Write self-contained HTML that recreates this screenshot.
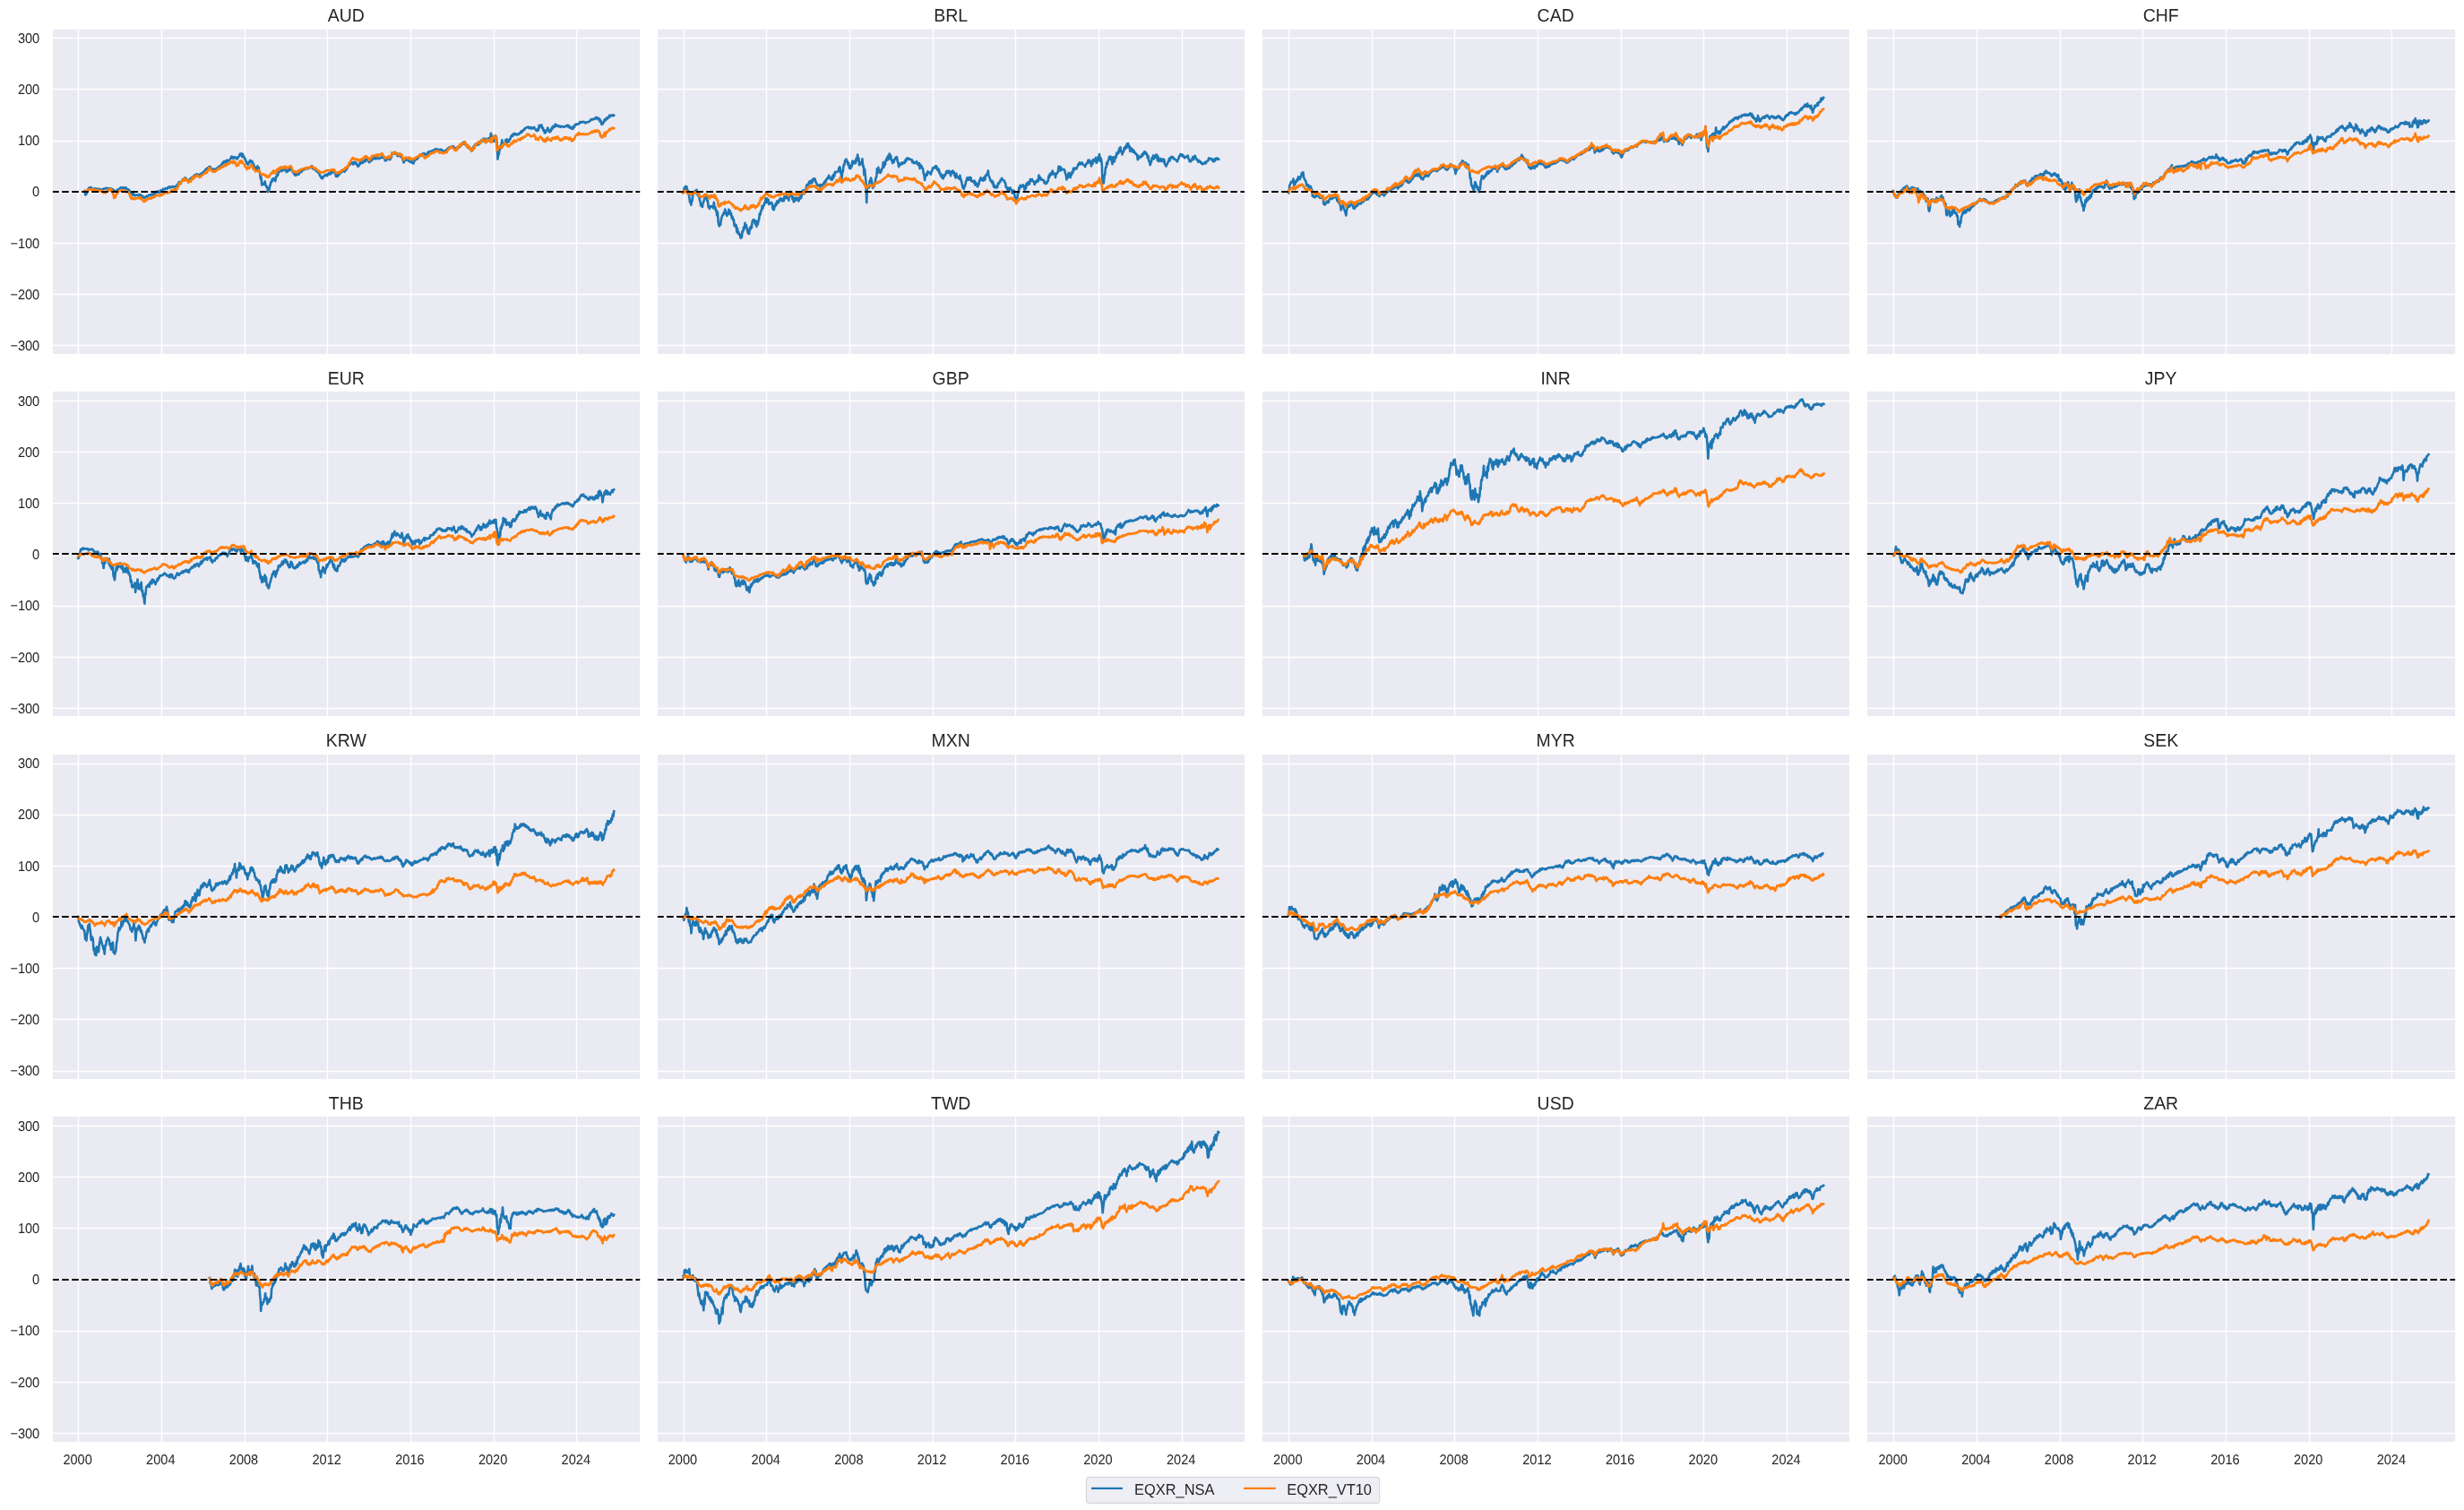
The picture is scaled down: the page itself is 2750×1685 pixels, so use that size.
<!DOCTYPE html><html><head><meta charset="utf-8"><title>chart</title><style>html,body{margin:0;padding:0;background:#fff}body{width:2750px;height:1685px;overflow:hidden}svg{display:block;will-change:transform}text{font-family:"Liberation Sans",sans-serif;fill:#262626;text-rendering:geometricPrecision}.g{stroke:#fff;stroke-width:1.39;fill:none}.z{stroke:#000;stroke-width:2.08;stroke-dasharray:7.71 3.33;stroke-dashoffset:0.9;fill:none}.b{stroke:#1f77b4;stroke-width:2.6;fill:none;stroke-linejoin:round;stroke-linecap:square}.o{stroke:#ff7f0e;stroke-width:2.6;fill:none;stroke-linejoin:round;stroke-linecap:square}.t{font-size:20.20px;text-anchor:middle}.x{font-size:15.60px;text-anchor:middle}.y{font-size:15.60px;text-anchor:end}.l{font-size:17.30px}</style></head><body>
<svg width="2750" height="1685" viewBox="0 0 2750 1685">
<rect width="2750" height="1685" fill="#fff"/>
<g>
<rect x="58.93" y="32.90" width="655.32" height="362.15" fill="#eaeaf2"/>
<path class="g" d="M87.50 32.90V395.05M180.50 32.90V395.05M273.50 32.90V395.05M365.50 32.90V395.05M458.50 32.90V395.05M551.50 32.90V395.05M643.50 32.90V395.05M58.93 42.50H714.25M58.93 99.50H714.25M58.93 157.50H714.25M58.93 214.50H714.25M58.93 271.50H714.25M58.93 328.50H714.25M58.93 385.50H714.25"/>
<clipPath id="c0"><rect x="58.93" y="32.90" width="655.32" height="362.15"/></clipPath>
<g clip-path="url(#c0)">
<path class="b" d="M94.6 213.1 l.7 4.4 .7-.6 .7-1 .8-2.8 .8-1 .7-2.3 .7 .7 .7-1.4 .7 1.4 .7-1.3 .7 1.4 .7-.1 .6 .2 .7 0 .7-.1 .7-.4 .7 .4 .7 0 .7 .3 .7-.2 .7 .5 .7-.5 .6 .4 .7 0 .7 .5 .7-.2 .7 0 .7 0 .7 0 .7-.8 .7 .1 .7-.4 .6 .2 .7-.7 .7 .5 .7-.3 .7 .4 .7-.3 .7 .4 .7-.2 .7 .6 .7-.7 .7 .6 .6 0 .7 1.2 .7-.2 .7 1.2 .7-.1 .7 .5 .7-.3 .7 0 .7-1.2 .6 .4 .7-1 .7-.2 .7-.8 .7-.4 .7-.8 .7 1.3 .7-.9 .7 .5 .7-.8 .6 1.1 .7-.6 .7 .2 .7-.7 .7 1.5 .7 .1 .7 .5 .7-.1 .7 1 .7 .6 .6 1.5 .7 .2 .7 1.4 .7-.5 .7 2.3 .7-2.2 .7 2.1 .7-.3 .7 1.2 .6-1 .7 .1 .7-.1 .7 .5 .7-.6 .7 1 .7-1.4 .7 1.5 .7-1.2 .6 1.3 .7-.2 .6 1.4 .6-.7 .7 1.4 .6 .1 .8 .1 .8-1.2 .7 0 .8-.8 .7 .8 .6-.7 .7-.4 .7-1.1 .7 .7 .7-.7 .7 .3 .7-1.1 .7 1.2 .7-1.2 .7 0 .6-.7 .7 1.4 .7-2.4 .7 .4 .7-1.4 .7 .3 .7-.7 .7 1.5 .7-.2 .7 .1 .7-2.4 .6 .7 .7-.8 .7 0 .7-1.5 .7 .6 .7-.4 .7 .1 .7-.9 .7 .3 .6-.3 .7 .4 .7-1.5 .7 .4 .7-1.2 .7 1.1 .7-1 .7 .8 .7-.7 .7 .2 .6-.7 .7 .6 .7 .2 .7 .7 .7-1.6 .7 .3 .7-.9 .7 0 .7-2 .6 .1 .7-2.2 .7 1.2 .7-.9 .7 1.5 .7-2.8 .7-.5 .7-1.7 .7 1.3 .7-2.1 .7 1.3 .6-2.2 .7 1 .7 0 .7 1.2 .7 .2 .7 1.2 .7-.4 .7 .1 .7-1.9 .7 .5 .7-2 .6 .9 .7-1.2 .7-.2 .7-1.5 .7 .4 .7-1.5 .7 1.5 .7-2.1 .7 .7 .6-.9 .7 1.5 .7-.4 .7 1.4 .7-2.3 .7 .3 .7-1.3 .7-.2 .7-.5 .6-.4 .7-.9 .7 .2 .8-1.8 .7-.6 .8-1 .7 1 .7-2 .8 .3 .7-1.6 .8 1 .7-1 .8 2.4 .8 .2 .7 .6 .7-.5 .7 1.6 .7-1.7 .7 1.7 .7-1.3 .6 0 .7-1.3 .7 0 .7-.9 .7 .1 .7-1.4 .7 1.4 .7-1.4 .7-1.2 .6-1.3 .7 .3 .7-2.1 .7 .7 .7-1.7 .7 .6 .7-.9 .7 1.4 .7-2.5 .7 1.4 .7-1.4 .6 1.2 .7-.7 .7-.5 .7-1.6 .7-.9 .7-1.8 .7 1.8 .7-.6 .7 .9 .6-1.5 .7 .9 .7-.6 .7 1.1 .7-.5 .7 1.6 .7-2 .7 .1 .7-1.5 .7-.8 .6-1.9 .7 1.4 .7-1.5 .7 3.5 .7-3.1 .7 2.4 .7 0 .7 2.9 .7 0 .7 2.7 .6 .6 .7 2.5 .7-1.1 .7 1.9 .7-2.9 .7 .5 .7-2.4 .7 2.3 .7-.9 .7-.6 .6 .9 .7 2.4 .7 .6 .7 4.6 .7-1.8 .7 1.7 .7-.3 .7 1.8 .7-4.2 .7 5 .7-3.3 .6 4.8 .7 .6 .7 6.9 .7-1.9 .7 8.9 .7-1.6 .7 1 .7 .2 .7-1.3 .7-2.3 .6 4.1 .7 .6 .7 2.1 .7-.4 .7 5.3 .7-1.9 .7-.3 .7-4.5 .6-1.3 .7-3.2 .7 0 .7-3.2 .7 1.7 .7-2.3 .7 1.2 .7 .3 .7 1.5 .7-5.1 .7 .1 .7-2.9 .6 1.3 .7-4.7 .7 1.2 .7-2.5 .7 0 .7 .4 .7 1.2 .7-.8 .7-.6 .6-.7 .7 1 .7-1.5 .7 .9 .7 .5 .7 2.2 .7-1.1 .7 .1 .7-2.4 .7 1.6 .6-3 .7 .1 .7-.9 .7 3.6 .7-.4 .7 2.2 .7 .4 .7 1.7 .7-1.4 .6 3.1 .7-1.4 .7 1.2 .7-.9 .7 0 .7-.5 .7 .4 .7-2.3 .7-.3 .7-.5 .7 .6 .6-2.4 .7 .5 .7-1.4 .7 .8 .7-1.5 .7 .8 .7-1.3 .7 .7 .7-.3 .7 .4 .6-.3 .7 0 .7-.8 .7-.2 .7-.3 .7-.1 .7-1.4 .7 3.1 .7-1.3 .7 1.6 .6-.7 .7 1.6 .7 0 .7 1.4 .7 0 .7 .9 .7-.2 .7 1.6 .7 .7 .6 2.3 .7 .2 .7 2.1 .7-1.3 .7 2.1 .7-1.5 .7-.3 .7-1.4 .7-.8 .7 .3 .7 .3 .6-1.5 .7 1.8 .7-2.2 .7 .2 .7-1.2 .7 1.6 .7-2.2 .7 1.4 .7-2.1 .7 .3 .6 .1 .7-.1 .7-.7 .7 1.8 .7 .7 .7 3.1 .7-2.4 .7 2.4 .7-.9 .7 0 .6-2 .7 .3 .7-1.5 .7-.1 .7-1.8 .7 .8 .7-1.1 .7 .2 .7-1.8 .6 2.8 .7-3.1 .7 1.3 .7-2 .7 .3 .7-3.2 .7 .1 .7-1.4 .7 .3 .7-1.3 .7-.1 .6-.8 .7 .1 .7-.6 .7 2.1 .7-2.5 .7 1.7 .6-1.8 .7 1.3 .7-.4 .6 2 .7 .8 .6 1.3 .7-1.6 .6 .3 .7-2.4 .7 .7 .7-2 .7-.2 .6-.5 .7 1.7 .7-1.9 .7 .4 .7-1.5 .8 1.2 .7-3.1 .8 .4 .7-.6 .6 2.5 .6 .1 .6 1.8 .7-1.4 .7 .5 .7-.9 .7-.3 .7-1.5 .7 .2 .7-1.3 .7-.2 .7-.6 .6 1.5 .7-1.1 .7 1 .7-2.1 .7 1.3 .7 .5 .7 .5 .7-.7 .7-.2 .6-.3 .7-.5 .7-.6 .7 .9 .7-.3 .7 .9 .7 .1 .7 2.7 .7-.7 .7 .4 .7-2.3 .6 .2 .7-.1 .7 .6 .7-1.2 .7 2 .7-2.1 .7-.5 .7-4.9 .7 1.3 .7-.8 .7-.5 .6-.9 .7 1.9 .7-.6 .7 .9 .7-.8 .7 3 .7-2 .7 1.4 .6-2 .7 2.8 .7-.2 .7 1.1 .7-1.5 .7 3.3 .7 2.1 .7 2.2 .7-3.8 .7 1.5 .6-1.1 .7 .8 .7-1.5 .7 1.2 .7-.2 .7 1.5 .7-.1 .6 .8 .7-.3 .6 .7 .7-1.2 .6 2 .7-.9 .7 1.7 .8-2.5 .7-.9 .8-1.1 .7 0 .7-.4 .7-.3 .7-1.5 .6-.3 .7-1 .7-.3 .7-1.2 .7 .8 .7-1.6 .7 .6 .7-1.4 .7 1.2 .6-1.6 .7 1.6 .7-.4 .7 .6 .7-1 .7 0 .7-1.7 .7 .7 .7-1.8 .7 .7 .7-.7 .6 .2 .7-.9 .7 .8 .7-1.2 .7 0 .7-.5 .7 0 .7-1 .7 .7 .6-.9 .7 .3 .7 .2 .7 .8 .7-.6 .7 .6 .7-.7 .7 .4 .7-.3 .7 .9 .7 .3 .6 .5 .7 .2 .7 .2 .7-.8 .7-.3 .7-.8 .7 .1 .7-1.4 .7 .2 .7-1.4 .6 .3 .7-.7 .7 .9 .7-1 .7-.1 .7-1 .7 1.2 .7-.4 .7 2.6 .6-1.2 .7 1.1 .7-.8 .7 .2 .7-1.2 .7 1 .7-1.9 .7 .4 .7-1.3 .7 .5 .7-2.3 .6 .1 .7-1.5 .7 1.1 .7-2.1 .7 2.5 .7-2 .7 2.4 .7-.4 .7 2.1 .6 .3 .7 1.6 .7-1.5 .7 1.9 .7 .2 .7 1.4 .7 .6 .7 1.1 .7-3.5 .7 .2 .7-1.9 .6 1.8 .7-3.6 .7 .7 .7-2.1 .7 1.6 .7-1.1 .7 .9 .7-1 .7 .1 .6-2 .7 .6 .7-2.6 .7 1 .7-2 .7 1.5 .7-2.8 .7 2.7 .7-1.4 .7 3.1 .6-4.1 .7 2.2 .7-.9 .7 .1 .7-1.8 .7 2.9 .7-3.6 .7 .8 .7-5.8 .7 2.5 .6 .9 .7 2.6 .7-2.3 .7 5.6 .7-6.3 .7-.4 .7 .4 .7 2.2 .7 8.9 .7 14.8 .7-5.6 .6 .4 .7-6.3 .7 .2 .7-3.7 .7-1.7 .7-4.7 .7 5.3 .7-1.1 .7 1.3 .6-2 .7 0 .7-3.7 .7 4.1 .7-4.5 .7 3.1 .7-1 .7 .4 .7-2.9 .7 .4 .7-2.4 .6-1.4 .7-1 .7 1.1 .7-2.3 .7 .3 .7-1 .7 1.6 .7-1.2 .6 .7 .7 .1 .7 .3 .7-1 .7 .4 .7-.8 .7-.3 .7-1.5 .7 .8 .7-2 .7 .9 .6-1.6 .7 .2 .7-1.6 .7 .2 .7-1.4 .7 0 .7-.7 .7 .2 .7-.5 .7 1.3 .6-1.2 .7 1.3 .7-.9 .7 1 .7-.9 .7 1.3 .7-.9 .7-.3 .7-.6 .6 1.8 .7 .6 .7 1.2 .7 .3 .7 .4 .7-2.6 .7 1.7 .7-5.3 .7 1.2 .7-1 .6 1.2 .7-1.9 .7 3.5 .7-.5 .7 3.2 .7-.4 .7 3.3 .7-2.7 .7 1.9 .7-1.8 .6-.6 .7-2.8 .7 2.6 .7 0 .7 2.3 .7-1.5 .7 .4 .7-3.2 .7 1 .7-3.2 .6 1.5 .7-.8 .7 .1 .7-2.9 .7 2 .7-1.6 .7 .8 .7 .5 .7 .7 .7-.7 .7 .8 .6-.4 .7 .9 .7-.7 .7 .1 .7-.3 .7 .6 .7-.3 .7 .6 .7-.6 .6-.2 .7-.8 .7 .5 .7-1 .7 1.7 .7-1.3 .7 2.3 .7-.7 .7 1.3 .7-1.1 .7 2 .6-.3 .7 .1 .7-3 .7 1.2 .7-2.5 .7-.1 .7-.9 .7 .8 .7-.4 .6-.2 .7-.5 .7-.1 .7-2 .7 .6 .7-.3 .7 .1 .7-.6 .7 .6 .7-.5 .6 .4 .7 0 .7 1.1 .7-.9 .7 .1 .7-.4 .7 .1 .7-.4 .7-.2 .7-.9 .6-.2 .7-1.4 .7 .5 .7-.7 .7 .4 .7-.6 .7-.4 .7-.1 .7 .5 .6-1.9 .7 .2 .7 .2 .7 1.3 .7-.8 .7 2.3 .7-1.2 .7 3.2 .7-1.2 .7 4 .7-.2 .6-.3 .7-2 .7-.4 .7-2.8 .7 1.4 .7-2.1 .7 .6 .7-2 .7 1.1 .7-.9 .6-.2 .7-2.5 .7 1.3 .7-1.1 .7 .3 .7-.5 .7 .5 .7-.9 .7 .5"/>
<path class="o" d="M94.6 213.3 l.7 .3 .8-1 .7 .4 .7-.5 .8-.3 .7-.6 .7-.1 .7-.4 .7 .3 .7-.4 .7 0 .7 .2 .6 .8 .7-.4 .7 .2 .7-.4 .7 .6 .7 0 .7 .6 .7-.4 .7 1.3 .7-.8 .6 .8 .7-1.1 .7 .9 .7-.6 .7 .9 .7-.8 .7 1.7 .7 .6 .7-.6 .7-.5 .6 1.4 .7-1.6 .7-.9 .7-.6 .7 .2 .7-1.2 .7 1.1 .7-.6 .7 1 .7-2.1 .7 2.4 .6-.4 .7 3.2 .7 1.1 .7 3.9 .7-3 .7 2.6 .7-3 .7-.7 .7-1.6 .6-.1 .7-.8 .7-1 .7-.7 .7 .2 .7-.1 .7 .7 .7-.5 .7 .4 .7-.7 .6 .9 .7-1.1 .7 1.5 .7-.3 .7 .7 .7-.3 .7 .3 .7-.1 .7 1.4 .7 1.1 .6 2.2 .7 1.5 .7 1.5 .7-1.4 .7 1.6 .7-.8 .7 .9 .7-.7 .7 .7 .6-.7 .7-.1 .7 0 .7-.8 .7 .2 .7 .5 .7-1.2 .7 1.3 .7-1.3 .6 2.3 .7-.4 .6 .7 .6 0 .7 2.2 .6 .2 .8-.3 .8-1.9 .7 .9 .8-1.5 .7 .2 .6-.8 .7 .3 .7-.9 .7 .7 .7-.6 .7 .4 .7-1.4 .7 .7 .7-.3 .7 0 .6-1.4 .7 .5 .7-1.4 .7 .3 .7-.7 .7 .1 .7-.2 .7 .6 .7 .1 .7 0 .7-1.2 .6 .8 .7-1.3 .7 .3 .7-.9 .7 .5 .7-1.4 .7 .1 .7-1.2 .7 .5 .6-.6 .7 1.6 .7-.7 .7 .1 .7-.4 .7 .2 .7-1.4 .7 .2 .7-1.6 .7 1.1 .6-1.2 .7 1.5 .7-1.6 .7 .4 .7-1.7 .7 1.8 .7-1.1 .7-.4 .7-2.3 .6-.1 .7-3.6 .7 .8 .7-2.2 .7 .8 .7-1.5 .7-1.1 .7-1.3 .7 1.1 .7-2.2 .7 2.2 .6-1.9 .7 .6 .7-.3 .7 1.6 .7-.2 .7 2.4 .7-.6 .7-.3 .7-1.5 .7 1.4 .7-1.8 .6-.8 .7-2.4 .7 2.3 .7-1.6 .7-.2 .7-1.9 .7 .9 .7-.9 .7 .1 .6-.7 .7 .7 .7 .3 .7 1.3 .7-1 .7 .7 .7-1.7 .7-.2 .7-.9 .6-.2 .7-.4 .7-.5 .8-1 .7 .6 .8-2.1 .7 1.3 .7-2.6 .8 .2 .7-3 .8 1 .7-.4 .8 2.5 .8-.2 .7 1.4 .7-.7 .7 .8 .7-.8 .7 1.2 .7-1.6 .6-.1 .7-.4 .7 .2 .7-1.7 .7 .3 .7-.8 .7 .6 .7-1.3 .7 0 .6-1.3 .7 .9 .7-1.2 .7 .4 .7-1.1 .7-.8 .7-.8 .7 1.8 .7-1.6 .7-.5 .7-.3 .6 .5 .7-1 .7-.1 .7-2.2 .7 1.2 .7-.3 .7 .8 .7-1.6 .7 2.2 .6-2.7 .7 2.8 .7-1.7 .7 1.4 .7 3.2 .7-.4 .7-.8 .7 .5 .7-3.3 .7 .7 .6-2.7 .7 2.3 .7-2.2 .7 2 .7-.6 .7 2 .7 .1 .7 .8 .7 2.5 .7 .8 .6 0 .7 2.1 .7-2.2 .7 .8 .7-.5 .7 .6 .7-1.8 .7-.1 .7-1.9 .7 1.7 .6-.6 .7 3.7 .7-1.1 .7 1.4 .7 1.3 .7 1.2 .7-.9 .7 0 .7 .3 .7 .1 .7-1.2 .6 1.4 .7 .6 .7 1.6 .7 .5 .7 1.4 .7-.4 .7-.1 .7-.6 .7 1.1 .6-.3 .7 1.5 .7-1 .7 2 .7-1.1 .7 1.3 .7 .1 .7-.6 .7-2.1 .6-.4 .7-1.3 .7 .1 .7-1.3 .7 .9 .7-2.8 .7 2 .7 .3 .7 .7 .7-2.8 .7 1.6 .7-3.3 .6 .6 .7-1.2 .7 1.5 .7-2.5 .7 .5 .7-1.4 .7 1.1 .7-.9 .7 .9 .6-.5 .7 .8 .7-2 .7 .5 .7-.3 .7 1.3 .7-.1 .7 .5 .7-1.2 .7-.2 .6-.2 .7-.5 .7-.4 .7 1.5 .7 1.9 .7 2 .7 .6 .7 1 .7-.8 .6 .2 .7 0 .7 .9 .7-.5 .7 0 .7-1.7 .7 1.2 .7-.9 .7-.6 .7-1.2 .7 .2 .6-.1 .7 0 .7-.2 .7-.2 .7-.4 .7 .3 .7-.7 .7 .2 .7-1 .7 1.1 .6-.6 .7-.1 .7-.8 .7 .2 .7-.5 .7 .8 .7-.9 .7 .5 .7-.2 .7 1 .6-.3 .7 .9 .7-.4 .7 1.8 .7-.1 .7 .6 .7 .2 .7 1.2 .7-.4 .6 1.1 .7-.1 .7 .9 .7-.5 .7 .3 .7-.1 .7-.2 .7-1 .7 .2 .7-.8 .7-.1 .6-.3 .7 0 .7-.2 .7 .4 .7-.1 .7 .2 .7-.9 .7 .4 .7-.8 .7 .8 .6-.7 .7 .9 .7-1 .7 1.9 .7 .8 .7 1.3 .7-.5 .7 .4 .7-1.1 .7 1.2 .6-1.3 .7 .5 .7-1.2 .7 .4 .7-1.4 .7 0 .7-1.1 .7 .4 .7-.8 .6 .4 .7-2.1 .7 .6 .7-.9 .7 0 .7-1.5 .7 .5 .7-3.8 .7 0 .7-1.6 .7-.4 .6-2 .7-.1 .7-1.8 .7 1.6 .7-.9 .7 .8 .6 .2 .7 .5 .7-1 .6 1.1 .7 .1 .6 .7 .7-1.1 .6 1.7 .7-1 .7 0 .7-1.1 .7 .5 .6-.8 .7 .6 .7-2 .7 .2 .7-1.5 .8 .6 .7-1.2 .8 1.7 .7-.4 .6 1.2 .6-.2 .6 2.5 .7-1.3 .7 .3 .7-2.1 .7 .2 .7-2.2 .7 .4 .7-.2 .7-.1 .7-.5 .6-.2 .7-.1 .7 1.1 .7-1.7 .7 .5 .7 .1 .7 .6 .7-1.4 .7 .8 .6-.3 .7-.1 .7-1.7 .7 2.1 .7 .7 .7 1.2 .7 .2 .7 1.3 .7-.5 .7 .4 .7-.7 .6 0 .7-1.3 .7 1.8 .7-.8 .7 .6 .7-2.4 .7 0 .7-3.3 .7 1.6 .7-1.1 .7 .3 .6-1.2 .7 .6 .7-.5 .7 1.8 .7-.2 .7 .8 .7 .1 .7 .5 .6-1.1 .7 1.3 .7-1.2 .7 1.2 .7-.4 .7 3.5 .7 .5 .7 1.8 .7-1.4 .7 0 .6-1.6 .7 .3 .7 .1 .7 .6 .7-.5 .7 .5 .7-1.2 .6 1.7 .7-.7 .6 1.7 .7-1.1 .6 .9 .7-.2 .7 .3 .8-1 .7 .2 .8-1.3 .7 0 .7-.7 .7 .1 .7-.8 .6 .1 .7-1.5 .7 1 .7-1.8 .7 .7 .7-.4 .7 .9 .7-.6 .7 2 .7-.1 .6 1.9 .7-1 .7 .5 .7-1.8 .7 .2 .7-.2 .7-.4 .7-1 .7-.3 .7-1.3 .6 .1 .7-.9 .7 .5 .7-.7 .7 .1 .7-.8 .7 .8 .7-1.4 .7-.4 .6-.1 .7 .2 .7-.1 .7 .8 .7-.2 .7 1.5 .7-.7 .7 .5 .7-.7 .7 .7 .7 .1 .6 .7 .7-.9 .7-.1 .7-.4 .7 .5 .7-.5 .7 .1 .7-2.8 .7 .2 .7-1.1 .6-.7 .7-.6 .7-.3 .7-1.4 .7 1.4 .7-.1 .7 .7 .7 .8 .7 1.4 .6-.6 .7 1.3 .7-1.4 .7 .7 .7-3.6 .7 1.4 .7-2.1 .7 .4 .7-2.5 .7 1.2 .7-1.9 .6 1.3 .7-.8 .7-.7 .7-.7 .7 .5 .7-2 .7 2.8 .7 .6 .7 2.2 .6-1.6 .7 2.3 .7-1.6 .7 3 .7-1.4 .7 2.8 .7-.9 .7 2.1 .7-.6 .7-.2 .7-3 .6 1.5 .7-3 .7-.8 .7-1 .7-.6 .7-.9 .7 .4 .7-1.9 .7 1.7 .6-.7 .7 .8 .7-2.2 .7-.3 .7-1.5 .7-.1 .7-.3 .7 .7 .7 1.4 .7 1.3 .6-1.3 .7 1.2 .7-3.1 .7 1.7 .7-1 .7 .2 .7-.3 .7 1.9 .7-4 .7 4.6 .6-4.6 .7 1.2 .7-3.1 .7 1.3 .7-1.9 .7 1.1 .7-.8 .7 8.5 .7 6.9 .7 0 .6-2 .7-.5 .7-1.8 .7 1.2 .7-.6 .7 1.6 .7-3.2 .7 1.8 .7-2.6 .6 .3 .7-2.2 .7 .2 .7 .6 .7 1 .7 0 .7 1.9 .7-1 .7 1.3 .7-1.2 .6-.1 .7-1.5 .7-.4 .7-1.3 .7 1.3 .7-2.6 .7 1 .7-2.1 .7 1.6 .7 0 .7-.4 .7-1.1 .6-.5 .7-.7 .7 .7 .7-.6 .7 1 .7-2.3 .7 .9 .7-1.1 .7 .4 .6-1.6 .7 .6 .7-1 .7 .3 .7-.8 .7-.5 .7-1.7 .7 .7 .7-.9 .7 .6 .6 .1 .7 .5 .7 1.2 .7 .5 .7-.8 .7 .1 .7-.3 .7 .2 .7-1.6 .6 2 .6-.1 .6 3.7 .7-.5 .7-.1 .7-.8 .8 2.1 .7-2.5 .7 0 .8-1.6 .6 1.2 .7 .2 .7 2.2 .7-.9 .7 2.4 .7-.9 .7 1.6 .7-2.6 .7 2.3 .7-3.5 .6 .7 .7-1.5 .7 2.6 .7-.4 .7 .2 .7 .1 .7 1.1 .7-2.5 .7 1 .7-1.7 .6 .9 .7-1.3 .7 .8 .7-1.2 .7 2 .7-1.8 .7 0 .7-1 .7 2 .7-.1 .6 2 .7 0 .7 .7 .7-1.6 .7 1.1 .7-1 .7 .1 .7-2 .7 1 .7-1.3 .6 1.5 .7-1.5 .7 1.3 .7-.8 .7 1 .7-.6 .7 1.9 .7-2.4 .7 1.8 .7-.4 .7 2.7 .6-.6 .7-.4 .7-1.6 .7 .3 .7-2.4 .7-1.5 .7-.9 .7 .1 .7-1.2 .6 .9 .7-2.4 .7 2.3 .7-1 .7 .2 .7-.3 .7 .9 .7-.5 .7 0 .7-.2 .6 .8 .7-.4 .7 .1 .7-.4 .7 .5 .7-.5 .7 .4 .7-.6 .7-.1 .7-.8 .6 .2 .7-1 .7-.6 .7-.6 .7 1.5 .7-.9 .7 .2 .7-1.7 .7 1.1 .6-.5 .7 .5 .7-1.3 .7 1.4 .7-.8 .7 .9 .7 .6 .7 4.5 .7-.8 .7 2.3 .7-.7 .6 .5 .7-2.4 .7-.4 .7-2.6 .7 4.3 .7-2.8 .7-.8 .7-1.9 .7 .1 .7-1 .6-.1 .7-1.8 .7 1.4 .7-1.5 .7-.1 .7-1 .7 .8 .7-.5 .7 .3"/>
</g>
<path class="z" d="M58.93 214.00H714.25"/>
<text class="t" transform="translate(386.29 24.00) scale(0.964 1)">AUD</text>
<text class="y" transform="translate(44.23 390.91) scale(0.935 1)">−300</text>
<text class="y" transform="translate(44.23 333.75) scale(0.935 1)">−200</text>
<text class="y" transform="translate(44.23 276.59) scale(0.935 1)">−100</text>
<text class="y" transform="translate(44.23 219.43) scale(0.935 1)">0</text>
<text class="y" transform="translate(44.23 162.27) scale(0.935 1)">100</text>
<text class="y" transform="translate(44.23 105.11) scale(0.935 1)">200</text>
<text class="y" transform="translate(44.23 47.95) scale(0.935 1)">300</text>
</g>
<g>
<rect x="733.95" y="32.90" width="655.05" height="362.15" fill="#eaeaf2"/>
<path class="g" d="M763.50 32.90V395.05M855.50 32.90V395.05M948.50 32.90V395.05M1041.50 32.90V395.05M1133.50 32.90V395.05M1226.50 32.90V395.05M1319.50 32.90V395.05M733.95 42.50H1389.00M733.95 99.50H1389.00M733.95 157.50H1389.00M733.95 214.50H1389.00M733.95 271.50H1389.00M733.95 328.50H1389.00M733.95 385.50H1389.00"/>
<clipPath id="c1"><rect x="733.95" y="32.90" width="655.05" height="362.15"/></clipPath>
<g clip-path="url(#c1)">
<path class="b" d="M762.3 214.9 l.7-1 .7-4.4 .7 1.7 .7-3.3 .6 .4 .7-.1 .7 7.2 .7-3 .7 3.3 .8 4.3 .8 5.9 .6-2.1 .6 5.1 .7-4 .6-.8 .7-7.9 .7 0 .7-2 .7 .8 .7-2.2 .7 .9 .7-1.9 .7 5.4 .6 .1 .7 1.6 .7-2.5 .7 6.9 .7 2 .7 4.3 .8 0 .9 1.3 .5-4.4 .6-.8 .6-2.3 .7-1.9 .7-4.5 .7 3.4 .7-2.2 .7 6 .7-.4 .7 7.4 .7-.3 .6 2.1 .7-3 .7 .3 .7 .3 .7-.4 .7-.2 .7 2.4 .7-6.6 .7 5.8 .7-.6 .7 4 .6-.6 .7 6 .7-3.8 .7 10.8 .7 3.8 .6 1.2 .6-3.5 .6 1.9 .8-6.3 .9-2.9 .6-1.6 .7-.3 .7-2.7 .7 1.1 .7-4.6 .7 2.6 .7 2.9 .7 1.9 .7-1.8 .6 .1 .7-5.5 .7 1.9 .7-.3 .7 4.3 .7-1.4 .7 5.3 .7-1.7 .7 4.1 .7-1.1 .7 7.1 .6-2 .7 3 .7-1.8 .7 7.7 .7-4.2 .7 6.1 .7-1.5 .7 2.7 .7-.3 .7 4 .6-.2 .7-.6 .7-6.8 .7 .8 .8-5.3 .7 1.8 .8-6.5 .7 3.2 .7-.8 .6 3.3 .6 2.6 .7 3.3 .6-2.2 .7 2.8 .7-6.6 .7 1.5 .7-3.3 .7 1.6 .7-6.9 .6-1.2 .7-1.1 .7 .2 .7 2.6 .7 2.2 .7-3.4 .7 6.3 .7-5.2 .7 2.6 .7-4.5 .6-.7 .7-6.7 .7 1.5 .7-4.5 .7-.4 .7-5.1 .7 2.7 .7-3.3 .7-.1 .7-3.4 .6-.3 .7-4.3 .7 5 .7-4.6 .7 3.7 .7-2.8 .7 5.5 .7-1.1 .7 .3 .7-1 .6-.3 .8 1.1 .8 6.2 .8 .8 .6 .1 .6-4.5 .7 .4 .6-2.9 .7 1.7 .7-4.3 .7 2.3 .6-2.6 .7 1.7 .7-3.7 .7 1 .7-1.8 .7 2.3 .7-1.8 .7 2.6 .7-2.6 .7 2.3 .6-5 .7 .3 .7-.3 .7 2 .7-2.7 .7 2.3 .7-.2 .7 3.2 .7-6.8 .6 1.7 .7-5 .7 4.3 .7-1.7 .7 6 .7-2 .7 5.1 .7-4.7 .7 3.6 .7-.9 .6-2.1 .7-.6 .7 2.2 .7-1.9 .7 3.4 .7-2.1 .7-.5 .7-3.2 .7 2.4 .7-4.1 .6 0 .7-4.5 .7 2.4 .7 1.6 .7-1.1 .7-4.2 .7 .6 .7-5.3 .7 .1 .7-1.1 .6 1.7 .7-4.2 .7 1.3 .7-2.3 .7 2.6 .7-2.8 .7 2 .7-3.9 .8 1.4 .7-2 .8 .5 .6 2 .7 2.5 .6 .3 .6 2 .7 .1 .7 .3 .7-.3 .7 1.7 .7-2.2 .6 1.4 .7-1 .7 .9 .7-1.6 .7-.1 .7-2 .7 1.2 .7-3 .7 .8 .6-2.6 .7-.1 .7-1.8 .7 .6 .7-3 .7 2.4 .7-.3 .7 2.2 .7-1.1 .7 1.9 .6-4.5 .7 2.3 .7-4.3 .7 2 .7-4.6 .7 .3 .7 .1 .7-.3 .7-.3 .7-.3 .7-3.3 .7-1.7 .6 .3 .6 6.3 .6-2.5 .6 10.4 .8-8.2 .7-1.4 .8-7.1 .8 0 .7-5 .6 1.7 .7-3.3 .7 2.2 .7 .6 .7 3.7 .7-2.2 .7 5.8 .7-2.3 .7 2.9 .7-3.4 .6 1.1 .7-6 .7 3.2 .7-3.3 .7 2.2 .7-1.4 .7 1.6 .8-5.5 .8 2.3 .7-6.5 .7 4.9 .6-.9 .6 7.8 .7-3 .6 2 .7-1.8 .7 1.1 .7-5.2 .7 8.3 .7-.5 .6 10.1 .7-6.5 .7 7.7 .7 6.8 .7 22.6 .7-18.5 .7 1.2 .7-1.5 .6 2.4 .7-7.6 .7 1.3 .7-4.7 .7 2.6 .7 3.7 .7 4.9 .7-2 .7 .3 .7-2.7 .6-2.1 .7-5.1 .7-.4 .7-9.5 .7 4.7 .7-6.1 .7 4.9 .7-1.7 .7 3 .7-.8 .7-2.4 .7-2 .6-.1 .7-6.7 .7 5.5 .7-4.9 .7 2.2 .7-5 .7-.2 .7-2.7 .6 2.7 .7-4.8 .7 3.6 .7-5.9 .7 5.7 .7-3.7 .7 4.7 .7 1.1 .7 2.8 .7-3.4 .7 2.2 .6-3 .7-.4 .7-1.8 .7 1.7 .7-2.2 .7 4.9 .7 1.5 .7 4.5 .7-3.5 .7 1.5 .6-.8 .7 .1 .7-2 .7 1.4 .7-1 .7 .4 .7-1.7 .7 1.1 .7-3.3 .7 1.2 .6-2.9 .7 .5 .7-.6 .7 1.5 .7-.9 .7 .5 .7 .3 .7 .4 .7-.3 .7 3.1 .7-1.3 .6 2.2 .7-.4 .7 .5 .7-1 .7 .1 .7-1.1 .7 3.1 .7 .1 .7 .9 .7-2.2 .6 6 .7-4.2 .7 2.1 .7-.5 .7 2.6 .7 .3 .7 4.9 .7 2 .7 5.8 .6-4.2 .7-1.6 .7-1.6 .7 1.9 .7-4.2 .7 1.2 .7-.3 .7 .7 .7 .6 .6 1.1 .7-3.2 .7-.8 .7-3 .7-.5 .7-.3 .7 .7 .7-1.8 .7-.6 .7 .5 .7 3.6 .6-1.5 .7 3.1 .7-1.9 .7 4.6 .7-.4 .7 3.3 .7-1.6 .7 3.8 .7 0 .7 .7 .6-4.1 .7 1.4 .7-.9 .7-1.3 .7-3 .7-.4 .7-.2 .7 2.2 .7-2.3 .6 .9 .7-.2 .7 4.9 .7-3.9 .7 .3 .7-2.1 .7 2.3 .7-1.3 .7 4.1 .7-1.2 .6 4 .7-5 .7 2.7 .7 1.1 .7 1 .7-.4 .7 1.8 .7-4 .7 4.5 .6 .5 .7 3.2 .6 3.1 .6 2.7 .6-.7 .7 1.9 .7-4.1 .7 .3 .7-4.5 .7-1 .7-3.3 .7 2.5 .6-2.3 .7 2.1 .7-2.9 .7 3.1 .7-2.5 .7 4 .7-.3 .7 .6 .7-.7 .6 1.8 .7-1.9 .7 4.6 .7-2.8 .7 3 .7-1.1 .7 3 .7-3.8 .7 .9 .7-4.6 .6 .2 .7-3 .7 2.4 .7-.6 .7 1.6 .7-2.9 .7 2.6 .7-3.8 .7 3.1 .6-4.9 .7 .1 .7-1.8 .7 0 .7-3.5 .7 5.8 .7 .9 .7 2.4 .7 2.4 .7 .5 .7-.9 .6 3.1 .7-1.7 .7 5.5 .7-1.5 .7 2.3 .7-1.5 .7 .6 .7 1 .7-.5 .6-4 .7 .4 .7-2 .7 .2 .7-2.4 .7 .2 .7-2.5 .7 1.3 .7 .6 .7 .7 .7 .2 .6 2 .7 .5 .7 4.9 .7-.3 .7 2.6 .7-1.2 .7 3 .7-3.6 .7 1.3 .7-1.2 .7 2.3 .6 .2 .7 3.5 .7-2.6 .7 2.6 .7-3 .8 7.4 .7 .3 .8 1.3 .7 .7 .7-1.3 .6-7 .6 1 .6-6 .7 1.7 .7-4 .7 1.4 .7-.8 .7 1.2 .7-2 .6-.1 .7 1.1 .7 4.3 .7-2.2 .7 .9 .7-5.5 .7 1.9 .7-3.4 .7 2.5 .7-2.6 .6 1.9 .7-5.2 .7 2 .7-.5 .7-1.6 .7 2.2 .7 .1 .7 .4 .7 3.3 .7-1.7 .6-.5 .7-2 .7 1.1 .7-2.1 .7 1.6 .7-6.8 .7 3.5 .7-1.4 .7 2.8 .6-1.3 .7 1.4 .7 0 .7 .8 .7-.4 .7 3.3 .7-1 .7 1.8 .7-1.8 .7 1.2 .6-2.3 .7-.2 .7-5.7 .7 1.7 .7-3.9 .7 1.4 .7-2.5 .7 1.8 .7-4.2 .7 3.5 .7-1.3 .6 1.4 .7-.3 .7 4.2 .7-4.3 .7 .2 .7-1.6 .7-.3 .7-6.4 .7 4.4 .6-4.1 .7 4.4 .7-3.7 .7 3 .7-.9 .7 .4 .7-.1 .7 0 .7 1.3 .7 3.5 .7 1.7 .6 4.8 .7-4.7 .7 2.5 .7-5 .7-.3 .7 .8 .7 4.4 .7-2.5 .7-.7 .6-3.3 .7 1.1 .7-4.9 .7 2.1 .7-2.3 .7 .9 .7-.8 .7 .6 .7-2 .7-1.3 .6-1.8 .7 .2 .7-2.1 .7 2 .7-1.4 .7 .8 .7-1.4 .7 2.2 .7 .2 .7 .5 .6 0 .7 1.9 .7-2.2 .7-1.3 .7-.2 .7-1.5 .7-2.2 .7 2.8 .7-2.8 .7 3 .7 .3 .6 3.4 .7-5.3 .7 2.6 .7-4.7 .7 1.6 .7 0 .7-.4 .7-3.2 .7 5.8 .6-.4 .7-2.1 .7-4.3 .7 1.9 .7-4.8 .7 7.5 .7-3.3 .7 1.9 .7 4.8 .6 18.5 .7 2.5 .7 .4 .7-7.7 .7-2.2 .7-7.4 .7-.1 .7-5.5 .7 1.9 .7-4.1 .7-1.2 .6-3 .7 2.5 .7-3.1 .7 3.7 .7 1.2 .7 3.8 .7-8 .7 4.3 .7 1 .6-2.6 .7-3.5 .7 1.4 .7-5 .7 1.4 .7-2.6 .7 1.2 .7-4.8 .7-.8 .7-1 .6 5.1 .7-.5 .7 3.6 .7-2.5 .8-.6 .7-4.3 .7 1.7 .8-3.4 .7 1.9 .8-4.6 .7 3.3 .7-3.9 .8 3.9 .7-.7 .7 5.8 .8-4 .7 1.5 .7-.2 .8 3.4 .7-2.3 .6 2.5 .7-.5 .7 2 .7-.2 .7 1.1 .7 1.1 .7 4.9 .7-4.6 .7 3 .7-1 .6-.6 .7-.6 .7 .7 .7-2.9 .7 1.4 .7-3 .7 1.2 .7-2.8 .7 .8 .6 .2 .7 2 .7-.2 .7 4.4 .7-2.2 .7 5.8 .7-.1 .7 4.3 .7-2.5 .7-.8 .6-4.6 .7 .9 .7-3.5 .7 3.8 .7-1.3 .7-.4 .7-2.9 .7-.1 .7 .1 .7 6.4 .6-4.5 .7 5.4 .7-1.4 .7 .5 .7-2.2 .7 3 .7-2.2 .7 .8 .7-1.1 .7 3.2 .6-2.6 .7 5.4 .7 .2 .7 1.9 .7-1.8 .7-.8 .7-2.5 .7-.6 .7-3 .7 2.5 .6-3.6 .7 .2 .7-1.2 .7 1.3 .7-.9 .7 1.9 .7-.2 .7 .9 .7 .4 .7 .4 .7 .5 .6 1.3 .7-2.3 .7-.7 .7-3 .7 .1 .7-2.4 .7 1.2 .7-1 .7 1.7 .6-1.1 .7 2.1 .7-.7 .7 1.9 .7-1.1 .7 .4 .7-.7 .7-.2 .7-1 .7 3 .7 1.2 .6 2.4 .7-1.4 .7 1.3 .7-1.5 .7-1.2 .7-2.1 .7 2.9 .7-3.7 .6 1.4 .7-2 .7 3 .7 .2 .7 1.6 .7-.2 .7 2.3 .7-1.8 .7 1.3 .7-.2 .7 1.7 .7-.4 .6 1.4 .7 .4 .7-.1 .7-1 .7 0 .7-1.3 .7 1.5 .7-1.8 .6-.4 .7-.4 .7-.3 .7-3 .7 1 .7-.5 .7 .1 .7 .1 .7 1.5 .7-.8 .7 2.4 .7-.4 .6 .2 .7-2.9 .7 1.5 .7-1.8 .7 .3 .7-.7 .7 1.4 .7 .1"/>
<path class="o" d="M762.3 215.2 l.7 .2 .7-2.8 .7 1.4 .7-.6 .6-.1 .7-.1 .7 1.7 .7-.2 .7 .9 .7 0 .7 1.4 .7-.7 .7 1.1 .6-2.4 .7 .5 .7-.8 .7 .8 .7-.9 .7 .2 .7 .3 .7 .7 .7-1 .7 .8 .7 .1 .6 1.5 .7 1.2 .7 .4 .7 .2 .7 1 .7-.7 .7 .3 .7-.9 .7-.1 .7-.9 .6 1.1 .7-2 .7 .2 .7 .1 .7 1.3 .7-.3 .7 1.3 .7 .2 .6 2 .7-3.1 .7 .6 .7-1.2 .7 1.8 .7-1 .7 1.3 .7-2.5 .7 3.3 .7-2.9 .7 3.7 .6-.8 .7 2.4 .7 0 .7 5.7 .7 1.7 .7-.4 .7-2.1 .7 1.3 .7-2.5 .7 .7 .6-.9 .7 .2 .7-.9 .7 2 .7-3 .7 1.5 .7-.5 .7 .5 .7-.8 .6 0 .7-.9 .7 1.2 .7-.2 .7 .9 .7 .5 .7 1 .7-.3 .7 2.2 .7-.6 .6 1.8 .7-.4 .7 1.9 .8-1.2 .7 1.1 .7-1.2 .7 1.6 .8 .6 .7 .4 .7-.6 .7 1.7 .7-.6 .7-.6 .7-1 .7 .3 .7-2.1 .7 .5 .6-2.8 .7 1.6 .7 .1 .6 2.6 .6-1 .7 1.5 .6-.5 .7-.1 .7-2.2 .7 1 .7-2.5 .7 1.9 .7-2.2 .7 .9 .6-1.2 .7 2.1 .7-1.2 .7 2.5 .7-1.6 .7 .2 .7-1 .7 .2 .7-2.9 .6 1.2 .7-3 .7-1.3 .7-3.5 .7 2.1 .7-1.2 .7 .1 .7-2.8 .7 1.3 .7-1.8 .7-.9 .6-1.9 .7 .1 .7-.1 .7 1.9 .7-.1 .7 1.4 .7-.7 .7 1.3 .7-.4 .6 1.1 .7-.8 .7 .9 .7-.3 .7 .6 .7-.9 .7-.4 .7-.9 .7 .2 .7-.6 .6 .1 .7-.5 .7 1.1 .7-1.5 .7 .5 .7-1 .7 .7 .7-.5 .7 .2 .7-.6 .7 .4 .6-.3 .7 .2 .7-.3 .7 0 .7-.4 .7 1.6 .7 .1 .7 1 .7-1.2 .6-.8 .7-1.3 .7 .2 .7 0 .7 1.2 .7-.6 .7 1.2 .7-.4 .7 .3 .7 .8 .6-.1 .7-1.6 .7 .5 .7-.1 .7 1.2 .7-2 .7 .4 .7-1.7 .7 .9 .7-1 .6 .5 .7 .6 .7 .7 .7-2.1 .7 .4 .7-1.8 .7 .1 .7-1.4 .7 0 .7-2.5 .6 .7 .7-1.5 .7 0 .7-.2 .7 .8 .7-1.8 .7 1.2 .7-.6 .8 .6 .7-.8 .8 1 .6-.7 .7 1.8 .6-.6 .6 1.5 .7 .6 .7 1.1 .7-.5 .7 .9 .7-1.7 .6 .5 .7-1.4 .7 1.6 .7-1.8 .7-.9 .7 0 .7 0 .7-1.3 .7 .1 .6-2.1 .7 .8 .7-.7 .7 .5 .7-.7 .7 .5 .7-.3 .7 .6 .7-.6 .7 1.6 .6-1.1 .7 1 .7-2.1 .7 .2 .7-1.4 .7-.2 .7-2.3 .7 .9 .7-1.2 .7 2 .6-1.9 .7-.7 .7-2.2 .6 3.6 .6 1.2 .6 1 .8-2.5 .7 1.4 .8-2.2 .7 .7 .8-2.3 .6 1 .7-1.5 .7 2.4 .7-1 .7 .4 .7-.9 .7 1.9 .7-.3 .7 .8 .7-.6 .6 0 .7-1.6 .7 1.3 .7-1.6 .7 1.1 .7-.9 .7-.4 .8-3.4 .8 1.8 .7-1.9 .7 1.2 .6-.3 .7 1.9 .6-1 .6 3.4 .7-.1 .7 1.5 .7-.7 .7 2.1 .7 .5 .6 1.8 .7 .1 .7 2.7 .7-1.4 .7 2.5 .7-1.8 .7 .5 .7-1.5 .7 .5 .6-.9 .7 .6 .7 .2 .7-.4 .7-.2 .7 1.4 .7-.7 .7-.4 .7-1.6 .7-.4 .6-.7 .7-.7 .7-.4 .7 1.1 .7-1.3 .7 .3 .7-1.1 .7 .7 .7-.9 .7 0 .7-1.7 .6 .2 .7-.6 .7-.2 .7-1.6 .7 .1 .7-.4 .7-.4 .7-1.4 .6 0 .7-1.4 .7 1.4 .7-.3 .7 .9 .7-.1 .7 .6 .7-.6 .7 .9 .7-1.6 .7 1.6 .6-1 .7 .2 .7-.3 .7 .8 .7-.4 .7 3 .7 .9 .7 2 .7-.9 .7-.6 .6-.4 .7 1 .7-1 .7 .3 .7-.4 .7 .5 .7-2.9 .7 1.7 .7-1.3 .7 .6 .6-.8 .7 .2 .7 .1 .7 1.2 .7-.6 .7 .5 .7-.5 .7 .9 .7-.5 .7 1 .6-1.1 .7 .7 .7-1.5 .7 1.3 .7-.4 .7 2.6 .7-.2 .7 1.2 .7-.8 .7 1.5 .7-.6 .6 .4 .7 .1 .7 1.5 .7-1 .7 2.5 .7 .5 .7 .8 .7 .6 .7 2.5 .6-.8 .7 1.5 .7-1 .7-.7 .7-1.9 .7 .8 .7-1.9 .7 1.8 .7-1.6 .6 1.2 .7-1.3 .7-.3 .7-2.3 .7-.4 .7-2.1 .7 1.3 .7-.3 .7 1.1 .7 .7 .7 .9 .6 0 .7 1.1 .7 0 .7 2 .7 .5 .7 2.1 .7-.8 .7 .7 .7-.8 .7 .7 .6-.3 .7 .1 .7-1 .7 .2 .7-1.2 .7 1.6 .7-1.2 .7 .4 .7-.7 .6 .7 .7 .2 .7 1.2 .7-1.7 .7 .7 .7-.6 .7 .3 .7-1.1 .7 .5 .7-.7 .6 1.1 .7 .7 .7 1.6 .7-1.1 .7 2.2 .7-1.3 .7 1.5 .7-1.1 .7 1.4 .6 .3 .7 3.6 .6-1.2 .6 1.6 .6 1.2 .7 .5 .7-2.9 .7 .6 .7-.9 .7 .7 .7-1.1 .7 .5 .6-1.8 .7 .5 .7-1 .7 1.9 .7-.5 .7 1.6 .7-1.4 .7 .6 .7 .3 .6 .6 .7 0 .7 1.1 .7-.6 .7 1.5 .7-1 .7 1.4 .7-1.6 .7-.3 .7-1.3 .6 1.6 .7-2.8 .7 1.8 .7-1.3 .7 .8 .7-1 .7 .6 .7-1.5 .7-.2 .6-1.2 .7 .4 .7-2.1 .7 .9 .7 .5 .7 .7 .7 .5 .7 1.3 .7-.1 .7 1.8 .7-1.6 .6 1.7 .7-.4 .7 .9 .7-.2 .7 1.7 .7-1.2 .7 .5 .7-.5 .7-.3 .6-.8 .7 .8 .7-1.3 .7 0 .7-1.5 .7-.1 .7-1.5 .7 1.8 .7-1 .7 2.3 .7-2.6 .6 2.9 .7-.1 .7 2.6 .7 .4 .7 2.5 .7-1.2 .7 .8 .7-.5 .7 .1 .7-1.2 .7 .8 .6-.3 .7 1 .7-1 .7 2.6 .7-1 .8 1.9 .7-.2 .8 3 .7-.9 .7-1 .6-2.7 .6 1.1 .6-1.8 .7 .5 .7-1 .7 0 .7-1.1 .7 .4 .7 .3 .6 1.2 .7-.3 .7 .2 .7-1.3 .7 1.3 .7-1.6 .7-.6 .7-1.1 .7 .9 .7-.3 .6 .5 .7-.8 .7-.4 .7-.7 .7-.2 .7 0 .7 .7 .7-.3 .7 .6 .7-.1 .6 .4 .7-1.6 .7 .4 .7-.9 .7 0 .7-.9 .7 .8 .7-.3 .7 .9 .6-.2 .7 1.6 .7-1.1 .7-.2 .7-.9 .7 .9 .7-.4 .7 .9 .7-.1 .7 0 .6-2.4 .7 .5 .7-2.2 .7-.1 .7-1 .7-.2 .7-1.9 .7 2.9 .7-1.3 .7 1.8 .7-1.4 .6 1.3 .7-.8 .7 1.3 .7-2 .7 .1 .7-1.3 .7-.2 .7-1.8 .7 .5 .6-.5 .7 .8 .7 .4 .7 .9 .7-3.3 .7 2.3 .7-1.2 .7 1.4 .7-.3 .7 2.6 .7 .9 .6 1.7 .7-1.6 .7 .7 .7-1.8 .7 .2 .7-.2 .7 1.5 .7-.3 .7 .1 .6-1.3 .7-.3 .7-2.2 .7 1 .7-1.7 .7 .8 .7-1.3 .7 1.9 .7-1.9 .7 0 .6-.6 .7-.2 .7-2.1 .7 .4 .7 .4 .7 .4 .7-.5 .7 2.1 .7-.9 .7 .4 .6-.3 .7 .3 .7-1.2 .7-.3 .7-.7 .7 .3 .7-1.3 .7 1.5 .7-.8 .7 .9 .7 .3 .6 .2 .7-.6 .7 1.2 .7-1.8 .7 .8 .7-3.1 .7 3.6 .7-3.9 .7 1 .6-1.9 .7 1.4 .7-2.4 .7 .6 .7-3.9 .7 5.8 .7-3 .7 3.4 .7 2.4 .7 6.3 .7-.9 .6 1.5 .7-2.7 .7-.3 .7-1 .7-.3 .7-.6 .7 .6 .7-1.9 .7 1.2 .6-1.3 .7-.1 .7-1.1 .7 1.5 .7-2.1 .7 2.5 .7-.8 .7 .7 .7-.2 .6 .4 .7-1.8 .7 .7 .7-1.8 .7 .5 .7-1.2 .7-.1 .7-1.6 .7-.5 .7-.8 .6 2.8 .7-2.1 .7 2.4 .7-1.2 .8 1.1 .7-2 .7 .1 .8-1.3 .7 .9 .8-2.3 .7-.1 .7 0 .8 2 .7-.6 .7 2.2 .8-1.4 .7 1.5 .7-1.2 .8 2.8 .7-.5 .6 1.9 .7-1 .7 .9 .7-.5 .7 1.6 .7-.1 .7 .8 .7-1.3 .7 1.2 .7-2.2 .6 1 .7-1 .7-.2 .7-.8 .7 1 .7-3.6 .7 2.2 .7-1.6 .7 1.6 .6-2.3 .7 2.9 .7-.3 .7 1.9 .7-.6 .7 2.4 .7 .2 .7 1.2 .7 .5 .7-.4 .6-1.9 .7 .5 .7-2.3 .7 .5 .7-.2 .7 .7 .7-.4 .7 0 .7-.3 .7 1.1 .6-.2 .7 .9 .7-.3 .7 1.6 .7-.9 .7-.7 .7-.3 .7-.2 .7 .3 .7 .6 .6-.4 .7 2.5 .7 .6 .7-.2 .7-1.4 .7 .1 .7-2.5 .7 1 .7-1.7 .7-.4 .6-.7 .7 1.4 .7 .4 .7 2.1 .7-3 .7 .8 .7 .3 .7 1 .7-1.3 .7 1.5 .7-1.3 .6 1.2 .7-2.2 .7 .5 .7-1 .7-.5 .7-1 .7-.1 .7-1.3 .7 2 .6-.6 .7 1.1 .7-.9 .7 1.1 .7-.4 .7 2.8 .7-1 .7 .5 .7-1.7 .7 .9 .7 .3 .6 1.7 .7-.3 .7 2.7 .7-2.4 .7 0 .7-2 .7 .9 .7-2.2 .6-.6 .7 .3 .7 3.1 .7-.8 .7 3.1 .7-1.9 .7 1 .7-1.9 .7 .8 .7-1.1 .7 1.6 .7-.5 .6 3.4 .7-.1 .7 .4 .7-1.8 .7 1.1 .7-1.3 .7 .1 .7-1.5 .6 1.2 .7-2.1 .7 1.5 .7-1.2 .7-.3 .7-1 .7 1.4 .7 .1 .7 .9 .7-.7 .7 1 .7-.4 .6 .4 .7-.1 .7-.2 .7-1.5 .7 1 .7-1.5 .7 1.2 .7 .6"/>
</g>
<path class="z" d="M733.95 214.00H1389.00"/>
<text class="t" transform="translate(1061.17 24.00) scale(0.964 1)">BRL</text>
</g>
<g>
<rect x="1408.90" y="32.90" width="655.13" height="362.15" fill="#eaeaf2"/>
<path class="g" d="M1438.50 32.90V395.05M1531.50 32.90V395.05M1623.50 32.90V395.05M1716.50 32.90V395.05M1809.50 32.90V395.05M1901.50 32.90V395.05M1994.50 32.90V395.05M1408.90 42.50H2064.03M1408.90 99.50H2064.03M1408.90 157.50H2064.03M1408.90 214.50H2064.03M1408.90 271.50H2064.03M1408.90 328.50H2064.03M1408.90 385.50H2064.03"/>
<clipPath id="c2"><rect x="1408.90" y="32.90" width="655.13" height="362.15"/></clipPath>
<g clip-path="url(#c2)">
<path class="b" d="M1437.7 214.3 l.8 1.2 .8-8.7 .7-1.3 .7-2.4 .7 .6 .7-1.1 .7 .5 .7-3.5 .7 6.7 .7 .1 .7-1.6 .7-2.6 .6 .7 .7-2.8 .7 1.5 .7-4.4 .7 .8 .6-.5 .6 2.5 .7-2.5 .6-1 .7-3.4 .8 2.6 .7-3.4 .8 6.3 .8 1.1 .8 1.8 .8 1.1 .6 4.5 .7-.5 .6 .4 .6-.8 .7 4.3 .6-2.5 .7 1.5 .7-1.6 .7 2.7 .7 .9 .7 7.3 .7-.3 .7 1.4 .7-.3 .7 .6 .6-1.8 .7 .6 .7-1.6 .7-.4 .7 .3 .7 2.4 .7-2.1 .7 3.3 .6-1.7 .7 1.5 .7-2.4 .7 2.2 .7-.1 .7 6.8 .7 1.1 .7 .2 .7-1.9 .7 0 .7-2 .6 1.5 .7-1.2 .7 1 .7-3.1 .7-.8 .7-1 .7 .8 .7 .2 .7-1 .7 .1 .6-.8 .7-.8 .7 .6 .7-.8 .7 1.3 .7 .5 .7 3.1 .7-2.8 .7 4.5 .7-2.4 .6 4.1 .7 1.3 .7 5.5 .7-3.7 .7 .6 .7-2.2 .7 2.7 .8 2 .7 1.7 .8 2.3 .6 2.7 .7-6.5 .6-1.3 .6-4.1 .7 2 .7-.1 .7-.1 .7-1.5 .7-1 .6-1.6 .7 2.3 .7 .6 .7 3.1 .7-1.9 .7 2.5 .7-2.8 .7 .6 .7-1.4 .7 .5 .7-2.7 .6 1.2 .7-1.5 .7 .3 .7 0 .7 .4 .7-1.3 .7-.9 .7-1.5 .7 1.7 .6-2.5 .7 .6 .7-2.1 .7 1.4 .7-.8 .7 .6 .7-2.4 .7 2 .7-2.3 .7 .4 .6-1.2 .7-.6 .7-1.9 .7-.3 .7-1.1 .7 .4 .7-1.5 .7-.2 .7-1 .7 2.8 .6-.1 .7 1.4 .7-1.3 .7 1.7 .7-.3 .7 1.9 .7-2.9 .7 .4 .7-.2 .7 .6 .6-1.4 .7 1.6 .7-.5 .7 1.8 .7-2.4 .7 .3 .7-.9 .7-.5 .7-1.7 .7 .7 .6-1 .7-.1 .7-2.1 .7 1.6 .7-1.3 .7 .3 .7-1.1 .7-.1 .7-.6 .7 .5 .6-2.4 .7 .4 .7-1.8 .7 2.5 .7-.8 .7 2.6 .7-1.6 .7-.2 .7-.8 .7-.4 .6-1.5 .7 1.2 .7-2.1 .7 .1 .7-2.3 .7-1 .7-.7 .7 .6 .7-1.2 .7 1.3 .6-.8 .7 2.3 .7-1 .7 1.6 .7-.8 .7-.5 .7-1.4 .7-.2 .7-2.3 .7 .5 .6-2 .7-.3 .7-2.2 .7 1.6 .7-1.5 .7 .6 .7-1.6 .7 2.3 .7-2.3 .7 1.7 .7-2.1 .7 4.2 .8-1.3 .7 3.3 .8-.7 .8 1.2 .7-1.8 .8-1 .8-1.5 .7 .6 .7-1.9 .7 .8 .7 0 .7 1.4 .7-1.4 .7-.9 .7-2.6 .7 .6 .7-1.2 .6 0 .7-1.2 .7 .3 .7-1.2 .7 1 .7-1 .7 1 .7-.7 .7 1.6 .6-1.1 .7 0 .7-1.3 .7 .1 .7-.9 .7 .1 .7-2.7 .7 1.5 .7-.1 .7-.2 .7-.8 .6 .7 .7 1 .7 1 .7-1.4 .7 2.6 .7-.3 .7-.9 .7-1.4 .7 .1 .6-1.5 .7-1 .7-1.6 .7 1.5 .7-.1 .7 1.4 .7 .1 .8 2.4 .8 .2 .7 5.3 .7-3.9 .6 .5 .6-3 .6 .8 .7-1.9 .7 1.4 .7-4.4 .7 1.5 .7-3.1 .8 1.2 .8-3.7 .7 1.6 .6-.5 .7 2.8 .6-.7 .6 1.1 .7-2.1 .7 5.6 .7-2.3 .7 2.5 .6-3.7 .7 4.5 .7 2.5 .7 8.6 .7-.4 .7 8 .7 .2 .7 2.7 .7 1.6 .7 1.5 .7-6.2 .6-3.5 .7 .9 .7 4.6 .7-1.2 .7 3.5 .7 .5 .7 2.8 .7-5 .7 1.8 .7-8.7 .6-1.5 .7-4.5 .7 2.1 .7-1.6 .7 2.5 .7-1.6 .7-.6 .7-2.5 .7 1.2 .6-3.4 .7 1.3 .7-2.6 .7 2.6 .7-2.7 .7 .8 .7-1 .7 .3 .7-1.5 .7-.5 .7-2 .6 .7 .7-.4 .7 .6 .7-1.2 .7 1.9 .7 0 .7 3 .7-3.2 .7 .4 .6-3.3 .7 1.1 .7-1.5 .7-.1 .7-1.4 .7 1.6 .7-.1 .7 1.2 .7-.6 .7 2.5 .6 .6 .7-.3 .7 .4 .7-.5 .7-2 .7 1.1 .7 .1 .7-.2 .7-2.9 .7 .7 .6-1.7 .7 1.5 .7-2.7 .7 .8 .7-2.8 .7 2.2 .7-3.5 .7 2.2 .7-2.6 .7 .5 .6-2.1 .7 1.9 .8-2.3 .8 1.5 .7-3 .8 .8 .6-3.1 .7 2.3 .6-.5 .6 2.2 .7-.1 .6 2.3 .7-1.7 .7 1.7 .7 .9 .7 2 .7-3.2 .7 5.1 .7 2.8 .6 .5 .7-.2 .7 1.6 .7-2.2 .7 1.5 .7-1.9 .7 0 .7-1.1 .7 3 .7-1.7 .7-.2 .6-1.1 .7 .8 .7-2.4 .7 .1 .7-1.6 .7 .1 .7-1.5 .7 2.7 .7-1.5 .7 1.6 .6-1.6 .7 .9 .7 .7 .7 2.1 .7 .5 .7 1.4 .7-.9 .7 .4 .7-2.1 .7 1.6 .6-1 .7 .5 .7-1.4 .7-.3 .7-.8 .7 .1 .7-.4 .7-.1 .6-.7 .7 .3 .7-.9 .7 .6 .7-1.1 .7 .3 .7-1.6 .7 .6 .7-1.2 .7-.3 .7-1.3 .7 .9 .6-.7 .7 1.1 .7-.9 .7 .5 .7-.5 .7 2.1 .6-1.9 .7 1.2 .7 .1 .6 2.3 .7-1.3 .5 1.1 .7-1.5 .7 .5 .7-2.7 .7 1.5 .7-2.3 .7 .8 .7-1.6 .6 1.2 .7-.4 .7 1.1 .7-2.4 .7 .8 .7-1.2 .7 0 .7-1.8 .7-.3 .7-.5 .7 .3 .6-1 .7 .5 .7-1.3 .7 .9 .7-1.1 .7 .5 .7-1.5 .7 0 .7-1.4 .6 1 .7-2.3 .7 0 .7-1.1 .7 1.4 .7-.4 .7 .3 .7-2 .7 1.4 .6-2 .7 .1 .7-2.1 .7 .5 .7-.8 .7 3 .7 .9 .7 4 .7-2.7 .7 .8 .6-2.6 .7 .9 .7-1.5 .7 3.2 .7-.3 .7 .9 .7-1 .7 .2 .7-3.1 .7 2.7 .6-2.8 .7 1.8 .7-2.4 .7 .8 .7-.9 .7-.1 .7-1.2 .7 1.3 .7 .1 .7 .2 .7-.5 .6 1.3 .7-.6 .7 1.4 .7-.1 .7 3.4 .7 .2 .7 1.6 .7-.6 .7-.6 .7-1.8 .6 1.3 .7-.9 .7 1.1 .7-.5 .7 1.4 .7-.7 .8 1.2 .7 .5 .8 2.9 .7 .7 .7-1.1 .6-2.8 .6 .1 .7-2.9 .6 .6 .7-.7 .7-.4 .7-1.6 .7 1.3 .7-.9 .6 .5 .7-2 .7 .7 .7-1.4 .7 .1 .7-1.3 .7 1.1 .7-.9 .7 .7 .7-.9 .6-.3 .7-.4 .7 .4 .7-.8 .7 1 .7-1.1 .7-1 .7-.8 .7-.7 .7-.9 .6 .4 .7-1.2 .7 .5 .7-.8 .7 .2 .7-.8 .7 .7 .7-.6 .7 1.3 .6-.8 .7 .3 .7-.5 .7 .8 .7 .2 .7 0 .7-.1 .7 .2 .7-.7 .7 1 .6-.8 .7 .4 .7 0 .7 .3 .7 .2 .7-.1 .7-1.4 .7 .3 .7-2.8 .7 .4 .6-1.9 .7 3.3 .7-1.6 .7 .8 .7-2.1 .7 1.7 .7-3.6 .7 1.2 .7-2.3 .6 7 .7-1.1 .7 .3 .7-.3 .7 .1 .7 .6 .7-.5 .7 0 .7-.9 .7-2.3 .7-.4 .6-.4 .7 1.5 .7-1.1 .7 1.2 .7-1.7 .7 .7 .7-.7 .7 2.2 .7-1.4 .7 1.7 .7-1.7 .6 3.1 .7-.9 .7 4.7 .7-2.8 .7 .6 .7-2.6 .6 3.7 .6 0 .6 2 .8-2.5 .7-1.1 .8-4.8 .7 1.7 .7-1.1 .7 .9 .7-2.1 .7 .9 .7-2.3 .6 .6 .7-1.5 .7 1.8 .7-1.8 .7 3.7 .7-2 .7 .6 .7-.6 .7 .8 .7-.2 .6 .5 .7-.9 .7-.5 .7-2.1 .7 1.1 .7-.7 .7 3.2 .7-4.3 .7 2.9 .7-3 .7 7.4 .6-6 .7 2.3 .7-3.3 .7-.6 .7-2.4 .7 2.9 .7-8 .7 6.3 .5 6.8 .6 10.6 .6-1.2 .6 5.3 .7-9.2 .7-.8 .6-7 .7 1.8 .6-2.7 .6 2.7 .7-4.3 .7 1 .6-1.8 .7 2.8 .7-2.7 .7 2.2 .7-8.8 .7 4 .7-.1 .7 1.9 .7 .6 .7 .6 .6-2.9 .7 2.5 .7-2.7 .7 0 .7-2.7 .7 .4 .7-2.5 .7 2.8 .7-1.8 .7 0 .7-1.3 .6 .4 .7-1.7 .7-.1 .7-1.4 .7-.6 .7-1.9 .7 1 .7-1.3 .7-.4 .7-1.1 .6 1 .7-1.9 .7 .6 .7-1.8 .7 .3 .7-1.1 .7 .6 .7-.7 .7 2 .7-1.4 .6 .1 .7-1.8 .7 .4 .7-.5 .7 .7 .7-2 .7 .6 .7-.7 .7 .2 .7-.9 .6 1 .7-1 .7 1.1 .7-.8 .8 .9 .7-.9 .7 .6 .8-1 .7-1.3 .7 .6 .6 2 .7-1.9 .6 4 .7-1.5 .6 2.4 .7-.3 .7 1.6 .7-.8 .7 3.4 .6-3.6 .7 2.3 .7-5.5 .7 3.8 .7-.6 .7 3.4 .7-.6 .7-1.4 .7-1.4 .7-.2 .6-1.3 .7 .6 .7-1.2 .7 1.6 .7-1.8 .7-.5 .7-.7 .7 1.1 .7-.8 .7 1.8 .6-.1 .7 1.9 .7-1.7 .7 0 .7-1.4 .7 .5 .7-.1 .7 1.2 .7-.8 .6 1.7 .7-.6 .7 .5 .7-1.4 .7 .6 .7-1.5 .7 .8 .7-.9 .7 1.8 .7-.7 .6 1.8 .7-.3 .7 1.5 .7-.6 .7 1.2 .7-1.3 .7-.3 .7-2.4 .7 .4 .7-2.3 .6 .6 .7-.1 .7-.4 .7-2.2 .7 .7 .7-1.3 .7 .1 .7-.6 .7 1.1 .7-.2 .7 .4 .6-.2 .7 1.1 .7-1 .7 1.6 .7-1.7 .7 .3 .7-1.2 .7 .8 .7-1.5 .7-.4 .6-1.6 .7 .1 .7-1.7 .7 1.3 .7-2.3 .7-.2 .7-1.2 .7 .6 .7-2.5 .6 1.6 .7-.4 .7 1 .7-3.4 .7 3.5 .7-1.4 .7 .8 .7 .6 .7 1.7 .7-2.9 .6 4.7 .6-.8 .6 4 .7-3.5 .8-1.1 .8-3.4 .7 1.4 .7-1.5 .7 0 .7-2.3 .7 2.3 .6-3.4 .7-.2 .7-.7 .7 .5 .7-4.1 .7 2.1 .7-2.3 .7 1.1 .7-1.6"/>
<path class="o" d="M1437.7 213.9 l.8 .4 .8-2.8 .7 .1 .7-1.1 .7-.1 .7-.8 .7 1.6 .7-2.9 .7 .9 .7 .5 .7 1.4 .7-2.3 .6 .5 .7-1 .7 .9 .7-1.9 .7 .2 .6-1.2 .6 .8 .7 .1 .6-.7 .7-.9 .7 .7 .8 .2 .7 2.4 .8-.1 .7 2.2 .7-.6 .7 1.7 .7-.8 .7 .6 .7-.3 .7 .6 .6-.5 .7 .1 .7 .2 .7 1.4 .7 .1 .7 1.6 .7-1.3 .7 1.5 .7 .7 .7 .3 .6-1.1 .7 .6 .7-.5 .7 1 .7-1.6 .7 1.9 .7-.4 .7 2.2 .6-.4 .7 1.7 .7-1.3 .7 .5 .7-.4 .7 3.7 .7 .9 .7-.4 .7-1.4 .7 .1 .7-1.6 .7 0 .6-.9 .7 .1 .7-1.3 .7 1 .7-.9 .7 1.4 .7-1.4 .7 .5 .6-.4 .7 1.2 .7-2.1 .7 1.6 .7-2.3 .7 1.9 .7-.9 .7 1.4 .7-.5 .7 2.4 .7 1.3 .6 3.6 .7 .3 .7 1.8 .7-3.2 .7 1.8 .7-1.8 .7 2.4 .8-1.2 .7 3 .8 .8 .6 1.4 .7-3.6 .6 .4 .6-1.1 .7 0 .7-.9 .7-.2 .7-.3 .7 .4 .6-.8 .7 .6 .7 1 .7 .5 .7-.9 .7 2.6 .7-2.7 .7 1.2 .7-1.8 .7 1.1 .7-1.6 .6-.3 .7-.7 .7 .2 .7-.5 .7 .4 .7-1.1 .7 1.3 .7-3.1 .7 2.7 .6-3.1 .7 2.1 .7-3.1 .7 .5 .7-1.5 .7 1.3 .7-.9 .7-.2 .7-1.5 .7 .3 .6-1.6 .7-.1 .7-1.8 .7 .3 .7-1.8 .7 0 .7-1 .7-.1 .7-.3 .7 1.2 .7-.6 .6 .3 .7 .4 .7 1.3 .7 1 .7 2 .7-1.8 .7 .6 .7-.9 .7 .3 .6-1.1 .7 .6 .7-.6 .7 1.3 .7-.3 .7-.5 .7-2.1 .7 .1 .7-2.4 .7 1.9 .6-.4 .7-.1 .7-1.7 .7 .8 .7-1.4 .7 .3 .7-2.1 .7 0 .7-.7 .7 1.6 .6-3.4 .7 .5 .7-.8 .7 2.6 .7-1.9 .7 .3 .7 .8 .7-.8 .7-1.6 .7 1.6 .6-2.5 .7 1.2 .7-2.3 .7 2 .7-1.9 .7-.8 .7-2.7 .7 1 .7-2.5 .7 .6 .6 .1 .7 1.6 .7 .1 .7 1.2 .7-1.4 .7 .2 .7-1.4 .7-.1 .7-2 .7 .2 .6-3.3 .7 .8 .7-2.6 .7 1.1 .7-2.3 .7 2.5 .7-2.3 .7 .9 .7-2.6 .7 2.1 .7 .2 .7 1.4 .8 .5 .7 2.7 .8-.1 .8-1.2 .7-1.4 .8 1.5 .8-2.9 .7 1.6 .7-.6 .7 1.4 .7-1 .7 1 .7-.7 .7-.4 .7-1.4 .7-.2 .7-.6 .6-.6 .7-.8 .7 0 .7-.4 .7 .9 .7-.9 .7 1.3 .7-1.2 .7 .6 .6-.6 .7 .2 .7-.9 .7-.2 .7-1.2 .7-.5 .7-1.4 .7 .1 .7-.7 .7 .4 .7-.8 .6 .5 .7 .8 .7 1.8 .7-.1 .7 .7 .7-2 .7 1.2 .7-1.3 .7 .7 .6-2.2 .7 .5 .7-.4 .7 1.9 .7-.2 .7-.2 .7-.3 .7 2.2 .7-1.8 .7 1.6 .6-.7 .7 .4 .7 .1 .7 .9 .7-1.2 .7 .6 .7-2.3 .7 .8 .7-1.3 .8-.9 .8-.7 .7 0 .6-.5 .7 2 .6-.6 .6 2.5 .7-.9 .7 .8 .7-.6 .7 1.5 .6-.6 .7 2.4 .7 1.6 .7 1.1 .7-.1 .7 .2 .7-1.5 .7 1.2 .7 .6 .7 .2 .7-.7 .6 .9 .7-.2 .7 1 .7-.7 .7 1 .7-1.5 .7 1.5 .7-2.3 .7 .2 .6-.7 .7 0 .7-1.5 .7-.1 .7-.4 .7 .2 .7-.7 .7 .5 .7-1.1 .7 .3 .7-1.2 .6 .2 .7-.4 .7 .2 .7-.6 .7 1.4 .7-1.1 .7 .8 .7 0 .7-.2 .6-.6 .7 .4 .7-.6 .7-.3 .7-.9 .7 2.4 .7-.7 .7 2.5 .7-3.4 .7 .7 .7-1.7 .6 .6 .7-1.2 .7 .9 .7-1.9 .7 0 .7-1 .7 2.3 .7 0 .7 1.2 .6 .3 .7 .4 .7-.6 .7 .3 .7-.8 .7 .2 .7-1.1 .7 .1 .7-1 .7-.3 .6-1.5 .7 .8 .7-1.8 .7 0 .7-.7 .7 .6 .7-1.7 .7 .9 .7-.9 .7 0 .6-.9 .7 0 .8-1 .8 .6 .7-1.4 .8 .4 .6 .6 .7 .7 .6-.4 .6 .5 .7 .3 .6 .7 .7-.2 .7 1.7 .7-1 .7 1.5 .7-1.5 .7 3.3 .7 1.2 .6 .8 .7-1 .7 .8 .7-1 .7 1.3 .7-2.8 .7 0 .7-.1 .7 .2 .7-1.3 .7 1.7 .7-.8 .6 .4 .7-1 .7-.2 .7-1.6 .7 .5 .7-.2 .7 .5 .7-.7 .7 1.1 .6 .2 .7 .7 .7-.4 .7 1 .7 .1 .7 1.7 .7 .1 .7-.6 .7-.4 .7 .5 .6-1 .7 .2 .7-.5 .7-.1 .7-.7 .7 .3 .7-1.1 .7 0 .6-.4 .7 .3 .7-.3 .7 .8 .7-1 .7 .4 .7-.7 .7-.4 .7-1.3 .7 .2 .7-1.3 .7 .3 .6-.3 .7 .9 .7-.8 .7 1 .7-.5 .7 .5 .6-.1 .7 1.5 .7-.1 .6 .6 .7-.7 .5 1.7 .7-1.1 .7-.9 .7-1.2 .7 .2 .7-.9 .7 .5 .7-1.7 .6 .4 .7-.7 .7 .6 .7-.4 .7 .1 .7-1.6 .7 .3 .7-1.5 .7 .7 .7-.8 .7-.3 .6-1.2 .7 .4 .7-1.1 .7 .6 .7-1.5 .7 1.3 .7-1.7 .7 1.5 .7-2.9 .6 .1 .7-1.2 .7 2.3 .7-1.5 .7-.3 .7-1.4 .7 .3 .7-2.3 .7 .1 .6-.9 .7-.3 .7-3.1 .7 3.4 .7-.4 .7 0 .7 2.4 .7 2.3 .7-.9 .7-.5 .6-1 .7-.3 .7 0 .7 .3 .7 .2 .7 1.1 .7-1.5 .7 .2 .7-.9 .7 .3 .6-.7 .7 .7 .7-1.3 .7 1 .7-1.4 .7 .5 .7-1.6 .7 1.3 .7 .5 .7 .7 .7-.4 .6 .8 .7-.1 .7 2 .7 .3 .7 1.4 .7-.5 .7 1.1 .7-.8 .7 1.1 .7-1.9 .6 .6 .7-.2 .7 1.1 .7-1.1 .7 1 .7-.7 .8 1.4 .7-.5 .8 2.4 .7-.5 .7 .1 .6-1.9 .6 2.1 .7-3.1 .6 .6 .7-1.6 .7 .8 .7-.2 .7-.3 .7-.7 .6 0 .7-.8 .7-.1 .7-.5 .7-.3 .7-1.1 .7 1.5 .7-1.3 .7 .4 .7-.3 .6-.4 .7-1 .7 .7 .7-1.2 .7 1.5 .7-2.4 .7 .2 .7-1.5 .7 1.1 .7-1.7 .6 .3 .7-1.7 .7 .7 .7-1.1 .7 0 .7-.3 .7 .8 .7-.8 .7 .8 .6-.2 .7 .2 .7-.5 .7 1.8 .7-.7 .7 .1 .7 .5 .7 .6 .7-1 .7 .4 .6 .3 .7 .8 .7-1.2 .7 .6 .7-2 .7 2.8 .7-3.1 .7 .3 .7-2.4 .7-.2 .6-2 .7 0 .7-2.1 .7 .4 .7-2 .7 .8 .6 .3 .6-.2 .6-2 .9 8.7 .7-1.1 .7 1.1 .7-.7 .7 .9 .7-1.1 .7-.5 .7-.2 .7-1.1 .7-1.5 .7 .7 .6-2 .7 1.2 .7-1.9 .7 .7 .7-.7 .7 0 .7 0 .7 1.2 .7-3.5 .7 3.7 .7-1.3 .6 3.1 .7-.2 .7 2.7 .7-.6 .7-.2 .7-.2 .6 3 .6-.6 .6 2.4 .8-3.3 .7 1.3 .8-4.3 .7 .1 .7-2.2 .7 2.1 .7-2.4 .7 .2 .7-1.8 .6 1 .7-.2 .7 .7 .7-.4 .7 .8 .7 .3 .7 1 .7-.4 .7 .1 .7 0 .6 .8 .7-1.5 .7 1.5 .7-1.1 .7 .9 .7-1.9 .7 .3 .7-1.8 .7 3 .7-3.7 .7 3.5 .6-4.7 .7 3.7 .7-3.8 .7 3.4 .7-4.9 .7 2.8 .7-8.2 .7 6.3 .5 1.8 .6 9.6 .6 1.2 .6 4.5 .7-3.7 .7-3.8 .6-.7 .7-1.9 .6-.9 .7 1.9 .6-2.1 .7 4.5 .7-5.2 .6 2.5 .7-1.6 .7 .8 .7-.6 .7-.7 .7-1.2 .7 2.1 .7-.8 .7 2 .6-2.3 .7 2.2 .7-1.8 .7-.5 .7-1.3 .7 0 .7-.6 .7-.1 .7-1.3 .7 .7 .7-1.2 .6 1.1 .7-.9 .7-.6 .7-1.7 .7 0 .7-1.5 .7 .5 .7-.6 .7 .4 .7-.8 .6-.4 .7-1.5 .7-.7 .7-1 .7 .9 .7-.3 .7 .4 .7-1.5 .7 .9 .7-.7 .6 .5 .7-1.5 .7 0 .7-1.6 .7 .5 .7-1.5 .7 .4 .7 0 .7 .5 .7 .1 .6 .3 .7-.9 .7 0 .7 .1 .8 .2 .7-1.4 .7 .3 .8-.6 .7 1.5 .7-2 .6 2 .7-.4 .6 2 .7 .1 .6 1 .7-.1 .7 1.1 .7-1.3 .7 1.9 .6-1.2 .7 .3 .7-.9 .7 1 .7-.9 .7 1.7 .7 .8 .7 0 .7-1.9 .7 1.2 .6-.9 .7 .1 .7-1.5 .7 .1 .7-1 .7 2.1 .7-1.7 .7 .7 .7 1.3 .7 .7 .6 1 .7 1.9 .7-2.7 .7 0 .7-1.7 .7 1 .7-2.2 .7 2.8 .7-1.4 .6 2.1 .7-.3 .7 .7 .7-1.4 .7 .8 .7-1.3 .7 3.1 .7-2.2 .7 .7 .7-.5 .6 1.8 .7 .5 .7 .9 .7-1.3 .7 .4 .7-3.1 .7 .9 .7-1.7 .7 .4 .7-.5 .6 .6 .7-2.2 .7 .6 .7 0 .7-.1 .7-1.4 .7 1.5 .7-1 .7-1 .7-.1 .7 2.2 .6-1.3 .7 .6 .7-1.8 .7 2 .7-1.2 .7 .3 .7-1.1 .7 .5 .7-1.4 .7 1.2 .6-3.3 .7 .6 .7-.9 .7 .5 .7-2.2 .7 .5 .7-1.5 .7-.1 .7-1.5 .6 .2 .7-.4 .7 2.2 .7 0 .7 1.5 .7-2.5 .7 1.1 .7-1.5 .7 1.4 .7-1 .6 1.3 .6 .5 .6 2.4 .7-2.9 .8 1.3 .8-3.3 .7 .7 .7-.7 .7 .9 .7-2 .7 1 .6-1 .7-1.1 .7-2.5 .7 .4 .7-1.3 .7-.5 .7-1.5 .7-.1 .7-.3"/>
</g>
<path class="z" d="M1408.90 214.00H2064.03"/>
<text class="t" transform="translate(1736.17 24.00) scale(0.964 1)">CAD</text>
</g>
<g>
<rect x="2083.93" y="32.90" width="656.15" height="362.15" fill="#eaeaf2"/>
<path class="g" d="M2113.50 32.90V395.05M2206.50 32.90V395.05M2299.50 32.90V395.05M2391.50 32.90V395.05M2484.50 32.90V395.05M2577.50 32.90V395.05M2669.50 32.90V395.05M2083.93 42.50H2740.08M2083.93 99.50H2740.08M2083.93 157.50H2740.08M2083.93 214.50H2740.08M2083.93 271.50H2740.08M2083.93 328.50H2740.08M2083.93 385.50H2740.08"/>
<clipPath id="c3"><rect x="2083.93" y="32.90" width="656.15" height="362.15"/></clipPath>
<g clip-path="url(#c3)">
<path class="b" d="M2113 213 l.7 3.1 .7 .8 .6 2.3 .7-1 .7 2.3 .7-1.8 .7 1.8 .7-3 .7-2 .7-1.2 .7 1.5 .7-2.8 .6-.1 .7-.9 .7-.1 .7-1.6 .7 .8 .7-1.9 .7 1.2 .7-2 .7 .6 .7-1.6 .6 1.6 .7 .2 .7 1.6 .7 .2 .7 .6 .7-1 .7 .4 .7-2 .7 .9 .7-.8 .7 1.7 .6-.7 .7 .5 .7-.5 .7 1.6 .7-1.2 .7 3.1 .7-3 .7 2.9 .6 1 .7 1.6 .7-3.1 .7 4 .7-2.5 .7 .6 .7-1.1 .7 3.9 .7 .1 .7 1.1 .6-.4 .7 6 .7-2.3 .7 2.3 .7-3.3 .7 11.3 .7 3.1 .7-2 .7-8 .7-2.1 .7-1.2 .6 .3 .7 1.7 .7-1.7 .7 .3 .7 2.3 .7-2.4 .7 .2 .7-2.6 .7 3.6 .7-2 .6 1.6 .7-1.9 .7 .6 .7-2.4 .7 1.9 .7-4 .7 5.2 .7-3.4 .7 2.5 .7 2.3 .6 3.7 .7-1.8 .7 1.6 .7 11.7 .7 .5 .7-6 .7 .7 .8-1.4 .7 5.8 .8 2 .6-4 .7-.6 .6 2.8 .6-7.9 .7 5.6 .7-4.3 .7 3.3 .7 1.6 .7-.6 .6 0 .7 3.8 .7-.5 .8 9.8 .8-1 .8 3.5 .6-5.8 .6 1.6 .6-6.3 .7-1.6 .6-2.3 .7-2 .7-2.1 .7 3.5 .7-3.3 .7 2.7 .7-.4 .7-2 .7-1.8 .7 .2 .7-.8 .6 2.7 .7-1.9 .7 .3 .7-3.7 .7 1.3 .7-.2 .7-.8 .7-2.5 .7 1.6 .6-2.8 .7 1.2 .7-1.1 .7 .2 .7-2 .7 .4 .7-1.8 .7 .6 .7-2.2 .7 1.7 .7-.8 .6 1.6 .7-1 .7-.2 .7-1.1 .7 1 .7-.6 .7 .9 .7-.2 .7 .8 .6 .4 .7 1 .7 1 .7 0 .7-.1 .7 .1 .7-.5 .7 .8 .7-.5 .7-.4 .7 .4 .6 .7 .7-2.2 .7-.1 .7-.9 .7 .2 .7-.7 .7-.3 .7-.5 .7 .7 .6-1.3 .7 .4 .7-1.1 .7 .4 .7-.6 .7-.4 .7-.5 .7 1.2 .7-1.2 .7 1.6 .7-2.2 .6-.2 .7-2.1 .7 2.6 .7-2.9 .7 .2 .7-1.1 .7-.7 .7-2.6 .7 .6 .6-1.4 .7 .3 .7-1.3 .7-.7 .7-1 .7 .5 .7-3.4 .7 1 .7-.4 .7 1 .6-2.4 .7-.5 .7-.8 .7 1.4 .7-1.3 .7 .7 .7-2.5 .7 1.1 .7-1.5 .7 .5 .6-.9 .7 .9 .7-.7 .9 4.5 .8 .5 .8-.7 .7-1.4 .8-.4 .8-1.9 .7 .9 .7-2.2 .7-.3 .7-2 .7 1.2 .7-.5 .7-.6 .7-2.1 .7 1.6 .7-2 .6 1.3 .7-1.8 .7 .9 .7-.3 .7 .2 .7-1.6 .7-1 .7 .3 .7 .6 .7-.6 .6 2.2 .7-2.7 .7 1.3 .7-3.2 .7 1.2 .7-2.6 .7 2.1 .7-.7 .7 1.3 .6-.5 .7 .7 .7-.4 .7 1.6 .7 .2 .7 1.8 .7-2 .7 1 .7-1.6 .7 .8 .7-1.6 .6 1.4 .7-.3 .7 2.3 .7-1.3 .7 2.2 .7-2.5 .7 6.1 .7-1.3 .7 1.9 .7-1.3 .6 2.5 .7-.2 .7 4.4 .7-2.1 .7 5.8 .7-.9 .7 2 .7-5.3 .7 3.7 .7-6 .6 .7 .7-1.9 .7 5 .7 1.2 .7 2.2 .7-4.2 .7 .8 .7-4.3 .7 5.4 .6-1.4 .7 3 .7-2.3 .7 2.9 .7 9.5 .7 4.3 .7-6.5 .7 4.1 .7-5.9 .7 3.2 .7-8.7 .6 8.5 .7 .1 .7 4.5 .7 1 .7 4.4 .7-1.4 .7 6.5 .7-5.2 .6 .4 .7-7 .7 2.7 .7-4.6 .7 2.6 .7-3.4 .7 2.1 .7-3.4 .7 2.2 .7-4.1 .6 2.7 .7-3.5 .7-.8 .7-3.3 .7 0 .7-.4 .7-.6 .7-1 .7 1.3 .7-2.2 .7 .5 .6-2 .7 .9 .7-1.4 .7 .9 .7-.7 .7 .7 .7-.4 .7 .7 .7-.4 .7 1.6 .6-1.9 .7 1.1 .7-4 .7 .1 .7-3.6 .7 3.3 .7 1.4 .7 2.4 .7 .4 .7 1.5 .6-.9 .7 .7 .7-.9 .7 .6 .7-1.6 .7 .3 .7-.8 .7 .8 .7-1.7 .7 1 .7-.9 .6 .5 .7-1.4 .7 .1 .7-1.3 .7 .9 .7-1 .7 .9 .7-.5 .6 .9 .7-.7 .7-.2 .7 .2 .7 0 .7-1.2 .7 3.7 .7-2 .7 1 .7-2.9 .7 1.9 .7-.6 .6-.5 .7-.4 .7 4.7 .7-1.6 .7 3.6 .7-2 .6 6.3 .6-.5 .6 7.1 .8-4.2 .7 2.8 .8-6.6 .7 1.8 .7-2.6 .7 1.8 .7-4.5 .7 .6 .7-.9 .7 .5 .6-3 .7 3.8 .7-3.2 .7 .3 .7-1.6 .7 .4 .7-1.8 .7 1.8 .7-1.9 .6 0 .7-.8 .7 1.8 .7-.6 .7 .8 .7-1.5 .7 1.1 .7-.8 .7 1.9 .7-2 .7 .4 .6-2.5 .7 .9 .7-.8 .7-.1 .7-1.1 .7 .6 .7-1.4 .7 1.2 .7-1.5 .7 1.1 .6-3 .7 .8 .7-2.4 .7 .7 .7-.8 .7 1.1 .7-1 .7 0 .7-4.1 .6 .9 .7-1.8 .7-.6 .7-1.3 .7 .5 .6-2.3 .7 2.1 .7-2.6 .7-.6 .6-1.8 .7-.1 .7-1.8 .6 3.9 .6 0 .7-.5 .7-.2 .7 .1 .7-1.2 .7 1.3 .6-1.8 .7 1.4 .7-1.5 .7 .6 .7-.9 .7 .7 .7-.4 .7 .2 .7-.8 .7 .4 .7-.2 .7 .7 .6-1.2 .7 .6 .7-1 .7 .4 .7-.8 .7 .1 .7-1.6 .7 .2 .7-.7 .6 .3 .7-.8 .7 .5 .7-2 .7 .6 .7-.1 .7 1 .7-.5 .7 .8 .7-.1 .7 .3 .6-.9 .7 .8 .7-.9 .7-.8 .7-.2 .7 .3 .7-.5 .7 .4 .7-1.5 .6-.1 .7-.6 .7 .6 .7-1.8 .7 1.6 .7-.4 .7 1.4 .7-.9 .7-.5 .7-1 .7-.5 .6-1.1 .7-.2 .7-.3 .7 1.5 .7-1 .7 1 .7-1.8 .7 .9 .7 .3 .7 .5 .6-1.1 .7 .7 .7-3.7 .7 2.6 .7 0 .7 2.1 .7-.8 .7 3.1 .7-2.3 .6 1.5 .7-1.1 .7 .5 .7-2 .7 .3 .7 .6 .7 2.1 .7-.6 .7 .9 .7-.5 .6 2.4 .7 0 .7 1.2 .7-.1 .7 0 .7-1 .7 .3 .7-1.8 .7 1.4 .6-1.5 .7 .5 .7-1 .7 .5 .7-.3 .7-.9 .7-.5 .7 1.7 .7-.2 .7 .6 .7-.9 .6-.2 .7-.9 .7 0 .7-.6 .7 2 .7-.3 .7 3.5 .7-.9 .7 .7 .6-1.7 .7 .7 .7-4.9 .7 2.8 .7-3 .7-.3 .7-1.9 .7-.3 .7-.9 .7 1.3 .7-1.2 .6 1 .7-2.5 .7-.3 .7-2.1 .7 1.9 .7-1.8 .7 1 .7-.7 .7 .4 .6 .4 .7 .6 .7-1.5 .7 .9 .7-1.5 .7 .2 .7-.2 .7 .4 .7-1.3 .7 1.3 .7-1.1 .6 .5 .7-1.3 .7 .9 .7 .1 .7-.1 .7-.7 .7 .2 .7-.5 .7 2.5 .7 .8 .6 1.8 .7-1 .7 1.2 .7-2.2 .7 1.5 .7-.6 .7-.3 .7-.6 .6 1.1 .7-.8 .7 1.1 .7-.9 .7-.3 .7-.9 .7-.3 .7-2.2 .7 .6 .7-.3 .6 .2 .7-.1 .7 1.7 .7-1.3 .7 .8 .7-1.7 .7 1.5 .7-1.1 .7 2 .7 .2 .7 3 .7-1.3 .6-2.2 .7-.9 .7-1.2 .7-.6 .7 .2 .7-2.6 .7 .6 .7-1 .6-.7 .7-1.7 .7 .5 .7-1.8 .7 .8 .7-1.9 .7 .1 .7 .3 .7 0 .7-.3 .7 1.8 .6-.6 .7 .4 .7-.7 .7 .7 .7-2.7 .7 2.5 .7-1.3 .7-.4 .7-2.5 .7 2.2 .6-1.4 .7 1 .7-4.7 .7 2 .7-1.7 .7-.6 .7-2.4 .7 2.4 .6 .7 .6 7.2 .6-2.2 .9 8.8 .7-4.6 .7-2.8 .7-.8 .7 1.9 .7-2.9 .7 2.2 .7-7.8 .6 4.1 .7-2.6 .7 .6 .7-1.6 .7 1.2 .7-.3 .7 .6 .7-1.6 .7 2.6 .7-.3 .7 1.9 .6-.3 .7 .9 .7-3.5 .7-1.3 .7-.7 .7 .6 .7-.8 .7 .4 .7-.3 .7 .5 .6-2.5 .7 .4 .7-1.7 .7 1 .7-.4 .7-.5 .7-1.1 .7 .1 .7-2.7 .7 1.3 .7-2.5 .6 1.8 .7-2.3 .7-.5 .7-1.3 .7 .5 .7-1.3 .7 1.2 .7-1.8 .7 1.9 .6 .5 .7 1.4 .7-.3 .7 2.1 .7-3 .7 0 .7-2 .7 1.7 .7-2.1 .6 .1 .7-3.5 .7 4.4 .7-2.6 .7 2.8 .7-.1 .7 1.2 .7-.3 .7 3.9 .7-3.7 .7 .5 .6-4.6 .7 3 .7-.8 .7 4.6 .7-1.6 .7 .6 .7 1.2 .7 3.3 .7-1.9 .6-.9 .7-1.8 .7 2.6 .7-.3 .7 1.5 .7 .2 .7 3.3 .7-2 .7 1.3 .7-5.1 .6 1.8 .7-2.3 .7 .9 .7-1.6 .7 1.7 .7-3.3 .7 1.5 .7-2.4 .7 1.5 .7 .6 .6 1.8 .7-1.2 .7 2.7 .7-1.4 .7-.6 .7-3 .7 .3 .7-2.3 .7 .2 .7-.3 .6 2.4 .7-.7 .7 2 .7-1.8 .7 1.2 .7 .2 .7 1 .7-1.4 .7 1.6 .7-1 .6 .4 .7 1.2 .7 2.1 .7-.3 .7 .2 .7-2.1 .7 .9 .7-2.6 .7 .3 .7-.7 .6 1 .7-1.3 .7 .4 .7-1.3 .7 0 .7-1.7 .7 1.3 .7-.5 .7 .7 .7-.1 .7-.8 .6-1.9 .7 .1 .7-1.9 .7 .4 .7-.6 .7 .3 .7-.4 .7 .5 .6-.5 .7 1.6 .7-2.8 .7 .6 .7-.1 .7 2.2 .7-.8 .7 .5 .7-1.5 .7 4.9 .7-1.9 .6 .8 .7-.4 .7 1.3 .7-5.7 .7-.2 .7-1.3 .7 3.1 .7-5.3 .7 2.6 .6 0 .6 4.1 .6 3.5 .8-.6 .8-7.2 .7 4.4 .7-4.2 .7 3.1 .7-2.6 .7 3.5 .7-2.1 .6 .3 .7-2.9 .7 1.8 .7-1.1 .7 2.7 .7-2 .6 .7 .6-1.1 .7 .7 .6-1.3"/>
<path class="o" d="M2113 213.9 l.7 2.5 .7 .5 .6 2.3 .7-.1 .7 1 .7-.8 .7 .8 .7-2.4 .7 .1 .7-2.2 .7 .5 .7-2.4 .6 2 .7-1.3 .7 1 .7-2 .7 1.1 .7-2.5 .7 .1 .7-.6 .7 .3 .7-2.7 .6 4.4 .7-1.2 .7 1.5 .7 .6 .7 1.1 .7-2.2 .7 1.9 .7-3.4 .7 3.6 .7-4.5 .7 2.5 .6-1.9 .7 3.3 .7-3.9 .7 3.5 .7 1.3 .7 3.4 .7 .3 .7 6.7 .7-3.5 .7 .1 .6-6.3 .7 3 .7-3.6 .7 3.7 .7-1.2 .7 3.1 .7-.9 .7 1.2 .6-3.2 .7 3.8 .7 .1 .7 2.4 .7-1.6 .6 4 .5 2.5 .8-1.3 .8-4.3 .8 .9 .6-1 .7 .6 .7-1.2 .7 1.5 .7-1.3 .7 1.6 .7-1 .7 1.5 .7-2.9 .7 2.4 .7-1.3 .6 .1 .7-1.3 .7 0 .7-1.5 .7 2.1 .7-.7 .7 1.2 .7-1.1 .7 .4 .7 1.7 .8 4.3 .8 1.4 .7 1 .6-.9 .6 1.3 .7-.6 .6 2.3 .7-2.1 .7 .3 .7-.6 .6 .7 .7-1.1 .7 2 .7-2 .7 1.1 .7-.3 .7 .3 .7-.4 .7 .4 .6 .8 .7 1.3 .7-.4 .7 1.4 .7 .2 .7 1.6 .7-2.1 .7 .3 .7-1.6 .7 1.1 .7-2 .6 1.4 .7-1.2 .7-.6 .7-1.1 .7 .4 .7-.1 .7-.2 .7-.6 .7 .8 .6-1.3 .7-.4 .7-.3 .7-.5 .7-.7 .7 .9 .7-1.8 .7 .4 .7-.6 .7 1.2 .6-.7 .7-.3 .7-.3 .7-1.2 .7-.6 .7-.3 .7-1.1 .7-.8 .7-.3 .7 1 .6-.9 .7 .2 .7-.1 .7 1.1 .7-.8 .7 .9 .7 .1 .7 1 .7-.9 .7 .6 .6 .4 .7 1.2 .7 .2 .7 .5 .7 .1 .7 .2 .7-.7 .7-.1 .7-.5 .7 1.4 .7-.8 .6 .6 .7-1.4 .7-.1 .7-.1 .7-.4 .7-.5 .7 .2 .7-2.1 .7 .5 .6-1.1 .7 .8 .7-1.9 .7 .1 .7-.1 .7 .8 .7-1 .7 .1 .7-.8 .7 .8 .7-2.3 .6 .8 .7-2.1 .7-.1 .7-1.9 .7 1.9 .7-2.7 .7 1.7 .7-2.9 .7-.1 .6-1.3 .7 .3 .7-2.8 .7 .1 .7-1.1 .7 .4 .7-1.8 .7 .7 .7-1.3 .7-.5 .6-.9 .7 .2 .7-.8 .7-.1 .7-2.1 .7 1.9 .7-1.2 .7 1.3 .7-1.8 .7 .6 .6-.8 .7 1 .7-1.2 .9 3.3 .8 1.9 .8 .5 .7-2.3 .8 .4 .8-1.6 .7 1.9 .7-2.2 .7 1.1 .7-1.5 .7 .1 .7-1.4 .7-.3 .7-1.2 .7-.3 .7-1.6 .6 .5 .7-.8 .7 1.1 .7-2 .7 .3 .7-1.1 .7 1.4 .7-1.4 .7 2.1 .7-.6 .6 2.2 .7 .1 .7-.1 .7-2.2 .7-.2 .7-.6 .7 3.2 .7-1.7 .7 1.6 .6-.5 .7 1.5 .7-1.7 .7 1.6 .7-.3 .7 .4 .7 .1 .7-.7 .7-.6 .7 1 .6-1 .7 1 .7-.5 .7 1.6 .7 .4 .7 1.9 .7 .4 .7 .7 .7-.6 .7 1 .6-.2 .7 1.3 .7 0 .7 1.7 .7-1.3 .7 .5 .7-2.3 .7 1 .7-3.2 .7 2.3 .6-1.6 .7 .9 .7 1.8 .7 1.7 .7-.2 .7 5.4 .7-6.8 .7 3.5 .7-4 .7 .9 .6-1.4 .7 1.7 .7-.5 .7 3.9 .7-1 .7 1.5 .7-.8 .7 1 .7 .3 .7 .7 .6-.8 .7 0 .7 .1 .7 1.6 .7-1.3 .7 3 .7-1.9 .7 3.7 .7-2.9 .7 1.4 .6-1 .7-.9 .7-2.7 .7 1.8 .7-1.9 .7 .9 .7-.8 .7 .9 .7-2.6 .7 .3 .7-1.8 .6 .5 .7-1.2 .7-.1 .7-1.6 .7 .9 .7-1.2 .7 1 .7-1.1 .7 1 .6-.9 .7 .3 .7-.8 .7 .5 .7-1.1 .7 1.1 .7-.8 .7-.1 .7-1.1 .7 .5 .7-.9 .6 .2 .7-.7 .7 .5 .7-.8 .7 .9 .7-.3 .7 3.2 .7 .1 .7 .9 .6-.9 .7 .5 .7 0 .7 .6 .7-2 .7 .8 .7-1.3 .7 .9 .7-.3 .7 .1 .7-.8 .6 1 .7-1.1 .7 .1 .7-1.6 .7 1.3 .7-.2 .7 1 .7-1.4 .6 1.6 .7-1.8 .7 1 .7-1.3 .7 1.2 .7-.1 .7 2.5 .7 1.7 .7-1.6 .7-2 .7 3.4 .7-4.3 .6 1.8 .7-2.3 .7 2 .7-1.6 .7 3.9 .7-.3 .7 4.3 .7 .2 .7 5 .6-3.3 .7 1.3 .7-3 .7 0 .7-2.1 .7 2.6 .7-1.9 .7-.5 .7-.8 .7 1 .6-1.6 .7 .2 .7-2.7 .7 .9 .7-3.4 .7 1.5 .7-.9 .7 1.5 .7-2.2 .6 1.3 .7-.5 .7 .8 .7 0 .7 1.7 .7-1 .7 1.2 .7-.7 .7 1.9 .7-1.7 .7 0 .6-2 .7 .6 .7-1.6 .7 .7 .7-2.6 .7 .8 .7-1.1 .7 .4 .7-.8 .7 .5 .6-.6 .7-1.2 .7-1.3 .7 1.3 .7-2.4 .7 2.7 .7-3.2 .7 .4 .7-3.1 .6 .7 .7-3.5 .7 1.1 .7-1.8 .7 .9 .6-1.8 .7 .9 .7 .5 .7 .1 .6-3.9 .7 2.7 .7-3.7 .6 3.5 .6 .5 .7 2.3 .7-2.4 .7 1.4 .7-1.8 .7 1 .6-2.7 .7 2.9 .7-2.6 .7 1.8 .7-2.1 .7 1.5 .7-.9 .7-.1 .7-1.5 .7 3.5 .7-.3 .6 .9 .7-1.2 .7-.2 .7-.8 .7-.3 .7-1.8 .7 .8 .7-1.8 .7 1.5 .7-3.1 .6 .5 .7-2.1 .7 1.7 .7-1.4 .7 .7 .7-1 .7 2.7 .7-1.3 .7 1.6 .7 .1 .7-.5 .6-1.1 .7 3.3 .7-3 .7 1.8 .7-4 .7 4.8 .7 .3 .7 .9 .7-6.4 .7 .2 .6-.3 .7 .2 .7-.9 .7 1 .7 1.8 .7 3.7 .7-2.5 .7 .9 .7-1.6 .6 2.6 .7-2.9 .7 .4 .7-1.8 .7 1.3 .7-3.5 .7 1.8 .7-.8 .7 1.1 .7-1.2 .6 .6 .7-.3 .7 .3 .7-1.1 .7 .4 .7-.4 .7 2 .7-.5 .7 1.4 .7-.2 .6 .6 .7-1.1 .7 .2 .7-1 .7 .3 .7 .3 .7 .8 .7 0 .7 1.8 .7-.4 .6 .5 .7 .9 .7 .6 .7-1.1 .7 .3 .7-.2 .7 .3 .7-.8 .7 .2 .6-.7 .7 .8 .7-1 .7 .1 .7-.2 .7 .1 .7-.6 .7 .9 .7-.9 .7 0 .7-.7 .6 .6 .7-.2 .7 .2 .7 .2 .7 1.3 .7 .1 .7 .6 .7 .3 .7 0 .6-.9 .7-1 .7-1.6 .7 .4 .7-1.2 .7 1.2 .7-1.7 .7-.2 .7-.6 .7 .6 .7-2.5 .6 .2 .7-3.1 .7 .8 .7-2.1 .7 1 .7-.5 .7 1.3 .7-.8 .7 .8 .6-1.4 .7 .4 .7-.5 .7 .6 .7-1.4 .7 .1 .7-1.6 .7 .9 .7-.3 .7 1.2 .7-1.8 .6 1.8 .7-1.7 .7 .3 .7-1.7 .7 1.8 .7-2 .7 .6 .7 .9 .7 4.6 .6 .3 .7 .5 .7-.8 .7 1.7 .7-1.8 .7 .8 .7-1 .7-.2 .7-.4 .6 .5 .7-1 .7 .5 .7-.9 .7 .5 .7-1.6 .7 1.1 .7-1 .7 .9 .7-.6 .6 .1 .7-.5 .7 .9 .7-.3 .7 .8 .7-.9 .7 .1 .7-.2 .7 1.8 .7 .3 .7 2.7 .7-1.9 .6-.3 .7-1.8 .7-.1 .7-1.1 .7-.3 .7-.5 .7-.9 .7-.6 .6-.1 .7-1.8 .7-.1 .7 .2 .7 .8 .7-1.4 .7 .3 .7-.5 .7 .3 .7 0 .7 .7 .6 .2 .7-.2 .7-.6 .7-.5 .7-.8 .7-.3 .7-.1 .7-.6 .7-.9 .7 .8 .6 0 .7-.2 .7-1.7 .7 .6 .7-3.2 .6 3 .6-5.3 .7 3.4 .6-1.6 .8 5 .8 2 .7 1.4 .7-1.4 .7-.2 .7-1.5 .7 1.5 .7-2.4 .7 1.7 .7-1 .6-.8 .7-.7 .7 2.2 .7-2 .7 1.5 .7-2.3 .7 2.2 .7-2.5 .7 1.8 .7-.1 .7 .7 .6-.4 .7 1.6 .7-1.9 .7 .6 .7-3.1 .7 .9 .7-.3 .7-.1 .7-1.3 .7 2 .6-1.4 .7 .7 .7-.3 .7 1.4 .7-2.3 .7-.2 .7-1.9 .7 .2 .7-1.4 .7 1.1 .7-2.5 .6 .6 .7-2 .7 .9 .7-2.1 .7-.4 .7-2 .7 1.6 .7-2 .7 2.6 .6 .6 .7 2.4 .7-1.2 .7 .5 .7-1.6 .7 .7 .7-2.2 .7 .7 .7-.6 .6-.6 .7-1.5 .7 1 .7-.1 .7 1.4 .7-.6 .7 1.2 .7-1.7 .7 .7 .7-1.3 .7 1 .6-.9 .7 1.4 .7-.9 .7 2.7 .7-1.1 .7 2.2 .7 .7 .7 1.7 .7-2.4 .6 1.4 .7-.7 .7 .6 .7-.4 .7 2 .7-.8 .7 4 .7-2.6 .7 .5 .7-1.1 .6 0 .7-1.4 .7 0 .7-.7 .7 .8 .7-.2 .7 0 .7-.7 .7 2.7 .7-.9 .6 1.4 .7-1.1 .7 2.2 .7-1 .7-.7 .7-2.5 .7 .9 .7-2.4 .7 2.2 .7-1.8 .6 1.7 .7-1.4 .7 1.6 .7-1.1 .7 1 .7 .3 .7 .9 .7-1.4 .7 .5 .7-.4 .6 1.1 .7 0 .7 1.3 .7 1.1 .7 .3 .7-1.9 .7 .4 .7-2.4 .7 1 .7-1.6 .6-.1 .7-.7 .7 .5 .7-2.5 .7 2.1 .7-2.3 .7 1.4 .7-1 .7 .4 .7-.6 .7 .3 .6-.9 .7-.5 .7-.8 .7-.1 .7-.3 .7 .6 .7-.6 .7 .9 .6-.5 .7 .8 .7-.4 .7-.1 .7-1.4 .7 .9 .7 0 .7 .9 .7-1.2 .7 2.4 .7-1.2 .6 1.5 .7-.4 .7-.3 .7-2.7 .7 .4 .7-1.7 .7-.3 .7-3.4 .7 3.4 .6 .5 .6 3.8 .6 .4 .8 1.4 .8-5.1 .7 1.9 .7-2.3 .7 2.6 .7-1.4 .7 1.6 .7-1 .6 .4 .7-2.4 .7 .7 .7-.3 .7 .4 .7-.6 .6 .5 .6-.6 .7-.1 .6-1"/>
</g>
<path class="z" d="M2083.93 214.00H2740.08"/>
<text class="t" transform="translate(2411.70 24.00) scale(0.964 1)">CHF</text>
</g>
<g>
<rect x="58.93" y="436.90" width="655.32" height="362.30" fill="#eaeaf2"/>
<path class="g" d="M87.50 436.90V799.20M180.50 436.90V799.20M273.50 436.90V799.20M365.50 436.90V799.20M458.50 436.90V799.20M551.50 436.90V799.20M643.50 436.90V799.20M58.93 447.50H714.25M58.93 504.50H714.25M58.93 561.50H714.25M58.93 618.50H714.25M58.93 676.50H714.25M58.93 733.50H714.25M58.93 790.50H714.25"/>
<clipPath id="c4"><rect x="58.93" y="436.90" width="655.32" height="362.30"/></clipPath>
<g clip-path="url(#c4)">
<path class="b" d="M87.3 622.9 l.7-.4 .7-4 .6-1 .7-4.4 .7 .5 .7-1.3 .7 .7 .7-1.5 .7 1.2 .7-.2 .7-.2 .7 0 .7 .2 .6-.3 .7 .8 .7-.7 .7 1.8 .7-.9 .7 .3 .7-.5 .7-.1 .7-.4 .7 1 .7 .1 .6 1.5 .7 .4 .7 1.4 .7-.9 .7 .6 .7-1.1 .7 1.8 .7-1.5 .6 3.2 .7-.6 .7 .2 .7-.7 .7 5.8 .7-1.4 .7 6.4 .7-.9 .7 6.2 .7-6.3 .7 1.2 .6-3.9 .7-1 .7-1.1 .7 1.1 .7 0 .7 4.5 .7-4.9 .7 7.7 .7-3 .6 4.9 .7 1.4 .7 1 .7-3.6 .7 10.9 .7 1.2 .7 3.2 .7-7 .7-3.8 .7-4.7 .6 4.1 .7-4.2 .7 1.2 .7-2.9 .7-.4 .7-1.2 .7 5.1 .7-2.4 .7 3.9 .7-3.3 .7 6.7 .7-1.3 .6 .2 .7-3.1 .7 4.3 .7-5 .7 3.4 .7-3.1 .7 6.3 .7-1.7 .7 3.3 .6 .5 .7 7.3 .7-1.7 .7 7.1 .7 .4 .6-1.7 .6-.9 .6 1.8 .7-4.1 .7 10.6 .8-8.4 .7 3.3 .8-9.4 .7 9.9 .7-.7 .7 1.8 .7-5.4 .7 3.6 .7-5.9 .7 10.2 .6-1.1 .8 6.9 .8 1.2 .8 6.7 .6-11.2 .6 .8 .6-8.5 .7 0 .7-1.3 .6-.3 .7-1.1 .7 2.9 .7-5 .7 1.1 .7-2.9 .7 3 .7-4.7 .7 2.6 .7-1.8 .7 2.6 .6-.3 .7 2.5 .7-3.1 .7 .2 .7-3.3 .7 1.6 .7-2.9 .7 .4 .7-2.6 .7 .2 .6-.6 .7 .4 .7-.7 .7 .1 .7-1.4 .7 .2 .7-1 .7 .6 .7 .6 .7 1.7 .6-.5 .7 .3 .7-.1 .7 1.8 .7-2.6 .7 2.9 .7-3.5 .7 2 .6-1.5 .7 3.3 .7 .3 .7 .9 .7-.9 .7-.1 .7-2.4 .7-.6 .7-2.2 .7 1.5 .7-1.1 .7 1.9 .6-1.4 .7-.6 .7-.7 .7 .2 .7-1.5 .7 1.3 .7-1.9 .7 1.1 .7-1.4 .6-.1 .7-.9 .7 1.8 .7-1.8 .7 1.6 .7-.7 .7 2 .7-3.2 .7-.2 .7-1.2 .6-.6 .7-1 .7 1 .7-1.5 .7-.2 .7-1.9 .7 2.2 .7-1.8 .7-.6 .7-1 .6 1.5 .7-.7 .7 2.4 .7-1.5 .7-.8 .7-2.7 .7 2.1 .7-3.4 .7 1.7 .7-2 .6-.3 .7-1.8 .7 0 .7-.1 .7 .9 .7-2 .7 2.7 .7-2.5 .7 .7 .6-.9 .7-.3 .7-.5 .7 4.6 .7-1.2 .7 2.9 .7-1.8 .7 .1 .7-.7 .7 .4 .6-2.6 .7 .4 .7-1.2 .7 .4 .7-2.2 .7-.2 .7-1.2 .7 .6 .7-.9 .7 .2 .7-1.1 .6 .1 .7-1.4 .7 1.3 .7-1 .7 1.5 .7-1.4 .8 1.5 .8 .3 .7 2.1 .7-1.9 .6-.6 .6-2.4 .7-.5 .6-2.7 .7 0 .7-.4 .7 1.7 .7-1.2 .7-.5 .7 .4 .6 .8 .7-.6 .7 2.2 .7-.9 .7 1.1 .7-2.1 .7-.3 .7-2.6 .7 2.6 .6-2 .7 4.9 .7-3.3 .7 1.5 .7-1.1 .7 2 .7 1.7 .7 3 .7 1.9 .7 3.9 .7-4.2 .6 4.1 .7-1.7 .7 2.6 .7-4.6 .7 .9 .7-1.3 .7 .9 .7-2.3 .7 2.7 .6 1.6 .7 4.5 .7-2.6 .7 2.2 .7-2 .7 1.1 .7 .1 .7 3.9 .7-1.5 .7 3.3 .7-4.2 .6 8.1 .7 2.6 .7 6 .7-2.8 .7 6.8 .7-5.3 .7 4.9 .7-4.1 .7-.9 .7-2.6 .6 7 .7-4.5 .7 8.9 .7-.5 .7 2.8 .7 1 .7-1.5 .7-4.4 .7-1.3 .6-3.5 .7-1.5 .7-3.5 .7 .1 .7-3.1 .7 3 .7-3.1 .7 6.1 .7-4.4 .6 .7 .7-4 .7 .4 .7-5.1 .7 1 .7-1.3 .7 1.2 .7-2.6 .7 .5 .7-3.5 .7 3.4 .6-2.9 .7-.1 .7-2.5 .7 3.1 .7-3.1 .7 2.7 .7-.6 .7 3.9 .7 .4 .7 2.3 .6-3.1 .7 2.7 .7-5.9 .7 .5 .7 1 .7 3 .7 2.2 .7 .3 .7-.7 .7 1.1 .6-1.7 .7 .3 .7-2.2 .7 2.1 .7-2.9 .7 1.1 .7-3.4 .7 1.8 .7-.1 .6-.7 .7-.9 .7-.4 .7-.7 .7 1.5 .7-1.3 .7 1.4 .7-2.8 .7 1.3 .7-2.3 .7 1 .6-4.5 .7 1.6 .7-2.2 .7 2.6 .7-1.1 .7 1.2 .7-.1 .7-.8 .7-.5 .7 2 .6-1.7 .7 2 .7-1.3 .7 2 .7 1.3 .7 2 .7-3.8 .7 12.2 .7 .4 .6 3.3 .6-.9 .5 5.1 .8-7.5 .8 1.4 .8-5.4 .7 2.6 .7-.9 .7 5.3 .7-5.2 .7 .2 .6-4.4 .7 2.3 .7-3.4 .7 .4 .7-2.5 .7 .2 .7-5.3 .7 4.4 .7-.8 .7 2 .6 2.5 .7 3 .7-3.2 .7 5.6 .7 .4 .7 .8 .7-2.2 .7 2.9 .7-6 .7 .9 .6-.9 .7-.5 .7-3.2 .7 0 .7-3.6 .7 1.4 .7-1.1 .7 1.9 .7-1.9 .7 2.2 .7-2.7 .6 1.2 .7-1.9 .7-.7 .7-.2 .7-1 .7 .1 .7 .2 .7-1.6 .6 1.7 .7-1.2 .7 1 .7-.2 .7 .1 .7-.8 .7 .3 .7-.5 .7-.6 .7-2.1 .6 3.1 .6-.2 .5 1.1 .7-2.1 .7 .3 .7-1.8 .7-1.6 .7-3.5 .7 2.3 .7-2.2 .6-.1 .7-2.2 .7 .1 .7-1 .7 .5 .7-1.4 .7-.1 .7-.6 .7 1.6 .7-2.3 .7 .8 .6-.1 .7 1.2 .7-1.4 .7 .7 .7-.8 .7 .2 .7-.8 .7 .3 .7-1.2 .6 .1 .7-.8 .7 .4 .7-2.1 .7 .5 .7-.3 .7 1.3 .7 0 .7 1.2 .6-.4 .7 .2 .7-2.1 .7 3.4 .7-3.8 .7 1.5 .7 .5 .7 3.2 .7-.8 .7-.6 .7-2 .6-.8 .7-.6 .7 2.9 .7-1.2 .8-2.1 .7-2 .8-2.4 .8-4.1 .6 3.9 .6-3 .7 .7 .6-4.4 .6 3.2 .7-.7 .7 2.5 .7-2.8 .7 1.6 .7-.5 .7 1.1 .6 .9 .7 1 .7 .8 .7-.8 .7-4.3 .7 3.8 .7 1.9 .7 5.4 .7-2 .7-.8 .6-3.7 .7-.2 .7-2 .7 2.9 .7-3.7 .7 4 .7-1.3 .7 1.7 .7 1.6 .7 2.4 .6-1.6 .7 4.6 .7-3.7 .7 2.8 .7-.4 .7 .4 .7-3.8 .7 1.7 .7-1.8 .7 .5 .6-1 .7 2 .7-2.1 .7 4.8 .7-2.5 .7 1.3 .7-1.4 .7-1.4 .7-1 .7-.1 .7-2.1 .6 3.3 .7-3 .7 1 .7-.7 .7 .9 .7-.8 .7 .2 .7-.9 .7 .7 .7-3.3 .6-.1 .7 .1 .7-.1 .7-1.3 .7 .6 .7-2.6 .7 .9 .7-1 .7-.6 .6-2.4 .7 .8 .7-1.6 .7-.3 .7-.3 .7 .8 .7-.7 .7 1.5 .7-.4 .7 1.7 .7-1.1 .6 1.2 .7-1 .7 1.1 .7-.7 .7 .8 .7-1.8 .7 .3 .7-1.9 .7-.1 .6 0 .7 1.2 .7-.9 .7 0 .7 .7 .7 1.9 .7-2.9 .7 .2 .7-1.7 .7 3.5 .7 .9 .6 2.3 .7-.8 .7 0 .7-1.4 .7-1.1 .7-2.6 .7 .8 .7-.3 .7 1.6 .6-3.4 .7 2.3 .7-2 .7 2.3 .7-.9 .7 2 .7-.4 .7 1.3 .7-1.5 .7 3.3 .6-1.3 .7 1.5 .7-.5 .7 .9 .7-.5 .7 2.1 .7 .2 .7 3 .7-2.4 .7 .6 .7-.9 .6-.8 .7-2 .7-.8 .7-1.9 .7 .7 .7-3.3 .7 .3 .7-2.3 .7 1.7 .6-.4 .7 4 .7-3.3 .7 2.8 .7-3.2 .7 .7 .7-4 .7 2.6 .7-.2 .7 1.9 .6-2.8 .7 2 .7-3.1 .7 2.2 .7-3.8 .7 0 .7-2.6 .7 3.8 .7-.8 .7-.4 .7-1.5 .6 1.9 .7-3 .7 1.7 .7-2.3 .7 3.9 .7-4.3 .7 9.8 .7 .5 .7 8.7 .6-4.2 .7 8.4 .7-5.7 .7 1.3 .7-10.1 .7 1.7 .7-5 .7 1.4 .7-8.5 .7 4.4 .6-3.4 .7 3.7 .7-3.2 .7 6.3 .7-2.3 .7-.3 .7-.2 .7 3 .7-2.5 .7 4.7 .6-.2 .7-.7 .7-6 .7 .8 .7-2.8 .7 2.1 .7 .2 .7-.4 .7-2.2 .7 .2 .6-4 .7 1.1 .7-2.5 .7 .5 .7-3.5 .7 2 .7-1.8 .7 .9 .7-.5 .6 .2 .7-.1 .7 .5 .7-2.8 .7 1 .7-.8 .7 2 .7-2.6 .7 .2 .7-1.1 .7-.4 .6-1.4 .7 2.7 .7-2.3 .7 1.4 .7-2.3 .7 1.2 .7-.9 .7 1.4 .7-.3 .6 .7 .7-2.3 .7 2.2 .7 .4 .7 4.3 .7 .2 .7 4.4 .7-3.5 .7 .5 .7-3.8 .6 5 .7-1.5 .7 2 .7-1.7 .7 2.1 .7-1 .7 3.1 .7-2.3 .7 3.2 .7-6.4 .7-.1 .6-.3 .7 2.2 .7 .8 .7 1.4 .7 .9 .7 1.8 .7-6.4 .7-1.4 .7-3 .7 1.1 .6-1.2 .7-.1 .7-2.7 .7 1.1 .7-2.3 .7 .8 .7-2.5 .7 1.5 .6-.8 .7 .7 .7-1.4 .7 .1 .7-.4 .7-.4 .7-.7 .7 1.1 .7-.8 .7 .7 .7-.8 .7 .8 .6-1.3 .7 .7 .7-.8 .7 1.5 .7-.9 .7 1.4 .7-.1 .7 1 .7-.9 .7 2 .6 .3 .7-.2 .7-1.7 .7-1.1 .7-2.4 .7 .8 .7-.7 .7-.1 .7-2.1 .7 1.2 .6-2 .7 .5 .7-2.9 .7-.8 .7-1.4 .7 .7 .7-1.1 .7 1.4 .6-1.5 .7 2.1 .7-.1 .7 1.4 .7-1.1 .7 1.3 .7 .6 .7 1 .7 .6 .7-.1 .7-2.9 .7 1.4 .6-1.2 .7 .2 .7-.1 .7 2.3 .7-2.4 .7 2.7 .7-2.4 .7 1.4 .7-3.4 .6 1.9 .7-1.5 .7 2.4 .7-7.2 .7 4.7 .7-5.8 .7 1.2 .6 .7 .6 3.2 .6 .5 .7 7.3 .8-6.1 .7-2.4 .8-3 .7 2.7 .7-4.3 .7 2.8 .7-2.3 .7 3.9 .7-2.4 .6 1.7 .7 0 .7 .8 .7-2.6 .7-.7 .7-1.4 .7 2 .7-2.5 .7-.4"/>
<path class="o" d="M87.3 620.9 l.7-.1 .7-1.5 .7 .1 .6-1.4 .7 .4 .7 0 .7 .3 .7-.3 .7 .5 .7-.6 .7-.5 .7 0 .7 0 .6-.1 .7 .5 .7-1.3 .7 .7 .7 .2 .7-.3 .7-.3 .7 2.1 .7-.4 .7 1.5 .6-.3 .7 .8 .7 .5 .7 .1 .7-.8 .7 1.1 .7-1.1 .7 1.3 .7-.8 .7 .2 .6-.6 .7 1.3 .7-.2 .7 1.9 .7-.8 .7 3 .7-1.2 .7 .1 .7-1.9 .7 2.3 .6-2.2 .7 1.3 .7-1 .7 1.4 .7-.5 .7 2.6 .7-.6 .7 .9 .7-.3 .6 2 .7 .5 .7 .8 .7 .3 .7-.2 .7-.1 .7 .4 .7-.8 .7 .6 .7-1.4 .7 .6 .6-.6 .7 .4 .7-.6 .7 1 .7-.5 .7 0 .7 .5 .7-.5 .7-.3 .6 .4 .7-.3 .7-.2 .7 .4 .7 1.4 .7-1 .7 1.2 .7-.3 .7 1.6 .7 .8 .7 .9 .6 .4 .7 .6 .7 .1 .7 1.4 .7-1.6 .7 1.6 .7-.9 .7 1 .7 0 .6 .6 .7-1.2 .7 .4 .7-1 .7 .5 .7-.2 .7 .3 .7 .6 .7 .6 .7-1.4 .6 1.7 .7 0 .7 1.2 .7-.4 .7 1.1 .7-1.2 .7 .1 .7-.8 .7 .2 .7-1.1 .7 .1 .6-.7 .7 .1 .7-.7 .7 .9 .7-1.3 .7 .6 .7-.4 .7-.2 .7-.9 .6 .2 .7-.8 .7 1.4 .7 .2 .7 .5 .7-1.1 .7 .4 .7-1.2 .7-.5 .7-.3 .6-.4 .7-.6 .7-.4 .7-1.8 .7 .4 .7-.6 .7 .6 .7-.3 .7 .4 .7 .1 .6 1 .7-.4 .7 1.5 .7 .1 .7 1.1 .7-.9 .7 .5 .7-.5 .7-.5 .7-.6 .6 1.8 .7-.5 .7 1.6 .7-2 .7 1.1 .7-2 .7 .4 .7-.7 .7-.5 .7-1 .7 .7 .6-1 .7 .8 .7-.9 .7 .2 .7-1.6 .7 .1 .7-.9 .7 .5 .7-1 .6 0 .7-.5 .7 1.1 .7-.8 .7 1 .7-.6 .7 1.4 .7-1.9 .7-.3 .7-1.7 .6 1.9 .7-2.3 .7 .1 .7-1 .7 .3 .7-1.2 .7 .7 .7-.7 .7 .7 .7-2.1 .6 1.7 .7-1.2 .7 1.3 .7-.4 .7 .3 .7-.9 .7 1 .7-1.7 .7 .4 .7-2.8 .6-.4 .7-1.5 .7 .6 .7-.4 .7 .2 .7-1.9 .7 .6 .7-.8 .7 .6 .6-.8 .7 1.2 .7-.6 .7 1.1 .7 .7 .7 1.9 .7-2.7 .7 .6 .7-1.4 .7 .8 .6-1.2 .7 .5 .7-1.2 .7 .3 .7-1 .7-.4 .7-.9 .7-.5 .7-.9 .7 .5 .6-1.1 .7 1.3 .7-1 .7 .6 .7-.3 .7 .6 .7-.9 .7 .5 .7-.6 .7 0 .6 .6 .7 1.2 .7 .2 .7-.5 .7-1.2 .7-.5 .7-1.6 .7 .4 .7-1.1 .7 .7 .7-.6 .6 1.2 .7-.1 .7 1.1 .7-.1 .7 1.1 .7-1.4 .7 1.1 .7-.1 .7 .5 .6-1.4 .7-.1 .7-.3 .7 .6 .7-.3 .7 .1 .7-.8 .7 3.1 .7 0 .7 2.4 .6 .2 .7 2.1 .7-.8 .7 .9 .7-.7 .7 .6 .7-.7 .7 .7 .7-2.3 .7 2.8 .6-.1 .7 1.6 .7-.6 .7 2 .7-.3 .7 1.9 .7-1.8 .7 .7 .7 .8 .7 1.6 .6 .4 .7 1 .7-.2 .7 .5 .7 .5 .7 .6 .7-1 .7 .4 .7-.7 .7 .5 .7-.7 .6 1.9 .7-.7 .7 1.6 .7-1.6 .7 3.1 .7-.8 .7-.2 .7-1.5 .7 .7 .6-1.8 .7-.2 .7-1.5 .7 .2 .7-.7 .7 .7 .7-1.1 .7 1.1 .7-.6 .7-.4 .6-1.4 .7 .6 .7-1.5 .7 .6 .7-.6 .7-.2 .7-.7 .7 .2 .7-.2 .7 .1 .6-.6 .7 .3 .7-.3 .7 .3 .7-.5 .7 .3 .7-.1 .7 .5 .7 .2 .6 .8 .7 .4 .7 .7 .7-.4 .7 .5 .7-.1 .7 .3 .7 .1 .7 .1 .7-.1 .7 .5 .6-1 .7 .3 .7-.2 .7 0 .7-.5 .7 .2 .7-.9 .7 .4 .7-.6 .7 .5 .6 0 .7 .4 .7-.7 .7 .5 .7-.9 .7 .7 .7-.6 .7 1.3 .7-1.5 .7-.6 .6-1.5 .7-.2 .7-.4 .7 .3 .7-.5 .7 .5 .7 .1 .7 .7 .7 .1 .6 .1 .7 0 .7 1.8 .7-1 .7 .8 .7-.7 .7 2.7 .7 1.3 .7 2.2 .7-.3 .7 .2 .6-.9 .7 .1 .7-.2 .7 1.1 .7-1.2 .7 .2 .7-1.4 .7 1.8 .7-1.1 .6 .3 .7-1.9 .7 .6 .7-.5 .7 .3 .7-1 .7 .7 .7-1.4 .7 .6 .7 .4 .7 1.4 .6-1.3 .7 2.3 .7-.3 .7 1.6 .7-.3 .7-.3 .7-1 .7 1.3 .7-1.5 .7-.3 .6-.8 .7-.6 .7-1.3 .7 .8 .7-1 .7 .2 .7-.6 .7 .7 .7-1.1 .7 .8 .6-1.2 .7 .2 .7-.6 .7 0 .7-1.4 .7 .5 .7-.4 .7-.4 .7-.4 .7 .4 .6 .1 .7 .5 .7-.4 .7 .6 .7-.7 .7 1.1 .7-2 .7-.2 .7-.7 .6 1.4 .6 .7 .5 .6 .7-1.3 .7 1.2 .7-3.1 .7 1.3 .7-1.9 .7 .6 .7-1.3 .6 .5 .7-1 .7-.3 .7-1.5 .7 1.2 .7-1.3 .7-.1 .7-1 .7 .2 .7-.4 .7 .6 .6-1.1 .7 .7 .7-.3 .7 .7 .7-1.1 .7 .2 .7-1.6 .7 1.5 .7-1 .6-.6 .7-.4 .7 0 .7-1.5 .7 .9 .7 .7 .7 .7 .7 .1 .7 1.1 .6-1 .7 2 .7-.6 .7-.3 .7-.5 .7 0 .7 .9 .7 2.9 .7-2 .7 .4 .7-2.5 .6 .9 .7-.9 .7 1.2 .7-.9 .8 0 .7-1.5 .8 .1 .8-2.4 .6 1 .6-1.1 .7-.1 .6 .1 .6-.2 .7-.6 .7 .4 .7-.2 .7 .4 .7-.5 .7 1.3 .6-.6 .7 1.1 .7-.8 .7 1.2 .7-1.1 .7 1.1 .7 .6 .7 1.4 .7-.3 .7-.2 .6-1.7 .7 1 .7-1.2 .7 0 .7-.5 .7 1.9 .7-.4 .7 1.5 .7 .1 .7 1.8 .6 .1 .7 1.8 .7-2.3 .7 0 .7 0 .7 1.1 .7-2.5 .7 1 .7-.7 .7 1.5 .7-.9 .6 .3 .7-1.2 .7 2.6 .7 0 .7 .3 .7-.5 .7 .7 .7-2.2 .7 1.2 .7-1.6 .6 .8 .7-1.4 .7 .1 .7-.6 .7 1.5 .7-1.1 .7 .1 .7-.4 .7-.2 .7-2.5 .6 0 .7-1.6 .7 .8 .7-.9 .7 1.7 .7-2.5 .7 .5 .7-2.2 .7 .7 .6-1 .7-.7 .7-1.2 .7-.2 .7-1.6 .7 1.3 .7-.3 .7 1.9 .7-1.1 .7 .4 .6-.4 .7 0 .7-.5 .7 .8 .7-.7 .7 .1 .7-.7 .7-.2 .7-.9 .7 .4 .6-1 .7 1 .7 .1 .7 0 .7 .1 .7 1.3 .7-2 .7 2.7 .7-.1 .7 2.8 .6-1.3 .7 .5 .7-1.7 .7 1.2 .7-2.6 .7 1.3 .7-2.6 .7 1.7 .7-.9 .7 .7 .6-.6 .7 .9 .7 .2 .7 .1 .7 0 .7 1.7 .7-.9 .7 2 .7-1.2 .7 1.1 .6-.1 .7 .9 .7-.2 .7 .9 .7 .4 .7 1.3 .7-.9 .7 1.1 .7-.1 .7 .5 .7-1.7 .6-.7 .7-.7 .7 .3 .7-1.9 .7 .3 .7-.5 .7 .5 .7-1 .7 0 .6-.5 .7 .8 .7-.2 .7 1 .7-1.2 .7 .2 .7-1 .7 2.5 .7-.6 .7 .8 .6-1.6 .7 .3 .7-1.9 .7 1.7 .7-1.8 .7-.6 .7-1.6 .7 4.1 .7-3.3 .7 .9 .7-1.9 .6-.9 .7-.8 .7 4.1 .7-6.2 .7 1.7 .7-.2 .8 9.5 .8 2.3 .7 1.5 .6-4.1 .7 3.8 .6-5.8 .6 2.3 .7-3.3 .7 1.1 .7-.5 .7 1.7 .7-1.2 .6 .3 .7-.4 .7 0 .7 .2 .7 .3 .7-1 .7 1.3 .7-.1 .7 .1 .7 .4 .7 .7 .6-1.5 .7-.4 .7-1.6 .7-.1 .7-.5 .7 .4 .7-1.4 .7 .3 .7-.6 .7 .5 .6-1.7 .7-.7 .7-1.2 .7 .2 .7-.8 .7 .3 .7-1.7 .7 .7 .7-.9 .6 .6 .7-1.4 .7 1.3 .7-1.1 .7 .4 .7-1 .7 .1 .7-.6 .7 .1 .7-.1 .7 .3 .6 0 .7-.4 .7-.5 .7 .1 .7-.6 .7 1.3 .7-.7 .7 .7 .7 0 .6 .7 .7-.3 .7 .8 .7-.7 .7 1.1 .7 0 .7 .7 .7 .7 .7 .8 .7-.9 .7 1.4 .6-.8 .7 .1 .7-1.1 .7 1.6 .7-1.1 .7 1.6 .7-1.2 .7 .5 .6-1.2 .7 .7 .7-1.8 .7 2.6 .7 .4 .7 1.3 .7-.5 .7-1.1 .7-1.6 .7 1 .7-2.5 .6 .3 .7-.7 .7 .1 .7-.4 .7 0 .7-.8 .7-.2 .7-.6 .7 .4 .6-.9 .7 .1 .7-.6 .7 .3 .7-.3 .7 .4 .7-.9 .7 .4 .7-.6 .7 .2 .7-.6 .7 .6 .6-.3 .7 .3 .7-.9 .7 1.5 .7-.9 .7 1.4 .7-.5 .7 .1 .7 .3 .7 1.1 .6-.1 .7-.6 .7-1.7 .7 .2 .7-1.5 .7 .4 .7-2.1 .7 .4 .7-2 .7 1 .6-2.9 .7 .7 .7-2.1 .7 .8 .7-1.4 .7 .5 .7-.2 .7 .8 .6-1 .7 .8 .7 .2 .7-.3 .7 .4 .7 1.3 .7-.5 .7 2.3 .7-.3 .7-.2 .7-1.2 .7 .4 .6-1.3 .7 .7 .7-.6 .7 .5 .7-1.3 .7 1.3 .7 .1 .7 .9 .7-1.2 .6 .2 .7-.3 .7-.5 .7-2.1 .7 .3 .7-2.6 .7 .3 .6 .7 .6 2.3 .6 .3 .7 1.7 .8-2.5 .7 1.5 .8-3.3 .7 .9 .7-.8 .7 .6 .7-.1 .7 1.1 .7-2.4 .6 .5 .7-.7 .7 .5 .7-.6 .7 .1 .7-.1 .7 .4 .7-2 .7 .2"/>
</g>
<path class="z" d="M58.93 618.00H714.25"/>
<text class="t" transform="translate(386.29 429.00) scale(0.964 1)">EUR</text>
<text class="y" transform="translate(44.23 795.66) scale(0.935 1)">−300</text>
<text class="y" transform="translate(44.23 738.50) scale(0.935 1)">−200</text>
<text class="y" transform="translate(44.23 681.34) scale(0.935 1)">−100</text>
<text class="y" transform="translate(44.23 624.18) scale(0.935 1)">0</text>
<text class="y" transform="translate(44.23 567.02) scale(0.935 1)">100</text>
<text class="y" transform="translate(44.23 509.86) scale(0.935 1)">200</text>
<text class="y" transform="translate(44.23 452.70) scale(0.935 1)">300</text>
</g>
<g>
<rect x="733.95" y="436.90" width="655.05" height="362.30" fill="#eaeaf2"/>
<path class="g" d="M763.50 436.90V799.20M855.50 436.90V799.20M948.50 436.90V799.20M1041.50 436.90V799.20M1133.50 436.90V799.20M1226.50 436.90V799.20M1319.50 436.90V799.20M733.95 447.50H1389.00M733.95 504.50H1389.00M733.95 561.50H1389.00M733.95 618.50H1389.00M733.95 676.50H1389.00M733.95 733.50H1389.00M733.95 790.50H1389.00"/>
<clipPath id="c5"><rect x="733.95" y="436.90" width="655.05" height="362.30"/></clipPath>
<g clip-path="url(#c5)">
<path class="b" d="M762.6 618.8 l.5 3.1 .6 .8 .7 3.3 .7-.4 .6 2 .7-3 .7-.1 .7-4.2 .7 2.6 .7-1.1 .7 4.9 .7-1.2 .7 1.6 .7-2.5 .6 1.8 .7-1 .7-1.7 .7-1 .7 1 .7-.7 .7 1.5 .7-1.5 .7 2.5 .6 1 .7 0 .7-1 .7 1.6 .7-.7 .7 1.1 .7-1.6 .7-.5 .7-.2 .7 2.1 .6-2.9 .7 3 .7-2.7 .7 1.2 .7 .8 .7 3.9 .7 .3 .7 4.6 .7-5.6 .7 .8 .6-1.1 .7 .6 .7-3 .7 3.7 .7-2.3 .7 2.8 .7 .7 .7 4.3 .7-1.7 .6 2.6 .7-2.4 .7 2.4 .7-1.1 .7 3.7 .7 3.9 .7-.1 .7-3.9 .7-1.3 .7-1.5 .6 1 .7-1.6 .7 2.7 .7-3.1 .7 1.6 .7-1.9 .7 1.7 .7-2 .7 2.7 .7-1.8 .7 2 .6-1.7 .7-.5 .7-2.8 .7 4 .7-1.1 .7 3.8 .7-3.6 .7 3.8 .7 1.5 .6 3.4 .7 .5 .7 6.5 .7 1.9 .7 .2 .7-4.2 .7-1.5 .7-1.2 .7 6.2 .7 .7 .6-1.3 .7-3.1 .7-.8 .7-1.2 .7 4.3 .7-4.2 .7 .8 .7 .6 .7 3 .7 1.6 .7 4.6 .6-2.5 .8 2.8 .8-3.9 .8 6.3 .6-4.5 .6-1 .6-3.6 .7 1.7 .7-2.8 .6 .2 .7-2.3 .7 .9 .7-3.2 .7 2.5 .7-1.5 .7 .9 .7-2.2 .7 2.9 .7-3.5 .7 2.4 .6-1.4 .7 .1 .7-1.6 .7 .5 .7-1.3 .7 .3 .7-1 .7-.2 .7-1.3 .6 .6 .7-.9 .7 .6 .7-.9 .7 .8 .7-.9 .7 1.6 .7 .6 .7-.1 .7-.9 .7-.4 .6-.1 .7-.2 .7-.2 .7 .1 .7-.5 .7 1 .7-.2 .7 1.9 .7-.1 .7 .3 .6-.4 .7 .9 .7-2.8 .7 1.2 .7-1.6 .7 .7 .7-1.6 .7 .3 .7-1 .6 1.6 .7-1.4 .7 1 .7-1.4 .7 .9 .7-2.5 .7 1.5 .7-1.8 .7 .3 .7-.9 .6 0 .7-1.9 .7 2.1 .7-1.3 .7 1.3 .7-.7 .7 2.6 .7-2.3 .7-.3 .7-2.7 .6 .9 .7-.9 .7 .4 .7-1.2 .7 .6 .7-1.3 .7 2.1 .7-1.6 .7-.4 .7-1.1 .6 .9 .7 .1 .7 1.5 .7 .2 .7 1.4 .7-2 .7 .9 .7-2.5 .7 1.8 .7-3.5 .6 0 .7-.9 .7 1.4 .7-3.4 .7 1.3 .7-.4 .7 1.4 .6-3.1 .6 .2 .7-2.6 .6 2.1 .8-.1 .8 5.3 .7-1.2 .7 1.7 .7-2.2 .7 1 .7-2.2 .7 .3 .7-1 .6 .5 .7-1.6 .7 1.5 .7-1.3 .7 1.2 .7-2.7 .7 1 .7-1.7 .7 .8 .7-1.5 .6-.1 .7 0 .7 .8 .7-1.5 .7 .6 .7-.8 .7 .9 .7-1.1 .7 1.6 .7 .8 .6-.4 .7-2.2 .7-.1 .7-.7 .7 1.1 .7-4.5 .7 1.3 .7 .3 .7 1.1 .7-1.9 .6 3.5 .7 .3 .7 2.9 .7 .2 .7 2 .7-5.8 .7 3.3 .7-2.8 .7 1.3 .7-3.5 .6 3.6 .7-1.3 .7 4 .7-2.6 .7 2.3 .7-3.1 .7 .9 .7 2.6 .7 4.3 .7-.7 .6 1.5 .7 .1 .7 1 .7-3.9 .7 0 .7-1.4 .7-.8 .7-.4 .7-.4 .6 2.7 .7 3.2 .7-1.5 .7 5.9 .7-2.2 .7 .6 .7-4.7 .7 3.1 .7-.2 .7 1.1 .6 .2 .7 2 .7-.7 .7 3.6 .7 10.2 .7 1.7 .7-1.7 .7 1.1 .7-6.2 .7 1.3 .7-5.5 .6 2.5 .7-.7 .7 6.6 .8-.3 .8 2.1 .8 2.7 .6-.8 .6-3.5 .6 2.1 .6-6.8 .7 1.3 .7-4.4 .7 4.4 .7-5.8 .7 0 .7-1.4 .7 3 .7 .7 .7 .4 .7-4.4 .6 2.4 .7-5.1 .7-.2 .7-2.8 .7 .7 .7-1.6 .7 .2 .7-2.2 .7 2.9 .6-2.3 .7-.4 .7-1.2 .7 1.6 .7-2.2 .7 2.3 .7-2 .7 2.7 .7-2.8 .7 2.5 .6-2 .7 .9 .7-4.2 .7-1.6 .7 1.6 .7 2.8 .7-1.2 .7 2.4 .7-.5 .6 1.2 .7-1.5 .7 3.6 .7-1.8 .7 .7 .7-2.3 .7 1.7 .7-4.3 .7 1.3 .7-2.1 .7-.5 .6-2.2 .7 1 .7-1.8 .7-.6 .7-1.1 .7 .7 .7-1.1 .7 .6 .7-1.9 .7 2.1 .7-2.6 .6 1.9 .7-2.1 .7 .2 .7 .4 .7 .9 .7-1.1 .7 .8 .7-2.1 .6 1.4 .7-.2 .7-.2 .7-.5 .7 1.7 .7-3.6 .7 5.2 .7 1 .7 4.7 .7-.6 .7 2.3 .7-1.8 .6 1 .7-.2 .7 .9 .7-1.9 .7 .8 .7-3.6 .7 .9 .7-2.8 .7 1.2 .6-2.3 .7 1.5 .7-2.8 .7-1 .7-.9 .7-.1 .7-1.3 .7 .5 .7-1.3 .7 1 .6-.1 .7 .5 .7 .1 .7 1.1 .7-.5 .7 1.3 .7-1.2 .7-.4 .7-.5 .6 .7 .7-.3 .7-.3 .7-1 .7 .5 .7-1.2 .7 .3 .7-.4 .7 .6 .7-.9 .6 0 .7 .3 .7 .4 .7-.7 .7 .4 .7-2.2 .7-.6 .7-1.4 .7-1 .7-1.5 .6 .5 .7-1.3 .7 .2 .7-.3 .7 .9 .4-.5 .7-.7 .7-1.1 .7 .3 .7-1.4 .7 3 .6-.2 .7 1 .7-.7 .7 .2 .7-1 .7 .6 .7-1 .7 1.2 .7-1.4 .6 .7 .7-.8 .7 .5 .7-1.2 .7 .4 .7-1.1 .7 .5 .7-.8 .7 0 .7 0 .6 .1 .7-.6 .7 .8 .7-.7 .7-.1 .7-.4 .7-.1 .7-.9 .7 0 .7-.3 .6 .2 .7-.4 .7 .1 .7-.8 .7 1.2 .7 0 .7 .4 .7 .4 .7 0 .7-.5 .6 .5 .7-.4 .7 .3 .7-1.1 .7 .6 .7 .4 .7 2.6 .7 .3 .7 0 .7-1.7 .6-.9 .7-1.5 .7 .8 .7-.9 .7 .7 .7-.9 .7 .2 .7-1.4 .7 .6 .7-1.4 .6 .8 .7-1.4 .7 .7 .7-.2 .7 .7 .7-1.4 .7 1 .7-1.4 .7 1.9 .7-1.6 .6 2.2 .7 .2 .7 .9 .7-.6 .7 1.7 .7 2 .7 2.2 .7-1.3 .7-.7 .7-2.8 .7 1.2 .6-2.2 .7 1.9 .7-1.7 .7 2.2 .7-.4 .7 2.7 .7-1.2 .7 2.9 .6-1.6 .7 2.4 .7-2.6 .7 .4 .7-1.1 .7-.9 .7-1.8 .7 3.2 .7-3.5 .7-.1 .6-.7 .7 .8 .7-1.6 .7 3.1 .7-2.3 .7-1.3 .7-3.6 .7 1.6 .7-2.2 .7-.5 .7-1.4 .6 .6 .7-.2 .7 1 .7-.7 .7 1.4 .7 .2 .7 .8 .7-2.9 .7 1.1 .7-.5 .6-1 .7-1.5 .7-.1 .7-.4 .7 0 .7-.9 .7 .5 .7-1.2 .7 1.3 .7-.9 .6 0 .7-.8 .7 1 .7-1.2 .7 0 .7-.4 .7 .2 .7 .1 .7 0 .6 .1 .7 .7 .7-1 .7-.3 .7-1.2 .7 1.6 .7-1.3 .7 .8 .7-.2 .7 .5 .7-.2 .6 .9 .7-1.3 .7 1.3 .7-2.1 .7 1.2 .7-1.3 .7-.2 .7 1.9 .7 2.5 .6 .1 .7 .5 .7-.4 .7 .6 .7-2.8 .7-.6 .7-2.8 .7-.3 .7-2 .7 1.9 .6-.4 .7 1.6 .7-2 .7 1.4 .7-.9 .7 .1 .7-.5 .7 1.4 .7 0 .7 1.2 .6-1.4 .7 1.7 .7-.3 .7 2 .7-.6 .7 1.8 .7-.1 .7 2 .7-.2 .7 .6 .6-1.2 .7-.2 .7-1.7 .7 .5 .7-4.3 .7 .1 .7-.3 .7 .9 .7-1.7 .7 1 .6-.1 .7 .8 .7-1.1 .7 1.1 .7-1 .7-.1 .7-2.7 .7 1.1 .7-.3 .7 1.2 .7 1.1 .6 1.1 .7-1.1 .7 .8 .7-1.2 .7-.3 .7-.8 .7 .3 .7-1.2 .6 1.5 .7-.9 .7-1 .7-1.9 .7 2.4 .7-.5 .7 1 .7-.6 .7 4.8 .7 .3 .7 4.6 .6 3.2 .7 6 .7-4.6 .7 .9 .7-5.3 .7 1.9 .7-4.8 .7 .5 .7-1.3 .7 2.3 .6-.9 .7 1.5 .7-1.9 .7 .8 .7 .6 .7 .9 .7 .2 .7 .1 .7-1.9 .6 2.9 .7 1.3 .7-6.9 .7-1.7 .7 0 .7-2 .7-.4 .7-.1 .7 2.8 .7-4.2 .7 4.9 .7-2.6 .6 2.2 .7-2.7 .7 .9 .7-2.9 .7 .5 .7-1.9 .7 .5 .7-1.2 .6 .4 .7-.5 .7 .6 .7-1.3 .7 .3 .7-.6 .7 .9 .7-.8 .7 .8 .7-.5 .7 .3 .6-.6 .7 .1 .7-.9 .7 .3 .7-.7 .7 .5 .7-1.4 .7 .2 .7-.7 .6-.2 .7-1.1 .7 .4 .7-.2 .7 1 .7-.3 .7 .5 .7-1.4 .7 .1 .7-.9 .6 .1 .7-.2 .7 2.8 .7-.7 .7 1.7 .7-1.2 .7 .6 .7-.8 .7 .1 .7-1.8 .7 .8 .6-2 .7 2.6 .7-1.6 .7 4.1 .7-1.4 .7 2.9 .7-3 .7 .3 .6-1.6 .7-.6 .7-.7 .7 0 .7-1.3 .7 2.6 .7-3.5 .7 .5 .7-2.2 .7 .1 .7-.9 .6 3.5 .7 .5 .7-.8 .7-1 .7 1.2 .7-2 .7 2.2 .7-1.1 .7 1 .7 .5 .6 .2 .7 .2 .7 .8 .7-1.4 .7 1 .7-1.3 .7 .7 .7-1.6 .7 1.1 .7 .2 .6 .5 .7 .2 .7 .7 .7-.6 .7 .1 .7-1.5 .7 .5 .7-.5 .7 1 .6-1 .7 .9 .7-.1 .7 .1 .7-.9 .7 0 .7-1.5 .7-.3 .7-1.9 .7-.7 .7-1.7 .6 1.1 .7 .5 .7 1.3 .7-1.6 .7 1.3 .7 0 .7-.4 .7-.8 .7 .6 .7-.8 .6-.4 .7 0 .7 .7 .7-.7 .7 .8 .7-.4 .7 1.5 .7 .3 .7 1.4 .6-1.4 .7 .8 .7-1.8 .7 1.7 .7-3.1 .7 .1 .7-1.6 .7 1.7 .7-3.7 .6 4.3 .6 2.6 .6 3.4 .8-5.9 .8-1.5 .7-.1 .7 .8 .7-2.1 .7 3 .7-4.7 .7 2.5 .7-3.5 .6 1 .7-2 .7 1.1 .7-.2 .8 .7 .7-2.5 .8 .8 .7 .3"/>
<path class="o" d="M762.6 618.8 l.6 4 .6-1.2 .6 3.4 .6-2.3 .7 2.6 .7-2.3 .7 .4 .7-1.2 .7 1.3 .7-1.3 .7 2.9 .7-1.7 .7 0 .7 .6 .6 .1 .7-1 .7-.2 .7-1.3 .7 1.2 .7-.9 .7 .8 .7-1.4 .7 2.5 .6 .6 .7 1.7 .7-.5 .7 .8 .7-2.2 .7 .7 .7-1.5 .7 1.6 .7-1.8 .7-.1 .6-.4 .7 1.6 .7-.4 .7 1.7 .7 .1 .7 3.6 .7 .2 .7 3.6 .7-2.5 .7-.1 .6-2.3 .7 .7 .7-1.2 .7 1.8 .7-.9 .7 2.4 .7-1 .7 1.9 .7 .8 .6 .2 .7 .5 .7 .3 .7-.1 .7 4.7 .7 .6 .7 .3 .7-2.8 .7-.2 .7-1.1 .6 .4 .7-.6 .7 1.1 .7-1.2 .7 .7 .7 0 .7 .9 .7-.4 .7 .9 .7-2.3 .7 1.4 .6-.2 .7 .3 .7-.3 .7 0 .7-.5 .7 .7 .7-1 .7 3.4 .7 .1 .6 3.2 .7 .5 .7 .7 .7-.6 .7 .9 .7-.6 .7 1.4 .7-.1 .7 .2 .7-.9 .7 1.1 .6-.5 .7 .7 .7-1.5 .7 .6 .7 .2 .7 1.3 .7-.5 .7 .6 .7 0 .6 .7 .7-.5 .7 1.8 .7 .3 .7 .6 .7-1.4 .7 .2 .7-1.8 .7 0 .7-.7 .6 .8 .7-.1 .7 .3 .7-1.8 .7 .5 .7-.9 .7 .2 .7-.5 .7 .2 .7 0 .6-.5 .7-1.6 .7 .9 .7-.9 .7 .1 .7-.8 .7 .4 .7-.6 .7 .1 .7-.6 .7 0 .6-.5 .7 .1 .7-.7 .7 .9 .7-.9 .7 .6 .7-.8 .7 .9 .7 .1 .6 .1 .7-.8 .7 1.9 .7-1.6 .7 1.5 .7 .2 .7 .9 .7 .2 .7 .1 .7-.5 .7 1.8 .6 0 .7 0 .7-3.1 .7 1.1 .7-2 .7 .2 .7-2.1 .7 .2 .7-1.8 .6 1.4 .7-.7 .7 1.5 .7-1.8 .7 1 .7-2.4 .7 1.3 .7-3.4 .7 .5 .7-2.6 .7 2 .6 .6 .7 .8 .7-.4 .7 1.3 .7 0 .7 1.3 .7-.9 .7-1.2 .7-1 .6 .6 .7-2.8 .7 1.4 .7-1.7 .7-.8 .7-1.7 .7 0 .7-.9 .7 2 .7-1.9 .6 2.4 .7 .8 .7 1.5 .7-1.5 .7 2.6 .7-3.2 .7-.6 .7-2.4 .7 .2 .7-1 .6 .5 .7-1.7 .7 1.2 .7-1.9 .7 .2 .7-2.1 .7 1.3 .7-1 .7 .5 .6-1.9 .7 1.4 .7-1.1 .7 4.8 .7-.8 .7 1.6 .7-3.8 .7 2.4 .7-1.3 .7 .2 .7 0 .6 .6 .7-1.3 .7 .5 .7-1.4 .7-.2 .7 .2 .7 .2 .7-.6 .7 0 .7-.7 .6 .2 .7-.5 .7 0 .7-.3 .7 .7 .7-1.1 .7 .3 .7-.6 .7 .1 .6-.4 .7 .3 .7-.3 .7 .3 .7-.7 .7 .6 .7-.4 .7 .9 .7-.8 .7 .2 .7-.4 .6 1.2 .7 .1 .7 1.4 .7 .8 .7 .4 .7-2.3 .7 0 .7 .6 .7 .5 .7-1.8 .6 1.1 .7-.4 .7 1.9 .7-1.2 .7 1 .7-.9 .7 .7 .7-1.3 .7 2.6 .7-.4 .6 1.5 .7 .3 .7 .1 .7 .3 .7-.1 .7-1 .7 .9 .7-1.9 .7-.2 .6 .8 .7 1.5 .7 1 .7 .9 .7-.2 .7 2.7 .7-1.5 .7 0 .7-1.5 .7 1.7 .6 0 .7 2.2 .7 .5 .7 1.6 .7-1.8 .7 1.3 .7-1.4 .7 1.9 .7-2.3 .7 1.5 .7-1 .7 2.2 .7-.4 .8 .8 .7 .2 .7 .2 .8-.8 .6 1.1 .6-1.5 .7 .3 .6-2.3 .7 .7 .6-1.6 .7 1.5 .7-2 .7 2.7 .7-1.1 .7 1.3 .7-1.1 .7 0 .6-1.3 .7-1.2 .7-2.3 .7 .2 .7-1.1 .7-.4 .7-.4 .7-.5 .7-.4 .7 .2 .6-1.2 .7-.1 .7-.8 .7 1.1 .7-.3 .7 .6 .7-.9 .7 .5 .7-2.6 .7 2.4 .6-2.5 .7 .3 .7-1.4 .7 .4 .7 .3 .7 3.3 .7 1.8 .7 .3 .7-1.4 .6 .9 .7-.8 .7 1.1 .7-1.6 .7 .9 .7-1.7 .7 .1 .7-1.4 .7-.3 .7-.9 .7 1 .6-1.1 .7 .7 .7-1.3 .7 .9 .7-.8 .7-.4 .7-2.4 .7 .8 .7-.5 .6-.3 .7-.5 .7 1.5 .7-.3 .7 1.2 .7 0 .7 1.4 .7-3.6 .7 1.1 .7-1.7 .6 1.2 .7-2.2 .7 2.8 .7-.3 .7-.3 .7-1.2 .7 4.2 .7 .3 .7 2.8 .7-.2 .6 .8 .7-.2 .7 .3 .7-.6 .7 .2 .7-1.6 .7 .5 .7-2 .7 .1 .7-.3 .6 1 .7-1.5 .7 0 .7-.3 .7-.4 .7-.8 .7 .5 .7 .1 .7 .8 .7-.7 .6 .1 .7 .3 .7 .8 .7 .2 .7 .6 .7-.3 .7 .6 .7-.3 .7 .2 .7-1.4 .7-.3 .6-.6 .7 .2 .7-.4 .7 .7 .7-.3 .7-.1 .7-.4 .7 .8 .7-1.6 .6 .2 .7-.7 .7 .5 .7-.5 .7 1.8 .7-3.2 .7-1 .7-1.4 .7-.8 .7-1.8 .6-.2 .7-.8 .7 .5 .7-1.3 .7 1.1 .7-1.8 .7 1.5 .6-2.2 .7 1.3 .7-.4 .6 .6 .7-1.8 .5 3.8 .7-1 .7 .5 .7-1.2 .7 .8 .7-2.4 .7 1.7 .7-1.6 .6 0 .7-.1 .7 0 .7-.7 .7 1.1 .7-.8 .7 .2 .7-.1 .7 .4 .7-.9 .6-.2 .7 0 .7 .2 .7-.9 .7 .9 .7-.6 .7 .1 .7-1.4 .7 .8 .7-1.1 .6 .4 .7-.8 .7 .3 .7-1.2 .7 2.4 .7-1 .7 .7 .7-.9 .7 .5 .7 .1 .6 .3 .7-.6 .7 .8 .7-1 .7 .2 .7 .6 .7 6.6 .7-2.9 .7-.4 .7-3.2 .7 2.5 .6 .1 .7 2.3 .7-2 .7-1.1 .7-1.6 .7 .8 .7-1.2 .7 .3 .7-1.5 .6 2.1 .7-1.6 .7 .4 .7-1.1 .7 .7 .7-.1 .7 .5 .7-1 .7 1.8 .7-1 .6 1.1 .7-.3 .7 2.1 .7-.3 .7 1.5 .7 1.5 .7 .4 .7-1.6 .7-.2 .7 .1 .7-.1 .6-.4 .7 1.4 .7-1.7 .7 1.7 .7 .2 .7 .5 .7 .1 .7 .5 .6 0 .7 .5 .7-1.2 .7 .5 .7-.7 .7 .8 .7-1.7 .7 1.5 .7-1.3 .7 1.1 .7-1.2 .6 1.5 .7-1.6 .7 .1 .7-.5 .7-1.1 .7-2.5 .7 .2 .7-2.2 .7 .5 .7-.4 .6 1 .7-1.5 .7-.2 .7-.2 .7 1.3 .7-.4 .7 1.1 .7-.8 .7 .7 .7-3 .6 1.7 .7-1.7 .7 0 .7-1.2 .7-.1 .7-.7 .7 .5 .7-1.6 .7 .1 .7 .1 .6 .6 .7-1.3 .7 .7 .7-.4 .7-.1 .7 0 .7 .5 .7-.5 .7 .3 .6 .1 .7 .3 .7-.9 .7 1.2 .7-.4 .7 .1 .7-.7 .7 .2 .7-1.5 .7 1.5 .7-1 .6 1.2 .7-.8 .7 .6 .7-2.8 .7 1.4 .7-2.2 .7 .7 .7 2 .7 3.3 .6-2 .7 3 .7-1.2 .7 .2 .7-2.8 .7 .5 .7-2.2 .7 1 .7-3.3 .7 1.8 .6-1.1 .7 1.4 .7-1.1 .7 1.2 .7-1.6 .7 1.5 .7-.6 .7 2 .7-.8 .7 .3 .6 .2 .7 1.6 .7 .3 .7 .8 .7-.1 .7 .7 .7 .7 .7 1 .7-.9 .7 .6 .6-.8 .7 .2 .7-1.2 .7 .4 .7-1.6 .7 0 .7-1 .7 .1 .7-1.8 .7 1.6 .6-1.4 .7 2.5 .7-.9 .7 .6 .7-1.1 .7-.3 .7-1.1 .7 .3 .7-.7 .7 1.6 .7 0 .6 1.5 .7-1 .7 .4 .7-1.6 .7 1.5 .7-1.1 .7 .9 .7-3.2 .6 3.2 .7-3.2 .7 1.5 .7-1.7 .7 2.5 .7-2 .7 .4 .7-.6 .8 6 .8 4.6 .7-.3 .6-2.3 .6 .8 .7-1.1 .6 .9 .7-1.4 .7 1.3 .7-2.3 .7 1.7 .7-1.4 .7 .9 .6-.3 .7 .5 .7 .6 .7 .3 .7-.8 .7 1.2 .7-.5 .7 .7 .7-.4 .6 .8 .7-2.3 .7 .3 .7-2.8 .7 .5 .7-1 .7 .9 .7-1.7 .7 .5 .7-.5 .6 .3 .7-.9 .7 .6 .7-1.6 .7 .3 .7 .1 .7 .2 .7-1.1 .7 .5 .7-.7 .6-.4 .7-.6 .7 .4 .7-.6 .7 .4 .7-.4 .7 .5 .7-.3 .7 .1 .7-.2 .6 0 .7-.7 .7 .4 .7-.3 .7 .1 .7-.6 .7 0 .7-.6 .7-.1 .6-1.1 .7 .3 .7-.5 .7 .6 .7-.4 .7-.2 .7-.3 .7 .2 .7-.1 .7 .5 .7-.2 .6 .1 .7-.5 .7 1.1 .7-.3 .7 1.4 .7-.9 .7 0 .7-.8 .7 .8 .7-.6 .7 .7 .6-1.4 .7 .4 .7 .8 .7 2.4 .7-1 .7 2.7 .7-2.3 .7 1.5 .6-1.6 .7 .1 .7-3.6 .7 1.2 .7-.7 .7 1.3 .7-1.9 .7 .5 .7-3.7 .7 1.6 .7 1.4 .6 5.4 .7-2.5 .7 1.2 .7-2.2 .7 .5 .7-2.6 .7 1.8 .7-2.1 .7 3.1 .7-.1 .6 1.4 .7-.1 .7 .6 .7-2 .7-.6 .7-2 .7 2.5 .7-.6 .7 .3 .7-1 .6 1 .7 .2 .7 1 .7-1.3 .7 .5 .7-1.8 .7 1.3 .7-.3 .7 .2 .6-.8 .7 .9 .7 .4 .7 .8 .7-2.6 .7-.5 .7-.8 .7-.7 .7-1.5 .7 .6 .7-1.2 .6 .9 .7-.5 .7 .9 .7-.7 .7 1.4 .7-.4 .7 1.6 .7-2 .7 .8 .7-.7 .6 .5 .7-.7 .7-.2 .7-1.1 .7 3 .7-2.2 .7 0 .7-.3 .7 1.4 .6-2.6 .7 2.5 .7-3.6 .7 .3 .7-.2 .7 3.1 .7-5.9 .7 3.1 .7-1.4 .6 3.2 .6 1.8 .6 4.4 .8-5.1 .8-1.8 .7-1.5 .7 5 .7-4 .7 1.2 .7-2.1 .7-.1 .7-1.1 .6 .4 .7-2.5 .7 .5 .7-1.1 .8 .8 .7-.8 .8-.3 .7-1.4"/>
</g>
<path class="z" d="M733.95 618.00H1389.00"/>
<text class="t" transform="translate(1061.17 429.00) scale(0.964 1)">GBP</text>
</g>
<g>
<rect x="1408.90" y="436.90" width="655.13" height="362.30" fill="#eaeaf2"/>
<path class="g" d="M1438.50 436.90V799.20M1531.50 436.90V799.20M1623.50 436.90V799.20M1716.50 436.90V799.20M1809.50 436.90V799.20M1901.50 436.90V799.20M1994.50 436.90V799.20M1408.90 447.50H2064.03M1408.90 504.50H2064.03M1408.90 561.50H2064.03M1408.90 618.50H2064.03M1408.90 676.50H2064.03M1408.90 733.50H2064.03M1408.90 790.50H2064.03"/>
<clipPath id="c6"><rect x="1408.90" y="436.90" width="655.13" height="362.30"/></clipPath>
<g clip-path="url(#c6)">
<path class="b" d="M1455.2 619 l.7 6.4 .7-.2 .7-1.8 .7-5 .7 5.6 .7-6.3 .7 5.1 .7-2.1 .6 1.3 .7-8.8 .7 2.1 .7-8 .7 5.6 .7 6.4 .7 5.8 .6-1.9 .6 4.1 .6-5 .7 8.3 .8-7.2 .8 .1 .7-3 .7 5.4 .7-3.4 .7 3.6 .7-.6 .7 1.3 .7-4.4 .6 5.9 .7-3.1 .6 5.1 .6 4 .6 6.3 .8-4 .8-1.7 .8-4.1 .6 1.2 .7-7 .7 3.9 .7-5.9 .7 4.2 .7-5.7 .7 2.1 .7-3.5 .7 1.7 .7-.7 .7-.7 .6-.3 .7 1.5 .7-2 .7 3.3 .7-.8 .7 1.1 .7-.1 .7 1.8 .7-.9 .7 .5 .6-.2 .7 2.5 .7-2.4 .7 3.3 .7 .1 .7 2.9 .7-1.4 .7 1.6 .7-1.2 .7 1.2 .6 .5 .7 1.9 .7-1.4 .7-.2 .7-4 .7-1.3 .7-1.6 .7 .9 .7-2.9 .6 3.1 .7-2.7 .7 1.5 .7 .9 .7 3 .7-.8 .6 5 .7-1.6 .6 4.9 .6-4.1 .7 4.6 .7-6.4 .8 .9 .8-4.4 .7-1.5 .7-4 .7-.8 .7-2.1 .7 2.1 .7-9.1 .6 2.6 .7-4.5 .7 4.1 .7-6.4 .7-1.6 .7-3.2 .7 3.2 .7-5.7 .7 2.7 .7-3.8 .7-1.1 .6-4.8 .7 1 .7-4.5 .7 4.4 .7-.7 .7 3.7 .7-8.4 .7 5.5 .7-1.1 .6 3.6 .7-4.6 .7 .5 .7-2.5 .7 9.8 .7 5.8 .7-.9 .7-2.4 .7 2.4 .6-3.9 .7 1.5 .7-2.9 .7 .7 .7-3.2 .7 3.7 .7-4.2 .7 1.1 .7-4.8 .7 1.8 .7-6 .6 1.2 .7-2.3 .7 2.3 .7-4.7 .7-.2 .7-1.6 .7 0 .7-1.8 .7 6.8 .7-2.9 .6-2.8 .7-2.2 .7 1.7 .7 .7 .7 6.2 .7-4.3 .7 3.8 .7-5.6 .7 1.3 .7-1.6 .6 .9 .7-3.5 .7 1.1 .7-3.7 .7 1.6 .7-1.3 .7-.9 .7-2.4 .7 .3 .7-2.6 .6-.5 .7-2.2 .6 5.7 .6-3.7 .6 7.8 .8-8.3 .8 5.1 .8-7.5 .7 1 .7-6 .6 2.5 .7-1.6 .7 .2 .7-3.3 .7 .5 .7-1.4 .7-2.1 .7-3.9 .7 3.6 .6-3.6 .7 5 .7-10.6 .8 7 .8 .7 .8 14.3 .6-6 .6-.4 .6-2.7 .7-2.8 .7-1.8 .6 3.4 .7-5.4 .7-.3 .7-1.7 .7 .4 .7-4.3 .7 1.2 .7-4.3 .7 2.5 .7-3.9 .6 4.7 .7-4 .7-.1 .7-2.1 .7 .6 .7-4.6 .7 1.8 .7-.6 .7 10.3 .7-.9 .6 1 .7-6.2 .7 3.3 .7-6.8 .7 3.3 .7-8.2 .7 3.4 .7-1.8 .7 4.3 .7-4.2 .6 1.1 .9-4.2 .8 2.5 .7-3 .7 7.1 .6-4.4 .6 .5 .6-4 .7-3.2 .6-6.6 .7-1 .7-5.8 .7 1.9 .7-1 .7 1.5 .7-5.1 .7 .3 .7-1.5 .7 6.8 .6 .8 .7 9.5 .7-5.4 .7 4.8 .7-3 .7 5.9 .6-5.5 .6 .1 .7-7.2 .6 3.1 .8-3.1 .8 6.9 .7 .6 .7 7.4 .7 .3 .7 5.6 .7-7.8 .7 7.6 .7-7.9 .7-2 .8-1 .8 9.5 .8 2.1 .7 10.9 .7 4.8 .8 1.1 .9-10.2 .7 7.3 .7-1.6 .7 4.6 .6-12.4 .7 7.3 .7-1.5 .7 4.1 .8-3.1 .8 8.2 .7-4.5 .7-1.6 .6-10 .6 2.2 .6-10.7 .7 .5 .7-4.5 .7-2 .7-9.7 .7 10.9 .7-3.9 .7 3.2 .7-2.1 .7 5.1 .6-12.2 .7 4.7 .7-7.9 .7-1.9 .7-4 .7 3.4 .7-2 .7 5.2 .6 3.2 .7 2.1 .7-8.4 .7 3.4 .7-2.7 .7 .9 .7-4.2 .7 5.6 .7-.1 .7 2.7 .6-7.4 .7 4.7 .7-2.3 .7-.3 .7-1.6 .7-1.2 .7-.4 .7 3.7 .7-.7 .7 3.1 .7-2.6 .6 2 .7-5.7 .7 1.6 .7-4.8 .7 3.5 .7-.5 .7 2.2 .7-4.6 .8-1.1 .8-4.8 .8 1.7 .7-2.7 .7 .9 .8-3.1 .8 6.1 .7-.9 .8 2.8 .7-2 .7 3.1 .6 .6 .7 3.2 .7-.8 .7-.8 .7-3.9 .7 1.9 .7-3.4 .7 2.7 .7-.4 .7 .9 .6 .4 .7 1.9 .7-1.1 .7 3.5 .6-4.2 .6 3.9 .7-2.8 .6 .1 .8 .4 .8 6 .7 1.1 .7-.6 .7-3.3 .7 2.2 .7-4.5 .7 2 .7-2.7 .7 9.3 .7-3.9 .6 2.6 .7 .3 .7 2.7 .7-6.3 .7 .4 .7-3.3 .7-.5 .7-2.6 .7 3.1 .7-1.4 .6 1.9 .7-2.3 .7 3.2 .7 1.7 .7 1.5 .7-2.2 .7 5.5 .7-5 .7 2 .7-1.9 .7 1.8 .6-1.9 .7-1.6 .7-3.5 .7 2.2 .7-.8 .7 .3 .7-2.7 .7 1.1 .6-2.6 .7 1.2 .7-1.1 .7 3.7 .7-3.7 .7 1.1 .7-1.9 .7 1.9 .7-3.5 .7 1.2 .7 .3 .6 1.1 .7 .4 .7 1.5 .7-.4 .7 3.5 .7-1.9 .7 2.4 .6-3.2 .7 3 .7-3.5 .6 .1 .7-3.7 .6 2.6 .6 1.5 .7-1.4 .7-1.7 .7 .1 .7 1.7 .7 4.6 .7-.7 .7-1.2 .6-4 .7 .7 .7-3.7 .7 .9 .7-1.1 .7 1.1 .7-1.7 .7 .2 .6-1.2 .7 3.4 .7 .2 .7 .7 .7 0 .7 .5 .7-2.8 .7 1.1 .7-2.6 .7-1.5 .7-1 .6 .6 .7-4.9 .7 1.7 .7-2.7 .7 .9 .7-1.1 .7 1.2 .7-1.4 .7-.6 .6-1.4 .7 .8 .7-2.2 .7 1.4 .7-1.6 .7 2.6 .7-2.6 .7 2.3 .7-2.1 .7 .6 .6-2.8 .7 .9 .7-1.8 .7 2 .7 .4 .7 0 .7-1.9 .7 1 .7-3.3 .7 .7 .7-.4 .6 .8 .7 0 .7 1.4 .7 .5 .7 2.1 .7 .6 .7 .9 .7-.9 .7 .8 .7-2.3 .6 1.8 .7-2.3 .7 2.2 .7-1.7 .7 .4 .7 0 .7 3.5 .7 .8 .7 .4 .7-2.5 .6 2 .7-2.2 .7 3.6 .7-3.7 .7 4.4 .7-2.9 .7 2.5 .7 .2 .7 1.2 .8 0 .7 3 .8 .7 .6-.2 .6-1.8 .7-1.5 .6-1.7 .7 3 .7-3.7 .7 1.2 .6-2.5 .7 0 .7-.1 .7 1.1 .7-1 .7 .4 .7-1.2 .7-.8 .7-1.7 .7-.2 .7-.9 .6 1 .7 .1 .7 .2 .7 .1 .7 1.8 .7-.7 .7 2.3 .7-1.8 .7 3.2 .6-.3 .7 1.1 .7-3.1 .7-.3 .7-2.2 .7 .9 .7-1.5 .7 1.2 .7-1.6 .7 .8 .7-2.7 .6 1.8 .7-3.2 .7 2 .7-.7 .7 .1 .7-.7 .7 .9 .7-1.8 .7 .6 .6-1.8 .7 1.1 .7-1.2 .7 .6 .7-.2 .7 .2 .7-.3 .7 .2 .7-.2 .7-.1 .7-.8 .6 .5 .7-.6 .7-.1 .7-1.5 .7 .8 .7-1.3 .7 0 .7-1.2 .7 2.5 .7-.2 .6 1.7 .7-.2 .7 1.7 .7-2 .7 1.2 .7-1.5 .7 .2 .7-2 .6 1.1 .7-.4 .7 1.9 .7-3.6 .7 1.3 .6-2.7 .7 3.4 .6-4.8 .6 .6 .7-1.9 .6 3.6 .7-.1 .7 4.9 .6-.8 .7 2.4 .6-.5 .7 .6 .6-2.1 .7-.5 .6-1 .7 .5 .7-.8 .6 1.2 .7-1.4 .7 .4 .7-.9 .7 1.5 .7-2 .7-.6 .7-2.1 .7 .7 .7-1.1 .7 1 .6-1 .7 .4 .7-.2 .7 1.8 .7-1.3 .7 1.5 .7-1.5 .7 2.7 .7 .6 .6 1.7 .7 .7 .7 1.5 .7-4.2 .7 1.3 .7-2.8 .7 2.8 .7-5.7 .7 2.8 .7-2.8 .6 1.3 .7-2.1 .7 1.4 .7-4.2 .7 2.7 .7 1.7 .7 5.5 .7-3 .7 2.3 .8 9.6 .8 15.3 .6-11.6 .6-2 .6-3.1 .7 3.8 .7-6.4 .7 7.9 .7-10 .7 3.3 .7-3.7 .6-.3 .7-3.4 .7-.2 .7-1.8 .7 2 .7-1.1 .7 3.7 .7-2.8 .7-1.3 .7-2.3 .6 2.6 .7-8.3 .7 0 .7 0 .7 .3 .7-5 .7 0 .7-.1 .7 1.5 .7-3.5 .6-.1 .7-2.2 .7 1.8 .7-2.4 .7 4 .7 .7 .7 1.9 .7-2.5 .7 .6 .6-2.6 .7 .2 .7-3.2 .7 1.5 .7-.5 .7 2.1 .7-2.2 .7 .4 .7-2.3 .7 .5 .6-1.4 .7 .3 .7-3.7 .7-.8 .7-1.9 .7 1.6 .7-.2 .7 4.4 .7-2.4 .7 1.4 .7-5.5 .6 3 .7-1.9 .7 4.6 .7-2.3 .7 5.7 .7-1.8 .7 1.9 .7-4 .7 2.7 .6-3.8 .7 2.8 .7-2.9 .7 4.8 .7-2 .7 4.3 .7-2 .7 5.3 .7-4.5 .7-1.7 .7-2.8 .6 .8 .7-2 .7 .2 .7 .5 .7 1.6 .7-.3 .7-.7 .7-1.3 .7 .1 .6-1.8 .7 .9 .7-2.5 .7 1.2 .7 0 .7 1.1 .7 1 .7 .7 .7 .1 .7 2.7 .6-1.2 .7 1.1 .7 0 .7-.2 .7-.6 .7 0 .7-1.2 .7-1.1 .7-1.6 .7 1.2 .6-.9 .7-.5 .7-1.1 .7-.3 .7-1.7 .7 .6 .7 .1 .7 1.9 .7-2.8 .6 2 .7-1.1 .7 .8 .7 .8 .7 1.3 .7-1.9 .7-1 .7-2.4 .7 .4 .7-1.9 .6 .3 .7-.3 .7 .7 .7-1.4 .7 .8 .7-.6 .7 1.1 .7-1.8 .7 1.5 .7-.4 .6 .8 .7-1.1 .7 1.7 .7-1.8 .7 .2 .7-2.9 .7 1.2 .7-1.3 .7-1.1 .6-.2 .7-.9 .6-1.1 .7-.9 .6-.4 .6 .5 .8-1 .8 2.5 .7 .9 .8 3.5 .7-1.2 .7 2.3 .6-1.4 .7-.3 .7-.6 .7 1.5 .7-.8 .7 3 .7-.6 .7 2.3 .7-.2 .6 .5 .7-2.6 .7 .6 .7-3 .7 .3 .7-1.1 .7 .6 .7-.7 .7 .6 .7-1.3 .6 .9 .7 .2 .7 0 .7-.4 .7 1.2 .7-.6 .6 1.3 .7-1.8 .6-.5 .6-.1 .7 .5"/>
<path class="o" d="M1455.2 619.5 l.7 1.5 .7-1.4 .7 .4 .7-1.3 .7 .8 .7-2.1 .7 0 .7-.6 .6 .3 .7-2.3 .7 .6 .7-.9 .7 .5 .7 1.7 .7 1.5 .7 1.8 .7 1.8 .6-3.1 .7 2.3 .7-.7 .7 .7 .7-1.5 .7 1.6 .7-.1 .7 2.5 .7-1.2 .6-.7 .7 .3 .7 2.4 .7-5.3 .7 6.2 .6 1.3 .5 9.2 .8-4 .8 .4 .8-2.6 .6 .7 .7-5 .7 3.5 .7-3 .7 1.8 .7-3.9 .7 2.3 .7-1.8 .7 .5 .7-1.4 .7 .3 .6-.7 .7 1.8 .7-1.4 .7 1.6 .7-1.7 .7 1.9 .7-.3 .7 .6 .7-.2 .7 .7 .6 .3 .7 .8 .7-1.2 .7 2.2 .7-.4 .7 2.4 .7-1.1 .7 .8 .7 0 .7 1.1 .6-1.8 .7 1.2 .7-2.1 .7-.7 .7-1.7 .7-.3 .7 0 .7 1.3 .7-1.1 .6 1.8 .7-3.4 .7 1.7 .7-.2 .7 2.6 .7-.4 .6 2 .7-1.6 .6 4.6 .6-1.2 .7 2.3 .7-2.8 .8 .7 .8-3.1 .7 1.6 .7-7.3 .7 1.7 .7-2.4 .7 2.2 .7-4.4 .6 .6 .7-1.8 .7-.5 .7-2.7 .7-.2 .7-2.9 .7 2 .7-1.2 .7 .8 .7-3.4 .7-.6 .6-1.8 .7 .4 .7-.3 .7 2.1 .7-.2 .7 .5 .7-.2 .7 1 .7-2 .7 1.9 .6-2.6 .7 1.4 .7-1.5 .7 4 .7 1.8 .7 2.3 .7-3 .7 .5 .6-.9 .7 .9 .7-1.7 .7 1.2 .7-2.1 .7 2.9 .7-3 .7 0 .7-.7 .7 .2 .7-1.4 .6-.4 .7-2.5 .7 .5 .7-3.3 .7 1.9 .7-2.6 .7-.7 .7 1.5 .7 2.5 .7-2.1 .6 2.3 .7-2.8 .7-1.4 .7-1.4 .7 3 .7 0 .7 1.9 .7-1.4 .7 .4 .7-2.3 .6 .6 .7-1 .7-.6 .7-2 .7 2.4 .7-2.6 .7 .1 .7-2.3 .7 2 .7-2.9 .6-.2 .7-3.1 .6 2.5 .6-.5 .6 3.3 .8-1.5 .8 .2 .8-2.8 .7 .4 .7-3.2 .6 2.1 .7-1.8 .7 .6 .7-1.9 .7-.7 .7-1.8 .7 1.1 .7-2.1 .7-1 .7-1.8 .7-1.3 .6 .9 .7 3.9 .7 .6 .7 .6 .7-.9 .7 1.5 .7-5.1 .7 3.9 .7-2 .6-.1 .7-1.8 .7-.2 .7-1.2 .7 1.9 .7-1.8 .7-.2 .7-2.3 .7 1 .7-2.6 .6 1.7 .7 1.1 .7 1.5 .7-3.4 .7 .6 .7-2.7 .7 .8 .7-.1 .7 2.9 .7-1 .6 1.9 .7-2.2 .7 2.1 .7-3 .7 2 .7-1.7 .7 1.1 .7-1.8 .7 3.1 .7-3.5 .6-.1 .9-4 .8 1.1 .7 1.3 .7 3.6 .6-3.1 .6-1.7 .6-.2 .7-.5 .6-2 .7-1.5 .7-1.4 .7 .3 .7-.6 .7 .5 .7-1.5 .7 1.7 .7-.2 .7 1.1 .6 1 .7 1.4 .7-.4 .7 .6 .7-2.1 .7 1.4 .7-.1 .7 .4 .7-2.4 .6 2 .7-1.8 .7 2.8 .7 .6 .7 3 .7 .7 .7 2.1 .7-3.3 .7 .7 .7-2.9 .7 1.2 .6-.6 .7 3.1 .7-.8 .7 2.9 .7 1.8 .7 3.5 .7-2.5 .7 2 .7-2.6 .7 .7 .7-2.8 .6 2 .7-.4 .7 1.3 .7 .1 .7 .5 .7-.3 .7 .9 .7-2.7 .7 1 .7-2.9 .6-.1 .7-2.5 .7 1.1 .7-3.5 .7-.5 .7-.5 .7 .8 .7-1.2 .7 .1 .6 .2 .7 .5 .7-1.1 .7 .9 .7-1.8 .7 .7 .7-2.3 .7 1.4 .7-1.6 .6 5.2 .7-2 .7 .7 .7-1.7 .7 .8 .7-1.5 .7 .1 .7-.4 .7 2.3 .7 .2 .6 .7 .7-1.3 .7 1 .7-3 .7 .2 .7-2.4 .7 3 .7 0 .7 1.2 .7 .4 .7-.8 .6-1 .7 1.1 .7-2.8 .7 1.8 .7-1.8 .7 2 .7-2.5 .7 .5 .8-5.2 .8-1.2 .8-1.2 .7-.7 .7-.1 .8 2.2 .7-1.7 .8 .7 .7-.8 .8 3.1 .7 .3 .7 2.6 .6 .7 .7 1.4 .7-1.6 .7 .6 .7-3.1 .7 1 .7-2 .7 3 .7-.7 .6 2.6 .7-2.5 .7 2 .7-.6 .6-.9 .6-1 .7 2.2 .6-1.3 .8 3.4 .8 .1 .7 3 .7-1.1 .7-.4 .7-1.8 .7 .2 .7-.9 .7 1.8 .7-.8 .7 .7 .6 1.8 .7 1.1 .7-.6 .7-.2 .7-.5 .7-.5 .7-2.6 .7-.2 .7-.4 .7 1.6 .6-1.3 .7 1.5 .7-1.4 .7 2.5 .7-.5 .7 2.2 .7-.4 .7 1 .7-1.6 .7 .6 .7-1.8 .6 .6 .7-1.3 .7-.6 .7-1.5 .7-.2 .7-1.9 .7-.2 .7 0 .6 1.4 .7-1.3 .7 .1 .7-1.4 .7 1 .7-1.7 .7 1.1 .7-.6 .7-.2 .7-.6 .7-.1 .6 .1 .7 2.1 .7 .6 .7 2.6 .7-1.7 .7 1.5 .7-.8 .6 .5 .7-2.4 .7 .2 .6-1.3 .7 .1 .6 0 .6 2.5 .7-.3 .7-1.1 .7-1 .7 2.3 .7 .8 .7 1.4 .7-2.7 .6 .8 .7-3.3 .7 2.2 .7-1.1 .7 .9 .7-1 .7 .5 .7-1.1 .6 .7 .7 .9 .7 1.7 .7-.3 .7 .2 .7-1.6 .7-.3 .7-2.1 .7 .5 .7-1.1 .7 0 .6-3.3 .7-.3 .7-2.5 .7 .1 .7-.9 .7 .1 .7-1 .7 .9 .7-1.2 .6 .3 .7-1.4 .7 2 .7-1.2 .7 .3 .7-.6 .7-.1 .7-.5 .7 .8 .7-2.2 .6 .5 .7-1.1 .7 .9 .7 .5 .7 1.6 .7-2.6 .7-.2 .7-1 .7-.6 .7-.2 .7 .8 .6-1 .7 1.6 .7-.1 .7 1.7 .7 .4 .7 1.2 .7-.9 .7 .7 .7-.9 .7 .2 .6 .2 .7-.2 .7-1 .7 .1 .7 .5 .7 1 .7 .4 .7 2.2 .7-2.6 .7 1.6 .6-.6 .7-.2 .7 0 .7 1.8 .7-1.2 .7 1.1 .7-1.4 .7 2.9 .7-.3 .8 1.3 .7 1.2 .8 1.5 .6-1 .6-.1 .7-2.9 .6 1.7 .7-1.1 .7 .7 .7-1.7 .6 1.4 .7-1.3 .7 .6 .7-1.7 .7 .5 .7-.8 .7-.4 .7-.4 .7 .9 .7-1.7 .7 .5 .6-.5 .7 .8 .7-2.1 .7 1.6 .7-2.7 .7 3.4 .7 .4 .7 1.7 .7 .9 .6 2.6 .7-3.3 .7 .3 .7-1.9 .7 1.2 .7-2.5 .7 1.6 .7-1 .7-.8 .7-1.6 .7 .5 .6-.5 .7 .2 .7-.5 .7-.5 .7-.8 .7 .7 .7-2.1 .7 .1 .7 .2 .6-.2 .7-2.5 .7 .3 .7-.6 .7 .4 .7-.4 .7 .3 .7-.4 .7 .2 .7 0 .7 .2 .6-2 .7 .4 .7-.3 .7 1.3 .7-1.6 .7 0 .7-1.5 .7-.5 .7 .6 .7 2.4 .6-.3 .7 1.4 .7 .5 .7 1.9 .7-1.9 .7 .4 .7-2.1 .7 .9 .6-1.4 .7-.2 .7-.6 .7 2 .7-1.3 .6-.7 .7-.8 .6 1.3 .6-3.8 .7-.3 .6 .7 .7 3.9 .7 .2 .6 3.1 .7 .3 .6 1.9 .7-2.1 .6 .3 .7-1.1 .6 0 .7-.2 .7 .1 .6-1.8 .7 1.6 .7-1.8 .7 1.9 .7-.4 .7-.2 .7-2 .7 .8 .7-1.9 .7 .2 .7-.5 .6 .7 .7-1 .7 .1 .7-.2 .7 1 .7 .1 .7 1.1 .7 .7 .7 1.1 .6 .1 .7 2 .7-2 .7 .2 .7-1.3 .7 1.7 .7-1.3 .7 2.4 .7-3.6 .7 .8 .6-1.6 .7 1.3 .7-1.1 .7 .9 .7-1.6 .7 1 .7-2.5 .7 3.6 .7 1.6 .8 6.3 .8 6 .6 1.3 .7-3.1 .6 .1 .6-3 .7 .1 .7-2.3 .7 2.9 .7-2 .7-.2 .6-1.1 .7 .6 .7 .1 .7-1.1 .7-1.1 .7 1.4 .7-.7 .7 .7 .7-2.8 .7 .8 .6-2.1 .7 1 .7-1.5 .7 .4 .7-2.2 .7-.7 .7-1.3 .7 1.2 .7-1.7 .7-.6 .6-1 .7 .3 .7 0 .7 .5 .7-.5 .7 1.1 .7-.7 .7 .5 .7-.8 .6 .7 .7-1 .7-.1 .7 .4 .7-.3 .7-1.6 .7 .8 .7-.6 .7 .2 .7-1.4 .6-1.5 .7-3.6 .7 .6 .7-3.1 .7 2.4 .7-2.1 .7 2.4 .7-.1 .7 1.7 .7-.6 .7 .4 .6-1.9 .7 .7 .7-.7 .7 1.1 .7 .6 .7 .8 .7-.5 .7 .9 .7-1.9 .6 .8 .7 .2 .7 1.6 .7-.3 .7 1.1 .7 .1 .7 1.3 .7-1.2 .7-.7 .7-1.2 .7 .4 .6-2 .7 .4 .7 0 .7 .7 .7-1.4 .7 1.6 .7-.5 .7-.2 .7-1.3 .6 1.1 .7-2.3 .7 .9 .7-.8 .7 2.3 .7-.7 .7 .7 .7-.4 .7 1.4 .7-.5 .6 2.7 .7-.4 .7 .6 .7-.9 .7 .3 .7-2.7 .7 .4 .7-.7 .7 .5 .7-1.4 .6 0 .7-1.7 .7 .4 .7-3.5 .7 1.5 .7-.4 .7 .5 .7-2.3 .7 1.1 .6 .2 .7 1.1 .7 .6 .7 1.7 .7-1.3 .7 .5 .7-2.9 .7 .3 .7-2.9 .7 .6 .6-.8 .7 .9 .7-1.5 .7 .4 .7-.5 .7 .8 .7 .5 .7 .1 .7-.6 .7 .2 .6-.5 .7 1.3 .7-1.5 .7 1 .7-2.1 .7-.5 .7-1.2 .7 .4 .7-1.7 .6-.8 .7-1.2 .6-.3 .7-1 .6 2.2 .6-2.1 .8 2.6 .8-.6 .7 2.9 .8 .2 .7 .9 .7 .1 .6 .5 .7-.9 .7 1 .7-.5 .7 1.3 .7-.4 .7 1.2 .7 .5 .7 1 .6-.6 .7-.4 .7-1.4 .7 .6 .7-2 .7-.1 .7-.7 .7 .3 .7-.2 .7 .4 .6 .2 .7 .5 .7 .3 .7 .4 .7-.5 .7 .3 .6-.8 .7 .6 .6-1.6 .6 .2 .7-.5"/>
</g>
<path class="z" d="M1408.90 618.00H2064.03"/>
<text class="t" transform="translate(1736.17 429.00) scale(0.964 1)">INR</text>
</g>
<g>
<rect x="2083.93" y="436.90" width="656.15" height="362.30" fill="#eaeaf2"/>
<path class="g" d="M2113.50 436.90V799.20M2206.50 436.90V799.20M2299.50 436.90V799.20M2391.50 436.90V799.20M2484.50 436.90V799.20M2577.50 436.90V799.20M2669.50 436.90V799.20M2083.93 447.50H2740.08M2083.93 504.50H2740.08M2083.93 561.50H2740.08M2083.93 618.50H2740.08M2083.93 676.50H2740.08M2083.93 733.50H2740.08M2083.93 790.50H2740.08"/>
<clipPath id="c7"><rect x="2083.93" y="436.90" width="656.15" height="362.30"/></clipPath>
<g clip-path="url(#c7)">
<path class="b" d="M2113.3 619.3 l.7 .8 .7-3.2 .6-1 .7-5.9 .6 4.1 .7-1.2 .6 1 .7-.7 .6 .4 .7 1.3 .7 6.5 .8 2.7 .9 4 .6-2 .7 2 .7-2.8 .7-.2 .7-2.6 .7 2 .7 1 .7 1.2 .7 .7 .6 2.4 .7-2.6 .7 1.8 .7-.1 .7 3.8 .7-1.6 .7 2.1 .7-.5 .7 1.6 .7 1.3 .6 1.2 .7-2.2 .7 2.7 .7-2.1 .7 2.2 .7-4.9 .7 8.3 .7 .7 .7-2.7 .7-2.5 .6 .8 .7-8.2 .7 4.5 .7-4.5 .7 5 .7 .7 .7 3.6 .7-.5 .7 2.4 .7-2.6 .7 6.5 .7-1.2 .6 2.4 .7 1.9 1 6.9 .6-6.2 .6 4.2 .7-4.3 .6 1.7 .7-3.7 .7 1.1 .7-5.4 .6 6.8 .7-4.5 .7 5.1 .7-3.1 .7 6.3 .5-2.8 .6 3.2 .6-3.2 .7-2.8 .6-6.1 .7-.5 .6-2.1 .7 3 .6-2.8 .7 2.1 .6-1.6 .7 1.7 .7-.1 .7 5.6 .7-.6 .6 2.1 .7-1.7 .7 2.6 .7-1.5 .7 2.8 .7 .2 .7 3.2 .7-.5 .7 1.6 .6-2.7 .7 3 .7 .7 .7 .9 .7-2.1 .7 1.4 .7-2.3 .7 3.4 .7-1.1 .7 1.2 .7-1.2 .6 1.7 .7 .1 .7 .5 .7-2.1 .8 5.8 .9 0 .6 .9 .6-.4 .6 .5 .7-4.2 .6 .6 .7-4.8 .7-3.9 .7-3.1 .7 2.4 .7-2.4 .7 2.6 .7-.6 .7-1 .6-6.3 .7 .1 .7-2 .7 5 .7-1 .7 3.1 .7 .4 .7 1.5 .7-3.4 .7-1.4 .6-2 .7 2 .7-2.9 .7 2.6 .7-3.6 .7-.1 .7-1.6 .7 1.5 .7-1.9 .7-1.4 .6-2.5 .7 1.4 .7 .8 .7 4.2 .7 0 .7 .8 .7-2.6 .7 1.5 .7-4.1 .6 1.1 .7-2.3 .7 3.7 .7-.7 .7 4.4 .7-3 .7 .7 .7-1.1 .7 1.4 .7-.8 .7 1 .7-1.2 .6 .4 .7-1.5 .7 .6 .7-1.3 .7 .8 .7-2.3 .7 1.4 .7-1.2 .6 0 .7-.8 .7 .1 .7-1.1 .7 2.3 .7 .1 .7 2 .7 0 .7 .9 .7-2.8 .7 .2 .6-1.5 .7 2 .7-1.5 .7-.1 .7-1.1 .7-.5 .7-2 .7 .4 .7-2.3 .7 1.5 .7-3.8 .6 2.9 .7-3.4 .7-1.7 .7-3 .7 .5 .7-4.8 .7 3.2 .7-1.6 .7 .7 .6-2.7 .7-.1 .7-2.8 .7 .7 .7-.6 .7-.8 .7-1.8 .7-.7 .7 .2 .7 4.4 .7-.8 .6 2.9 .7-2 .7 2.9 .7 2.5 .7 2.2 .7-3.4 .7 0 .7-2.1 .7 1 .6-3.2 .7 1.6 .7-1.4 .7-.9 .7-.5 .7 .2 .7-1.8 .7 1.3 .7-1.8 .7 1.9 .6-1.7 .7-.5 .7-2.6 .7 .6 .7 .5 .7 .9 .7-.4 .7 .5 .7-1 .6-.1 .7-.9 .7 .9 .7-.7 .7-.4 .7-.7 .7-.6 .7-2.2 .7 2.7 .7-.9 .7 .4 .6-.2 .7 3.2 .7 1 .7 6.5 .7-3.2 .7 .3 .7-3.6 .7 .9 .7-3.1 .7 4.1 .6-.3 .7 3.6 .7-2.1 .7 1.4 .7-.4 .7 4.3 .7-1.7 .7 5.3 .7 1.4 .6 1.8 .6-.9 .6 2.1 .6 .6 .9-1 .8-5.2 .7 2.2 .7-3.8 .7 2.9 .7-3.3 .6-.4 .7 .1 .7 5.8 .7-6.5 .7 3.7 .7-1 .7-.2 .7-.4 .7 2.6 .7 2.1 .8 7 .8 1.4 .6 8.3 .6 2.1 .6 5.6 .7-3.8 .7 6.6 .7-7.1 .7-1.2 .7-4.2 .7-.1 .6-1.4 .7 7.8 .7-.9 .6 5.3 .7-2.9 .6 7.4 .6-4 .8-4.7 .9-6.2 .7 3.2 .6-1.8 .7 4.9 .7-10.6 .7 .5 .7-3.3 .7-.1 .7-3.8 .7 1.3 .7-1.8 .7 1.4 .6-4.1 .7 2.3 .7-.4 .7 2.9 .7-2.6 .7 .9 .7-4.5 .7 7.6 .7-1.3 .7 3.7 .6 .4 .7-1.8 .7-2.3 .7-.5 .7-6.7 .7 1.6 .7-2 .7 5.9 .7-1.8 .6 .7 .7-3.5 .7 .5 .7-2.5 .7 3.4 .7 .1 .7 2.5 .7 1.2 .7 2.2 .6-2.4 .7 2.4 .7-1 .7 3.7 .7-2.4 .7 4 .7-2.3 .7 3.1 .7-4.3 .7 3 .6-1.7 .7 .8 .7-2.6 .7 .9 .7-4.3 .7 1.3 .7-1.5 .7-1.2 .7-2.6 .7 1.3 .7-2.2 .6 .8 .7-2.3 .7 2.8 .7 4 .7 4.7 .7-4.8 .7 2.9 .7-4.8 .7 3.3 .6-2.4 .7 1.9 .7-3 .7 3.4 .7-.7 .7 .3 .7-3.6 .7 3.2 .7 .1 .7 3.4 .7 1.6 .6 1.2 .7-1.5 .7 2 .7 .3 .7-.5 .7 .4 .7 2.4 .7-2.3 .7 2.2 .6 0 .7-.1 .7-2.1 .7 .8 .7-1.9 .7 1.6 .7-4.5 .7-1.8 .7-3.3 .7 .2 .7-.9 .6 2 .7-1.4 .7 4.5 .7-.6 .7 3.9 .7-.6 .7 2.2 .7-4.7 .7 2 .6-.7 .7-.5 .7 0 .7 1.1 .7-1.6 .7 2.5 .7-2.8 .7 .2 .7-2.1 .7 .9 .6 .6 .7 1.6 .7-4.7 .7 1.1 .7-3.5 .7 .2 .7-6.2 .7 1.6 .7-3.2 .7-1.5 .6-3.9 .7 .1 .7-.9 .7 .1 .7-4.8 .7-.9 .7-5.4 .7 .8 .6-1.6 .7 5.8 .6-2 .7 4.5 .6-6 .7 1.4 .6-5.2 .7 5.3 .7-2.4 .7 3.7 .7-1.2 .7 0 .7 .5 .6 .1 .7-1.5 .7 .8 .7-4.2 .7 0 .7-1.1 .7-.8 .7-2.7 .6 .2 .7 .4 .7 4.3 .7-1.8 .7 3 .7-1.9 .7 .7 .7-.5 .7 .5 .7-4.2 .7 5.6 .6-1.7 .7 2.2 .7-3.6 .7 1.8 .7-3.2 .7 .9 .7-1.2 .7-.4 .7-1.9 .7 2.7 .6-2 .7 .6 .7-1.6 .7 .1 .7-1.9 .7 1.7 .7-4.2 .7 .9 .7-2.6 .7 0 .7-.2 .6 1.6 .7-1.3 .7 .1 .7-.5 .7 .2 .7-2.7 .7 0 .7-2.4 .7 1.1 .7-2.8 .6 .7 .7-1.7 .7 2.6 .7-3.8 .7-.9 .7 0 .7 1.5 .7-2.3 .6 1.7 .7-2.3 .7 1.5 .7-1.7 .7 1.2 .7-1.5 .7 8.1 .7 2.7 .7-.4 .7-2.4 .7-3.1 .6-.8 .7 .9 .7-1.9 .7-.1 .7-.6 .7 4.5 .7-.4 .7 2.9 .7-1.5 .7 3.9 .7 .8 .6 1.1 .7-2 .7 1 .7-2.2 .7 .5 .7-1.7 .7 1.2 .7-.7 .7 1.2 .6-.8 .7 2.7 .7-2.2 .7 3.4 .7-2.4 .7 0 .7-2.4 .7 2.5 .7-1.9 .6 2.6 .7-1.2 .7 .3 .7-2.3 .7-.2 .7-1.3 .7-.5 .7-2.2 .7-2.4 .7-2.6 .6 1.8 .7-1 .7 .3 .7-.7 .7 .2 .7-.5 .7 .8 .7-.1 .7 .4 .7 .3 .7 .4 .6-1 .7 .6 .7-1.6 .7 1.5 .7-2.2 .7-.9 .7-.1 .7 1 .7-1.6 .7 1.9 .6-1.1 .7 .2 .7-.5 .7 .8 .7-2.7 .7-1.3 .7-2.5 .7-.4 .7-1.9 .7 1.8 .6-2 .7-1.5 .7-.9 .7 1.6 .7-2.9 .7 2.7 .7 0 .7 3.2 .7-.7 .6 2.7 .7-.1 .7 0 .7-.6 .7 0 .7-3.2 .7 1.6 .7-2.2 .7 1.2 .7-3.8 .7 2.7 .6-3.5 .7 2.6 .7-.4 .7 1 .6-.8 .7 1.1 .6-3.1 .7 1.4 .6-3.2 .7 .4 .8 .1 .7 3.2 .8 .6 .6 4.3 .7-2.6 .6 2.3 .7 .8 .6 4.1 .7-2.4 .8 .5 .7-3.1 .8 0 .7-3 .7 .7 .7-.9 .7 .7 .7-2.1 .7 .9 .7 .7 .7 3.1 .6-2.2 .7 .5 .7 .4 .7 .3 .7-.9 .7 1.8 .7-2.3 .7 1.9 .6-1.9 .7-.4 .7-2.3 .7 .7 .7-2.6 .7 .8 .7-1.2 .7 .6 .7-2.9 .7 2.6 .7-3.6 .7-.9 .6 .5 .7 1.3 .7-1.8 .7 2.6 .7-1.8 .7 3.3 .7 2.9 .7 4.5 .7 1.9 .7 5 .6-4.7 .7-2 .7-4.8 .8 2.7 .8-4.7 .8-1.5 .6-1.3 .7 4.5 .6-2.3 .7 2.6 .6-2.9 .7 .3 .6-4.7 .7 1.1 .7-2.4 .7 1.3 .7-2.4 .7 2.9 .6 0 .7-.1 .7-6.2 .7-.6 .7-2.4 .7 1.9 .7-3 .7-.6 .7-1.7 .7 2.4 .7-4.1 .6-.4 .7 .3 .7 1.5 .7-1.7 .7 2.5 .7-1.7 .7 .4 .7-.3 .7 .6 .6-.3 .7 1.9 .7-.9 .7 1.1 .7-1 .7 .8 .7-1 .7 2.3 .6-2 .6 .6 .6-4.2 .7 .4 .7-1 .7 .6 .8-.9 .7 2.3 .7-1.5 .8 2.1 .7 0 .7 3.1 .6 .5 .7 1 .7-1.8 .7 1.9 .7-.7 .7 3.3 .7 .4 .7 .6 .7-6.8 .6 .6 .7-.4 .7 .9 .7 .6 .7 .1 .7-2.6 .7 1.8 .7-1.2 .7 1.2 .7-3.1 .7-.3 .7-1.4 .6 .8 .7-.7 .7 .9 .7 .2 .7 4.1 .7 0 .7 .6 .7-2.8 .7 .6 .7-2.9 .6 2.7 .7-2.9 .7 2.2 .7 1 .7 2.2 .7-.2 .7 1.6 .7-2.5 .7-.5 .7-4.1 .6 2.4 .7-2 .7-.9 .7-2.2 .7-1.7 .7-1.5 .7-1.2 .7-4.6 .7 2.3 .7-1.2 .6 .9 .7 .2 .7 1.3 .8-1.5 .7 2 .7-1.4 .8 2.3 .7-1.5 .7 3 .7-3.7 .6 .5 .7-.9 .6 .8 .7-2.3 .6 .3 .7-.7 .7-.1 .7-3.4 .7 0 .6-2.4 .7-1.4 .7-3.8 .7 3.8 .7-4.2 .7 2.9 .7-2.2 .7 2.9 .7-4.1 .6 2.1 .7-1.8 .7 .7 .7-1.5 .7 3.1 .6-3.5 .5-1.2 .7 4.2 .7 12.3 .8-8.3 .9-1.3 .7-1.5 .6 1.5 .7 0 .7-1.9 .7-3.5 .7 2.5 .7-4.1 .7 .4 .7-1.5 .7 1.9 .6-1.3 .7 3.6 .7-2.5 .7 2.1 .7-1.9 .7 3.5 .7-.5 .7 4.1 .7 2.1 .6 7.4 .7-8.9 .7 .4 .7-4.7 .7-2.6 .7-2.8 .7 1.2 .7-.7 .7 2 .7-5.2 .6 1.2 .7-3.7 .7 .8 .7-2.2 .7 2.6 .7-5 .7-.4 .7-.4 .7-1.3"/>
<path class="o" d="M2113.3 619.6 l.7-.2 .7-1.8 .6-.9 .7-.6 .7 .4 .7 .1 .7 .4 .7-1.5 .7 .7 .8 1 .9 2.7 .6-.2 .6 .2 .7-.2 .6 1.2 .6-.4 .7 .5 .7-.3 .7 .2 .7-1.4 .7 .5 .7-1.1 .6 2.2 .7-.3 .7 .7 .7 .3 .7 2 .7-1.2 .7 2.7 .7-1.2 .7 1.5 .7-2.4 .7 1 .6-.1 .7 1.1 .7-.8 .7 2.5 .7 .1 .7 1.5 .7 .1 .7 .8 .7-2.2 .6 0 .7-3.1 .7 1.4 .7-2.1 .7 2.6 .7-.7 .7 1.6 .7-.5 .7 1.5 .7 .5 .7 1.4 .7-.4 .6 1.8 .7 .4 .7 2.1 .7-1.1 .7 .3 .7-1.8 .7 1.1 .7-1.3 .7 .4 .6-.1 .7 .4 .7-1.2 .7 .7 .7-.2 .7 1.5 .8-1 .7 .1 .8-2.3 .7-.3 .8-.4 .7 .1 .8-.6 .8 .6 .7-1.4 .8 1 .7 .8 .7 1.5 .7 1 .6 1.1 .7-.2 .7 1.1 .7-1 .7 1 .7 0 .7 1.2 .7-.6 .7 .5 .6 0 .7 1.1 .7-.5 .7 .6 .7-.8 .7 .9 .7 .1 .7 .6 .7-.6 .7 .6 .6-1 .7 .8 .7 .1 .7 .6 .7-.3 .6 2.2 .7-1.6 .6 .9 .6 .1 .7-1.5 .8-2.7 .7 .2 .8-.7 .7 .4 .7-2.1 .7-1 .7-1.3 .7 1.3 .7-.2 .7-.4 .6-1.8 .7 .9 .7-1.9 .7 1.7 .7-.1 .7 1.2 .7-1.4 .7 1.6 .7-.3 .7 1 .6-1.7 .7 .6 .7-1.7 .7 .1 .7-.9 .7 1.2 .7-.9 .7 .5 .7-1.8 .7-.2 .6-1.8 .7 0 .7 0 .7 1.2 .7 .2 .7 1.5 .7-.6 .7 .8 .7 .1 .7 .6 .6-.6 .7-.2 .7 .1 .7 .3 .7-.2 .7 .2 .7-.2 .7 .6 .7-.6 .7 .5 .6-.4 .7 .4 .7-.2 .7 0 .7-.9 .7 .4 .7-.5 .7-.1 .7-.5 .7 .1 .6-1.6 .7-.3 .7-.9 .7 2.2 .7 0 .7 2 .7-.6 .7 .6 .7-2.3 .7-.2 .6-1.2 .7 1.9 .7-2.1 .7 2.3 .7-1.7 .7-.3 .7-2.9 .7 1.2 .7-2.5 .7 1.9 .7-3.7 .6 1.2 .7-3.8 .7-.2 .7-1.6 .7 0 .7-2.5 .7-.3 .7-2.4 .7 1.7 .6-.9 .7 .9 .7-1.3 .7 .5 .6-1.2 .7 1 .6-.7 .6 .1 .7-1.1 .7 1 .8 1.3 .8 2.3 .7 0 .7 .7 .7-.8 .7 1.2 .7-1.4 .7-.5 .7-1.2 .7 .3 .6-1.2 .7 1.2 .7-1.1 .7 .2 .7-.6 .7 0 .7-.6 .7 .1 .7-.4 .7 0 .6-.8 .7-.1 .7-1.1 .7 .5 .7-.9 .7 .4 .7-1 .7 .7 .7-.7 .7 1.1 .7-.3 .6 .8 .7-.6 .7 1.2 .7-1.4 .7-.4 .7-.8 .7 2.2 .7-1.8 .7 .5 .6-1 .7 5 .7-.4 .7 3.7 .7-3.2 .7 2.5 .7-4.6 .7 1.6 .7-1.6 .7 2.8 .6-1.6 .7 1.4 .7-.4 .7 1.8 .7-.8 .7 1 .7 .1 .7 1.4 .7 .6 .7 2.3 .6-1.2 .7 .4 .7-2.6 .7 1.6 .7-.8 .7 .6 .7-1.5 .7 .4 .7-.2 .6 .7 .7-1.5 .7 1.4 .7-1.2 .7 2.6 .7 .2 .7-.1 .7-.2 .7 2 .7 .8 .6 1.6 .7 1.7 .7 2.4 .7-.8 .7 1.4 .7-2.4 .7 1 .7-1 .7 2 .7-.9 .7 .3 .6-.6 .7 1.2 .7-.7 .7 1.2 .7-1.4 .7 2 .7-1 .7 .4 .7-2.6 .6 1.4 .7-2.5 .7 .8 .7-1 .7 .4 .7-1.2 .7 1.4 .7-.7 .7-.5 .7-1.6 .6 1.3 .7-.9 .7 .7 .7-1 .7 .9 .7-1.1 .7 1.1 .7-.5 .7 1.7 .7-.9 .6 1.9 .7-1.5 .7 .7 .7-2.2 .7 .3 .7-1.8 .7 1.6 .7-1.2 .7 1.3 .7-.3 .6 .2 .7-1.5 .7 0 .7-1 .7 1.6 .7 .4 .7 1.9 .7-.4 .7 .4 .7-.2 .6 .9 .7-.3 .7 0 .7-.6 .7 .8 .7-.1 .7 2.1 .7-1.7 .7-.1 .7-1.7 .6 .8 .7-.2 .7 2.3 .7-2.5 .7 1.3 .7-2 .7-.8 .7-2.6 .7 1.8 .7-1 .6-.5 .7 .3 .7 0 .6 2 .6 1.9 .6 1.1 .8 1.2 .8-2.9 .8 1.6 .6-1.2 .7 .3 .7-2.6 .7 1.8 .7-1.5 .7 .5 .7 .3 .7 2.1 .7 .7 .7 1.1 .6-.7 .7 1.2 .7 0 .7 1 .7-1.3 .7 2.2 .7-1.6 .7-.3 .7 .1 .7 .6 .6-.6 .7 .1 .7-.4 .7 1.8 .7-2.7 .7 3.2 .7-4.9 .7 .8 .7-4.7 .7 .7 .7-1.6 .6 2.4 .7-.2 .7 2.9 .7-.8 .7 1 .7-.1 .7-.1 .7-.4 .7 1.1 .6-.8 .7-.1 .7-.9 .7 1 .7-1.1 .7 .7 .7-.8 .7 2.1 .7-3 .7 .6 .7-.4 .6-1.1 .7-2.2 .7 1.1 .7-2.5 .7 .7 .7-1.4 .7-.7 .7-2.1 .7 1.6 .7-2.3 .6-1 .7-4.2 .7 2.1 .7-3.3 .7 3.2 .7-5.9 .7 2.6 .6 .3 .7 2.6 .6-.4 .7 .6 .6-.5 .7-.4 .6-.2 .7 0 .7-.8 .7 .4 .7-.2 .7 .4 .7-.9 .6 .4 .7-.4 .7-.4 .7-.5 .7 .3 .7-1.4 .7 .8 .7-2.1 .6 .8 .7 .3 .7 .8 .7 .6 .7 1.4 .7-.5 .7 .7 .7-.9 .7 .6 .7-.9 .7 1.7 .6-.8 .7 .2 .7-1.5 .7 .3 .7-.6 .7-.5 .7 .4 .7 1.5 .7-1.6 .7 .7 .7-.9 .6-.2 .7-2.5 .7 1.9 .7-1.3 .7 3.9 .7-.7 .7-.6 .7-6.3 .7 2.2 .6-3.1 .7 2.6 .7-1.2 .7-.4 .7-.2 .7 .1 .7-2.5 .7 .1 .7-1.1 .7 1 .7-2 .6 1.6 .7-1.9 .7 .3 .7-.9 .7 1.6 .7-1.1 .7 .7 .7-1.3 .6 .1 .7-.6 .7 .7 .7-.8 .7 1 .7-.3 .7 3.7 .7-.7 .7 .4 .7-.3 .7-.8 .6-.2 .7 .9 .7-1.1 .7-.3 .7-.2 .7 2.6 .7-.1 .7 .6 .7 .1 .7 2.6 .6-1 .7 .2 .7-1.1 .7 1.1 .7-.6 .7-.1 .7-.1 .7 .4 .7-.9 .6 1 .7-.9 .7 .2 .7 .3 .7 1.4 .7-1.2 .7 .6 .7-.6 .7 1.7 .7-.4 .7 0 .6-.9 .7 .4 .7-.9 .7 1.1 .7-1.4 .7 3.1 .7-1.5 .7-3.1 .7-4.2 .6 .8 .7-.9 .7 1.2 .7-1 .7 .8 .7-1.7 .7 1.7 .7-.7 .7 1.3 .7 .2 .7-.2 .6-1.4 .7 1.1 .7-1.6 .7 .2 .7-1.7 .7-.6 .7-.7 .7 1.4 .7-1.9 .6 2.6 .7-1.9 .7 1.1 .7-.9 .7 3.2 .7-3.4 .7 .2 .7-2.9 .7-1.9 .7-2.6 .7 .2 .6-1.9 .7 2 .7-2.3 .7 1 .7-1.5 .7 1.3 .7 1.2 .7 .8 .6 1 .7 .8 .7-1.5 .7 1.9 .7-.7 .7-.2 .7-.9 .7 .5 .7-.9 .7 .4 .7 0 .7 .6 .6-.9 .7 1.3 .7-1.9 .7 .8 .6-1.1 .7 0 .6-.8 .7-.5 .6-1.8 .7 .5 .8 1 .7 1 .8 .1 .6 .9 .7 .3 .6 1.4 .7 .8 .6 1.1 .7-1.2 .8 .6 .7-.6 .8 .5 .7-1.3 .7-.2 .7-.9 .7 .2 .7-1.4 .7 1.3 .7-.5 .7 1.4 .6 .2 .7 1.7 .7-.3 .7 1 .7-1.3 .7 .5 .7-.8 .7 1.4 .6-3.8 .7 2.4 .7-2.7 .7 .9 .7-2.1 .7 .6 .7-2.5 .7 2.4 .7-2.2 .7 1.2 .7-2.6 .7 1.6 .6-2.7 .7 1 .7-.7 .7 3.1 .7-3.5 .7 4.5 .7 .5 .7 4.7 .7 1.1 .6 .2 .7-1.8 .7 .6 .7-3.4 .7 .7 .7-1.8 .7 1.8 .7-2.5 .7 .2 .7-1.6 .6 1.3 .7-2.1 .7 1.9 .7-.8 .7 .2 .7-1.7 .7 1.1 .7-2.4 .7 2.5 .6-.9 .7-.8 .7-2.2 .7-1.2 .7-1 .7 .6 .7-2.1 .7 .7 .7-1.6 .7-1.2 .7-.7 .6 .8 .7-.9 .7 1.3 .7-.2 .7 .5 .7-.4 .7 .1 .7-.5 .7 .3 .6-.2 .7 .3 .7 0 .7 .6 .7-.6 .7 1.1 .7 .1 .7 .8 .6-2.2 .6 0 .6-1.6 .7 0 .7-.4 .7 .3 .8 .2 .7 1 .7-.9 .8 1 .7-.6 .7 1.4 .6-.3 .7 1 .7-.4 .7 .3 .7 .1 .7 .8 .7 0 .7 .4 .7-.8 .7 .2 .6-1.6 .7 .4 .7-1 .7 1.4 .7-.3 .7 .7 .7-1.3 .7 1.1 .7-2 .7 .6 .7-1.4 .6 .7 .7 .4 .7 .9 .7-1.5 .7 2.3 .7-.1 .7 .8 .7-2.7 .7 .9 .7-1.6 .6 3.5 .7-2.2 .7 .8 .7-.1 .7 2.8 .7-2.4 .7 1 .7-1.7 .7 1.3 .7-1.6 .6 .4 .7-1.8 .7 .4 .7-2.4 .6-.4 .7-3 .6 1 .7-2.3 .6-.9 .7-1.6 .8 2.8 .8-1.7 .7 1.7 .8-1 .7 3 .7-2.1 .8 1.5 .7-1.3 .7 1.9 .7-1.9 .6 1.7 .7-1.9 .6 .1 .7-.3 .6-.6 .7-.6 .7 .3 .7-3.9 .7 .6 .6-1.3 .7-.2 .7-1.7 .7 0 .7-2.1 .7 1.9 .7-1.8 .7 3.5 .7-2.9 .6 1.3 .7-2.6 .7 2.7 .7-1.1 .7 1.3 .6-3.4 .5 1.2 .7 2 .7 5 .8-4.6 .9 1.1 .7-2.1 .6 2.5 .7-2.6 .7 .8 .7-1.5 .7 2.7 .7-1.4 .7 .7 .7-2.4 .7 .7 .6-1.9 .7 2.1 .7 .6 .7-.3 .7 0 .7 1.7 .7-.9 .8 4.4 .7-1.1 .8 3.1 .6-3.3 .6 .3 .6-2.8 .7-.2 .7-1.1 .7 .6 .7-1.1 .7 2 .7-2.3 .6 2.4 .7-4.5 .7 1.8 .7-3.2 .7 1.7 .7-2.4 .7 .8 .7-2.9 .7-.2"/>
</g>
<path class="z" d="M2083.93 618.00H2740.08"/>
<text class="t" transform="translate(2411.70 429.00) scale(0.964 1)">JPY</text>
</g>
<g>
<rect x="58.93" y="841.90" width="655.32" height="362.15" fill="#eaeaf2"/>
<path class="g" d="M87.50 841.90V1204.05M180.50 841.90V1204.05M273.50 841.90V1204.05M365.50 841.90V1204.05M458.50 841.90V1204.05M551.50 841.90V1204.05M643.50 841.90V1204.05M58.93 852.50H714.25M58.93 909.50H714.25M58.93 966.50H714.25M58.93 1023.50H714.25M58.93 1080.50H714.25M58.93 1137.50H714.25M58.93 1195.50H714.25"/>
<clipPath id="c8"><rect x="58.93" y="841.90" width="655.32" height="362.15"/></clipPath>
<g clip-path="url(#c8)">
<path class="b" d="M87.3 1023 l.7 5.9 .7 .9 .6 3 .7-.6 .7 3.6 .7-3 .7 2 .7 1.5 .7 1.8 .8 .3 .8 9.6 .7-5 .7 6.7 .6-7.4 .6-1.3 .6-8.2 .7 4.6 .7-6.7 .7 5.6 .7 5 .6 7.6 .6-4 .6 1 .8 1.8 .8 12.5 .7-2.4 .7 7.1 .7-1.5 .7 2.7 .7-9.6 .7 5.8 .7-1.2 .7 1.1 .7-9 .6-2 .7-5.3 .7 3.3 .7 2.1 .7 3.6 .6 .5 .6 3.9 .7 .7 .6 4.6 .7-9.6 .8-.1 .7-5.5 .8-.3 .7-2.8 .7 2.8 .7-.7 .7 6.2 .7-1.6 .7 6.9 .6-6.9 .7 2.3 .7-3.8 .7 11.1 .7-.6 .7 2.4 .7-1.7 .7-2.2 .7-8.7 .7-2.5 .7-8.3 .6-1.7 .7-4.1 .7 2.6 .7-1.9 .7-1.2 .7-6.7 .7 5.2 .7-2.4 .7-2 .6-2 .7 .1 .7-2.9 .7 4 .7-2.9 .7 2.6 .7 .1 .7 2 .7 .7 .7 1.6 .6 2.7 .7 3 .7-1 .7 3 .7-4.4 .7 .8 .7-5.8 .7 4.6 .7 1.4 .6 13.1 .7-9.3 .7-1.5 .7-3.1 .7-1.1 .7-1.7 .7 4.3 .7-2.5 .7 5.2 .7-1.5 .7 3.8 .6 1.1 .8 4.6 .8 .1 .8 3.9 .7-4.4 .8-2 .7-5.3 .8-1.1 .8-2.4 .7 2.8 .7-3.7 .7-1.3 .7-1.5 .7 .9 .7-2.5 .7-.1 .7-1.9 .7-.3 .6-.8 .7 2.2 .7 2 .7 0 .7-3.3 .7-1 .7-3.9 .7 1.3 .7-1.8 .7 .4 .6-3.3 .7 1.5 .7-2.5 .7 .4 .7-2.6 .7 .3 .7-2.7 .7 4.3 .7-4.2 .7-.6 .7-2.9 .6 3.4 .6 2 .6 7 .6 2.2 .8 .3 .8-3.7 .8 3.9 .7-.2 .6 2.5 .7-2.2 .7 2 .7-5.4 .7 .4 .7-6.6 .7-.4 .7-.3 .7-.2 .7-1.6 .7 2 .7-3 .6 5.5 .7-3.3 .7 1.9 .7-5.6 .7 3.2 .7-4.4 .7 1 .7-2.5 .7 .6 .6-5.1 .7 3.6 .7-2.9 .7 4.3 .7-2.6 .7 3.5 .7 .3 .7 1.3 .7-3 .7 1 .6-5.4 .7 1 .7-5.1 .7 3.4 .7-3.3 .7 1.2 .7-5.7 .7 8.8 .7-5.9 .7 .5 .6-7.3 .7 3.9 .7 .1 .7 2.3 .7-5.2 .7-3 .7-2.8 .7 2.2 .7-3.7 .7 2.6 .7-4.1 .6 2.2 .7-1.7 .7 2.2 .7-.6 .7 2.5 .6-2.3 .7 .7 .6-3 .6-.9 .7-2.5 .7 5.6 .6 1.1 .7 4.6 .7 1 .8-.9 .8-1.8 .7 1.1 .8-3.2 .7 .4 .6-3.8 .7 .8 .7-.8 .7 2 .7-2.2 .7 .4 .7-1.3 .7 1.2 .7-1 .6 .2 .7-1.3 .7 2.5 .7-1.9 .7-.2 .7-1.1 .7 2.3 .7-1.2 .7 2.4 .7-3.1 .7 1 .6-2.9 .7 .8 .7-4.8 .7 3.7 .7-4.4 .7-.3 .7-2.9 .7 1.1 .7-4.8 .8-.1 .8-5.9 .6 8.5 .6-1.1 .6 8 .7-6.7 .7-2.3 .7-2.1 .7 2.7 .7-8 .6 1.1 .7 1.4 .7 3.8 .7-1.5 .7 .5 .7-1.3 .7 3.3 .7-1 .7 5.5 .7-.9 .6 2.6 .7-2.2 .7 6.9 .7-6.1 .7 1.4 .7-2.9 .7-.6 .7-4.9 .7 3 .7-3.5 .6 3.5 .7-1.4 .7 3.2 .7 1.1 .7 4.6 .7 .3 .7 3 .7-1.4 .7 1.4 .7 1 .7 1.8 .6-2.3 .7 4.8 .7 .5 .7 5.8 .7 1.6 .7 7.3 .7-2.2 .7-2.8 .7-7.9 .6 2.6 .7-4.2 .7 4.9 .7 1.8 .7 4.4 .7-3.7 .7 6.5 .7-9.1 .7-.9 .7-5.9 .7-1.7 .6-1.4 .7 2.1 .7-3.4 .7 2.5 .7-3.1 .7 3.8 .7-3.1 .7 1.5 .7-7.1 .6-.6 .7-4.5 .7 1.1 .7-2 .7 2.5 .7-5.6 .7 1.5 .7 1.2 .7 2.8 .7 1 .6 .3 .7-2.3 .7 2.5 .7-8.3 .7 3.4 .7-3.9 .7 3 .7 1 .7 4.5 .7-3 .6 .9 .7-2.6 .7 1.4 .7-4.6 .7 3.1 .7-2.4 .7 3.9 .7 .6 .7 1.6 .7-2.9 .6 1.3 .7-4 .7 .7 .7-2.6 .7 2.4 .7-2.2 .7 .6 .7-2 .7 1 .7-2.6 .6 .2 .7-2.3 .7 3 .7-3.1 .7 1.4 .7-2.1 .7-.3 .7-2.8 .7-.4 .7-2.3 .6 3.6 .7-1.9 .7 2.5 .7-2.8 .7 3.9 .7-3.7 .7-.2 .7-3.9 .7 2 .6-1.6 .7 1.5 .7-1 .7 3.2 .7-2.1 .7 .8 .7-2.7 .7 4.8 .7 .6 .7 5.2 .7 3 .6 1.2 .7-3 .7 5.8 .7-4.6 .7-.2 .7-7.2 .7 3.6 .7 0 .7 4.7 .6-4.1 .7 2.4 .7-4.2 .7 2.9 .7-6.7 .7 2.5 .7-3.3 .7 1.6 .7-1.9 .7 1.5 .7-2 .6 1.7 .7-1.1 .7 3.4 .7-.1 .7 3.7 .7-1.2 .7 1.7 .7-1.6 .7 1.4 .7 .3 .6 0 .7-3.4 .7 0 .7-1.5 .7 1.2 .7-.6 .7 1.3 .7-.4 .7 1.2 .7-2.1 .7 2.6 .6-2 .7 .1 .7-2.3 .7 0 .7-1.2 .7 2.4 .7-.8 .7 1.7 .6-2.2 .7 1.7 .7-1.3 .7 1.8 .7-.7 .7 .3 .7-.9 .7 1.3 .7-1 .6 2.8 .7 1 .6 2.3 .5-1.1 .7 1.4 .7-2.5 .7 .3 .7-2 .7 .4 .7-1.8 .7 1.6 .6-2.2 .7-1.1 .7-.7 .7 .2 .7-1.2 .7 2.3 .7-.6 .7 .5 .7-.8 .7 1.2 .6-.4 .7 .9 .7-.3 .7 1.4 .7-.5 .7 .9 .7-.9 .7 .1 .7-1 .6 .9 .7-.7 .7 .7 .7-.5 .7 0 .7-1.1 .7 .8 .7-.4 .7 .6 .7-1.9 .7 .7 .7-.5 .6 1.7 .7-.8 .7 2.3 .7 .4 .7 1 .7 .2 .7 .3 .7-1 .7 .3 .7-.6 .6 1.2 .7-.3 .7 .3 .7-.8 .7-.1 .7-.5 .7-.8 .7-1.1 .6 1.3 .8-2.1 .8 1.7 .7-2.3 .8-.4 .6 .6 .7 .8 .6-1.4 .6 2.7 .7-.5 .6 1.9 .7-1 .7 2 .7-.3 .6 3.7 .6-.8 .6 3.5 .8-2.1 .7 .3 .7-2.4 .8 0 .7-3.3 .7 1 .7-.3 .7 1.4 .7-.3 .7 1.6 .7-.4 .7 1.6 .7-1.6 .6 3 .7-1.4 .7 .8 .7-2.5 .7-.6 .7-1.1 .7 2 .7-.9 .7 .6 .7-1.1 .7 .3 .6-.8 .7 .3 .7-1.4 .7 .2 .7-.4 .7-.1 .7-.1 .7-.7 .7-1.4 .6 1.3 .7-.7 .7 .3 .7-.5 .7 1.1 .7-.5 .7 2 .7-2.8 .7 .9 .7-2.4 .7-.8 .6-1.4 .7 .6 .7-1.2 .7 1.1 .7-1.2 .7 .5 .7-1.6 .7 .9 .7-1.2 .7 2 .6-2.9 .7 .3 .7-2.3 .7 .4 .7-2.2 .7 2.2 .7-2.7 .7-.9 .7-.5 .7 1.5 .6-.9 .7 1.1 .7-.9 .7 1.6 .7-2.3 .7 .1 .7-2.1 .7 1 .7-2.6 .6 .6 .7-.8 .7 1.4 .7-.4 .7 2.1 .7-2.5 .7 .5 .7-1.5 .7 3.5 .7 .4 .6 1.3 .7-.3 .7-.5 .7-.3 .7 1 .7-.9 .7 .7 .7-.5 .7 1 .7-2 .6 3 .7-.7 .7 1.9 .7-.2 .7 1.1 .7-1.8 .7 .7 .7 0 .7 .9 .7-1 .7 1.5 .6 1.4 .7 3.1 .7 .5 .7 1 .7-1.3 .7-.1 .7-.1 .7 .5 .7-2.6 .7 .9 .6-3 .7 .1 .7-1.5 .7 1.1 .7-.3 .7 1.5 .7-2.4 .7 2.9 .7-.7 .7 .6 .6 .5 .7 1.9 .7-.9 .7 1.1 .7-3.3 .7 2.3 .7 .1 .7 2.2 .7 .8 .6-.9 .7-3.3 .7 1.4 .7-1.1 .7-.6 .7-2.7 .7 6.5 .7-5.8 .7 .6 .7-2.1 .7 3.7 .6-2 .7 1.2 .7-5.5 .7 2.4 .7-2.8 .7 8.5 .7-5.2 .7 13.5 .7 3.6 .6-2.7 .7-9.5 .7 6.1 .7-5.5 .7-3.7 .7-2.2 .7 .1 .7-4.7 .7 6.5 .6-5.9 .7 3.4 .7-7.4 .7 3.5 .7-4.5 .7 3.6 .7-3.9 .7 4.9 .7-4.8 .7 2.6 .7-.2 .6-1.7 .7-2.8 .7-1.7 .7-5.3 .7-.9 .7-3.1 .7 1.9 .7-8 .7 3.9 .6-.1 .7 1.6 .7-1.9 .7 .9 .7 .1 .7-.8 .7-2.5 .7 1.5 .7-2.9 .7 1.4 .7-.4 .6 .9 .7-2.1 .7 .8 .7 .2 .7 2.3 .7-1.4 .7 1.8 .7-.6 .7 1.8 .7-.7 .6 2.4 .7-.3 .7 1.5 .7-1.2 .7 1.5 .7-1.4 .7 .8 .7-1.4 .7 2 .6 0 .7 2.7 .7-.8 .7 2.7 .7-.6 .7 .5 .7-2.3 .7 .6 .7 0 .7 1.4 .6-2.7 .7 3.7 .7-2.1 .7 .9 .7 .4 .7 3.3 .7 0 .7 3.8 .7-.8 .6 2.4 .7-4.5 .7 .7 .7 .1 .7 3.4 .7 1.2 .7 2.1 .7-4.6 .7 2 .7-4.3 .7 1.3 .7-.6 .6 1.2 .7 .1 .7 1.8 .7-3 .7 .6 .7-1.6 .7-.3 .7-.8 .7 .5 .6 .4 .7 1 .7-1 .7 1.6 .7-3.3 .7-.4 .7-1.9 .7 1 .7-.4 .7 1 .6-2.2 .7 2.4 .7-2.8 .7 1 .7-.5 .7 2.1 .7-1.3 .7 2.1 .7-.7 .7 2 .7-.9 .6 3.3 .7-.9 .7 .3 .7-3 .7-.2 .7-3.3 .7-.8 .7 .2 .7 3.9 .7-2.4 .6 1.6 .7-3.5 .7-.6 .7-1.4 .7 1.1 .7-1.2 .7 1.2 .7-.3 .6 1 .7-1.5 .7 .5 .7-2.4 .7 1 .7-2.5 .7 1.9 .7 .6 .7 6.3 .7-1.1 .7 .4 .7-2.7 .6 2 .7-3.5 .7 4 .7-3.7 .7 2.8 .7 .3 .7 4.3 .7-3.7 .6 2.5 .7-1.9 .7 3.9 .7-2.1 .7 1.6 .7-4.7 .7 .6 .7-3.9 .7 1.4 .7-.4 .7 7.8 .7-2.6 .6 1.3 .7-4.3 .7-1.6 .7-5.1 .7 .9 .7-6.9 .7 .2 .7-3.5 .7 4.1 .6-3.8 .7 1.7 .7-1.7 .7 1.5 .7-4.9 .7 1.9 .7-6.1 .7 2.2 .7-5.7"/>
<path class="o" d="M87.3 1024 l.7 1.4 .7-.3 .7 .6 .7-.2 .6 1 .7-.8 .7 1.6 .7-.2 .7 1.4 .7-.2 .7 .8 .7-.9 .7 .5 .6-.5 .7-.2 .7-1.1 .7-.3 .7-.7 .7 1.8 .7-.6 .7 1.3 .7-.5 .7 1.7 .7-.5 .6 1.6 .7 .7 .7 1.7 .7-1.9 .7 .3 .7-1.4 .7 .7 .7 .2 .7-.5 .6-.7 .7 .3 .7-.8 .7 .8 .7-1.8 .7 2.1 .7-.3 .7 .8 .7 0 .6 2.4 .7-2.3 .7-1.3 .7-1.7 .7 .1 .7-.1 .7 0 .7-.9 .7 2.1 .7 .5 .6 1.1 .7-1.5 .7 1.6 .7-1.8 .7 3.1 .7 1.3 .7-.2 .7-4.2 .7 1.5 .7-2 .7-.2 .6-.8 .7-1 .7-1.2 .7 1.3 .7-2.7 .7 2.4 .7-2.4 .7 1 .7-2 .7 .3 .6-1.3 .7 .7 .7-1.3 .7 .1 .7-1.7 .7 3 .7 0 .7 1.6 .7 .4 .7 1.3 .6-.3 .7 .8 .7 .1 .7 1.4 .7-1.2 .7 1.7 .7-.7 .7 .3 .7-.8 .6 2.2 .7-2.2 .7 .3 .7-2.6 .7 1.7 .7-.8 .7 1.2 .7-.6 .7 1.9 .7-.2 .7 2.2 .7-.8 .8 1.3 .7 .2 .8 .7 .6-1 .7 .2 .6-.5 .7 .2 .6-.7 .7-.6 .6-1.4 .7-.5 .7-.6 .7 .7 .7-1 .7-.2 .7-.7 .7 .5 .7-.6 .6-.1 .7-.9 .7-.1 .7-.9 .7 .8 .7 .1 .7 .9 .7-1.9 .7-.2 .7-.4 .6 .7 .7-2.7 .7 1.3 .7-.9 .7 1 .7-2 .7 0 .7-2 .7 .6 .7-.6 .6 1.4 .7-1.4 .7 .7 .7 2.5 .7 3.6 .7-1.1 .7 1.6 .7-1.5 .7 .2 .7-.1 .6 .3 .7-1.7 .7 .8 .7-.7 .7 .6 .7-2.2 .7-.1 .7-1.1 .7-.2 .6-.9 .7 1.5 .7-1.7 .7-.2 .7-.8 .7-.8 .7-.6 .7 .8 .7-1.9 .7 .7 .7-1.8 .6 1.3 .7-1.8 .7 1.1 .7-.1 .7 1.3 .7-.1 .7 2.5 .7-.8 .7-.8 .7-2.2 .6 1.1 .7-2.7 .7 .7 .7-2.4 .7 1.1 .7-2.7 .7 .2 .7 0 .7 .3 .7-1.2 .6 1.3 .7-1.2 .7-.4 .7-.4 .7 1.3 .7-2.7 .7 .5 .7-1 .7-.1 .7-1.5 .6 .9 .7-1.1 .7 .4 .7-1.2 .7 1.8 .7-1.1 .6 .1 .7-.7 .6-.4 .6-1.3 .7 .5 .7 .8 .8 2.1 .7 .8 .8 1.4 .7-1.2 .7 .4 .7-1.4 .7 1.6 .6-2.2 .7 .5 .7-.3 .7 .2 .7-.8 .7 .1 .7-1 .7 1.9 .7-1 .7 .2 .6-.7 .7 .6 .7-1.7 .7 .8 .7 .2 .7 .6 .7-.3 .7 1.1 .7-1.3 .7 .2 .6-2.2 .7 1.2 .7-1.8 .7-.1 .7-2.4 .7 2.2 .7-3.1 .7-.9 .7-1.6 .8 .4 .8-2.7 .7 0 .6 0 .7 .9 .6-.3 .6 1.9 .7-2.2 .7 1.4 .7-1.5 .7 .6 .6-2.6 .7 2.3 .7-.9 .7 1.9 .7-1 .7 1.4 .7-1 .7 1.2 .7-1.6 .7 1.3 .6-.3 .7 2.2 .7-.9 .7 1.1 .7-1.1 .7 .7 .7-1.8 .7 .5 .7-1.7 .7 0 .6-.2 .7 2.7 .7-.6 .7 1.6 .7-.2 .7 2.2 .7-1.8 .7 .4 .7-1.3 .7 2.7 .7-.1 .6 3 .7-.5 .7 2.7 .7 1.2 .7 .4 .7-2.5 .7 1.1 .7-1.6 .7 .7 .7-.6 .6 1.2 .7-.6 .7 .9 .7-1 .7 1.1 .7-1.6 .7 .8 .7-2.6 .7 .3 .6-.6 .7 .6 .7-1.7 .7 .9 .7-.5 .7 1 .7-1.7 .7 .9 .7-2.1 .7-.2 .7-1.6 .6 .7 .7-2.5 .7 1.3 .7-3.8 .7 1 .7-.6 .7 2.5 .7-.8 .7 1.9 .6-.9 .7 2 .7-2.6 .7 1.7 .7-2.9 .7 2.9 .7-.8 .7 1.9 .7-1.4 .7 .6 .6-.8 .7-.2 .7-1.4 .7 .7 .7-1.6 .7 1.7 .7 1 .7 2.1 .7-2.2 .7 1.1 .6-.8 .7 1.3 .7-2.7 .7 .9 .7-1.3 .7 .2 .7-1.2 .7 .2 .7-.2 .7 .8 .6-2.3 .7 1.4 .7-1.4 .7-.1 .7-2.4 .7 1.1 .7-2.9 .7 1.3 .7-1.4 .7 0 .6-1.6 .7 2 .7 0 .7 1.4 .7 .4 .7 .3 .7-2.5 .7 .4 .7-2.3 .6 3.5 .7-2.7 .7 2.8 .7-.7 .7 1.6 .7-2.6 .7 .4 .7 .1 .6 4.5 .6 .6 .6 3.5 .7-2 .8 .8 .7-1.4 .8 .2 .7-1.6 .7 .9 .7-.3 .7-.2 .7-1.5 .6 2.2 .7-1.2 .7-.7 .7-.1 .7 .2 .7-1.4 .7 .7 .7-1.1 .7-.1 .7-1.1 .7 2.1 .6-1.3 .7 1.8 .7 .3 .7 2.6 .7 .8 .7 1 .7-1.5 .7 .4 .7-1.4 .7 1.2 .6-1.9 .7 .9 .7-1.4 .7 1.5 .7-1.9 .7 1.6 .7-.9 .7 1.9 .7-.9 .7 1.1 .7-.7 .6 1.3 .7-2.9 .7 1.5 .7-2.7 .7-.3 .7-.1 .7 .8 .7 0 .6 1.5 .7-1.2 .7 2.1 .7-1.4 .7 1 .7-.1 .7 .5 .7-1 .7-.3 .6 .4 .7 2 .6 .6 .5 1.9 .7-1.1 .7 .1 .7-.9 .7-.3 .7-.9 .7 1.2 .7-2.4 .6 .7 .7-.5 .7-.6 .7-1.9 .7 .8 .7 .3 .7 .7 .7-.8 .7 1 .7-.7 .6 1.5 .7 .1 .7 .8 .7-.8 .7 .9 .7-.6 .7 .6 .7-.8 .7 .6 .6-.8 .7 .8 .7-1.8 .7 .8 .7-.2 .7 .3 .7-.7 .7 1.2 .7-1.6 .7 .1 .7-1.3 .7 .9 .6 .3 .7 1 .7 .4 .7 2 .7 .6 .7 2.6 .7-1.3 .7 .3 .7-.7 .7 .1 .6-1 .7 1.6 .7-1.1 .7 0 .7-.4 .7 .2 .7-1.2 .7-.3 .6-.3 .8 .1 .8-1.9 .7-.5 .8-1.1 .6 .9 .7-.1 .6 .9 .6-.5 .7 2.4 .6-.1 .7 1 .7-.6 .7 1.7 .7 .2 .7 1.3 .7-1 .7 2 .7-.6 .7-.2 .6-.3 .7 .2 .7-.3 .7 .7 .7-1.1 .7 .6 .7-.3 .7 .6 .7-.9 .7 1.5 .7 0 .6 0 .7 .1 .7 1.2 .7-.6 .7 .1 .7-.3 .7 .2 .7-.6 .7 .6 .7-1.2 .6 .2 .7-1.3 .7 .4 .7-.6 .7 .5 .7-.8 .7 0 .7-.5 .7 .3 .6-.4 .7 .4 .7 .2 .7 .8 .7-.3 .7 .5 .7-1.4 .7 .5 .7 0 .7-1 .7-1.1 .6 1.3 .7-2.6 .7-.3 .7-1.8 .7 3.4 .7-3.2 .7 .5 .7-1 .7-.2 .7-1.1 .6-.2 .7-3.6 .7 .4 .7-3.5 .7-.5 .7-1 .7 1.4 .7-1.8 .7 .5 .7 0 .6 .9 .7 .7 .7 0 .7-1.4 .7 .7 .7-3.3 .7 .8 .7-1.3 .7 1 .6-1.4 .7 1.4 .7-.4 .7 .8 .7-.3 .7 0 .7-.8 .7-.2 .7 1.7 .7 1.6 .6-.8 .7 .1 .7-.2 .7 1.3 .7-1.3 .7 .7 .7-.8 .7 1 .7-.6 .7 0 .6-.1 .7 1.6 .7 .3 .7 2.3 .7-1.6 .7 2.6 .7-2.3 .7 .6 .7-.8 .7 .6 .7 .3 .6 2.9 .7 .4 .7 2.1 .7-1.1 .7 1.9 .7-1.7 .7 .6 .7-1.3 .7 .5 .7-2.6 .6 1 .7-.9 .7 .7 .7-.7 .7 .9 .7-.8 .7 .3 .7-1.1 .7 2.6 .7 .3 .6 1.1 .7-.4 .7-.3 .7-1.6 .7 1.4 .7-.1 .7 .7 .7 0 .7 2.1 .6-1.2 .7 .2 .7-2.1 .7 1.9 .7-2.1 .7 .7 .7-1.8 .7 1.2 .7-2.2 .7 .5 .7-.9 .6 .6 .7-4.2 .7 2.7 .7-2.5 .7 3.3 .7-2 .7 3.4 .7 1.9 .7 5.8 .7-2.5 .6 .8 .7-4.8 .7 3.2 .7-2.9 .7 2.4 .7-2.1 .7 .7 .7-3 .6 1.8 .7-3.3 .7 1.7 .7-2.8 .7 1.8 .7-.8 .7 .5 .7-.8 .7 2.2 .7-1.2 .7 .1 .6-3.3 .7 .7 .7-2.7 .7-.8 .7-2.1 .7-.3 .7-3.4 .7 1.5 .7-1.8 .6 1.8 .7-.3 .7 .8 .7-1.4 .7 .5 .7-.6 .7 .6 .7-1.2 .7 .9 .7-2.2 .6 1 .7-.8 .7 1.8 .7-2.2 .7 1.4 .7-.6 .7 2 .7-.2 .7 1.3 .7-.2 .7 .4 .6-.2 .7 1.8 .7-.2 .7 .5 .7-.2 .7 .3 .7-1.2 .7 .6 .7-.8 .6 2.4 .7 .2 .7 2.5 .7-1.1 .7 .3 .7-.5 .7-.1 .7-.1 .7 .4 .7-.8 .6 .6 .7 .2 .7 1.5 .7-1.5 .7 1.8 .7-.1 .7 2.3 .7-.1 .7-.1 .6-.1 .7 0 .7-1.6 .8 2.4 .7-.3 .8 1.4 .8 .7 .6 .5 .6-.6 .6-.2 .7-1.2 .7 .1 .6-.4 .7 1.3 .7-.4 .7-.1 .7-.6 .7 .2 .7-1.3 .7 .3 .7-.5 .6 .4 .7 .2 .7-.1 .7-.8 .7-.3 .7-1 .7-.1 .7-.4 .7 .3 .7-1 .6 .6 .7-1 .7 .9 .7-.8 .7 1.4 .7-1.7 .7 2.5 .7-1.1 .7 2 .7-.4 .7 1.2 .6 .2 .7 .5 .7-1.6 .7-.1 .7-.8 .7 .1 .7-1.3 .7 .5 .7-.3 .7 1.8 .6-.9 .7-.3 .7-.6 .7-.4 .7-1.7 .7 .9 .7-3.1 .7 3.1 .6-1.9 .7 2.2 .7-1 .7 .5 .7-2.2 .7 1.1 .7-1.8 .7 4.7 .7 1.3 .7 1 .7-1.9 .7 1.3 .6-1.5 .7 .3 .7-.7 .7 1.9 .7-1.4 .7 .8 .7-1.7 .7 2.3 .6-.2 .7 .4 .7-2.3 .7 1.7 .7-1.8 .7 2 .7-2 .7 1.3 .7-1.5 .7 2.2 .7-.9 .7 2.8 .6-2.2 .7-.7 .7-.9 .7-1 .7-2.3 .7-.3 .7-2.8 .7 .4 .7-.8 .6-.1 .7-.3 .7 1.6 .7-1.4 .7-.2 .7-4 .7-.2 .7-2 .7 .3"/>
</g>
<path class="z" d="M58.93 1023.00H714.25"/>
<text class="t" transform="translate(386.29 833.00) scale(0.964 1)">KRW</text>
<text class="y" transform="translate(44.23 1200.21) scale(0.935 1)">−300</text>
<text class="y" transform="translate(44.23 1143.05) scale(0.935 1)">−200</text>
<text class="y" transform="translate(44.23 1085.89) scale(0.935 1)">−100</text>
<text class="y" transform="translate(44.23 1028.73) scale(0.935 1)">0</text>
<text class="y" transform="translate(44.23 971.57) scale(0.935 1)">100</text>
<text class="y" transform="translate(44.23 914.41) scale(0.935 1)">200</text>
<text class="y" transform="translate(44.23 857.25) scale(0.935 1)">300</text>
</g>
<g>
<rect x="733.95" y="841.90" width="655.05" height="362.15" fill="#eaeaf2"/>
<path class="g" d="M763.50 841.90V1204.05M855.50 841.90V1204.05M948.50 841.90V1204.05M1041.50 841.90V1204.05M1133.50 841.90V1204.05M1226.50 841.90V1204.05M1319.50 841.90V1204.05M733.95 852.50H1389.00M733.95 909.50H1389.00M733.95 966.50H1389.00M733.95 1023.50H1389.00M733.95 1080.50H1389.00M733.95 1137.50H1389.00M733.95 1195.50H1389.00"/>
<clipPath id="c9"><rect x="733.95" y="841.90" width="655.05" height="362.15"/></clipPath>
<g clip-path="url(#c9)">
<path class="b" d="M762.6 1022.9 l.6 4 .6-1.4 .6-2.4 .6-3.4 .7 2.1 .7-8.8 .7 4.1 .8 1.4 .9 10.7 .7-3.5 .6 7.4 .7-.9 .7 9.2 .6-6.9 .6-2.9 .6-3.8 .7 2.4 .7-1.3 .7 3.8 .7-2.9 .7 2.9 .7-6.2 .7 5.5 .6-3.9 .7 5.6 .7 4.1 .7 2.3 .7-4.7 .7 4.1 .7-1.3 .7 3.8 .7-.4 .7 6.4 .7-7 .6-1 .7-4.3 .7 5.4 .7-2.1 .7 2.8 .7 .4 .7 4.5 .7-3.5 .7 2.5 .7-2.3 .6 1.9 .7-5 .7 .8 .7-3.5 .7 .2 .7-2.6 .7 2.9 .7-1.7 .7 3.9 .6-2.4 .6 6.2 .6-1.9 .6 4.9 .7-.2 .6 6.7 .6-2.2 .6 .7 .6-2.5 .7 1.8 .6-4.1 .7 1.5 .7-2.5 .7-1.6 .7-1.8 .7 1.3 .7-5.1 .7 3.8 .7-5 .7 .5 .6-3.1 .7 2.6 .7-4.7 .7 3.6 .7-1.9 .7 .5 .7-2.2 .7 6.2 .7-1 .7 2.9 .6-.3 .7 3.9 .7 2.3 .7 3.7 .7 .7 .7 .8 .7-3.9 .7 2.8 .7-3 .7 2.2 .6-3.3 .7 3 .7-1.2 .7 3.1 .7-1.5 .7 1.5 .7-4.5 .7 2.2 .7-1.8 .7-.6 .6 1.4 .6 1.7 .7 .8 .6 .8 .6-.1 .8-.6 .7-1 .8 .7 .8-2 .7-1.9 .6-1.5 .7 .3 .7-2.3 .7 0 .7-.3 .7 .1 .7-2.6 .7 .9 .7-1.7 .7-.4 .7-2.1 .6-.5 .7-.7 .7 1.5 .7-2.3 .7 3.3 .7-3.1 .7-.2 .7-1.4 .7 1.8 .7-2.4 .6-.9 .7-2 .7-1 .7-2.2 .7 1.1 .7-3.3 .7-.2 .7-2.6 .7 1.3 .7-3.1 .6 1.2 .6-.9 .6 6.3 .6 .8 .8 1.4 .8-3.7 .8-.6 .7-.8 .7 1.6 .6-2.1 .7 1.5 .7-3 .7 1.4 .7-2.6 .7-.2 .7-1.1 .7 .8 .7-3.1 .7 .5 .6-2.3 .7-.5 .7-2 .7 1 .7-1.8 .7 1.4 .7-4.4 .7 1.8 .8-1 .8 .8 .7-4.4 .7 6.1 .8-1.4 .7 3.3 .7 .4 .7 2.6 .8-1.9 .8 .2 .7-3.9 .7 .4 .7-1.9 .7 2 .7-3.9 .7 .7 .7-2.1 .7 1 .7-2.2 .7 1.9 .7-2.9 .6 1.3 .6-2.1 .6 1.9 .7-5.4 .8 3.7 .7-4.2 .8-.3 .7-2.6 .7 1.2 .7-3.2 .6 1.9 .7-3.2 .7 5.3 .7-4.2 .7 1.2 .7-2.8 .7 1.2 .7-1.7 .7 2.5 .6-9 .7 2.6 .7-.4 .7 9.9 .7-1.2 .7 5.5 .7-5.4 .7-3.5 .7-5.2 .7 1.8 .7-3.3 .6 2.1 .7-3.1 .7 2.3 .7-4.3 .7 3.2 .7-2 .7 1 .7-3.2 .7 .7 .7-1.9 .7-1 .6-3.7 .7 .1 .7-2.2 .7-.5 .7-2.1 .7 3.2 .7-3.1 .7 2 .7 0 .6-.5 .7-2.5 .7-.3 .7-1.9 .7 .6 .7-2.2 .7 1.9 .7-4 .7 1.1 .7-1.8 .6 4.1 .6-.7 .7 4.5 .6-2.8 .6 4.4 .8-3.7 .7 1 .8-4.9 .8 2.1 .7-2.6 .6 1 .7-2.4 .7 5.1 .7 .8 .7 3.4 .7 .2 .7 3.4 .7-1.8 .7 6.2 .7-5.6 .6 1 .7-6.7 .7 1.8 .7-3.7 .7 1.4 .7-3.7 .7 .5 .7-1.4 .7 3.9 .7-3.4 .6 4.7 .7-5.4 .7 7.8 .7-4.4 .7 7 .7 .1 .7 4.4 .7-1 .7 4.4 .7-4.1 .6 3.9 .7-1.4 .7 5.6 .6 5.1 .5 11.2 .8-8.4 .9-2.6 .7-3.7 .7-1.4 .7-2.6 .6 1.1 .7 4.5 .7 4.1 .7-2.8 .6 7.8 .6-4.3 .6 8.9 .8-8.9 .9-6.1 .7-6.9 .6 2.6 .7-1.4 .7 .6 .7-3.1 .7 1.3 .7-1 .7 1.1 .7-6.3 .7 2 .6-4.1 .7 .8 .7-2.2 .7 .8 .7-1.2 .7-1 .7-3.1 .7 2.3 .7-2.1 .7 2.7 .6-3 .7 .4 .7-.8 .7 .5 .7-2.3 .7 3 .7-1.6 .7 1.9 .7-1.5 .6 1.4 .7-3.4 .7 .7 .7-1.9 .7-.1 .7-1.5 .7 4.6 .7 .5 .7 1.5 .7-.4 .7-1.1 .6-1.5 .7 1.4 .7-.6 .7 1.2 .7-1.2 .7 1.6 .7-1.7 .7-.6 .7-2.6 .7 1.4 .6-3.6 .7 .9 .7-1.7 .7 .8 .7-1.5 .7-.7 .7-1.8 .7-.2 .7-.6 .7 1.2 .6 0 .7 .4 .7-.5 .7 1.9 .7-.5 .7 1.2 .7 0 .7 1.7 .7-1.8 .6 .5 .7-1.9 .7 3 .7-1.5 .7 .3 .7-.6 .7 1.5 .7 .1 .7 3.8 .5-.3 .6 3.7 .7-2.7 .8 0 .8-1 .7 1.3 .7-2.1 .7-1.8 .7-1.4 .7-.1 .7-1.2 .6-.2 .7-1.5 .7 1.5 .7-1.2 .7 1.8 .7-1.4 .7 .1 .7-1.3 .7 1.3 .7-1.1 .6 .6 .7-1.2 .7 .5 .7-1.7 .7 2.6 .7 0 .7-.3 .7-.8 .7 .4 .7-1.7 .7 .1 .6-2.2 .7 .8 .7-.4 .7 .8 .7-1.4 .7 .5 .7-.9 .7 0 .7-.6 .6 .7 .7-.4 .7 .1 .7-.9 .7 .3 .7-.1 .7 .3 .7-1.7 .7 .5 .7-1.2 .7 1 .6-.4 .7 2 .7-.5 .7 .8 .7-.7 .7 2.1 .6-2.3 .7 1.1 .7-.7 .6 1.7 .7-.5 .5 6.1 .7-2.8 .7 1.2 .7-2.9 .7 1.6 .7-3.3 .7 .5 .7-1.6 .7 2.3 .6-.5 .7 1.3 .7-1.2 .7-.3 .7-2.7 .7 2.1 .7-.5 .7 .8 .7-1.9 .6 2.6 .7 2.2 .7 .4 .7 .2 .7 3.3 .7-2.3 .7 2.5 .7-3 .7-.5 .7-.5 .7-1.3 .6-.4 .7 2.3 .7-2.6 .7 .1 .7-1.5 .7-.6 .7-2 .7 1.5 .7-2.4 .6-.5 .7-.7 .7 .2 .7-1.3 .7 1.4 .7 .2 .7 1.9 .7-.8 .7 1.9 .7-.8 .6 2.1 .7 .6 .7 2.5 .7 .2 .7 .4 .7-1.5 .7-.2 .7-2.4 .7 .4 .7-1 .6 .5 .7-1.8 .7 .7 .7-2.2 .7 1.7 .7-.3 .7 .1 .7-.4 .7 .5 .7-2.2 .6 1.5 .7-.8 .7 1.3 .7-.9 .7 .2 .7 .5 .7 2.2 .7-.2 .7 0 .6-.8 .7 .1 .7-1.4 .7 .1 .7-1.1 .7 2.2 .7-.5 .7 3 .7-.8 .7 2.6 .7-2.6 .6 .1 .7-3 .7 1.7 .7-3.3 .7 .8 .7-.8 .7-.1 .7-.4 .7 1.2 .7-1.4 .6 .5 .7-.5 .7 .5 .7-1.1 .7 0 .7-1.6 .7 .8 .7-.9 .7 .5 .6-.9 .7 1.7 .7-1.1 .7 1.7 .7-.8 .7 1.7 .7 .2 .7 1.3 .7 .1 .7 0 .6-1.6 .7 .8 .7-.8 .7 .8 .7-2.2 .7 1 .7-.9 .7 .6 .7-1 .7-.3 .7-1 .6 .8 .7-.8 .7 .4 .7 .1 .7-.3 .7-1.2 .7 1.2 .7-1.2 .7-.3 .6-1.5 .7 .2 .7-1.5 .7 2.2 .7-.3 .7 1.3 .7-.5 .7 2.1 .7-1.4 .7 1.1 .7 .4 .6 1 .7 0 .7 2.5 .7-2.4 .7 .4 .7-2.4 .7 0 .7-.5 .7 1.1 .7 .6 .6 1.9 .7-.1 .7 1.7 .7-2.6 .7 2.6 .7-.6 .7 1.5 .7 .2 .7 1.4 .6-3.8 .7 .1 .7-3 .7 3.3 .7-3.1 .7 1.4 .7-.5 .7 1.4 .7-2.7 .7 1.8 .7 .2 .6 1.6 .7 .3 .7 2.7 .7 2.2 .7 2.2 .7 1.4 .7 2 .7-2.1 .7-1 .6-3.2 .7 1.3 .7-.7 .7 1.5 .7-1.6 .7 2.8 .7-2.5 .7-.3 .7-.9 .7 2.1 .7 .4 .6 1.5 .7-2.3 .7 1.2 .7 .1 .7 1.3 .7-1.1 .7 3.1 .7 1 .7 2 .6-3.8 .7 .3 .7-1.7 .7-.3 .7-1.4 .7 1.4 .7-1.6 .7 2.9 .7-2.1 .7 1.3 .6-.1 .7 1.6 .7-4.2 .7 1.3 .7-4.2 .7 4.8 .7-1.7 .7 3.2 .7 1.9 .6 9.2 .7 1.8 .7 1 .7-3.9 .7-.2 .7-3.2 .7 .7 .7-2 .7-.5 .7 2.3 .7 .6 .6-.5 .7 .1 .7-1.4 .7-.5 .7-.8 .7 5 .7-2.6 .7 3 .7-2 .7-.5 .6-1.2 .9-2.1 .8-6.3 .6 .9 .6-1.9 .7 1.5 .6-3.2 .7 1.7 .7-2 .7 1.9 .6-.1 .7 .2 .7-4.3 .7 2.6 .7-1.9 .7 .7 .7-1.1 .7 0 .7-2.1 .6 .2 .7-1.1 .7 .3 .7-.8 .7-.2 .7-.6 .7 .9 .7-1.8 .7 .9 .7-.5 .6 .7 .7-.5 .7 .2 .7-.5 .7 1.2 .7-.5 .7 1.3 .7-.4 .7 .7 .7-1.6 .7 .8 .6-2.3 .7 .6 .7-.8 .7 1 .7-2.1 .7 .6 .7-.7 .7 .2 .7-3.5 .6 3.7 .7 .6 .7 1.9 .7-2.6 .7 4.9 .7 .5 .7 3.3 .7-2.4 .7 1.9 .7 .2 .7 1 .6-1.5 .7 1.4 .7-.9 .7 1.2 .7-.1 .7 .1 .7-1.6 .7-1.2 .7-3.5 .6 2.3 .7-.3 .7 1.7 .7-1.9 .7 .4 .7-4.3 .7-.1 .7-1.3 .7 2.9 .6-1.4 .7 .7 .7-1.4 .7 1.9 .7-.4 .7-.2 .7-.7 .7 1.1 .7-2.1 .7 .8 .7-1.2 .6 1.4 .7-.9 .7 .7 .7-.7 .7 1.1 .7-.6 .7 2.2 .7 .2 .7 2.4 .7-.6 .6 2.2 .7 .7 .7 .2 .7-1.8 .7-1.5 .7-3.2 .7 .1 .7-.9 .7 .4 .7-.7 .7 .4 .6 0 .7 .6 .7 .5 .7 .1 .7 0 .7 .2 .7-.1 .7 .3 .6-.1 .7-.4 .7 1.5 .7 1.5 .7 .4 .7 .8 .7 .2 .7 1 .7-1.4 .7 1.6 .6-.3 .7 .9 .7-.9 .7 3 .7-2.2 .7 1 .7-.4 .7 1.4 .7-.4 .7 1.1 .7 .2 .6 2 .7-1.1 .7 .7 .7-1.6 .7 .7 .7-4.3 .7 1.5 .7-.1 .7 2 .7-.4 .6 1.3 .7-2.7 .7-.2 .7-3.7 .7 .9 .7-.1 .7 1.6 .7-1.9 .7 1 .7-1.4 .6 .3 .7-2 .7 0 .7-.7 .7-.3 .7-1.9 .7 1 .7-.3"/>
<path class="o" d="M762.6 1024.2 l.6-.5 .6-.8 .6 .2 .6-.9 .7 .1 .7 .2 .7 .9 .7-.6 .7 .8 .7-.5 .7 1.6 .7 .7 .7 .6 .6-.9 .7 .7 .7-1.7 .7 .6 .7-.4 .7 .9 .7-.4 .7 .7 .7-.6 .7 1.2 .7-.8 .6 2 .7-.9 .7 1.1 .7 .1 .7 .8 .7-.1 .7 .9 .7 .3 .7 .6 .7-1 .6-.6 .7-1.1 .7 1.3 .7-.7 .7 1.1 .7-.1 .7 2.4 .7-1.1 .7 1.3 .6-.5 .7 .6 .7-2.3 .7 .1 .7-.2 .7 .6 .7-1 .7 1.1 .7-1.8 .7 1.4 .6 0 .6 2.6 .6-.1 .6 1.1 .7 1.6 .6 2.6 .6-2.6 .7 2.2 .6-1.4 .6-.1 .7-1.3 .6-.8 .7-2.4 .7 3 .7-3.7 .7 2 .7-3.8 .7-.6 .7-2.2 .7 1.7 .7 .2 .6 .2 .7-1.5 .7 1.4 .7-.5 .7 .1 .7-.5 .7 1.3 .7 .2 .7 2.4 .6 .1 .7 1.8 .7-.3 .7 1.7 .7-.2 .7 1.1 .7-.5 .7 .3 .7-.5 .7 1.1 .7-.6 .6-.1 .7-.4 .7 1.4 .7-1.4 .7 .7 .7-.8 .7 .3 .7-.5 .7 0 .6 .1 .6 1.5 .7-1.2 .6 1.3 .6-.2 .8-.2 .7-1.7 .8 .8 .8-1.2 .7 .7 .6-1.1 .7 0 .7-1 .7-.9 .7-1.4 .7-.9 .7-.5 .7 .3 .7-1.2 .7 1.2 .7-1.6 .6 1.2 .7-.9 .7-.2 .7-.6 .7-.3 .7-1.8 .7 .1 .7-4.1 .7-.5 .7-2.5 .6 2.9 .7-3.3 .7 1.6 .7-3.3 .7 .2 .7-2 .7 .8 .7-1.6 .7 1.4 .7-1.7 .6 .3 .7-.8 .7 2.8 .7-1.8 .7 2.1 .7-1.5 .7 1.5 .7-1.1 .7 .5 .6-.6 .7 .2 .7-.2 .7 .7 .7-2.4 .7 1 .7-2.2 .7-.1 .7-2.3 .7 1.8 .6-3.4 .7 .5 .7-3.5 .7 .8 .7-1.6 .7-.3 .7-1.7 .7 2.2 .8-2.4 .8-.2 .7-.9 .7 2.2 .8-1.1 .7 4.2 .7-1 .7 3.4 .8-1 .7 .4 .8-3.2 .7 .3 .7-1.8 .7 .2 .7-2 .7 .5 .7-.9 .7 1.3 .6-2.3 .7 2 .6-1.4 .7-.1 .6-.9 .7 .2 .7-1.6 .8-1.4 .7-1.5 .8 .8 .7-1.4 .7 1 .7-2.5 .6-.4 .7-.8 .7 .2 .7-1.5 .7 1.2 .7-1.1 .7 1.5 .7-.5 .8 .2 .8-2.4 .7 .6 .7 .6 .7 3 .7 .6 .7 1.8 .6-1.9 .6-.4 .6-.8 .7 .5 .7-1.4 .7 .7 .6-2.8 .7 .2 .7 .5 .7-.6 .7-1.5 .7 1.4 .7-2.5 .7 .5 .6-1.3 .7 .1 .7-1.2 .7 .9 .7-1.7 .7 .9 .7-1.5 .7 .8 .7-1.1 .7 .7 .6-.6 .7 .2 .7-2 .7 .5 .7-1.6 .7 .8 .7-1.2 .7 1.1 .7-2.7 .7 1.8 .7-1.9 .6 .7 .6 .9 .7 .9 .6 1.4 .6 .7 .8-1 .7 1.8 .8-3.3 .7 .5 .8-1.7 .6 1.7 .7-.4 .7 1.7 .7-.7 .7 2.8 .7-2 .7 2.2 .7-1.5 .7 1.3 .7-1.1 .6 .3 .7-1.1 .7-.3 .7 0 .7-.6 .7-1.1 .7 2.2 .7-2.2 .7 1.9 .6-1.7 .7 1.8 .7 .9 .7 1.6 .7-.3 .7 2.9 .7-2.1 .7 1.7 .7 .8 .7 1.2 .7-.9 .6 2.4 .6-.2 .7 2.7 .6-1.2 .6 3 .8-1.6 .7 .1 .8-1.7 .7 1 .8-2 .7 2 .8 .4 .7 1.5 .8-1.9 .7 1.3 .8 .2 .7-.9 .8-1.6 .7 .3 .8-2.2 .7 1.4 .7-1.5 .7 1.3 .7-1.8 .7 1.9 .7-2.8 .7 .7 .7-1.6 .7 1.3 .6-1.5 .7 .7 .7-1.7 .7 .5 .7-1.6 .7 .1 .7-.7 .7 .1 .7-.9 .6 1.2 .7-1.7 .7 .7 .7-1.7 .7 1.2 .7-.7 .7 .8 .7 1.1 .7 .3 .6-2.5 .7 .8 .7-1.5 .7 1.6 .7-1.7 .7-.6 .7 1.4 .7 2.4 .7 .6 .7 .4 .7-1.3 .6 1.8 .7-4.2 .7 3.4 .7-2.1 .7 1.6 .7-.8 .7 .7 .7-.6 .7 .2 .7-1.9 .6-.6 .7-2.3 .7 1.1 .7-1.1 .7-.1 .7-1.2 .7-.2 .7-2.8 .7 1.4 .7-1.5 .6 1.2 .7-.4 .7 3.3 .7-1.4 .7 1.7 .7-1.2 .7 2.1 .7-.6 .7 .7 .6-.9 .7 1.7 .7-1.6 .7 .3 .7-1.2 .7 2.3 .7-.3 .7 1.3 .7-1.8 .5 4.7 .6 .7 .7-.6 .8-3.3 .8 2.2 .7-2 .7 .1 .7-.1 .7 .9 .7-1.3 .7 0 .7-.6 .6 0 .7-.4 .7 .8 .7-.9 .7 .6 .7-.7 .7-.5 .7 0 .7 .7 .7-1.8 .6 .7 .7-1.7 .7 2.2 .7-.3 .7 1.5 .7-.3 .7 .5 .7-1.6 .7 .9 .7-1.1 .6 .1 .7-2.3 .7-.3 .7-.3 .7 .3 .7-1.2 .7 1.4 .7-1.1 .7 1.1 .6-1.6 .7 1.5 .7-1.4 .7-.4 .7-.6 .7-.8 .7-1.8 .7 .5 .7-1.9 .7-.2 .7 .3 .6 3.9 .7-.5 .7 .4 .7-1.5 .7 1.6 .7 .9 .6 1.5 .7-1 .7 1.6 .6-.5 .7 1.5 .5-.3 .7 .7 .7-1.6 .7 .4 .7-1.6 .7 0 .7-.6 .7 1.3 .7-.9 .6 .3 .7-.6 .7 .3 .7-.7 .7 .8 .7-1.1 .7 .5 .7-.7 .7 .3 .6 .4 .7 1.9 .7-1.1 .7 1.4 .7 0 .7 1.2 .7 .1 .7 .8 .7-1 .7 .7 .7-2.2 .6 1.4 .7-2 .7-.3 .7-.3 .7 1 .7-2.2 .7-.1 .7-1 .7-.2 .6-1.7 .7 .2 .7-.5 .7-1.2 .7 .5 .7 1.1 .7 .1 .7 1 .7-.1 .7 2.2 .6-1.1 .7 1.8 .7 .9 .7-.2 .7-.7 .7 .2 .7-1.8 .7 1 .7-1.2 .7 1 .6-1.2 .7-.3 .7-.7 .7 .3 .7-1.1 .7 1 .7-.4 .7-.1 .7 .2 .7-.4 .6-.7 .7-.4 .7 .3 .7 1.5 .7-.8 .7 1.2 .7 .3 .7 2.2 .7-2.1 .6 .9 .7-1.1 .7-.2 .7-1.6 .7 2.1 .7-.1 .7 1.8 .7-1 .7 1.1 .7-.1 .7 .6 .6-2.1 .7 .6 .7-1.2 .7-.7 .7-.1 .7 .6 .7-1.3 .7 1 .7-.5 .7 0 .6-.7 .7 .3 .7-.5 .7 .9 .7-1.1 .7-.2 .7-.8 .7 .1 .7-.3 .6 1.1 .7-.4 .7 .4 .7-.6 .7 .1 .7-.3 .7 2.4 .7-.7 .7 2.3 .7-.8 .6 .5 .7-.7 .7 0 .7-.7 .7-.5 .7-.4 .7-.1 .7-1.9 .7 .4 .7-.1 .7 .6 .6-.2 .7 .4 .7-1.4 .7 1.5 .7-.8 .7-.2 .7-.1 .7 .5 .7-1.2 .6 .5 .7-2 .7 .4 .7 .1 .7 1.2 .7-.7 .7 1.6 .7-.3 .7 .1 .7 .8 .7 1.8 .6-.1 .7 1.4 .7-.4 .7 .8 .7-1.8 .7 .2 .7-2.9 .7 1.6 .7-1.4 .7 2.4 .6 .4 .7 1.4 .7-1.2 .7 1.6 .7 .4 .7-.5 .7-.7 .7 2.9 .7 .7 .6-.4 .7-1.3 .7 .2 .7-3.1 .7 .9 .7-2.4 .7 1.2 .7-1.2 .7 .6 .7 .5 .7 .6 .6 1.4 .7 1.4 .7 .2 .7 4.3 .7-.2 .7 2.3 .7-.5 .7 .7 .7-1.3 .6 .4 .7-2.3 .7 2.1 .7-.8 .7 1.7 .7-1.3 .7-.4 .7-.7 .7-.2 .7 .2 .7 .8 .6 .4 .7 0 .7-1.1 .7 2.3 .7 .1 .7 1 .7 0 .7 2.6 .7 0 .6 .6 .7-2.8 .7-.9 .7 0 .7 1.6 .7-1.4 .7 .2 .7-2 .7 1 .7-.2 .6 .3 .7-1.7 .7 2.3 .7-1.5 .7 .1 .7-1.3 .7 1.4 .7 .5 .7 3.2 .6 1.8 .7 3.4 .7-2 .7 .5 .7-.5 .7 1.3 .7-1.1 .7 .3 .7-1.8 .7 .6 .7-1.2 .6 2.3 .7-2.5 .7 1.9 .7-1.1 .7 1.4 .7-2.1 .7 1.9 .7 1 .7 .4 .7-1.7 .6 1.5 .7-3 .7-1 .7-1.5 .7 0 .7-.7 .7-1 .7-1.1 .7 1.1 .6-.5 .7 .9 .7-1 .7-.2 .7-1.4 .7 .8 .7-.8 .7-.3 .7-.5 .7-.7 .6-.9 .7 .5 .7-.7 .7 .4 .7-1.3 .7 .7 .7-.5 .7 .2 .7-.4 .7 .3 .6-.3 .7 .7 .7-.4 .7 .6 .7-.4 .7 .8 .7 .1 .7-.1 .7-.4 .7 .9 .7-1.1 .6-.4 .7-.7 .7 .7 .7-1 .7-.1 .7-.6 .7 .3 .7-.8 .7 .2 .6 .1 .7 1 .7 .5 .7 2.2 .7-.2 .7 1 .7 .2 .7 .4 .7-.8 .7 .6 .7-.7 .6 1.7 .7-.9 .7 1.5 .7-1.8 .7 1.7 .7-.3 .7 0 .7-1 .7-.7 .7-1 .6 1.9 .7-.8 .7 .1 .7-1.7 .7-.2 .7-.6 .7 1 .7-.2 .6 1 .7-1.3 .7 1 .7-1.2 .7 .7 .7-1.3 .7 .7 .7-1.3 .7 .4 .7-1.1 .7 1.3 .6-.3 .7 .3 .7-.8 .7 1.7 .7-.1 .7 1.8 .7-.9 .7 1 .7 .4 .7 2 .6 0 .7 1.5 .7-2 .7 .3 .7-1.7 .7 0 .7-1.8 .7-.1 .7-.6 .7 1.8 .7-1.6 .6 .8 .7-1 .7 .7 .7-.9 .7 1 .7 .2 .7-.1 .7-.6 .7 1.1 .7-.3 .6 1.8 .7 .3 .7 1.7 .7 .3 .7 .6 .7 .2 .7 .2 .7-.8 .6 .8 .7-1 .7 1.3 .7-.5 .7 1 .7-.5 .7 1.5 .7-1.6 .7 2.2 .7-.9 .7 1.1 .6-.3 .7 1 .7-1.1 .7 .7 .7-2.3 .7-.9 .7-.2 .7 1.2 .7-.9 .7 2.1 .6 .3 .7-.7 .7-2.1 .7 .2 .7-1.2 .7 1.2 .7-.9 .7 .8 .7-.8 .7 .2 .6-1 .7 0 .7-.3 .7-.8 .7-1 .7 .6 .7-.3 .7 .1"/>
</g>
<path class="z" d="M733.95 1023.00H1389.00"/>
<text class="t" transform="translate(1061.17 833.00) scale(0.964 1)">MXN</text>
</g>
<g>
<rect x="1408.90" y="841.90" width="655.13" height="362.15" fill="#eaeaf2"/>
<path class="g" d="M1438.50 841.90V1204.05M1531.50 841.90V1204.05M1623.50 841.90V1204.05M1716.50 841.90V1204.05M1809.50 841.90V1204.05M1901.50 841.90V1204.05M1994.50 841.90V1204.05M1408.90 852.50H2064.03M1408.90 909.50H2064.03M1408.90 966.50H2064.03M1408.90 1023.50H2064.03M1408.90 1080.50H2064.03M1408.90 1137.50H2064.03M1408.90 1195.50H2064.03"/>
<clipPath id="c10"><rect x="1408.90" y="841.90" width="655.13" height="362.15"/></clipPath>
<g clip-path="url(#c10)">
<path class="b" d="M1438 1021.8 l.5-2.2 .6-7.6 .6 3 .7-1.9 .6-.3 .6-.9 .7 3 .6-.5 .7 .5 .6-.6 .7 2.3 .7-2.1 .7 3.6 .6-1.1 .7 3.9 .7 .2 .7 4.9 .7-2.1 .7 1.9 .7-1.7 .7 3.2 .7 1.1 .7 2.3 .7 1.5 .6 1.5 .7-1.4 .7 3.1 .7-2.2 .7-.4 .7-1 .7 1.1 .7-1.9 .7 3 .6 .4 .7 2.5 .7-2.8 .7 4.1 .7-2.8 .7-1.8 .7-.2 .7 5.9 .7-1.7 .7 8.2 .6 1.7 .7-.3 .7 0 .7 .9 .7-1.3 .7 0 .7-4.4 .7 .8 .7-2 .6-1.3 .7-1.1 .7 1.6 .7-4 .7 5.3 .7-1.1 .7 4.4 .7-3.1 .7 3.5 .7-1.9 .7-.1 .6-1.9 .7 .7 .7-3.5 .7 .1 .7-2 .7 1.7 .7-3.8 .7 2.5 .7-.6 .7 .3 .7-2.8 .6-1.6 .7-1.6 .7 2.4 .7-3.6 .7 1.4 .7-.5 .7 1.4 .7 .2 .7 3.3 .6-.8 .7 4.6 .7-1.6 .7 .8 .7-2.6 .7-.7 .7 1.7 .7 4.6 .7-2 .6 3.9 .7-2.2 .7 3.4 .7-1.9 .7 3.8 .7-3.4 .7 3.4 .7-3.8 .7-1.3 .7-1.1 .6 1.7 .7-1.6 .7 2.7 .7 .2 .7 3.5 .7-1.5 .7 .9 .7-3.2 .7-.5 .7-1.6 .7 3.3 .6-3.3 .7 .3 .7-2.1 .7 .5 .7-2.9 .7-.1 .7-1.4 .7 2.5 .7-2.4 .6 1.1 .7-1.5 .7-.4 .7-1.9 .7 1.9 .7-3.9 .7 1.4 .7-1.4 .7 1.2 .7-.2 .6 1.7 .7-3.2 .7 3.3 .7-1.9 .7-.3 .7-2.6 .7-.6 .7-1.9 .7 1.1 .7-1.6 .7 1.4 .6-.6 .7 2.4 .9 1.3 .8 5.3 .6-3.4 .6-.9 .6-4 .7 4 .6-2.4 .7 .5 .7-.4 .7 3.3 .7-2 .7 .9 .7-2.4 .7-1.3 .7-.6 .7 .9 .7-1.5 .6 .2 .7-1.8 .7 .6 .7-2 .7 1 .7-1.4 .7 .9 .7-.5 .7 1 .7-2.5 .7 .6 .6-.4 .7 1 .7 0 .7 2.1 .7-.1 .7 .8 .7-1 .7 .4 .6-1 .7 .6 .7-2.3 .7 .3 .7-1.7 .7-.8 .7-1.1 .7 .4 .7-.2 .7 .2 .7-.2 .6 .7 .7-.2 .7 .6 .7-.7 .7 .9 .7-.6 .7 1 .7-.6 .7 .2 .7-1.2 .7 .6 .6-1 .7 .2 .7-.9 .7 0 .7-.3 .7-.1 .7-.6 .7-.5 .7-.8 .6 .3 .7-1.7 .7 2.6 .7 .7 .7 .5 .7-.4 .7 1.1 .7-2.8 .7-.5 .6-1.2 .7-.1 .7-.7 .7 .6 .7-2.8 .7 1.6 .7-1.2 .7 0 .7-2.2 .7 .1 .7-3.2 .6 .8 .7-2 .7-1.6 .7-.7 .7 .5 .7-6.1 .7 1.5 .8 .3 .8 5.8 .7-1.6 .6-1.5 .6-4.2 .6-2.6 .7-5.2 .7 3.3 .7-2.2 .7 2.2 .7-5.7 .7 5.3 .6-3.5 .7 2.5 .7-3.5 .7 5 .7-2.1 .7 5.2 .7-2.4 .7 .7 .7-4.4 .7-1.8 .7-2.5 .6 2.4 .7-4.1 .7 1.2 .7-2.3 .6 6.5 .7-3.8 .6 .5 .7-2.4 .6-2.5 .8 .4 .7 3.8 .8-1.5 .7 5.5 .7 1.3 .7 5.2 .7-1.8 .8-.5 .8-6.4 .7 1.5 .7-.9 .6 4.3 .6-3.2 .7 1.3 .6 1.6 .7 2.7 .7 .2 .7 3.1 .7-4 .7 5.5 .6-2.5 .7 3.7 .7 1.1 .7 .6 .8 3.9 .9 5 .7-2.3 .7 1.4 .6-5.5 .7 1.9 .7-3.9 .6 1.4 .6-2 .7 2.5 .6-1.5 .7 .7 .7-2.2 .7 4.2 .7-2.4 .7 2.4 .6-3.7 .7 .1 .7-4.5 .7 1.5 .7-4.1 .7 2.2 .7-3 .7-.4 .7-4.9 .7 .8 .6-.9 .7 .3 .7-2.6 .7 1.4 .7-1 .7-.6 .7-.8 .7-.7 .7-1.9 .7 1.1 .7-2 .6 .8 .7-.4 .7 .3 .7-.2 .7 .8 .7 .1 .7 .9 .7-1.9 .7 1.6 .6-1.5 .7 .3 .7-1.4 .7 .2 .7-2.5 .7 3.2 .7-.9 .7 1.8 .7 .1 .6-.5 .7-1.6 .7-.5 .7-1.1 .7-1.4 .7-1.1 .7 .9 .7-2.4 .7 1.3 .7-2.7 .7 .8 .6-2.8 .7 2.3 .7-1.7 .7-.1 .7-1.2 .7 .3 .7-1 .7 .6 .7-1.9 .6 1 .7 .2 .7 1.1 .7-1.5 .7 2.2 .7-.2 .7 0 .7-.6 .7 .6 .7-.7 .6 .7 .7-1.7 .7 1.3 .7-1.8 .7 .4 .7-.8 .7 .3 .7-.4 .7 2.7 .7 .5 .7 .5 .6 .9 .7 2.2 .7 .6 .7 1.6 .7-1.2 .7-.5 .7-2.3 .7 1 .7-2.2 .6 .1 .7-.6 .7 .5 .7-1.7 .7 .1 .7-.9 .7 .9 .7-2.8 .7 1.6 .7-1.4 .6 .5 .7-1.3 .7 .4 .7 .3 .7 .4 .7-.6 .7 .9 .7-.9 .7 .2 .7-.8 .7-.2 .6-.6 .7 .2 .7-.1 .7 .1 .7-.5 .7 .2 .7-.2 .7 .8 .7-1 .6 0 .7-.4 .7 .1 .7-.8 .7 .6 .7-.8 .7 1.4 .7-1.5 .7 .8 .7-1.5 .6 1.7 .7-.4 .7 1 .7-.7 .7 1.4 .6-2.5 .7-.3 .6-2.1 .6-.3 .7-2.4 .7 1.5 .6-1 .7 .8 .7-2.1 .7 1.1 .7-.4 .7 2 .7-1 .7 1.8 .7-.1 .7 0 .6-.7 .7 .1 .7-1.1 .7-.4 .7-1.1 .7 0 .7 .1 .7 0 .7-1.2 .6-.1 .7 .5 .7 1.2 .7-.2 .7 .5 .7-.6 .7 .1 .7-1.2 .7 .4 .7-.4 .6 .8 .7-1.3 .7 .9 .7-1.1 .7-.1 .7-1 .7 .5 .7-.5 .7 .3 .7-.4 .6 .9 .7-.6 .7 .7 .7-1 .7 2.4 .7-.2 .7 1 .7-.4 .7 .3 .6-.9 .7 .1 .7 1.3 .7 1.2 .7 1.4 .7-.9 .7-1.3 .7-.3 .7-1.1 .7 .4 .7-.3 .6-.8 .7-.8 .7 .8 .7-1.1 .7 2.7 .7-.8 .7 1.7 .7-.7 .7 1.4 .6-.3 .7-.3 .7-.8 .7 2.9 .7-.7 .8 3.6 .9 .7 .6 1.4 .6-5.3 .6 1.5 .7-4 .6 1.2 .7-1.5 .7 1.6 .7-.3 .7 0 .7-1.3 .7 1 .7 .1 .7 1.4 .7-.6 .7 1.1 .6-2.2 .7 1.1 .7-1.8 .7 0 .7-1.4 .7 .9 .7-.2 .7 1.1 .6-1.1 .7 2.1 .7-.5 .7 .6 .7-1 .7 .4 .7-1.6 .7 .8 .7-1 .7 .5 .6-.7 .7 1.2 .7-1.2 .7 .6 .7-.6 .7 .6 .7-.9 .7 1 .7-.6 .7 .5 .7-.1 .6 .5 .7 .7 .7-.7 .7-.5 .7 .1 .7-1.7 .7 .4 .7-.9 .7 .7 .6-1.4 .7 .3 .7-.3 .7 .1 .7-.5 .7-.3 .7-.6 .7 .4 .7-.3 .7 .1 .6 .1 .7 .3 .7-.3 .7 .9 .7-.5 .7 .5 .7-.3 .7 .3 .7-.3 .7 1.2 .7-.9 .6 1.2 .7-.7 .7 1.1 .7-2 .7 0 .7-1.4 .7-.8 .7-.4 .7 1.4 .6-1.4 .7 .5 .7-1.6 .7 .9 .7-1.6 .7 .9 .7 0 .7 1.8 .7-.5 .7 1.7 .6-.7 .7 2.2 .7-.1 .7 2.6 .7-1.9 .7-.7 .7-2.2 .7-.3 .7-.1 .7 .7 .7-.3 .6 1.8 .7-.5 .7 1.3 .7 0 .7 .5 .7-.5 .7 .8 .7-.9 .7 1 .6-1 .7 .5 .7-.6 .7 1.1 .7-.6 .7 1.2 .7-.3 .7 .9 .7-.6 .7 .9 .7-.1 .6 1.4 .7-.1 .7 .4 .7-2.1 .7 0 .7-.9 .7 .9 .7 .5 .7 .9 .6 .4 .7 2 .7-1.6 .7 0 .7-.1 .7 .2 .7-.7 .7 .7 .7-.6 .7 .3 .6-1.9 .7 2.7 .7-1.7 .7 1.6 .7-2.9 .7 3.7 .7-.1 .8 5.5 .8-.7 .7 6.6 .7-.5 .6 2.1 .6-5.9 .6 1.9 .7-5.1 .7 2.5 .7-4.9 .7 .4 .7-4.3 .7 1 .6-1.5 .7 2.6 .7-5.1 .7 3.1 .7 0 .7 3.2 .7-1.5 .7 2.5 .7-3.2 .7 1.1 .6-.8 .7 1.1 .7-4.8 .7 2 .7-3 .7-.7 .7 0 .7 1 .7-.5 .7 1.6 .6-.1 .7 .5 .7-3.1 .7 2.4 .7-.8 .7 .4 .7-1.2 .7 1.5 .7 0 .6 .7 .7-.4 .7 .4 .7 .1 .7 .8 .7-.6 .7 1.6 .7 .5 .7 0 .7-1.7 .6 .7 .7-1.1 .7 .3 .7-1.8 .7 1.1 .7-.4 .7 .6 .7 0 .7 2 .7-.2 .7-.6 .6-3 .7 1 .7-.8 .7 .3 .7-1.9 .7 1.2 .7 .2 .7 .9 .7-1.8 .7 1 .6-2 .7 1.9 .7 .1 .7 1.6 .7 1.3 .7 2 .7-1.1 .7 1.5 .7-2.5 .7 .3 .6-1 .8 1.7 .8-.8 .8 3.3 .7-.1 .8 .5 .7-.3 .8-1 .7-.8 .8-.6 .7-2.4 .7 1 .7 .2 .7 0 .7-1.9 .7 1.7 .7-.6 .7 1.7 .6-.1 .7 1 .7-.2 .7 1.2 .7-.9 .7 .7 .7-2.3 .7 2.2 .7-.3 .7 .8 .6 0 .7 .4 .7-1.3 .7 .3 .7-2.3 .7 1.3 .7-1 .7 .3 .7-.9 .7 .9 .6-.9 .7 .4 .7-1 .7 .7 .7-.5 .7 1.4 .7-1.4 .7 1 .7-1.7 .6-.2 .7-1.4 .7 1.4 .7-2.2 .7 .5 .7-1.1 .7 0 .7-.8 .7 .5 .7-1.7 .7 .3 .6-.6 .7 .8 .7-.8 .7 .8 .7-1.5 .7 .6 .8 .7 .9 2.1 .6-1 .6-.8 .6-2.4 .6 .4 .7 0 .7 .4 .7-1.2 .7 .9 .7-1.4 .7 2.3 .7-1.3 .7 1.4 .6-.6 .7 1.1 .7-.6 .7 2.2 .7-.9 .7 1.2 .7-.7 .7 1.3 .6-.1 .6 1.3 .6-.7 .7 3.3 .8-2.1 .8-1.1 .7-2.2 .7 .9 .7-1.1 .7 2 .7-1.4 .6-.4 .7-.7 .7-.4 .7-.4 .7 1.1 .7-2.2 .7 1 .7-.8 .7-.9"/>
<path class="o" d="M1438 1020.1 l.5 .7 .6-4.1 .7 3 .8-2 .7 1.4 .8-.9 .7 2.5 .7-1.7 .7 .3 .7 .3 .7 1.5 .7 .2 .6 .2 .7-.9 .7 2.2 .7-1.1 .7 1.2 .7-.5 .7 1.5 .7-.5 .7 1.4 .7 1.3 .7 .6 .6-.8 .7 2.2 .7-2 .7 1.5 .7 0 .7 1.7 .7-1.1 .7 1.9 .7-.4 .7 2.1 .6-1.8 .7 2.1 .7-.7 .7 .3 .7-1.3 .7 .7 .7-1.4 .7 3.4 .6 1.2 .7 5.2 .7-2.8 .7 .5 .7 .5 .7 .5 .7-2.2 .7-1.6 .7-3.5 .7 1.9 .6-.7 .7 .3 .7-1.7 .7 .5 .7-.5 .7 1.2 .7 1.7 .7 2.2 .7-1.4 .7 .4 .7-.5 .6 .3 .7-1.1 .7 .6 .7-2.8 .7 1.4 .7-1.7 .7 .9 .7-.4 .7-.4 .7-1.1 .7-.4 .6-1.5 .7 .6 .7-1.4 .7 .2 .7-2.4 .7 1.7 .7-.2 .7 2.8 .7 .2 .6 1 .7 .8 .7 1.6 .7-1.9 .7 1.3 .7-1.4 .7 1.8 .7 .1 .7 1.8 .6 1.4 .7 1.7 .7-1.3 .7 1.2 .7-.5 .7 .7 .7-1.5 .7 .6 .7-1.3 .7-.3 .6-.6 .7 .6 .7-.1 .7 1.7 .7-.3 .7 1 .7-.3 .7 .6 .7-.6 .7 .2 .7-1 .6 .1 .7-1.6 .7-.6 .7-2 .7 .9 .7-1.2 .7 .5 .7-1.2 .7 .9 .6-.3 .7 0 .7-1.6 .7-.5 .7-1.1 .7-.4 .7-1.3 .7 .9 .7-1.1 .7 1.1 .6-1.7 .7 2.1 .7-2.6 .7 1.6 .7-1.6 .7 1.5 .7-1.2 .7 .4 .7-2 .7 .2 .7-.7 .6 1.3 .7-.1 .9 3.4 .8 2.1 .6 0 .6-2.4 .6 1.4 .7-2 .6 1.6 .7-1.1 .7 .1 .7 .1 .7 1.8 .7-2.2 .7-.4 .7-1.9 .7 1 .7-2.5 .7 2 .6-1.9 .7 .3 .7-1.3 .7 .5 .7-1.3 .7 .3 .7-.8 .7 .6 .7-.3 .7 .7 .7-2.1 .6 2 .7 .9 .7 .9 .7 .1 .7 1.7 .7-1.3 .7 .5 .7-1.8 .6 1.1 .7-.7 .7 .1 .7-1.8 .7 .8 .7-1.8 .7 0 .7-.6 .7 .5 .7-1.2 .7 1.1 .6-.2 .7 0 .7 .3 .7 1.2 .7-.6 .7 1 .7-.2 .7 .5 .7-1.8 .7 .2 .7-1.5 .6-.2 .7-.9 .7 .8 .7-.9 .7-1.2 .7-.8 .7 .9 .7-.9 .7 1.1 .6-1.7 .7 .1 .7-1.4 .7 2.7 .7-.8 .7 2.1 .7-1.6 .7 1 .7-2.6 .6 2.2 .7-2.5 .7 1.5 .7-2.5 .7 .9 .7-3.6 .7 2.1 .7-1.8 .7-.6 .7-3.4 .7-.2 .6-3.3 .7-.2 .7-1.4 .7-.4 .7-2 .7 .2 .7-2.4 .7 1.4 .7-1.1 .7 2.4 .6-1.3 .7 .4 .7-1.9 .7 .6 .7-1.1 .7 .6 .7-.7 .7 .5 .7-1.2 .7 .2 .6-1 .7 2.2 .7-.6 .7 2.9 .7-.6 .7 .5 .7-2 .7 .5 .7-2.2 .7 1.3 .6-2.1 .7 .4 .7-1 .7 1 .6-1.1 .7 .7 .6-1.1 .7-.5 .6-.5 .7 2.2 .8 .3 .8 1.1 .7 1 .7 0 .7-.5 .7 .7 .7-.4 .7 .5 .6-1 .7 1 .7-.1 .7 2.5 .7-.8 .7 2.3 .7-.2 .7-.5 .7-.1 .7 1.5 .7-1.3 .6 1.4 .7 .3 .7 2.5 .7 .3 .7 1 .7-.4 .7 .5 .7-1.3 .7 1.8 .7-2.3 .7 .6 .6-.9 .7 .4 .7-.1 .7 .7 .7-.9 .7 2.3 .7-1.9 .7 .4 .6-.8 .7-.3 .7-1.5 .7-.1 .7-1.4 .7 .9 .7-2.4 .7 2.2 .7-2.4 .7 .3 .7-1.8 .6 .8 .7-1.7 .7 .5 .7-1.4 .7-.2 .7-2.1 .7 .7 .7-.9 .7-.2 .6-.3 .7 .6 .7-.6 .7-.2 .7-.6 .7 .2 .7 0 .7 .4 .7-.8 .7 2.1 .7-1.4 .6 .1 .7-1.2 .7 .1 .7-1 .7 .3 .7-1.5 .7 2.5 .7 .3 .7 0 .6-1.9 .7-.5 .7-.3 .7 .2 .7-.3 .7 .1 .7-2.1 .7-.4 .7-.6 .7-.7 .7-.5 .6 .1 .7-.8 .7-.6 .7-1.1 .7 1 .7-.8 .7-.3 .7-.7 .7 .5 .6-1 .7 1.4 .7-.4 .7 .8 .7 .6 .7 1 .7-1.8 .7 .9 .7-1.1 .7 .7 .6-1.2 .7 1.1 .7-1 .7 .6 .7-2 .7 1.5 .7-2.2 .7 2.5 .7 .4 .7 3.2 .7 .2 .6 1.4 .7 1.2 .7 1.3 .7-.1 .7 2.6 .7-2.5 .7-.5 .7 0 .7 1.1 .7-2.4 .6-.2 .7-1.2 .7 .7 .7-1.6 .7 .6 .7-1.9 .7 1.4 .7-.9 .7 1.4 .6-1.4 .7 .6 .7-.4 .7 1.3 .7-.3 .7 .8 .7-.2 .7 1.4 .7-2 .7-.2 .7-1.4 .6 .6 .7-1.3 .7 .2 .7-.4 .7 1.3 .7-.9 .7 .3 .7-.9 .6 1.5 .7-.2 .7 1.1 .7-.3 .7 .8 .7-.9 .7-.7 .7-1.4 .7-.6 .7-1.2 .7 1.1 .6-.9 .7 2.5 .7-.6 .7 1 .7-2.5 .7 .3 .6-.8 .7-.9 .7-1 .7-.3 .6-.3 .7-1 .6-1.3 .7 .8 .7-.3 .6 1 .7 .6 .7 1.1 .7-1.2 .7 1.6 .7-1.3 .6 .9 .7-1.6 .7 1.3 .7-2.7 .7 .6 .7-.8 .7 .4 .7-1 .7 .5 .6-1.5 .7 1.2 .7-.1 .7 2.2 .7-.3 .7-.1 .7 .1 .7-.1 .7-1.1 .7-.5 .6-2.3 .7 1.1 .7-1.4 .7 .7 .7-.7 .7 .3 .7-1 .7 1.7 .7-1.1 .7 1.1 .6-1 .7 1 .7-.9 .7 1 .7 .3 .7 .4 .7-.2 .7 2.8 .7 1.7 .7 .4 .6-1.5 .7-.4 .7-.9 .7 .1 .7-.5 .7 .4 .7-.5 .7 .9 .7-.7 .7 1 .6-2.1 .7 2.6 .7-1.7 .7 .1 .7-1 .7 1 .7-.4 .7 1.4 .7 .4 .6 1.9 .7-.6 .7 1.3 .7-1 .7 2.2 .8-.4 .9 4 .6-1.5 .6 .3 .7-2.2 .6 .1 .6-.8 .7 0 .7-.5 .7 .5 .7 .4 .7-.6 .7-.9 .7 .7 .7-1 .6 .9 .7-.7 .7 1.4 .7-.7 .7-.2 .7-1.4 .7 .8 .7-1.3 .7 1.2 .7-.7 .6 2.5 .7 .4 .7 .8 .7-.8 .7 .1 .7-.3 .7 .3 .7-1 .7 .3 .7-.7 .6-.4 .7-.9 .7 .7 .7-.1 .7 .3 .7-.4 .7 1.5 .7-1.2 .7 1.5 .7-.3 .7 1.1 .6 0 .7 1.1 .7-2.8 .7 .9 .7-1.4 .7-.3 .7-1.4 .7 .4 .7-1.2 .6-.3 .7-1.1 .7 .6 .7-1.3 .7-.1 .7-1.7 .7 2.2 .7-.7 .7 .6 .7-.1 .6 .2 .7 .2 .7 0 .7 .3 .7 .7 .7-1.2 .7 .6 .7-.9 .7 1.1 .7-1.3 .8 2.2 .7 .2 .8 1 .6-1.4 .7 .4 .6-2.5 .6-.6 .7-2 .7 1 .7-1.8 .6 1.6 .7-1.6 .7 .8 .7-1.5 .7 .3 .7-.3 .7 .3 .7 0 .7 1.8 .7-.2 .7 1.2 .6 .1 .7 .8 .7-.3 .7 .7 .7-1 .7-.3 .7-1.4 .7 .1 .6 .5 .7 .3 .7-.7 .7 1.5 .7 .1 .7 1.5 .7 .4 .7 .6 .7-.6 .7 1 .7-1 .6 .1 .7-.2 .7 .3 .7-.3 .7 1.4 .7 0 .7 .5 .7 0 .7 .7 .7-1 .7 2.6 .6-.5 .7 .9 .7-1.8 .7-.1 .7-1.4 .7-.3 .7-.5 .7 2.1 .7 .1 .6 2.1 .7-.8 .7 1.5 .7-.7 .7 1 .7-1.1 .7 .7 .7 .2 .7 .4 .7-1.4 .6 1.6 .7-2.8 .7 2.4 .7-1.5 .7 2.5 .7-.5 .7 3.1 .7-3.3 .7 4.9 .7 1.4 .7 3.6 .6-3 .7 1.3 .7-3.2 .7 .9 .7-.7 .7-.2 .7-1.5 .7 1.1 .7-2.3 .7-.7 .6-.6 .7 .5 .7-.2 .7 .9 .7 .2 .7 1 .7-.7 .7 .3 .6 0 .7 1.1 .7-.9 .7-.6 .7-1.1 .7 .5 .7-1.5 .7 .6 .7-.3 .7 .8 .7 .1 .6 .1 .7-.8 .7 .7 .7-.7 .7 .1 .7-.4 .7 .9 .7-.3 .7 .4 .6-.1 .7 .8 .7-1.2 .7 1.3 .7 0 .7 .8 .7 .4 .7 .8 .7 .3 .7 .5 .6-2.2 .7 .3 .7-1.4 .7-.6 .7-.2 .7 .8 .7 .5 .7 .3 .7-.9 .7 1.6 .7-1.3 .6-.6 .7-1 .7 1 .7-1.5 .7-.2 .7-.6 .7 1.3 .7-2.4 .7 1.4 .6-2.4 .7 1.9 .7-1 .7 1.4 .7 .6 .7 2.9 .7-.3 .7 2.3 .7-2.1 .7-.3 .7-.5 .6 .5 .8 .7 .8 1.3 .8-1.2 .7 1.7 .8-1.2 .7 1 .8-.4 .7 .2 .8-1.9 .7-.1 .7-.8 .7 .8 .7-1.3 .7 .7 .7-.8 .7 1.6 .7-.2 .6 1.4 .7-.3 .7 1.9 .7-.1 .7 .5 .7-1.9 .7 .8 .7-.8 .7 1.8 .7-.8 .6 2.7 .7-3 .7-.2 .7-2.6 .7-.1 .7-.2 .7 .4 .7-.3 .7 1.1 .7-2.1 .6 1.7 .7-1.3 .7 .2 .7-1.1 .7 1.3 .7-1.2 .7 0 .7-.5 .7-.8 .6-1.5 .7-.1 .7-3.1 .7 2 .7-2.9 .7 1.5 .7-1.6 .7-.5 .7 0 .7-.4 .7-.6 .6 1.6 .7-1.4 .7 2.1 .7-1.9 .7-.2 .7-1 .8 1.5 .9 1.4 .6-.4 .6-2.9 .6 .9 .6-1.8 .7 1.3 .7-.8 .7 .1 .7-.6 .7 1 .7-1 .7 2.6 .7-2.3 .6 2.1 .7-.7 .7 .6 .7-.1 .7 1.4 .7-.7 .7 1.4 .7-.5 .6 1.8 .6-.2 .6 1 .7 .2 .8-.4 .8-2.4 .7 1 .7-.7 .7 .5 .7-1.1 .7 .3 .7-.6 .6 .4 .7-2.3 .7 1 .7-1.5 .7 .3 .7-.6 .7 .3 .7-1.7 .7 .7"/>
</g>
<path class="z" d="M1408.90 1023.00H2064.03"/>
<text class="t" transform="translate(1736.17 833.00) scale(0.964 1)">MYR</text>
</g>
<g>
<rect x="2083.93" y="841.90" width="656.15" height="362.15" fill="#eaeaf2"/>
<path class="g" d="M2113.50 841.90V1204.05M2206.50 841.90V1204.05M2299.50 841.90V1204.05M2391.50 841.90V1204.05M2484.50 841.90V1204.05M2577.50 841.90V1204.05M2669.50 841.90V1204.05M2083.93 852.50H2740.08M2083.93 909.50H2740.08M2083.93 966.50H2740.08M2083.93 1023.50H2740.08M2083.93 1080.50H2740.08M2083.93 1137.50H2740.08M2083.93 1195.50H2740.08"/>
<clipPath id="c11"><rect x="2083.93" y="841.90" width="656.15" height="362.15"/></clipPath>
<g clip-path="url(#c11)">
<path class="b" d="M2232 1023.2 l.6 .2 .7-1.2 .7 .9 .7-1 .7-.1 .7-1.7 .7-.1 .7-1.4 .7 .6 .7-2.4 .6 .1 .7-1.3 .7 .2 .7-.9 .7-.3 .7-.8 .7 0 .7-1.6 .7 2.2 .6-.8 .7-.8 .7-1.4 .7 .4 .7-.9 .7-.2 .7 .2 .7-.4 .7-1.3 .7 0 .7-1.8 .6 .9 .7-.7 .7-.5 .7-1.5 .7 1.7 .7-3.8 .7 1.2 .7-2.9 .7 1.7 .7-2.1 .7 2.2 .6 1.6 .7 3.2 .7-1.4 .7 2.5 .7-1.8 .7 .7 .7-.5 .7 1.6 .7-3.6 .6-1 .7-1.5 .7 1.1 .7-3.3 .7 .8 .7-1.9 .7 .9 .7-.3 .7 .8 .6-1.5 .7 0 .7-1.6 .7 1.3 .7-2.6 .7 0 .7-.3 .7-.5 .7-1 .7 1.1 .6-.3 .7-2 .7-3.2 .7 .2 .7-2.1 .7 1.6 .7-.3 .7 2 .7-1.7 .7 1.1 .7-1.7 .6-.2 .7 2 .7 2.8 .7 1.4 .7 .6 .7-2.6 .7 0 .7-1 .7 .6 .6 .5 .7 2.4 .7-.1 .7 3.1 .7-1.3 .7 2.7 .7 .3 .7 .9 .7 .4 .7 4.2 .7 1.2 .6 .7 .7-1 .7 .9 .7-2.9 .7 3.2 .6-4.7 .6 1.3 .7-2.2 .6 .5 .8-1.5 .8 3.3 .7 1.5 .7 4 .7-.8 .7 1.4 .7-2 .7 .8 .7-1.6 .7 1.4 .6 1.5 .7 7.3 .7-9.3 .7 22.7 .7-1.6 .7 5.5 .7-7.7 .7 .3 .7-4.4 .7 4.6 .7-3.5 .6 5.6 .7-5.3 .7 5.2 .7-4.2 .7 4.5 .7-3.5 .7-3.8 .7-4.4 .7 1.1 .7-9.6 .6 2.2 .7-1.1 .7 1.4 .7-4.4 .7 2.6 .7-2.2 .7 1.5 .7-4.5 .7 1.8 .6-5.4 .7 1.5 .7-2.8 .7 1.3 .7-.2 .7-1.2 .7-.8 .7 .1 .7-4.1 .7 1.2 .6-.5 .7 .7 .7-.7 .7 .4 .7-.6 .7 1.9 .7-1 .7 1.1 .7-2.8 .6 .1 .7-2.3 .7-.4 .7-1.9 .7 3.1 .7-.1 .7 1.7 .7-.7 .7 .6 .7-2.4 .7-.3 .7-2.7 .6 2.7 .7-2.9 .7 .6 .7-1.3 .7 .6 .7-1.5 .7 .7 .7-.4 .7-.8 .6-1 .7 1.3 .7-1.3 .7-.1 .7-2 .7 1.5 .7-1.8 .7 .8 .7-3.4 .7 4.3 .7-1.6 .6 2.3 .7 .6 .7 1.1 .7-3.5 .7-.9 .7-.9 .7-.5 .7-2.3 .6 2.6 .7-.2 .7 2.1 .7-.8 .7 1.1 .7-3 .7 7.1 .7-.3 .7 3.2 .7 .3 .7 5.7 .6-.4 .7 .7 .7-.2 .7-1.3 .7-6.2 .7 1.8 .7-1.4 .7 5.6 .7-3.6 .6 .2 .7-2.8 .7 3.5 .7-8.2 .7 2.9 .7-2.6 .7-.2 .7-1.6 .7-.5 .7-.9 .6 1.5 .7-.1 .7 2.6 .7 .1 .7 1.5 .7 .4 .7 1.6 .7-3.9 .7 .2 .7-2.3 .6 1.1 .7-.3 .7-.6 .7-1.6 .7-.2 .7-1 .7 .8 .7-.9 .7 .8 .7 .3 .7 1.3 .6-1.5 .7 1 .7-1.5 .7 .7 .7-4.5 .7 1.4 .7 .1 .7-.3 .7-2 .7 1.2 .6-3 .7 0 .7-1 .7 2.4 .7-4 .7 1.1 .7-2.4 .7 .7 .6 .1 .6 3.6 .7 .2 .6-.5 .7-.4 .7-1.1 .6-1.5 .7 1 .7-1.7 .7 1.4 .7-2.7 .6 1 .7-1.1 .7 1.5 .7-1.9 .7 .8 .7-.8 .7 .4 .7-.7 .7-.6 .7-1.4 .7 .7 .6-1 .7 .7 .7-.8 .7 .6 .7-1.2 .7-.2 .7-1.9 .7 .8 .7 .1 .6-.1 .7-.5 .7 .2 .7-2.2 .7 1.3 .7-1.1 .7 1.5 .7 .6 .7 .9 .7-2.5 .7 2.2 .6-2 .7-.2 .7-.7 .7 2 .7 .4 .7 3.9 .7-3.1 .7-1.1 .7-5 .7 2.1 .6-2.7 .7-.1 .7 1.5 .7 1.1 .7-4.3 .7 .4 .7-5.8 .7 .5 .7-2 .6 2.1 .7-2.8 .7 1.2 .7-.8 .7 1 .7 .8 .7 1.4 .7-1.5 .7 1.8 .6-1.7 .7 .2 .7-.8 .7 .9 .7-.7 .7 4.4 .7 .4 .7 3.9 .7-1 .7-.2 .7-2.4 .6 .8 .7-1.9 .7 .3 .7-.2 .7 2.7 .7-.2 .7 1.8 .7-.4 .7 5.1 .7-1.6 .7 2.5 .6-2.5 .7-1.5 .7-2.3 .7 .5 .7-2.7 .7 3.2 .7-3.9 .7 2.1 .7-1.3 .6 3 .7-.2 .7 2 .7 .5 .7-.1 .7-2.1 .7-.8 .7-2 .7 2 .7-2 .6 0 .7-1.4 .7 .4 .7-1.1 .7-.2 .7-.8 .7 0 .7-2.2 .7 .8 .6-2.2 .7 1 .7-2.3 .7 .4 .7-1.3 .7 1.2 .7-.4 .7-.2 .7-.3 .7 .2 .6-1.6 .7 .7 .7-1.6 .7-1.2 .7 .1 .7-.4 .7-.3 .7 .5 .7-.8 .7 2.6 .6-1.7 .7 1.5 .7 .6 .7 2.1 .7-1.4 .7-.9 .7-1.9 .7 .5 .7-1.2 .7 .2 .7 0 .6 1 .7-1.1 .7 1.2 .7-.7 .7 1.5 .7-.4 .7 1.2 .7-.2 .6 1.9 .7-2.2 .7 2.2 .7-1.7 .7 1.1 .7-1.6 .7-.8 .7-1.9 .7-.6 .7 .2 .7 1.7 .7-1.1 .6 .8 .7-.9 .7-.6 .7-2.4 .7 .4 .7-1.5 .7 1.2 .7-1.4 .7 3.4 .6 .1 .7 1.7 .7-1.6 .7 3 .7-.2 .7 5 .7-2.4 .7 3.2 .7-1.8 .7-.4 .6-1.9 .7 2 .7-5.7 .7 .6 .7-1.7 .7 .9 .7-3.7 .7 .5 .7-.7 .7 0 .7-1.1 .6 1.3 .7 .7 .7 1.2 .7-1.5 .7-.5 .7-1.3 .7 2.7 .7-.1 .6 1.6 .7-2.9 .7-.3 .7-4.2 .7 2.3 .7-2.2 .7 .9 .7-4.4 .7 4.2 .7-3.4 .7 3.3 .7-3.9 .6 1 .7-4.1 .7-.1 .7-1.8 .7 2.3 .7-1.2 .8 10.4 .8 8.5 .6-.9 .6-4.4 .6-1.2 .7-2.5 .7-2.6 .7 .8 .7-1.4 .7-3 .7-.6 .7-8.9 .6 8.2 .7-1.2 .7 .3 .7-.4 .7-.4 .7-1.2 .7 2.6 .7-4 .7 1.6 .7-1.4 .6 3.4 .7 .1 .7-2 .7-4.5 .7 .2 .7 .2 .7 0 .7-.6 .7 0 .7-.6 .7 1 .6-3.6 .7 .3 .7-2.9 .7-.6 .7-2.8 .7 1.3 .7-2.1 .7 1.8 .7-1.4 .7 1 .6-2.3 .7 .3 .7-1.1 .7 1.5 .7-2.1 .7 .2 .7-1.8 .7 2.2 .7-.6 .6 1.1 .7-1.1 .7 2.9 .7-2.5 .7 1.2 .7-1.4 .7 0 .7-1.3 .7 1.6 .6-2.3 .7 1.8 .7-1.1 .7 1.9 .7-1.5 .7 3.3 .6 2.3 .6 5.1 .6-1.3 .8-1.3 .8-.2 .7-1.6 .7 1.7 .7 .2 .7 .9 .7 1.2 .7-1.6 .7 2.7 .7-1.3 .7 .2 .7-2.9 .6-.3 .8 1.5 .7 3 .8-3.1 .7 7.3 .8-3.3 .6-1.2 .6-2.3 .7 1 .6-3.7 .7-.7 .6-.6 .7 .3 .7-1.8 .7 1.6 .7-2.8 .7-1.2 .7 .5 .7 1.7 .6-2 .7 1.9 .7-.9 .7 .3 .7-1.6 .7-.2 .7-1.2 .7 .8 .7-2.7 .7 1.1 .7 .5 .6 1.6 .7-1.4 .7 1.4 .7-2.1 .7 1.7 .7-1.1 .7 2.1 .7-.8 .7 2.2 .7-1 .6 1.3 .7 1 .7 1.9 .7-3.8 .7-1.1 .7-4.4 .7 1.6 .7-.7 .7 1.6 .7-.4 .6 .4 .7-3.8 .7 .1 .7-2.1 .7 1.7 .7-2.3 .7 .1 .7-2.5 .7 2 .7-.6 .7-.3 .6-.3 .7 1.3 .7-.3 .7 2.4 .7-1.1 .7 1.3 .7-.1 .7 0 .7-2.6 .6 .9 .7-2.1 .7 1.2 .7-.7 .7 1.1 .7-1.2 .7 1.7 .7-.3 .7 2.9 .6-1.7 .7-.4 .7-2.2 .7 4.7 .7-4.2 .7 .4 .7-3.6 .7 2.9 .8-.7 .7 6.3 .8 3 .6-.1 .6-7.4 .6 1.5 .7-1.2 .7 2.1 .7-.9 .7 .3 .7-3.9 .7 2 .6-5.3 .7 3.5 .7-.2 .7-.4 .7-1.2 .7 1.5 .7-2.1 .7 .6 .7-.5"/>
<path class="o" d="M2232 1023.3 l.6 .8 .7-2.6 .7 .6 .7-1.6 .7 .3 .7-.7 .7 0 .7-.5 .7 1.2 .7-1.2 .6 .4 .7-1.2 .7-.3 .7-1.6 .7-.3 .7-1 .7 1 .7-1.5 .7 2.1 .6-1.1 .7-.4 .7-.4 .7-.6 .7-1.1 .7 .3 .7-1.3 .7 .6 .7-.9 .7 1 .7-1.1 .6 .9 .7-2.5 .7 1.5 .7-2.6 .7-.1 .8-1.1 .7-.5 .8-.2 .7 0 .8 1.2 .7 4.5 .7 .6 .8 1.3 .7-2.7 .8 1.4 .7-1.5 .7 1.2 .8-1.1 .7 .4 .6-1.5 .7 0 .7-2.9 .7 .5 .7-1.1 .7 .3 .7-1.3 .7 1.7 .7-.8 .6 .1 .7-1.1 .7-.4 .7-1.9 .7 1.3 .7-1.2 .7 1.2 .7-.1 .7 0 .7-.3 .6 .5 .7-.9 .7 .2 .7-1.4 .7 .4 .7-.3 .7 .3 .7-.7 .7 .8 .7-.5 .7 .2 .6-.7 .7 2.7 .7-.4 .7 1.3 .7-1.6 .7 .7 .7-.8 .7-.2 .7-.3 .7 1.5 .6 .2 .7 1.2 .7-.8 .7 1.5 .7 .5 .7 .7 .7-.1 .7 2.2 .7-1.2 .7 2.5 .6 .2 .7 0 .7-.4 .7-.4 .7-1.7 .6 .5 .6-2 .7 1.4 .6-1.2 .8 2.2 .7-.4 .8 1.8 .7 .8 .7 1 .7-1 .7-.3 .7-2.2 .7 3.2 .7-1.4 .6 1.8 .7-.5 .7 2.1 .7 .5 .7 2.1 .7-.1 .7 .6 .7-1.1 .7 .3 .7-2 .7 .6 .6-.2 .7 .8 .7-1 .7 .8 .7-.2 .7 .3 .7-.9 .7 .3 .7-1.7 .6 .1 .7-1.2 .7-.1 .7-.8 .7 .4 .7-.9 .7 1 .7-.3 .7 .1 .7-.9 .6-.2 .7-.8 .7 .6 .7-1.4 .7-.1 .7-1 .7 .4 .7-.8 .7 0 .6-.1 .7 .6 .7-.6 .7 0 .7-.8 .7 .3 .7-.2 .7 .7 .7-.2 .7 1.2 .6-.4 .7-.2 .7-.9 .7-.8 .7-3.2 .7 .3 .7 0 .7 2.3 .7-.7 .7 .4 .6 .1 .7-.5 .7-.7 .7 .1 .7-.8 .7-.1 .7 0 .7 0 .7-1.2 .7 .5 .7-1.4 .7 .6 .6-.4 .7-.3 .7-1.3 .7 1.2 .7-1 .7 .6 .7-1.9 .7 .3 .7-.5 .6 1.2 .7 .4 .7 .9 .7 .2 .7 1.6 .7-1.7 .7 .1 .7-1.6 .7-.1 .6-1.6 .7 1.6 .7-.8 .7 1.9 .7-1 .7 1.2 .7 1.4 .7 1.3 .7-.3 .7 2.4 .6-1.4 .7-.3 .7-.4 .7 1.8 .7-2.3 .7 1.9 .7-1.8 .7 .6 .7 0 .7 .6 .7-.9 .6-1.1 .7-.5 .7-.3 .7-1.1 .7 .1 .7-.4 .7 .3 .7-.5 .7 .8 .6-.4 .7 1.1 .7 .2 .7 .6 .7-1 .7 1.2 .7-1.2 .7 .7 .7-.9 .7 .5 .7-.3 .6 .5 .7-.8 .7 .7 .7-1.8 .7 .6 .7-1.2 .7 1.1 .7-.1 .7 1.3 .7-.3 .6 .6 .7-1.4 .7-1.5 .7-1.6 .7 .6 .7-.1 .7-1.2 .7-.4 .7-.4 .7-2.3 .6-.1 .7-.7 .7-.2 .7-1.1 .7-.4 .7-1.3 .7 .8 .7-.9 .6 2.5 .6-.4 .7 2.4 .6-1.7 .7 0 .7-1.4 .6 1.5 .7-1.7 .7 0 .7-.9 .7 .8 .6-.5 .7 .1 .7-.2 .7 .1 .7-1.1 .7 .4 .7-.4 .7 .7 .7-1.1 .7-.2 .7-1.8 .6 1 .7-.5 .7 .1 .7-.3 .7 .4 .7-2.1 .7 1.1 .7-.7 .7 .9 .6-2.2 .7 .1 .7-1.7 .7 .5 .7-.9 .7 2.3 .7-2.5 .7 3.1 .7-1.1 .7 1.6 .7-1.6 .6 .8 .7-1.9 .7 2.2 .7-1.7 .7 3.8 .7 .7 .7-.1 .7-5.9 .7 1 .7-1.4 .6 .7 .7-1.3 .7 1 .7-.9 .7-.2 .7-3.4 .7-.4 .7-.4 .7 .2 .6-.2 .7 .4 .7-2.1 .7 1.1 .7-1.5 .7 1.1 .7 .4 .7 .2 .7 .1 .6 1 .7-.4 .7 .1 .7-.3 .7 .4 .7 .4 .7 1.9 .7 0 .7 .5 .7-1.1 .7 .4 .6-.4 .7 1.3 .7-.8 .7 .3 .7 0 .7 1.8 .7 0 .7 .5 .7 .4 .7 1.4 .6-1.6 .7 .7 .7-1.1 .7 .4 .7-2.1 .7 1.2 .7-.6 .7 .9 .7 .3 .6 .6 .7-.6 .7 1 .7-.2 .7 1.2 .7-2.1 .7-.2 .7-1 .7 1.1 .7-1.1 .7 .7 .6-1.6 .7 .7 .7-1.5 .7 .2 .7-.2 .7 .9 .7-2.1 .7 0 .7-1.2 .6 .2 .7-.8 .7 .6 .7 0 .7 .3 .7-1.9 .7 .2 .7-.9 .7-.8 .7-1.2 .6 .3 .7-.8 .7-.2 .7-1.2 .7 .8 .7-.7 .7 1.2 .7-.9 .7 .3 .7 0 .6 1.1 .7 .8 .7 1.6 .7-1.1 .7-.7 .7-2.9 .7 2.5 .7-2.3 .7 .5 .7-.2 .7 1.7 .6-2 .7 1.1 .7-.9 .7 2.4 .7-.7 .7 3.3 .7-1.8 .7 2.8 .7-1.8 .7 .7 .6-1.6 .7 .3 .7-1.4 .7 .9 .7-1 .7 1.5 .7-1.8 .7-.1 .7-.5 .7-.2 .6-.4 .7 1.2 .7-1.3 .7 .5 .7-.8 .7-.5 .7-.5 .7 .1 .7 .8 .6 2.1 .7 .2 .7 3.7 .7-1.6 .7 .4 .7-.7 .7 1.7 .7 .3 .7 2.5 .7-4 .6 .7 .7-1.3 .7-.7 .7-1.5 .7 .6 .7-3.1 .7 .7 .7-.4 .7-.1 .7-1.4 .7 2.3 .6 .1 .7 1.9 .7-.8 .7 1.4 .7-2 .7 .9 .7 .1 .7 1.7 .6-.7 .7 1.3 .7-2.4 .7 .5 .7-3 .7 1.8 .7-2.9 .7 2.2 .7-2 .7 1.1 .7-3.3 .7 .8 .6-.3 .7 .1 .7-1.5 .7 .8 .7-1.2 .7 .1 .8 3.4 .8 6.6 .7-3.2 .6 1.6 .7-1.2 .6 .6 .7-2.3 .6 .7 .7-2.1 .7 .9 .7-2.6 .7 1.7 .6-1.1 .7 .8 .7-1.4 .7 .9 .7-.9 .7 .4 .7-.8 .7 .4 .7-.4 .7 .8 .6-.8 .7 .2 .7-.7 .7-.8 .7-1 .7 .2 .7-2.1 .7 1.2 .7-.8 .7-.5 .7-1.4 .6 1.5 .7-2.9 .7-.3 .7-1.9 .7 1 .7-2.3 .7 0 .7-1.2 .7 1.6 .7-.6 .6 .3 .7-1.3 .7 .3 .7-.9 .7 .3 .7-1.7 .7 1.3 .7 .1 .7 1.1 .6-.6 .7 .7 .7-.7 .7 1.4 .7-.6 .7 0 .7-.1 .7 .1 .7-.6 .6 0 .7-.8 .7 1.4 .7 .6 .7 1.1 .7-.3 .7 1 .7-.2 .7 1.1 .7-.5 .7 .3 .7-1 .6 .9 .7-.5 .7 .6 .7-.2 .7 .7 .7-.3 .7 1 .7-.3 .7-.5 .7-.6 .6 .5 .8-.1 .8 1.3 .7-.2 .8 2.4 .6-2.4 .6 .6 .7-2 .6-.4 .7-1.2 .6 .3 .7-.6 .7-.2 .7-.9 .7 .6 .7-.9 .7 .4 .7 .1 .6 .8 .7-.2 .7 1.2 .7-2 .7 .7 .7-1.4 .7 1 .7-1.4 .7 1.1 .7-1.9 .7 1.3 .6-.8 .7 .8 .7-.1 .7 1 .7-1.1 .7 1.4 .7 .2 .7 .6 .7 0 .7 3.1 .6-1.8 .7 2.1 .7-3.7 .7 .7 .7-1.8 .7-.2 .7-1.4 .7 .8 .7-.5 .7 1.9 .6-3.2 .7 1 .7-2 .7-.1 .7-2.7 .7 1 .7-.2 .7-.7 .7-1.8 .7 2.3 .7-1.9 .6 .9 .7-.5 .7 .6 .7 0 .7 .9 .7 .5 .7 1.4 .7-1.1 .7 .4 .6-1.3 .7 .6 .7-1.2 .7 .8 .7-2.4 .7 2.7 .7-1 .7 2.1 .7-1.7 .6 1 .7-2.2 .7 1.3 .7-3 .7 .8 .7-1.4 .7 .6 .7-.5 .8 3.7 .7-.5 .8 4.6 .6-1.6 .7 .8 .6-2.8 .6 .8 .7-1.7 .7 1.2 .7 .2 .7 .6 .7-3.2 .7 .9 .6-1.1 .7 .5 .7-.8 .7 .1 .7-.5 .7 .3 .7-.7 .7-.2"/>
</g>
<path class="z" d="M2083.93 1023.00H2740.08"/>
<text class="t" transform="translate(2411.70 833.00) scale(0.964 1)">SEK</text>
</g>
<g>
<rect x="58.93" y="1245.90" width="655.32" height="363.08" fill="#eaeaf2"/>
<path class="g" d="M87.50 1245.90V1608.98M180.50 1245.90V1608.98M273.50 1245.90V1608.98M365.50 1245.90V1608.98M458.50 1245.90V1608.98M551.50 1245.90V1608.98M643.50 1245.90V1608.98M58.93 1256.50H714.25M58.93 1313.50H714.25M58.93 1370.50H714.25M58.93 1427.50H714.25M58.93 1485.50H714.25M58.93 1542.50H714.25M58.93 1599.50H714.25"/>
<clipPath id="c12"><rect x="58.93" y="1245.90" width="655.32" height="363.08"/></clipPath>
<g clip-path="url(#c12)">
<path class="b" d="M234 1425.9 l.7 6.1 .8-.4 .8 6.6 .7-2.4 .7-.2 .7 .3 .7-1.2 .7 0 .7-.1 .6-1.7 .7 1.1 .7-2.1 .7 2.1 .7-2.3 .7 2.1 .7-2.8 .7 2 .7-2.8 .6 1.2 .8-.3 .8 6.7 .8 1.7 .6-.7 .6-4.8 .7 3.3 .6-3.4 .7 1.2 .7 1.3 .7-.8 .6-3.3 .7 1.9 .7-4.3 .7 3.4 .7-3.4 .7-.7 .7-3 .7 3.2 .7-4.6 .8-.9 .8-7.1 .6 4.1 .7-3.6 .6 6.6 .6-2.2 .7 2.9 .7-7.5 .7 .3 .6-4.2 .6 2.2 .6-5.4 .8 6.4 .8-.1 .7 2.2 .7-3.3 .7 .7 .7 1.9 .7 6.7 .7 1.3 .6 1.7 .7-7.5 .7-.4 .7-6.6 .7 6.8 .7-2.5 .7 5.6 .8-5.8 .8 .6 .7-5.2 .7 8 .6 .9 .6 3 .6-3.4 .7 6.6 .7 1.3 .7 5.6 .7-4.5 .7 4.6 .7-3.3 .7 4.6 .6-3.6 .7 12.3 .6 5.9 .5 12.5 .8-9.4 .8 2.2 .8-2.4 .6-.5 .6-3.1 .6 .2 .7-6.8 .7 5.9 .8-1.3 .8 7.3 .6-5.1 .6 2.5 .6 .3 .8-1.3 .8-3.8 .7 1 .7-11 .7-1.1 .7-4.3 .7 1.5 .7-4 .7 1.8 .7-2.5 .7-1.3 .7-5.4 .6 .2 .7-1.4 .7-1.9 .7-3.4 .7 .8 .7-.6 .7-1.8 .7 .8 .7 2.4 .7 .6 .7 .4 .6-2.2 .7 .1 .7-6.6 .7 5.5 .7-1.9 .7 2.9 .7 1.2 .7 2.4 .7-5 .6 1.6 .7-5.3 .7 2.7 .7-3.2 .7-2.5 .7 .3 .7 2 .7 2.9 .7 0 .7-3.4 .6 2.4 .7-5.4 .7 3.2 .7-7.1 .7 1.6 .7-2.3 .7-.5 .7-2.5 .7-.7 .6-2.3 .7 .7 .7-3.9 .7 .4 .7-4 .7 3.3 .7-2.2 .7 3.7 .7-2.3 .7 1.9 .7 .4 .7 1.1 .6 2.3 .7 1.5 .7-4.5 .7-1.2 .7-5.1 .7 2.6 .7-3.3 .7-.2 .7 .2 .6 5.2 .7-5.1 .7 6.9 .7-3.9 .6 1.8 .7-3.8 .6 3.1 .6-8 .8 3.1 .8-1 .7 5.6 .7-.7 .7 8.6 .7 1.5 .7 2.3 .7-7.1 .7-1.6 .7-4.7 .7 6 .7-6.6 .6 .2 .7 0 .7-1.6 .7-3.3 .7 3.9 .7-4.2 .7-1.6 .7-1.4 .7 .2 .7-2.4 .7 2.8 .6-5.5 .7 1.9 .8 1.7 .8 4.7 .8 .1 .6-.5 .7-1.5 .6 .3 .7-2.6 .6 .6 .6-1.5 .7 .2 .7-2.6 .7 1.1 .7-2.1 .7 .7 .7-.7 .7 2.1 .6-2.5 .7 1.8 .7-1.1 .7-.6 .7-1.4 .7-1.2 .7-2.1 .7 .9 .7-3.2 .7 3.7 .6-2.7 .7-.1 .7-3.4 .7 2.3 .7-3.1 .7 2.8 .7-2.7 .7 1.5 .6-2.8 .7 6.7 .6-.8 .7 3.4 .6-1.5 .7-.2 .6-5.7 .7 2.9 .8 1.4 .9 5.5 .6-4.8 .6 4.3 .6-7.1 .6-.8 .7-1.5 .7 2.1 .7-.9 .7 2.3 .7 .6 .7 3.3 .7 .3 .7 4.3 .6-2.4 .7 .4 .7-1.4 .7-.5 .7-2.7 .7 2.7 .7-2.1 .7 .1 .7-3 .7 .8 .7-1.1 .6 .7 .7-.7 .7 1.5 .7-3 .7-1 .7-1.1 .7 .2 .7-.3 .7-.5 .6-1.5 .7 0 .7-1.6 .7 1.1 .7-.2 .7 .7 .7-1.5 .7 2.3 .7-2.2 .6 .4 .7 .5 .7 2.6 .7 .2 .7 .4 .7-2.4 .7 1 .7-3 .7 1.3 .7 .5 .7 1 .6-.6 .7 .8 .7-.6 .7 .3 .7-.6 .7 1.4 .7-.4 .7 .7 .7-2 .6 5.1 .7-.8 .7 1.3 .7-1.5 .6 4.2 .6-.4 .6 3.6 .8-2.2 .7-.8 .7-2.4 .8-2.2 .7 .2 .7 2.9 .7-.9 .7 2.8 .7-1.1 .8 3.5 .8-2.5 .8 5.7 .6-3.1 .6-.3 .7-2.6 .6-.5 .6-5.3 .7 1.6 .7 .1 .7 .5 .7 .3 .7 .5 .7-2.9 .6-.4 .7-1.3 .7 .2 .7-2.4 .7 2.6 .8-2.8 .7 .7 .8-2.4 .7 1 .7-.6 .6 2.2 .6 0 .7 2.2 .6-.7 .7 .8 .7-2.3 .7 2 .7-1.4 .7-.3 .7-1.3 .6 .5 .7-.4 .7-.4 .7-1.7 .7-.3 .7-.1 .7 .4 .7 0 .7 .3 .7-.9 .7 .3 .6-.4 .7-.1 .7-.5 .7 .1 .7 0 .7 .6 .7-1.2 .7 .6 .7-1.1 .6 .3 .7 0 .7 1 .7-2.2 .7-.7 .7-2.3 .7 .4 .7-.7 .7 .1 .7 0 .7 1.1 .6-1.5 .7-.9 .7-1.1 .7 .3 .7-2.3 .7 .8 .7-2.1 .7 .9 .7-.8 .7 .5 .6-.9 .7 1.2 .7-1.8 .7 .7 .7 .2 .7 1.3 .7 .7 .7 2 .7 .3 .6 1.8 .7 .4 .7-.2 .7-1.9 .7-.2 .7-.9 .7 .4 .7-1.7 .7 .6 .7-.8 .7 1.8 .6-.7 .7 1.3 .7 .9 .7 1.1 .7-.8 .7 1 .7 .1 .7 .6 .7-1.5 .7 .6 .6-1.4 .7-.7 .7-.1 .7 .5 .7-1 .7 .7 .7-.4 .7 1.1 .7-1 .6-.2 .7-.4 .7 .1 .7-.1 .7-.9 .7-2 .7 2 .7 1.1 .7 1 .7 .1 .6 .3 .7-.3 .7 1.1 .7-1.8 .7 1.4 .7-2.1 .7 1.3 .7-3.4 .7 4.2 .7-3.8 .6 4 .7-3.7 .7 4.9 .7-3.1 .7 2.4 .7-2.7 .7 5.4 .8-1.1 .8 15.2 .6-1.2 .5 7.5 .7-7.3 .7 .3 .7-9.7 .7 3.7 .7-9.1 .7 1.3 .7-9 .7 8.6 .7 1.7 .6 1.9 .7-.6 .7 .6 .7-2.3 .7 6.1 .7-.6 .6 2.5 .7 .8 .6 4.8 .6-2.9 .7 3 .8-11.7 .8-1 .7-4 .7 .8 .7-2.1 .7 1.3 .7-1 .7 .7 .6-.7 .7 2.5 .7-1.3 .7 .5 .7-2 .7 1.9 .7-1 .7 .4 .7-1.8 .7 .9 .6-1.2 .7 1.9 .7-.6 .7 .6 .7-.3 .7 1.7 .7-.1 .7-.6 .7-2 .7 0 .7-1.3 .6 1.1 .7-.8 .7 1 .7-.9 .7 1.3 .7 .5 .7 .7 .7-1.5 .7 0 .7-1.7 .6 .1 .7-.9 .7 1.5 .7-2.8 .7 .7 .7-.7 .7 1.2 .7-.4 .7 .2 .6 .4 .7 .4 .7-.3 .7 1.2 .7 0 .7 .4 .7-.6 .7 0 .7-.2 .7 .2 .6-.5 .7-.2 .7-.3 .7 .6 .7-.9 .7 .2 .7-.5 .7 1.2 .7-1 .7 .7 .6-1.2 .7 1 .7-.7 .7 .1 .7-1.6 .7 .4 .7-.1 .7 1.2 .7-1 .7 2.1 .6 .6 .7 .7 .7-.9 .7 1.1 .7-.9 .7 1.8 .7-1 .7 2 .7-1.3 .7 1.2 .6-1.8 .7 1.3 .7-1.4 .7-.3 .7-2 .7 1.6 .7-.8 .7 2.9 .7-.6 .7 2.4 .7-1 .6 3.1 .7-1.1 .7 .1 .7-.6 .7 1.3 .7-.1 .7 .8 .7-.5 .7 .9 .6-.2 .7 .3 .7-1.1 .7 .6 .7-.2 .7 .2 .7-2.4 .7 1.9 .7 0 .7 1.9 .6-.1 .7-.3 .7 .2 .7 1.1 .7-2.6 .7 1.5 .7-1.2 .7 2.2 .7-4.7 .7 .8 .6-3.1 .7 .3 .7-1.3 .7 .2 .7-2.1 .7 .7 .7-2.1 .7 3.8 .7-.5 .7 .3 .6-1.2 .7 3.6 .7 1.5 .7 3.4 .7-1.4 .6 4.2 .7-1.6 .6 6.3 .7-1.9 .6 3.9 .7-3.5 .7 3.1 .6-7.9 .7-.5 .8-1.1 .8 7 .8-.9 .7-1.8 .7-6.1 .7 1.5 .6-2.2 .7 1.9 .7-2.6 .7 .1 .7-2.4 .7 1.9 .7 .2 .7 .7 .7-1.3"/>
<path class="o" d="M234 1426.4 l.7 4.2 .8-.4 .8 4.1 .7-2 .7 2.4 .7-2.5 .7-.1 .7-.8 .7 .4 .6-.9 .7 .9 .7-1.2 .7 1.1 .7-2.4 .7 .1 .7-1.3 .7-.1 .7-.9 .6 3.3 .6-1.3 .6 3.4 .7 1.5 .7 .9 .8-2.3 .7 1 .8-4.7 .7 3.8 .7-1.6 .7 1.4 .6-1.5 .7-.3 .7-.8 .7 .8 .7-4.2 .7 .3 .7-2.2 .7 .1 .7-2.5 .7 .9 .6-1.9 .7 .3 .7-.7 .7 1.5 .7-.3 .7 .6 .7-1.4 .7 1 .7-2.1 .6-.8 .7 .1 .7 1.2 .7-.4 .7 .8 .7 .1 .7 1.2 .7-.1 .7-.1 .7-.3 .6 1.5 .7-1.5 .7-.4 .7-.3 .7 1.2 .7-2.5 .8 2.6 .7-3 .8-.1 .7-.4 .7 2.6 .6-.5 .6 2.8 .6 .1 .7 1.4 .7 .3 .7 1.2 .7-2.2 .7 2.3 .7 .7 .6 1.4 .7 2 .7 3 .7-1.9 .7 2.5 .7-.3 .7 2.5 .7-2.9 .7 .7 .7-2 .7 .5 .6-.5 .7 1.1 .7-.8 .7 .9 .7-.8 .7 1.4 .7-.4 .7-.7 .7-2.6 .6-.1 .7-1.5 .7-.7 .7-1.4 .7 .3 .7-2.7 .7 .3 .7-1.6 .7 .8 .7-2 .6 1.6 .7-2 .7 2.1 .7-1.2 .7 .2 .7-2.7 .7 1.2 .7-.9 .7 1.5 .7 .2 .7 1.3 .6-1.1 .7-.6 .7-.5 .7 .2 .7-1.8 .7 3.1 .7-.7 .7 2.5 .7-2.5 .6-.8 .7-1.7 .7-.3 .7-1.6 .7 1.5 .7-1 .7 .6 .7-.2 .7 1.6 .7-1.9 .6 .5 .7-2 .7 1.8 .7-2.2 .7-.5 .7-1.9 .7-.1 .7-2.5 .7 1.2 .7-.8 .6-.6 .7-1.7 .7-.6 .7-1.4 .7-.4 .7-.6 .7 1.7 .7-1.4 .7 3.6 .7-1 .7 1.6 .6 .3 .7 .5 .7-2.1 .7 1.2 .7-1.9 .7-.2 .7-2.2 .7 2.7 .6-.4 .7 .9 .7-.7 .7 1 .7-1.2 .7 .3 .7-2.5 .7 1 .7-.9 .7 .6 .7 .5 .6 .7 .7 0 .7 2.1 .7 0 .7 .5 .7-.9 .7 .8 .7-1.6 .7 .1 .7-2.6 .6 1.4 .7-1 .7 1.2 .7-2.8 .7 .9 .7-1.7 .7 .1 .7-2.1 .7 .3 .8-2.3 .8 1.1 .7-1.7 .7 2.4 .7 .4 .7 1.1 .7 .2 .6 1.1 .7-2.2 .6 1.4 .7-2.1 .6 1.4 .6-1.6 .7 .2 .7-1.9 .7 .9 .7-2 .7 .5 .7-.4 .7 .5 .6-.6 .7 1 .7-.3 .7 .7 .7-2.7 .7 1.5 .7-3 .7-.1 .7-1.7 .7 .1 .6-1.6 .7-.5 .7-1.8 .7 .5 .7 .4 .7 .1 .7-1.1 .7 .5 .6-.4 .7 1.9 .6-.5 .7 2.5 .6-1.4 .7 .2 .6-2.3 .7 1.5 .7-1.6 .7 1.1 .7-.9 .7 .5 .6-1.4 .7 .7 .7-.9 .7 2.1 .7-.5 .7 2.2 .7-.7 .7 1.3 .7 .5 .7 1.1 .6 .2 .7-.3 .7-.5 .7 1 .7-2.2 .7-.5 .7-1.7 .7 .7 .7-.8 .7-.2 .7-1.4 .6 1.2 .7-1.6 .7 .2 .7-.9 .7 .8 .7-1.3 .7 .8 .7-1.6 .7-.3 .6-.6 .7 0 .7-.3 .7-.1 .7-.5 .7 1.4 .7-1.7 .7 .2 .7-.6 .6 .5 .7 .7 .7 1.3 .7 1 .7 .4 .7-1.4 .7-.8 .7-1 .7 1.6 .7-1.3 .7 .6 .6-.2 .7 1 .7-1.2 .7 1.1 .7-.1 .7 1.4 .7-.6 .7 .7 .7 1.3 .6 .3 .7-1.2 .7 1.7 .7-.9 .6 4.3 .6-.7 .6 3.1 .8-4.9 .7 1.1 .7-1.7 .8 .9 .7-2.1 .7 1.6 .7 .7 .7 1.8 .7-.6 .8 2.8 .8-.7 .8 1.3 .6-.9 .6-.8 .7-2.4 .6 .6 .6-2.6 .7 .8 .7-.3 .7 1.2 .7-1.7 .7 .5 .7-.8 .6 .4 .7-1.2 .7 .4 .7-1.6 .7 .8 .8-.1 .7-.2 .8-1 .7-.6 .7 .4 .6 1.6 .6 .3 .6 1.3 .7-.9 .7 .9 .7-1 .7-.2 .7-1.5 .7 1 .7-.8 .6-.4 .7-.9 .7 .4 .7-.9 .7 .2 .7-1.4 .7 .8 .7-.8 .7 .8 .7-1 .7 .4 .6-1.5 .7 1.5 .7-.7 .7 .7 .7-.8 .7 .4 .7-1.1 .7 .1 .7-1.4 .6 2.1 .7-.9 .7 .7 .7-8.1 .7 2.5 .7-4 .7-.1 .7-1 .7 1.7 .7-2.9 .7 1.3 .6-1.2 .7 2.1 .7-4.1 .7-.2 .7-1.2 .7 .7 .7-1.1 .7 .9 .7-1.2 .7 .4 .6-.6 .7 .6 .7-.6 .7 .4 .7-.4 .7 .6 .7 .5 .7 1.4 .7 .3 .6 1 .7 .2 .7-.1 .7-.6 .7-.4 .7-1.5 .7 .8 .7-.8 .7 .5 .7-.9 .7 .9 .6 .2 .7 0 .7 .3 .7 .9 .7 .1 .7 1 .7-.2 .7 .6 .7-.8 .7 .2 .6-.5 .7-.3 .7-.5 .7 0 .7-.6 .7 .5 .7-.7 .7 .8 .7-1 .6 1.2 .7 .3 .7 0 .7-.2 .7-1 .7-2.2 .7 1.2 .7 0 .7 2.6 .7-.2 .6 .2 .7-.3 .7 .5 .7-.1 .7 .8 .7-.9 .7 .8 .7-2.6 .7 2 .7-.3 .6 1.4 .7-1.3 .7 2.2 .7-.7 .7 .4 .7-1.2 .7 2.7 .8 2.5 .8 5.4 .8-1.5 .8-.1 .8-1.6 .7 1.3 .8-1.9 .7 .6 .7-3.4 .7 1.8 .7 1.3 .6 2.1 .7-2.3 .7 .7 .7-.6 .7 3 .7-2.1 .7 2.6 .6-1.1 .7 1.7 .6-.4 .6 2 .7-.7 .8-3.3 .8-5.1 .7 2 .7-2.1 .7 1.2 .7-3.1 .7 1.2 .7-.4 .6 1.8 .7-1.4 .7 2.2 .7-2.4 .7 .3 .7-1.4 .7 1.7 .7-1.4 .7 .2 .7-1.2 .6 1 .7-.3 .7 2 .7-1.4 .7 1.2 .7-.4 .7 2.1 .7-1.9 .7-.4 .7-2.1 .7 .8 .6-1.4 .7 1.2 .7-.2 .7 .4 .7-.1 .7 .3 .7-.5 .7 1.4 .7-1.6 .7 1.2 .6-1.8 .7 .2 .7-1.3 .7-.2 .7-.5 .7 1.3 .7-.2 .7-.1 .7-.1 .6 .6 .7-.4 .7 1.4 .7-.4 .7 1.1 .7-.7 .7 0 .7-.5 .7 .4 .7-.6 .6 .4 .7-.9 .7 .9 .7-.3 .7 .4 .7-1.2 .7 .8 .7-.8 .7-.2 .7-1 .6-.1 .7-.3 .7 .1 .7-.9 .7 .2 .7-1 .7 2 .7 1.3 .7 .9 .7-.6 .6 2.5 .7-.3 .7-.5 .7-1.2 .7 .6 .7-.7 .7 .2 .7-.2 .7 .4 .7-.7 .6 .4 .7-.9 .7 1.5 .7-1.3 .7 .6 .7-.6 .7 2.2 .7-1.1 .7 1.7 .7 .1 .7 1.9 .6 .3 .7 1 .7-.7 .7 .2 .7-.4 .7 1.4 .7-1 .7 1 .7-.8 .6 .9 .7-.7 .7 .6 .7-.3 .7 .3 .7-1 .7 .5 .7-.9 .7 1 .7-.3 .6 .6 .7 .8 .7 .5 .7 0 .7 1.5 .7-1.4 .7-.2 .7-.5 .7-.3 .7-2.9 .6 .1 .7-2.6 .7 .2 .7-1.6 .7-.4 .7-.7 .7 .6 .7 .9 .7-.3 .7 0 .6 1.3 .7 .5 .7 3.4 .7-.2 .7 1.1 .6-.2 .7 1.8 .6-1.7 .7 3.9 .6-2 .7 5.5 .7-3.9 .6 .5 .7-4.4 .8 2 .8 .1 .8 2.2 .7-2.7 .7 .4 .7-1.8 .6 .4 .7-1.7 .7 1 .7-.7 .7 .3 .7 .2 .7 1.1 .7-1.7 .7-.4"/>
</g>
<path class="z" d="M58.93 1428.00H714.25"/>
<text class="t" transform="translate(386.29 1238.00) scale(0.964 1)">THB</text>
<text class="y" transform="translate(44.23 1604.66) scale(0.935 1)">−300</text>
<text class="y" transform="translate(44.23 1547.50) scale(0.935 1)">−200</text>
<text class="y" transform="translate(44.23 1490.34) scale(0.935 1)">−100</text>
<text class="y" transform="translate(44.23 1433.18) scale(0.935 1)">0</text>
<text class="y" transform="translate(44.23 1376.02) scale(0.935 1)">100</text>
<text class="y" transform="translate(44.23 1318.86) scale(0.935 1)">200</text>
<text class="y" transform="translate(44.23 1261.70) scale(0.935 1)">300</text>
<text class="x" transform="translate(86.60 1634.10) scale(0.935 1)">2000</text>
<text class="x" transform="translate(179.30 1634.10) scale(0.935 1)">2004</text>
<text class="x" transform="translate(272.00 1634.10) scale(0.935 1)">2008</text>
<text class="x" transform="translate(364.70 1634.10) scale(0.935 1)">2012</text>
<text class="x" transform="translate(457.40 1634.10) scale(0.935 1)">2016</text>
<text class="x" transform="translate(550.10 1634.10) scale(0.935 1)">2020</text>
<text class="x" transform="translate(642.80 1634.10) scale(0.935 1)">2024</text>
</g>
<g>
<rect x="733.95" y="1245.90" width="655.05" height="363.08" fill="#eaeaf2"/>
<path class="g" d="M763.50 1245.90V1608.98M855.50 1245.90V1608.98M948.50 1245.90V1608.98M1041.50 1245.90V1608.98M1133.50 1245.90V1608.98M1226.50 1245.90V1608.98M1319.50 1245.90V1608.98M733.95 1256.50H1389.00M733.95 1313.50H1389.00M733.95 1370.50H1389.00M733.95 1427.50H1389.00M733.95 1485.50H1389.00M733.95 1542.50H1389.00M733.95 1599.50H1389.00"/>
<clipPath id="c13"><rect x="733.95" y="1245.90" width="655.05" height="363.08"/></clipPath>
<g clip-path="url(#c13)">
<path class="b" d="M762.6 1424 l.7 1.8 .6-8.2 .7 .1 .6-.9 .7 2.9 .6-.4 .6 .3 .7-1.6 .7 2.2 .7-4.2 .9 8.3 .7-.7 .6 1.4 .6-.6 .6 1.4 .7-2.6 .7 3.3 .7 1.5 .7 1.6 .7-3.6 .7 2.6 .7-1.3 .7 6.9 .6 4.3 .7 7.3 .7-2.9 .7 6.1 .7 1.6 .7 4.2 .8-3.1 .9 5 .6-3.6 .7 9 .6-12.8 .6 6.1 .6-13.6 .7 3.1 .7-3 .7 2.5 .7-1.7 .7 4.8 .7 .1 .6 2.4 .7-2.6 .7 4.9 .7-2.6 .7 4.2 .7-1.8 .7 3.6 .7 1.2 .7 1.9 .7 .9 .7 5.3 .6 .9 .6-1.3 .6-3.1 .6 2.8 .7 4.1 .6 8.6 .6-3.3 .6 .8 .6-7.4 .7-.5 .7-7.6 .7 7.2 .6-11.5 .7-2.6 .7-4 .7 .5 .7-2.9 .7 2.7 .7-4.1 .7 1.2 .6-1.9 .7 1 .7-6.1 .7-1.4 .7-1.7 .7 1.5 .7-2.7 .7 4.9 .7 4.9 .7 2.6 .7 0 .6 5.3 .7-4.3 .7 2.7 .7-1.2 .7 2.8 .7-.3 .7 4 .8-.3 .7 6.3 .8 2.5 .6-4.4 .6-3.4 .6-1.6 .7-2.2 .7 .4 .7 .3 .7-.5 .7-5.9 .7 5.4 .7-4.7 .6 3 .7 .4 .7 3.3 .7-3 .7 6.6 .7-2.8 .7 3.2 .7-2.9 .7 3.4 .6-4.7 .7 2.2 .7-4.7 .7 .1 .7-5.7 .7-1.4 .7-3.9 .7 4.7 .7-4.5 .7 1.5 .6-2.9 .7-.6 .7-2.3 .7 1.6 .7-2.8 .7 .3 .7 0 .7 1.6 .7-2.3 .7-.2 .6-1 .7 .2 .7-.2 .7 .2 .7-3.2 .7 .5 .7-.7 .7-.7 .7-.6 .7 5.5 .7-.6 .6 .5 .8 .9 .8 4.1 .8 .1 .6 1.5 .6-2.8 .6-.2 .7-3.2 .7 1.5 .7 1.7 .6 3.6 .7-4 .7 .8 .7-5.3 .7 4.1 .7-2.7 .7 2.4 .7-2.2 .7 .5 .7-.5 .6-.3 .7-1.8 .7 .5 .7-1.5 .7 .8 .7-.7 .7 1.4 .7-2 .7 1 .6-2.5 .7 .7 .7 .3 .6 4 .6-2.3 .7 1 .6 .8 .8 1.4 .7-3.9 .8 0 .7-1.9 .7 1.3 .7-3 .7 1.6 .7-2.9 .7 .8 .7-.6 .7 2.1 .7-1.8 .7 2.1 .6-.1 .7 1 .7 1.1 .7 3.7 .7-3.4 .7 .1 .7-3.1 .7 0 .7-1.3 .6 1.9 .7-3.6 .7 4.6 .7-3.7 .7 1.3 .7-1.5 .7-1.2 .7-5.1 .7 2.5 .7-3.8 .6 1.2 .7-4 .7 7 .7-4.8 .7 7.4 .7-1.8 .7 2.2 .7-1.6 .7-1.6 .7-.8 .7 1.5 .7-1 .6-.6 .7-.7 .7-1.5 .7-3.1 .7 1.1 .7-2.8 .7 2.3 .7-3.3 .6 1.1 .7-2.5 .7 1.6 .7-2.3 .7-.7 .7-1.4 .7 3.1 .7-2.6 .7 2 .7 .1 .6-.2 .7-2.7 .7 2 .7-1.7 .7 1.5 .7-4.2 .7 3.1 .7-6.1 .7 .3 .7-1.5 .8-1.3 .8-2.8 .7 4.1 .8 2.9 .7 3.1 .8-7.9 .8-.3 .8-2.6 .7 .2 .6-.4 .7 .4 .7-1 .7 3.9 .7 .1 .7 3.1 .7 .7 .7 .7 .7-.4 .7 1 .7-2.1 .6 1.7 .7-2.5 .7-.1 .7-2.9 .7 3.5 .7-3.5 .8-.2 .7-5.1 .8 4.1 .6-1 .7 5.8 .6-1.2 .6 4.4 .7 2.3 .7 .7 .7 .3 .7 .6 .7-1.5 .7 4 .6-1.5 .7 7.6 .7 3.5 .7 12 .7 4.5 .7 .6 .7-.5 .7 2.2 .8-4.7 .8-3.2 .6-4.1 .6 2.9 .6 .4 .7 .9 .7-5.2 .7 1.7 .7-1.6 .7-.5 .7-8.7 .7-1.9 .7-9.2 .6 0 .7-4 .7 2.1 .7 1.4 .7-.2 .7-4.1 .7 1.1 .7-3.1 .6 .5 .7-1.7 .7 1.6 .7-4.1 .7 .7 .7-5.4 .7 3.8 .7-4.4 .7 3.2 .7-4.2 .6 2.7 .7-4.7 .7 3.8 .7-1.1 .7 1.4 .7-3.5 .7-.1 .7-.5 .7 4 .7 .7 .7 1.2 .6-4.4 .7 2.2 .7-3.1 .7 1.8 .7-2.3 .7 2.3 .7 1.9 .7 2.5 .7-.4 .7 1.2 .6-3.2 .7-1.4 .7-3.5 .7 3.2 .7-2.9 .7 .5 .7-2.9 .7 .7 .7-.8 .7-1.1 .7-.2 .6-1.1 .7-1 .7 1.3 .7-2.7 .7 .1 .7-2.3 .7 .8 .7-1.1 .6 .7 .7-.1 .7 .7 .7 1.1 .7 .2 .7-1 .7 2.1 .7-2.5 .7-.2 .7-1.5 .7 1.5 .6-3.3 .7 2.8 .7-1.4 .7 .5 .7-.7 .7 1.3 .7 1.1 .7 6.8 .7-1.1 .7 .8 .6-1.7 .7 5.8 .7-3.4 .7 1 .7-1.8 .7-.9 .7 1.8 .7 3.6 .7-3 .6 1.9 .7 .2 .7 .4 .7-2.7 .7 1.4 .7-6.5 .7 1 .7-4 .7 .6 .7 1 .7 0 .6 2.1 .7 .9 .7-.2 .7 3.4 .7-1.6 .7 2.2 .7-.5 .7 0 .7-1.3 .7 .5 .6-1.3 .7 1.3 .7-2.6 .7 .7 .7-4 .7 .7 .7-1.4 .7 1.6 .7-.9 .7 2.3 .6 .5 .7-.3 .7-2.7 .7 1.1 .7-1.8 .7 .5 .7-2.1 .7-.8 .7-.6 .6 1 .7-.3 .7 .4 .7-2.1 .7 1.9 .7-2.2 .7 .6 .7-1.5 .6 .9 .7 .5 .6 1.8 .7-.1 .6 1.3 .6-1.8 .7 .5 .7-1 .7 1.3 .7-2.8 .7 .5 .7-2 .7-.5 .6-.8 .7-.1 .7-1.1 .7 .1 .7-1.1 .7 1.6 .7-1.5 .7 0 .7-.5 .7 .3 .6-.7 .7 0 .7-.4 .7 .6 .7-1.1 .7 .4 .7-1.3 .7-.5 .6-.3 .7 .6 .7-.2 .7-.1 .7-1 .7 .1 .7-1.4 .7-.1 .7-1.4 .7 1.2 .7-2.1 .6 2.6 .7-.7 .7-.3 .7-1.5 .6 1.8 .7 .8 .6 2.9 .6-1.5 .8 1.9 .7-2.7 .8-.7 .7-.8 .7 .2 .7-1.9 .7 1.5 .7-2.1 .7 .6 .7-2.2 .7 1.2 .7-2.2 .6 1.7 .7-2.2 .7 .9 .7-1.4 .7 3.1 .7-1.7 .7 3.1 .7-2.9 .7 3.2 .7-2.1 .6 4.8 .7-3.8 .7 2.1 .7-.7 .7 7.4 .7 2.1 .7 2.6 .7-6.6 .7 1.1 .7-4.7 .7 .3 .6-1.1 .7 2.2 .7-.5 .7 1.2 .7 .8 .7 1.6 .7-2.2 .7 4.2 .7-1.1 .7-.6 .6-2.6 .7 1.7 .7-4.8 .7 2.2 .7-2.4 .7 2.8 .7-1.6 .7 2.7 .6-.7 .7-.6 .7-2.9 .7-.1 .7-1.5 .7-1.3 .7-3.8 .7 2.3 .7-2.1 .7 1.4 .6-.6 .7 1.1 .7-3 .7 .4 .7-.7 .7 .9 .7-.5 .7 .3 .7-2.4 .7 1.6 .6-1 .7 1 .7-1.6 .7 .1 .7-.5 .7 0 .7-.9 .7 .1 .7-.3 .7 0 .7-.5 .6 .2 .7-.5 .7-.2 .7-1.1 .7-.2 .7-1.1 .7-.5 .7-.7 .6-.2 .7-1.5 .7 .6 .7-.3 .7 .8 .7-1.6 .7 .3 .7-1.1 .7 .2 .7-1 .7 .2 .7-.8 .6 1.1 .7-.8 .7-.6 .7-.2 .7-.1 .7-.5 .7 .7 .7 .5 .7 1.6 .6-.5 .7 .8 .7-1.5 .7 .6 .7-1 .7-.1 .7-2.4 .7 1.1 .7-1.3 .7 1.6 .7-1.3 .6 .7 .7-.2 .7 1 .7-.5 .7-.7 .7-1.5 .7 1.4 .7-2 .6 2.1 .7 .2 .7-.4 1 4.5 .6 2.1 .6-1.1 .7 1.4 .6-3.9 .7 4.2 .7-1.6 .7 1.2 .7-.3 .6 .9 .7-4.7 .7 2.4 .7-2.8 .7-.8 .7-1.3 .7-.7 .7-1.4 .6 1.2 .7 0 .7 .5 .7 1.4 .7-1.3 .7-1 .7 .4 .7-3.4 .7 1.3 .7-1.3 .7 3.5 .6-2.5 .7 3.3 .7-3.4 .7 0 .7-2.8 .7 .8 .7-4 .7 2.9 .7-2.5 .7-1.9 .7 .8 .6 3.5 .7-6.5 .7 3.3 .7-2.4 .7 6.4 .7-2.6 .7 4.7 .8 3.6 .8 10.1 .8-7.9 .7-4.6 .8-7 .8 4.4 .8-4.4 .7 1.7 .7-1.9 .7-.1 .7-3.5 .6 2.9 .7-7.1 .7 1.1 .7-2.7 .7 .7 .7 .2 .7 2.2 .7-6.3 .7 4.8 .7-1.7 .6 2 .7-5 .7 .5 .7-4.1 .7-.8 .7-3.3 .7 1.1 .7-4.1 .7 1 .7-.8 .6 .8 .7-4 .7 .6 .7-2.9 .7 1.5 .7-2.6 .7 3.2 .7-.5 .7 5.8 .7-6.4 .6 1.4 .7-4.5 .7-.3 .7-2.1 .7 1.2 .7 .8 .7 1.6 .7 .8 .7-.3 .7-1.1 .6 .3 .7-.6 .7 1 .7-2 .7 .1 .7-1.9 .7 1.8 .7-2.6 .7 .6 .6-2.5 .7 .8 .7 .2 .7 .7 .7-.4 .7 .4 .7 0 .7 .8 .7 .9 .7 2.6 .6-2.1 .7 4.1 .7-2.3 .7 .6 .7-1.8 .7 3.6 .7 .6 .7 7 .7-2.6 .7 .7 .6-4.5 .7-.3 .7-1.8 .7 5.1 .7-.3 .7 4.7 .7-1.1 .7 4.8 .7-8 .7 1.6 .6-5.2 .7 4.1 .7-4.4 .7 2.6 .7-4.8 .7 1.6 .7-2 .7 1.1 .7-2.9 .7 1.6 .6-1.8 .7 2.8 .7-4.4 .7 3.9 .7-1.9 .7-.5 .7-1.9 .7-.1 .7-1.8 .7-.2 .7-1.1 .6-.3 .7-1.4 .7 1.3 .7-.8 .7 1.6 .7-.7 .7 1.4 .7-.7 .7 .6 .6-1.3 .7 3.2 .7-.9 .7-.3 .7-3.5 .7-.2 .7-.5 .7-.4 .7-.5 .7 .1 .7-2 .6 1.1 .7-5.3 .7 2.7 .7-4.3 .7 .1 .7-1.3 .7 1.7 .7-4.9 .7 3.4 .7-4.5 .8 1.3 .8-4 .7 5.5 .8-8.8 .8 9.3 .9 2.1 .7 .9 .7-3.8 .6-.3 .7-4 .7 2.2 .7-2.8 .7-1.9 .7-.7 .7 1.2 .7-2 .7 4.6 .7-4.1 .6 5.9 .7-5 .7-.3 .7-1.6 .7 3.7 .7-2.8 .7 3.7 .7-1.8 .7 4.3 .7-2.1 .5 8.8 .6 4.5 .8-1.2 .8-9.4 .7 1.7 .7-4.3 .7 4.1 .7-5.5 .7 1.2 .7-3.7 .6 3.3 .7-9.1 .7 2.9 .7-5.5 .7 6.1 .7-4.6 .7-1.5 .7-3.6 .7 .8"/>
<path class="o" d="M762.6 1426.1 l.6-.8 .6-1.2 .6 0 .6-1.3 .7 1.9 .7-.9 .7 1.9 .7-1.5 .7 .9 .7-.8 .7 .3 .7-1.1 .7 1.8 .7-.1 .6 1.1 .7-.9 .7 .6 .7 .4 .7 .6 .7-.1 .7 1.2 .7 .5 .7 2.1 .6-.3 .7 2.4 .7 .8 .7 1.1 .7 .1 .7 1.1 .7-1.1 .7 .7 .7-1.3 .7 1.3 .6-1.7 .7 .4 .7-1 .7 1.4 .7-1.1 .7 1.1 .7-1.5 .7 2.2 .7-1.6 .7 1 .6-.6 .7 1.3 .7-.5 .7 1.8 .7 .7 .7 2.4 .7 .7 .7 .9 .7-.5 .7-.4 .6-2 .7 2 .8 2.1 .8 1.6 .8-2.3 .6 2.4 .6-1.4 .6-.2 .7-2.4 .6 .1 .7-1.8 .7 0 .7-2.7 .7 .6 .7-1 .7 1.7 .7-1.5 .7 .4 .7-1.2 .7 1.1 .6-2.3 .7 .8 .7-.7 .7 .4 .7-.2 .7 1.6 .7 .2 .7 .8 .7 .1 .7 2.2 .6-1.3 .7 1.3 .7-.6 .7 .8 .8-1.5 .7 1.9 .7 .4 .8 1.4 .7-.2 .7 1.2 .7-2.2 .6 1 .6-1.5 .7 .8 .6-2.3 .7 1 .7-1 .7-.2 .7-1.9 .7-.6 .6-.5 .7 5 .7-1.8 .7 .9 .7-.5 .7 1.4 .7-1 .7 1.1 .7-1.7 .7 .1 .6-2.7 .7 1.2 .7-2.7 .7 .4 .7-2 .7 .6 .7-2 .7-.4 .7-.1 .7 .5 .6-.6 .7 1.2 .7-1.7 .7 .8 .7-1.7 .7-.2 .7-.4 .7 1.1 .7-1.3 .6 .3 .7-.6 .7 .7 .7-2 .7-.8 .7-1.8 .7 .7 .7-1.8 .7 4.1 .7-.8 .7 .8 .6 1.6 .7 .2 .7-.8 .7 .9 .7 .9 .7 1.2 .7-1.4 .7 .8 .7-.6 .7 .7 .6-.9 .7 1.2 .7-2.2 .7 .3 .7-1.5 .7 .2 .7-1.2 .7 .8 .7-.6 .6 .6 .7-.5 .7 1.2 .7-1.1 .7 .6 .7-.9 .7 1.3 .7-.6 .7 1.4 .7-.7 .6-.2 .7-1.4 .7 3 .6-2.1 .6 1.7 .7-.4 .6 1.9 .8-2.4 .7-.2 .8-2.1 .7 .2 .7-1.1 .7-.2 .7-1.2 .7 .6 .7-.9 .7 1.5 .7-.9 .7 1.7 .7-.7 .6 2.1 .7-.3 .7 1 .7-1.7 .7 2 .7-2.7 .7-.2 .7-1.1 .7 .4 .6-1 .7 .6 .7-1.1 .7 1.5 .7-1.7 .7 1.5 .7-2.4 .7 1.5 .7-3.6 .7 .2 .6-2.3 .7 1.1 .7 .6 .7 3.4 .7-.4 .7 .8 .7-.3 .7 .2 .7-1.9 .7 1.9 .7-1.5 .7 1.4 .6-2.9 .7 1 .7-1.7 .7-.3 .7-1 .7 .6 .7-1.8 .7 1.2 .6-1.2 .7-.1 .7-1.7 .7 .4 .7-1.7 .7 1.7 .7-.8 .7 2.1 .7-.1 .7 1.7 .6-3.6 .7-.1 .7-1.2 .7 .3 .7 .5 .7 .2 .7-2.6 .7-.5 .7-2.9 .7-.4 .8-2 .8-.6 .7 .5 .8 2 .7 .3 .8-.8 .7-2.5 .8 1.9 .8-2.1 .7 1.2 .6-.8 .7 1.8 .7 .4 .7 1.4 .7-.1 .7 1.1 .7-1 .7 1.3 .7 0 .7 1.4 .6-.5 .7 .7 .7-1.9 .7-.7 .7-2.8 .8 3.2 .7-3.1 .8 1.1 .7-.8 .7 2.5 .6 0 .6 2.3 .7 .4 .6 3.5 .7-3.6 .7 2.4 .7-.5 .7 1.6 .7-.7 .6 2.3 .7-1 .7 1.5 .7-.1 .7 2.2 .7-.4 .7-.1 .7-.3 .7 .5 .7-.4 .7 .8 .6-.6 .7 .9 .7-.8 .7 1.2 .7-1.3 .7 .5 .7-1.7 .7-.4 .6-2.7 .7-1.1 .7-2.1 .7 .3 .7-1.1 .7 .6 .7-.6 .7 .7 .7-.2 .7 0 .6-1.3 .7 .5 .7-1.7 .7 1.1 .7-1.8 .7 .4 .7-1.6 .7 1.2 .7-1.2 .7 .5 .7-1.7 .6 .7 .7-1.1 .7 .2 .7-.6 .7 .3 .7-1 .7 1.2 .7 .8 .7 3 .7-2.8 .6 1.1 .7-1.5 .7-.1 .7-1.5 .7 .9 .7-.5 .7 1.9 .7 .3 .7 1.5 .7-1.5 .6 .2 .7-1.9 .7 .2 .7-.3 .7 1.3 .7-2.4 .7 .3 .7-1 .7 .8 .6-.9 .7 .2 .7-1.1 .7 0 .7-.4 .7-.1 .7-1.6 .7 .2 .7-1.8 .7 .7 .6-2.7 .7 2.3 .7-1.3 .7 1.3 .7-.2 .7 1.7 .7-1.7 .7 .5 .7-1.4 .7 .6 .7-1.4 .6 1.7 .7-1.7 .7 1.2 .7-.7 .7 .6 .7-.7 .7 1.5 .7 .9 .7 2.2 .7 .4 .6 1 .7-.7 .7 .6 .7-1.6 .7 .7 .7-.5 .7 2.3 .7-1.7 .7 2 .6-.3 .7 .6 .7-1.7 .7 1.1 .7-2.2 .7 .4 .7-1.2 .7-.7 .7-.6 .7 2.6 .7-2 .6 1.9 .7-2.1 .7 1.8 .7 0 .7 1.4 .7 1 .7 1.3 .7-1.7 .7 .1 .7-1.1 .6 .3 .7-.6 .7-.2 .7-2.4 .7 .3 .7-.9 .7 .2 .7-1.6 .7 3.9 .7-.5 .6 2.7 .7-2 .7-.5 .7-2.3 .7 .5 .7-.7 .7 1.1 .7-1.2 .7 .8 .6-.9 .7-.3 .7-1.2 .7 0 .7-1 .7 .1 .7-1.5 .7 1 .6-.3 .7 .9 .6-.2 .7 .8 .6 .3 .6 .8 .7-1 .7 1.5 .7-1.2 .7-.5 .7-1.1 .7-.3 .7-1.7 .6 .6 .7-1.2 .7 .5 .7-.7 .7 .2 .7-.1 .7 .3 .7-.7 .7 .4 .7-1.7 .6 1.1 .7-1.1 .7 .7 .7-2.3 .7 1 .7-1.5 .7 .4 .7-.8 .6 .6 .7-.9 .7 .7 .7-.9 .7 .4 .7-2.9 .7 .5 .7-1.6 .7-.1 .7-1.7 .7 1.9 .6-1.6 .7 .7 .7-1.4 .7 1 .6 .6 .7 2.4 .6-1.2 .6 2.5 .8-1 .7-.1 .8-1 .7-.3 .7-.8 .7 1 .7-2.3 .7 .4 .7-1.5 .7 1 .7-1.2 .7 1 .6-1.4 .7 .8 .7 0 .7 .5 .7-2 .7 1.2 .7-.4 .7 .8 .7 .3 .7 .4 .6 .7 .7 2.1 .7-1.2 .7 2.3 .7 1.4 .7 1.7 .7-.5 .7-1 .7-3 .7 .9 .7-1.2 .6 1 .7-1.5 .7 1.7 .7-.9 .7 1.9 .7-.9 .7 3 .7-.3 .7 1.2 .7-1.5 .6 .2 .7-1.4 .7 .3 .7-3.4 .7 1.8 .7-1.9 .7 3 .7-.3 .6 2 .7-1.8 .7 1.8 .7-2.5 .7-.1 .7-1.3 .7 .7 .7-2.6 .7 .2 .7-1 .6-.6 .7-.8 .7 .7 .7-.8 .7 .8 .7-.4 .7 .4 .7-.1 .7-.3 .7-.9 .6 1.5 .7-2.4 .7 1 .7-1.3 .7 .5 .7-.9 .7 .7 .7-2.7 .7 .9 .7-.4 .7 0 .6 0 .7-.1 .7-1.1 .7 .2 .7-.9 .7-.8 .7-1.5 .7-.8 .7-1.5 .7 .8 .6-.7 .7 .2 .7-1 .7-.4 .7 0 .7 .4 .7-2.2 .7 1.7 .7-1.1 .6-.1 .7 0 .7 0 .7-.5 .7 .7 .7-1.8 .7 0 .7-1 .7 2.1 .7 .5 .6 1.5 .7-.6 .7 .2 .7-.9 .7 .5 .7-1.6 .7 .4 .7-1.6 .7 1 .7-.9 .7 .2 .6-.1 .7 .3 .7-1.5 .7 .6 .7-.9 .7 1.3 .7-1.6 .7 2.7 .6-2.8 .7 1.1 .7 .4 1 7.4 .6-1.5 .6 .6 .7-.7 .6 .5 .7-1.5 .7 2 .7-1.3 .7 1.5 .6-3 .7 .1 .7 .2 .7-.4 .7-3.1 .7 .9 .7-1.6 .7 .2 .6-1 .7 2.1 .7-1 .7 3.8 .7-1.8 .7-.3 .7-2.5 .7 1 .7 .2 .7 1.3 .7-2.4 .6 4.5 .7-2.4 .7 .7 .7-2.3 .7-.5 .7-2.8 .7 1.2 .7-2.1 .7-.3 .7-2.2 .7 3 .6-4.7 .7 1.7 .7-1.5 .7 .6 .7-.6 .7 3.4 .7-.1 .8 6.7 .8 1 .7 .9 .6-3.2 .6 .1 .6-3.4 .7 1.1 .7-2.3 .7 1 .7-1.2 .7 1.1 .7-2.6 .6 1.9 .7-3.1 .7-.4 .7-1.1 .7 2.6 .7-4.1 .7 2.7 .7-1.8 .7 1.3 .7-1.2 .6 .4 .7-2.7 .7-.5 .7-2.8 .7 .4 .7-.7 .7-1.1 .7-4.6 .7 2 .6-1.8 .7 1.6 .7-2.3 .7 1.9 .7-1.9 .7 1 .7-3.2 .7 5.6 .7 .5 .7 2.5 .7-3 .6-.4 .7-2.6 .7-.8 .7-.1 .7 3.1 .7-2.6 .7 2.4 .7-3.6 .7 2.4 .7-.9 .6-.2 .7-.9 .7 .4 .7-.6 .7-.4 .7-1.2 .7 .2 .7-.7 .7-.3 .6-.8 .7-.5 .7-.4 .7 .7 .7 .3 .7 1.3 .7-.9 .7 .7 .7-.9 .7 1.1 .6-.2 .7 1 .7-.9 .7 2 .7 .3 .7 1.1 .7-.2 .7 1.3 .7 0 .7-.7 .6-.8 .7 .7 .7-.6 .8 2.1 .7-.5 .8 1.4 .7 .2 .7 2.2 .7-1.1 .6 .3 .7-1.2 .6 .6 .6-3.2 .7 .9 .7-1.3 .7 .8 .7-1.5 .7 0 .7-.3 .7-.2 .6-.4 .7 .9 .7-1 .7 .1 .7-1.1 .7 .8 .7-2.4 .7-.6 .7-.9 .7 .4 .7-1.8 .6 .7 .7-1.8 .7 1.7 .7-1.9 .7 1.3 .7-.2 .7 1.1 .7-1.3 .7 .6 .6-.2 .7 .8 .7-.3 .7-.1 .7-.8 .7-.6 .7-1 .7 .6 .7-.6 .7 .4 .7-1.7 .6-1.5 .7-1.7 .7-.9 .7-1.1 .7-.1 .7-1.2 .7 .5 .7-1.2 .7 1.6 .7-3 .8-1 .8-3 .7 2 .8-1.6 .8 3.2 .9 1.4 .7-.2 .7-1.3 .6 0 .7-.8 .7 0 .7-2 .7 1.6 .7-.3 .7 .2 .7-.1 .7 .3 .7-.8 .6 1 .7-1.3 .7 1.1 .7-1.5 .7 1.1 .7 0 .7 .9 .7-.4 .7 4.4 .7 1 .6 3.3 .7-4.8 .7 .9 .7-2.9 .7 .9 .7-1.9 .7 3.4 .7-2.8 .7-.5 .7-1.6 .6 .6 .7-1.2 .7-.5 .7-2.8 .7 0 .7-1.4 .7-.6 .7-1.2 .7-.3"/>
</g>
<path class="z" d="M733.95 1428.00H1389.00"/>
<text class="t" transform="translate(1061.17 1238.00) scale(0.964 1)">TWD</text>
<text class="x" transform="translate(761.95 1634.10) scale(0.935 1)">2000</text>
<text class="x" transform="translate(854.65 1634.10) scale(0.935 1)">2004</text>
<text class="x" transform="translate(947.35 1634.10) scale(0.935 1)">2008</text>
<text class="x" transform="translate(1040.05 1634.10) scale(0.935 1)">2012</text>
<text class="x" transform="translate(1132.75 1634.10) scale(0.935 1)">2016</text>
<text class="x" transform="translate(1225.45 1634.10) scale(0.935 1)">2020</text>
<text class="x" transform="translate(1318.15 1634.10) scale(0.935 1)">2024</text>
</g>
<g>
<rect x="1408.90" y="1245.90" width="655.13" height="363.08" fill="#eaeaf2"/>
<path class="g" d="M1438.50 1245.90V1608.98M1531.50 1245.90V1608.98M1623.50 1245.90V1608.98M1716.50 1245.90V1608.98M1809.50 1245.90V1608.98M1901.50 1245.90V1608.98M1994.50 1245.90V1608.98M1408.90 1256.50H2064.03M1408.90 1313.50H2064.03M1408.90 1370.50H2064.03M1408.90 1427.50H2064.03M1408.90 1485.50H2064.03M1408.90 1542.50H2064.03M1408.90 1599.50H2064.03"/>
<clipPath id="c14"><rect x="1408.90" y="1245.90" width="655.13" height="363.08"/></clipPath>
<g clip-path="url(#c14)">
<path class="b" d="M1438 1429.3 l.7 1.6 .7 .2 .6 2.2 .7-.8 .7 .5 .6-3.9 .6-.7 .6-3.6 .8 4.5 .7-2.8 .8 2.4 .8-.9 .6 1.3 .7-2.8 .7-.2 .7-.2 .7 .8 .7 .4 .7-.1 .7-.8 .7 1 .7-2 .6 3.1 .7 1.6 .7 1.4 .7 .4 .7 .6 .7-1.3 .7 3.1 .7-.2 .7 1.9 .6-1.8 .7 3.2 .7-1 .7 .3 .7-.3 .7-1 .7-1.2 .6 5.9 .6-.6 .7 3.2 .6 .3 .8 2.2 .7-6.7 .8-.7 .7-1.8 .7 .3 .7-.5 .7 2.4 .7-2.8 .7 2.7 .7-.7 .6 3.6 .7-1.8 .7 5.4 .7-1.2 .6 6.2 .5 3.8 .8-.8 .8-3.7 .8 .3 .6-2.4 .7 2 .7-3.1 .7-.8 .7-.8 .7 3.5 .7-.5 .7 .3 .7-.8 .7 1.4 .6-2.4 .7-.8 .7-1.3 .7 2.6 .7-1.6 .7 1.5 .7 .1 .7 2.9 .7-.4 .7 1.4 .7 .1 .6 4.8 .6 4.3 .6 5.1 .6-1.4 .8 3.5 .8-9.1 .8 1.7 .8-2 .7 4.7 .8 1.4 .6 4 .7-6.3 .6-.3 .6-4.3 .7-.7 .7-3.2 .7 2 .7-.2 .7 2.3 .6-1.2 .7 2.8 .7-.1 .7 6.3 .7-2 .7 5.2 .7-4.9 .7-.4 .7-4.2 .7-.5 .6-1.7 .7-1.1 .7-2.9 .7 1.2 .7-3.3 .7 3.1 .7-3.7 .7 2.5 .7-1.9 .7 .8 .6-.9 .7 .1 .7-1.5 .7 .9 .7-2.4 .7 .4 .7-.6 .7 .6 .7-.3 .7-.1 .7-.9 .6 .1 .7-1.4 .7-.1 .7-1.9 .7 1.4 .7-1.3 .7 1.8 .7-.7 .7 .3 .6-.4 .7 1.2 .7-.8 .7 .8 .7-1.2 .7 .4 .7-1 .7 1.9 .7-.9 .7 1.1 .7-.3 .6 1.1 .7 .3 .7-.1 .7-.8 .7 .1 .7 0 .7-.3 .7-1.1 .7-.5 .6-1.3 .7-.3 .7-.9 .7-.1 .7-1.4 .7 .7 .7-.6 .7 1.9 .7-2.5 .7 1.6 .7-2 .6 1.7 .7-.4 .7 2.1 .7-.2 .7 1.1 .7-1.3 .7 1 .7-1.4 .7-.2 .6-1.7 .7 .7 .7-1.4 .7 .3 .7-.6 .7 1.2 .7-.8 .7-.6 .7-.2 .6 1 .7-.5 .7 2 .7-.3 .7 1.2 .7-2 .7 .8 .7-2.2 .7 1.2 .7-1.9 .7-.3 .6-.9 .7 1.1 .7-.9 .7 1.3 .7-1.6 .7 .3 .7-1.3 .7 1.5 .7-.7 .7 .1 .7-.8 .6 1.5 .7 .4 .7 .7 .7-.4 .7 1.7 .7-.3 .7-.6 .7-.4 .6 .2 .7-1.3 .7 .3 .7-1.2 .7-.7 .7-.5 .7 .8 .7-1.4 .7 .3 .7-.2 .7-.7 .6-1.3 .7 .3 .7-.8 .7 .6 .7 0 .7 .6 .7-1.1 .7 .9 .7 0 .6 1.6 .7-.7 .7-.4 .7-.7 .7-.6 .7-2.8 .7 1.6 .7-1.3 .7 .4 .7-1.1 .7 .9 .6 .1 .7 1.6 .7-2.2 .7 2.5 .7 .9 .7 .7 .7-.9 .7-.4 .7-3.4 .7 .4 .6 .2 .7 1.5 .7 .3 .7 .6 .7-.5 .7 3.4 .7-.9 .7 3.1 .7-.2 .7 2.1 .6-1.5 .7 .9 .7-.1 .7 2.9 .7-2.3 .7 1.1 .7-2.6 .7 2.8 .6-5.7 .7 2 .7-1.5 .7 5.8 .7-1.8 .7 4.7 .7-3.3 .7 1.6 .7 .2 .7-1.8 .7-2.1 .6 2.3 .6 1.4 .6 7.8 .6-3.7 .7 10.3 .7-.2 .8 6 .9 2.4 .7 4.4 .7-10.2 .7-2 .6-4.4 .7 3.4 .7 .2 .7 11.1 .7-1.9 .7 2.6 .7-3.9 .7 5.2 .7-9.8 .7 2.3 .6-2.4 .7-.9 .7-4.3 .7 1.6 .6-1.4 .7 1.6 .6-4.8 .7 7.1 .6-8.2 .7 3.3 .8-4 .8 0 .7-3.9 .7 1.3 .7-1.1 .7-1.2 .7-1.1 .7-.4 .6-2.3 .7 2.3 .7-1.8 .7 1.1 .7-1.6 .7 .2 .7-2 .7 2.1 .7 .1 .7 .9 .7-.3 .6 .1 .6-.5 .7 .3 .6-4 .7-.4 .6-2.3 .8 1.8 .8 .1 .8 4.8 .7-.8 .6 3.2 .7-.6 .7 2.3 .7-2.6 .7-1.1 .7-.4 .7 .2 .7-1.8 .7 .6 .7-2.8 .6 1.5 .7-2.1 .7 .5 .7-1.9 .7 .1 .7-1.2 .7 .5 .7-1.2 .7 1 .6-2.7 .7-1 .7-.8 .7 .6 .7-1.8 .7 .9 .7-1.1 .7 .1 .7-1.4 .7-.1 .7-1.4 .6 1.7 .7-2.8 .7 2.9 .7-.4 .7 0 .7-3 .6 5.4 .6 2.5 .6 4.6 .8 .3 .8 1 .7-6.3 .7 2.8 .7 .4 .7 3.5 .7-4.4 .7 1.5 .7-2 .7 1 .7-4.3 .6 1.3 .7-4 .7 2.2 .7-2.8 .7 2.3 .7-3.9 .7 0 .7-3.2 .7 1.1 .6-3 .7 2.6 .7-.9 .7 1.6 .7-.1 .7 2.5 .7-.3 .7 .7 .7-1.1 .7 .5 .7-2.4 .6 1 .7-1.7 .7-1.2 .7-2.4 .7 1 .7-.5 .7 .7 .7-2 .6 2 .7 0 .7 .8 .7 .4 .7 .6 .7-1.4 .7-.5 .7-2.1 .7 .8 .7-1.4 .7 .6 .6-1.9 .7 2 .7-3.3 .7 .7 .7-1.1 .7 .2 .6-1.9 .7 2.3 .7-2.2 .7-.3 .6-.8 .7 2.1 .5-.7 .7-.5 .7-.9 .7 .3 .7-1 .7-.3 .7-.1 .7 .5 .6-.2 .7 .9 .7-1.4 .7-.3 .7-1.1 .7 0 .7-1.8 .7 .3 .7-.5 .7 1 .6-1.7 .7 .7 .7-.7 .7 1 .7-.9 .7-.1 .7-1 .7-.2 .7-1.7 .7 .4 .6-2.4 .7 1.6 .7-1.8 .7 .3 .7-.7 .7 .3 .7-1.4 .7 1 .7-2.2 .7 .1 .7-1.3 .6 1.2 .7-.2 .7 1.3 .7-1 .6 2.5 .6 .2 .6 3.1 .8-2.8 .7-.3 .8-2.4 .7 0 .7-1.5 .7 .6 .7-.3 .7 .2 .7-1 .7-.2 .7-.3 .7 .5 .6-2 .7 1.2 .7-.9 .7 .5 .7-1 .7 .8 .7 .5 .7 1 .7-1.2 .7-.6 .6-.6 .7 1.3 .7-2.1 .7 1.8 .7-.1 .7 3.1 .7 1.8 .7-1.4 .7-3.3 .7 2 .7-1.9 .6 .9 .7-2.3 .7 1.4 .7-2 .7 3.1 .7-.8 .6 3.7 .6-1.1 .7 3.2 .6-2.2 .6 1.4 .8-2.1 .8 1.4 .8-3.8 .7 .5 .7-1.6 .7 .6 .7-.5 .7 .4 .6-1.5 .7 .1 .7-1.3 .7-.2 .7-2.2 .7 1.3 .7-1.7 .7 .8 .7-.3 .7 .5 .6-1.2 .7 .5 .7-1.4 .7 1.2 .7 .3 .7 .7 .7-1.5 .7-.5 .7-1.1 .6 .1 .7-1.5 .7 1 .7-1.2 .7 .1 .7-1 .7 .9 .7-1.6 .7 .2 .7-.4 .7 .6 .6-.4 .7 .3 .7-.5 .7 .2 .7-1.1 .7 .3 .7-.6 .7 .1 .7-.4 .7 .3 .6-.9 .7 1 .7-1 .7 .9 .7-1.6 .7-.1 .7-.6 .7 .4 .7-1.7 .6-.1 .7-1 .7-.8 .7-1.8 .7 .9 .7-1.8 .7 .6 .7 .5 .7 2.4 .6 .1 .7 .5 .7-.2 .7 .5 .7-1.3 .7 1.5 .7-1.7 .7 .3 .7-1.3 .7 .2 .7-1.3 .6 1.2 .7-1.2 .7 .1 .7-.9 .7-.1 .7-1.6 .7 1.1 .7-.2 .7-.8 .7-1.1 .7 1.4 .8 2 .8 2.5 .6-1.7 .6 3.3 .7-1.7 .6 1.1 .6 1.3 .6 3.7 .6-.1 .8 .9 .7-6.7 .8-.4 .7-3.7 .7 2.4 .7-4 .7 .2 .7-1.7 .7 2.8 .6-2.9 .7 2.8 .7-2 .7 2.6 .7 .1 .7-.3 .7-2.4 .7 1 .7-3.4 .7 1.3 .6 .1 .7 2.4 .7-1.9 .7 2.1 .7-1 .7 .3 .7-2.2 .7 1.9 .7-4.9 .7 2.6 .7-1.2 .6 .3 .7-3.4 .7 4.1 .7-1.6 .7 .6 .6-5.1 .6 1.4 .7-1.8 .6 2.2 1 13.9 .9 6.7 .6-7.7 .6 3.7 .6-11.6 .7-1.2 .7-3.9 .7 2.7 .7-3.9 .7 3.9 .7-5.7 .6 .9 .7-5 .7 3.9 .7-2 .7 .2 .7-3.1 .7 1.6 .7 .1 .7 2.6 .6-.7 .7 .8 .7-2.8 .7-.4 .7-2.4 .7-.2 .7-1.3 .7 .4 .7-3.1 .7 .9 .7-.2 .6 .7 .7-2.2 .7 2.6 .7-1.6 .7 1.9 .7-5.1 .7 .1 .7-2 .7 .6 .7-2.1 .6 2.2 .7-1.7 .7 1.4 .7-2.4 .7 .4 .7-2.1 .7 1 .7-1.6 .7 1.8 .6-.6 .7 .4 .7-.5 .7-1 .7-1.1 .7 .3 .7-2.8 .7 2.8 .7-2.8 .7 1 .6-.1 .7 0 .7-1.4 .7 2.7 .7 1.2 .7 1.8 .7-.4 .7 1 .7-1.1 .6-2.5 .7 .3 .7 3.7 .7-1.6 .7 3 .6-1.3 .7 5.4 .6-1.7 .6 4.2 .8-5.3 .7-.5 .8-1.8 .7-.8 .8 1 .8 2.7 .8 3.1 .7 1.1 .8 .5 .8 1.6 .7-3.7 .8 .2 .7-3.1 .7 .9 .7-3.2 .7 2.8 .7-3.4 .7 1.5 .7-.2 .7 1.6 .7-.9 .6 1.5 .7-.7 .7 1.6 .7-3 .7 1.7 .7-1.6 .7 .1 .7-1.8 .7-.2 .7-1.3 .7 .5 .6-2.3 .7-.3 .7-.5 .7 .6 .7-1.7 .7 1.5 .7 .7 .7 1.2 .6 1.1 .7 1.2 .7 .4 .7 1 .7-1.8 .7-1.1 .7-2.5 .7 1.3 .7-1 .7 .4 .7-3.7 .6 1.1 .7-2 .7-.4 .7-2.5 .7 2.1 .7-2.2 .7 1.2 .7-1.7 .7 .8 .7-2.3 .6 3.6 .7-2.9 .7 1.7 .7-3.9 .7 2.4 .7-2.9 .7 2.3 .7 1.7 .7 2 .7-1.6 .6 .6 .7-1.8 .7-.8 .7-2.5 .7 1.3 .7-3.3 .7 1.4 .7-2.9 .7 3.1 .6-3.2 .7 1.1 .7-1.2 .7 2 .7 .8 .7 .4 .7-1.9 .7 2.5 .7-1.3 .7 3.6 .6 0 .6 4.2 .6 .4 .8-2.2 .8-4.3 .7-1.6 .7-1.2 .7-.1 .7-2.5 .7 2.5 .6-1.9 .7 .8 .7-.9 .7 1.4 .7-3.4 .7-.3 .7-.4 .7-.3 .7 0 .7-.7"/>
<path class="o" d="M1438 1429.4 l.7 1.5 .7-.1 .6 1.4 .7-.7 .7 .6 .7-.8 .7 1.3 .7-1.9 .7 0 .7-1.2 .7 .6 .7-1.2 .7 1 .6-.4 .7 0 .7-.3 .7-.5 .7-1.2 .7 .8 .7-.8 .7 .5 .7-.9 .6 2.2 .7-.8 .7 2.5 .7 .6 .7 .6 .7-.2 .7 .6 .7 .1 .7 .6 .7-.3 .7 .8 .6-1.4 .7 1 .7-1.6 .7 3 .7-.3 .7 1.2 .7-.3 .7 3.4 .7-1.2 .7-.2 .6-.8 .7 .2 .7-1.3 .7 .5 .7 .3 .7 1.1 .7-.3 .7 .2 .6-.6 .7 1.3 .7-.3 .7 2 .7-.5 .7 2.5 .7 1.2 .7 .1 .7-2.1 .7 .1 .7-1 .6 1.3 .7-.7 .7 .5 .7-1.3 .7 1.3 .7-1.4 .7-.1 .7-.6 .7 1.1 .6-.2 .7 .7 .7-.8 .7 1.8 .7-.8 .7 .6 .7 .3 .7 .9 .7 .3 .7 1.1 .6 .2 .7 .7 .7 0 .7 1.8 .7 .7 .7 1.6 .7-.2 .7 .5 .7-1.6 .7 .2 .6-.6 .7 .5 .7-.5 .7 .6 .7-1.2 .7 .4 .7-1.2 .7 1.7 .7 .1 .7 .7 .6-.2 .7 .9 .7-1 .7 1 .7-.9 .7 .5 .7-.5 .7 .1 .7-.2 .7-.4 .7-1.8 .6-.1 .7-.6 .7-.5 .7-.4 .7 .2 .7-.5 .7 .6 .7-.7 .7 .2 .6-.9 .7 .3 .7-1 .7 .7 .7-.7 .7-.7 .7-.8 .7 .6 .7-1 .7 .5 .7-1.8 .6 .1 .7-1 .7-.5 .7-1.5 .7 .5 .7-.3 .7 1 .7-.8 .7 .7 .6-.4 .7 .3 .7-.8 .7 .5 .7-.2 .7 .2 .7-.8 .7 1.2 .7-.2 .7 1.3 .7-.5 .6 2.5 .7-1.5 .7 .4 .7-2.4 .7 1.8 .7-1.1 .7 .2 .7-1.4 .7 .6 .6-2.1 .7 .9 .7-.8 .7 .5 .7-2.1 .7 .9 .7-.7 .7-.1 .7-.8 .7 1.2 .7-.4 .6 1.4 .7-.8 .7 2 .7 .2 .7 .2 .7-1.2 .7 1.2 .7-.8 .7 .5 .6-1.9 .7 .2 .7-1.3 .7 0 .7-.5 .7 1 .7-.8 .7 .5 .7-.8 .6 .8 .7-.5 .7 3.3 .7-1.2 .7 .7 .7-.7 .7-.2 .7-.8 .7-.1 .7-1.3 .7-.4 .6-.3 .7 .4 .7-.9 .7 .7 .7-.7 .7 .1 .7-.8 .7 .2 .7-.3 .7 .1 .7-1 .6 2 .7 .2 .7 1.1 .7 .2 .7 .8 .7-1 .7 .6 .7-1.2 .6 1.4 .7-1.4 .7 .2 .7-2.6 .7 .3 .7-1.4 .7 .6 .7-1.6 .7 .1 .7-.8 .7-.6 .6-.6 .7-.3 .7-.6 .7-.1 .7-.1 .7 .6 .7-1.1 .7 .3 .7-.5 .6 1.2 .7 .2 .7 1.1 .7-1.4 .7-.7 .7-1.1 .7 .3 .7-1.5 .7 1.2 .7-.1 .7 .9 .6-1 .7 .5 .7-.4 .7 1.3 .7 1.2 .7 0 .7-2.1 .7 .5 .7-.4 .7 .5 .6 .3 .7 .7 .7-.4 .7 .4 .7-.4 .7 1.1 .7-.8 .7 1.2 .7 1 .6 1.2 .7-.2 .7 1.3 .7-.2 .7 .8 .7 0 .7 .1 .7-.4 .7-.4 .7-1.3 .6 .5 .7-.9 .7 2.7 .7-.9 .7 1.8 .7 .6 .7 .8 .7-1.3 .7 0 .7-1 .6 2.4 .7 .8 .7 2 .7-.8 .7 1.3 .7 .1 .7 .1 .7-.5 .7 .6 .7-.3 .7-.2 .6 .1 .7 .2 .7 .6 .7 1.4 .7-1.6 .7 2.3 .7-.8 .7 .9 .7-1.5 .6 .4 .7-2.1 .7 .8 .7-1.2 .7 .9 .7-1.8 .7 1 .7-1 .7 .2 .7-1.5 .7 .6 .6-.9 .7-.3 .7-1.4 .7 .7 .7-.7 .7-.2 .7-1 .7 .5 .6-.8 .7-.2 .7-.4 .7 .3 .7-1.2 .7 .7 .7-2.1 .7 3.6 .7-1.2 .7 2.4 .6-2.4 .7 2.2 .6-3 .7-.3 .6-2 .7-.1 .6-3.6 .8 4.2 .8-.1 .8 3.8 .7-1.9 .6-.1 .7-1.5 .7 2.2 .7-1.4 .7 .7 .7-.7 .7 1.1 .7-1.3 .7 .2 .7-1.3 .6 .2 .7-2.3 .7 .1 .7-1.1 .7 .3 .7-.7 .7 .1 .7-1.7 .7 .4 .7-.8 .6 .4 .7-1.2 .7 .7 .7-1.8 .7 2.1 .7-1.8 .7 0 .7-1.1 .7 .6 .7 0 .7 .6 .6-.6 .7 1.2 .7-2.3 .7 1.2 .7-1.3 .7 1.4 .6 .1 .6 4 .6 1.2 .7-.2 .8-.5 .7-.6 .8-3.5 .7 2.4 .7-.4 .7-.1 .7 0 .7 1 .7-2.3 .7 .8 .6-.5 .7 0 .7-1.3 .7 .1 .7-1.1 .7 .1 .7-2 .7 .4 .6-.9 .7-.7 .7-.1 .7 2.4 .7-.3 .7 1 .7-.4 .7 0 .7-1.1 .7 0 .7-.9 .6 .4 .7-.7 .7 .4 .7-1.7 .7 .5 .7-1.8 .7 1.3 .7-1.9 .6 1.3 .7 0 .7 .8 .7 .2 .7 .7 .7-1.7 .7-.3 .7-.5 .7 .3 .7-1.2 .7 .2 .6-.7 .7 0 .7-.4 .7-.1 .7-.4 .7-.4 .6-.1 .7 .1 .7-1 .7 .5 .6-.7 .7 .1 .5-2 .7 .9 .7-.3 .7-.5 .7-.7 .7-.2 .7-.2 .7 .8 .6-.6 .7 .6 .7 0 .7-.6 .7-.8 .7-1 .7-1.3 .7 .1 .7-1.9 .7 .6 .6-.9 .7 1 .7-1.2 .7 1.9 .7-2.7 .7 1.2 .7-1.7 .7 1.3 .7-.2 .7-.3 .6-.7 .7-.2 .7-.7 .7 .1 .7-1.1 .7-.4 .7-.8 .7 .3 .7-1.5 .7 1.5 .6-1.2 .7 1.7 .7-1.9 .7 2 .7-1.3 .6 3 .6-.8 .6 2.8 .8-3.7 .7 1 .8-2.3 .7-.4 .7-.8 .7 .1 .7-1 .7 .7 .7-.4 .7 .5 .7-.7 .7 .3 .6-1 .7 1.4 .7-1.8 .7 1.2 .7-.6 .7 .7 .7-1.2 .7 1 .7-.4 .7 .9 .6-1.3 .7 1.2 .7 .2 .7 .2 .7-.7 .7 3.1 .7 1.9 .7-.6 .7-2.2 .7 .4 .7-1.6 .6 0 .7-.2 .7 1.1 .7-1.1 .7 .2 .8 1.4 .7 2.9 .8-2 .8 1.8 .7-.5 .8-.1 .8-2.3 .8 .3 .7-.7 .7 .4 .7-.8 .7 .1 .7-.3 .6-.1 .7-.3 .7-.1 .7-.6 .7 .9 .7-1.3 .7 .7 .7-.6 .7 .3 .7 .1 .6 .6 .7 .1 .7 .8 .7-2.3 .7 .9 .7-1.3 .7 0 .7-.6 .7-.8 .7-2.3 .6 1.1 .7-2.1 .7 0 .7-1 .7 .3 .7-1.3 .7-.1 .7-1.1 .7 .4 .7-1.1 .6 .6 .7-.8 .7 .3 .7-.3 .7 .3 .7-.5 .7 .4 .7-1.6 .7-.1 .7-.4 .6 .9 .7-2.2 .7 1.8 .7-1.6 .7 2.2 .7-2 .7 1.9 .7-3.1 .7 1.8 .6-3.3 .7-1.6 .7-.7 .7 .2 .7-3.7 .7 .8 .6-2.5 .6-.9 .6-5.6 .8 4.7 .8 1.7 .7 .4 .7-1 .7 1.5 .7-1.6 .7 .3 .7-.5 .7 .7 .7-.1 .7-.7 .6-1.1 .7 0 .7-.1 .7 .9 .7-3.2 .7 1.9 .7-2.7 .7 .9 .7 0 .7 1 .7-3 .8 4.3 .8 1.3 .6 1.6 .6-1.1 .7 3 .6-2.2 .6 2.4 .6-.5 .6 2.8 .8-1.9 .7 1 .8-2.8 .7 .6 .7-1.7 .7 1.6 .7-1.7 .7 .6 .7-1.5 .6 .2 .7-1.4 .7 1.4 .7-.1 .7 2.4 .7-1.4 .7 1.3 .7-.9 .7 .5 .7-2.1 .6 3.1 .7-1.5 .7 3.2 .7-2.6 .7 .9 .7-.7 .7-.3 .7-2.4 .7 0 .7-.7 .7 .7 .6-2.2 .7 .9 .7-3.5 .7 1.5 .7-4.3 .6 .9 .6-1 .7 2.6 .6-2.5 1 9.7 .9 2 .6-.5 .6-2.6 .6 1.4 .7-2.4 .7-1.2 .7-1.2 .7 1.2 .7 .4 .7 3.3 .6-3.3 .7 .7 .7-2.5 .7 .9 .7-2.3 .7 2.7 .7 0 .7 2.6 .7-2.7 .7 2.7 .6-2.5 .7-.3 .7-1.8 .7 .6 .7-.5 .7 .5 .7-.4 .7-.3 .7-1.3 .6 1.5 .7-1.5 .7 .2 .7-1.2 .7 0 .7-.8 .7-.5 .7-1.1 .7 .2 .7-.8 .6 .6 .7-.5 .7 .1 .7-.9 .7 .1 .7-1.6 .7 .1 .7-1.3 .7-.1 .7 .1 .6 1 .7-.6 .7 .9 .7-.5 .7 .4 .7-1.3 .7-.2 .7-2.1 .7 1 .7-.7 .6 .5 .7-1 .7 .6 .7 .3 .7 1.3 .7 .1 .7 .9 .7-.2 .7-.5 .6-1.4 .7 1.9 .7 .5 .7 1.6 .7-1.1 .6 1.2 .7 .4 .6 1.3 .6-.6 .8 .3 .7-1.3 .8-.5 .7-.9 .8 1.6 .8 .2 .8 2.6 .7-.9 .8 .7 .8-1.6 .7 0 .8-1.4 .7 .3 .7-.6 .7-.2 .7-1.4 .7 2 .7-1.3 .7 .7 .7 .3 .7 .6 .6-.6 .7 1.8 .7-.5 .7-.6 .7-.7 .7-.2 .7 .4 .7-.5 .7-.8 .7-.5 .7-.7 .6-.3 .7-2 .7 1.1 .7-2.5 .7 1 .7 .1 .7 1.6 .7-.5 .6 1.9 .7-.3 .7 3.1 .7-.6 .7 1.6 .7-3.8 .7 .4 .7-2 .7 .3 .7-2.6 .7 .9 .6-1.6 .7-.2 .7 0 .7-.6 .7-1.3 .7-.5 .7-1.7 .7 2.8 .7-.4 .7 1.3 .6-1.7 .7-.1 .7-.9 .7-1.6 .7-.4 .7 .3 .7-.4 .7 2.3 .7-1 .7 1.3 .6-1.1 .7-.1 .7-1.7 .7 .4 .7-1.4 .7 .8 .7-.4 .7-.8 .7-1.1 .6-.1 .7-1.1 .7 .4 .7-1.4 .7 1.8 .7-1.6 .7 1.9 .7 .3 .7 1.9 .7 .1 .6 2.3 .6-.4 .6 4 .7-3.7 .8 .9 .8-2.2 .7 .9 .7-1.1 .7-.5 .7-2.4 .7 1.7 .6-1 .7 .1 .7-1.8 .7 .7 .7-2.3 .7 .9 .7-1 .7 .4 .7-.1"/>
</g>
<path class="z" d="M1408.90 1428.00H2064.03"/>
<text class="t" transform="translate(1736.17 1238.00) scale(0.964 1)">USD</text>
<text class="x" transform="translate(1437.30 1634.10) scale(0.935 1)">2000</text>
<text class="x" transform="translate(1530.00 1634.10) scale(0.935 1)">2004</text>
<text class="x" transform="translate(1622.70 1634.10) scale(0.935 1)">2008</text>
<text class="x" transform="translate(1715.40 1634.10) scale(0.935 1)">2012</text>
<text class="x" transform="translate(1808.10 1634.10) scale(0.935 1)">2016</text>
<text class="x" transform="translate(1900.80 1634.10) scale(0.935 1)">2020</text>
<text class="x" transform="translate(1993.50 1634.10) scale(0.935 1)">2024</text>
</g>
<g>
<rect x="2083.93" y="1245.90" width="656.15" height="363.08" fill="#eaeaf2"/>
<path class="g" d="M2113.50 1245.90V1608.98M2206.50 1245.90V1608.98M2299.50 1245.90V1608.98M2391.50 1245.90V1608.98M2484.50 1245.90V1608.98M2577.50 1245.90V1608.98M2669.50 1245.90V1608.98M2083.93 1256.50H2740.08M2083.93 1313.50H2740.08M2083.93 1370.50H2740.08M2083.93 1427.50H2740.08M2083.93 1485.50H2740.08M2083.93 1542.50H2740.08M2083.93 1599.50H2740.08"/>
<clipPath id="c15"><rect x="2083.93" y="1245.90" width="656.15" height="363.08"/></clipPath>
<g clip-path="url(#c15)">
<path class="b" d="M2113.3 1426.4 l1-2 .6-.7 .5 4 .6-.9 .7 4.7 .7 0 .7 5 .8 1.6 .9 7.3 .6-6.6 .6-.1 .6-2.9 .7 2.6 .6-2.4 .7-.6 .7-2.2 .7 4.3 .7-3.4 .7-.8 .7-2.6 .7 2.3 .7-2.9 .7 1.7 .7-2.5 .6 3.1 .7-1 .7 1.6 .7-.6 .7 1.8 .7-2 .7 2.1 .7-2.9 .7-.3 .6-4.2 .7 2.5 .7-5.5 .7 2.5 .7-3.2 .7 1.1 .6-.8 .6 6.3 .7 1.6 .6 2.1 .8-6.3 .7-.4 .8-8.3 .7 5.1 .7-2.4 .7 6.6 .7-2.6 .7 6.5 .7-4 .7 7.1 .6-5.5 .7 1.8 .7 .5 .7-.2 .7 9.1 .7 1.5 .7-9.3 .7 3.3 .7-8.1 .7 .6 .7-15 .6 5.4 .7-.9 .7 2.1 .7-4.9 .7 4.3 .7-4.9 .7 .7 .7-1.2 .7 1.8 .6-2.8 .7 2 .7-2.9 .7 .8 .7-1.5 .7 2.2 .7-1.5 .7 3.2 .7 .9 .6 2.3 .7-.3 .7 3 .7-.4 .7 4.3 .7-2.1 .7 1.8 .7-.2 .7 1 .7-.9 .6 3.1 .7-1 .7 .9 .7-2.2 .7 1 .7-1.6 .7 1.6 .7-.3 .7 4.2 .7-2.4 .6 5 .7 1.1 .7 4.3 .7 1 .7 3.2 .7-.9 .7 .7 .7-.2 .7 4.4 .7-7.2 .7-1 .6-1.8 .7-.7 .7-2.4 .7 .6 .7-1.9 .7 3.1 .7-2.9 .7 1.3 .7-.7 .7-1.6 .7-2.3 .6 1.5 .7-1.7 .7 1.7 .7-1.6 .7 .4 .7-1.9 .7 .3 .7-2.4 .6 0 .7-1 .7 .1 .7-2.5 .7 1.8 .7-1.5 .7 1.3 .7-.9 .7 .2 .7 1.3 .6 1.2 .7-.9 .7 2.3 .7-.5 .7 3.1 .7-1 .7 .8 .7-1.9 .7 .7 .7-1 .6 1.6 .7-4.4 .7 1.2 .7-4.2 .7 1 .7-2 .7 1.3 .7-3.5 .7 2.3 .7-2.2 .6 .7 .7-1.5 .7 2.2 .7-4.5 .7 2.8 .7-1.6 .7 .6 .7-1.2 .7 1 .7-3.1 .6 2.1 .7-3.7 .7 2.5 .6-.5 .6 2.3 .7-.1 .6 2.5 .8-2.7 .8 2 .8-4.5 .7-.8 .6-3.3 .7 3.6 .7-4.4 .7 0 .7-1.4 .7 1.2 .7-4.1 .7 2 .7-1.7 .6-.5 .7-3.5 .7 1.9 .7-1.5 .7 2.4 .7-4.8 .7 2.3 .7-2.8 .7-.8 .7-1.3 .6-1 .9-4.2 .8 2.1 .6-1.8 .6 4 .6-3.4 .7 3.8 .7-2.5 .7-1.7 .7-2.8 .7-.1 .6-.9 .6 5.6 .6 2.2 .6 1 .9-4 .8-2.5 .7-3.7 .7 1.5 .6-.3 .7 2.6 .7-2.7 .7-.1 .7-1.3 .7-1 .7-3 .7 2 .7-1.4 .7-.9 .7-2.3 .6 2.1 .7-.9 .7-.8 .7-2.2 .7 1.8 .7-1 .7 .7 .8 .4 .8 1.7 .7-1.8 .6-.8 .6-4.4 .7 1.8 .6-3.2 .7 2.3 .7-4.3 .7 1.6 .7-.4 .7 .8 .7 .9 .6-2.2 .7-2.3 .7 7.9 .7-1.3 .6 .7 .7-4.9 .6-1.4 .6-5.2 .7 3.6 .7-1.7 .8 3.5 .8 .1 .7 1.1 .6-.2 .7-.7 .6 2.7 .6 .4 .7-.2 .7 9.4 .8-5.3 .7-.9 .8-5.7 .7 1 .7-3.3 .7 2.1 .7-3.9 .7 .6 .7-2 .7-.3 .7-.4 .6 5.2 .7-4.2 .7 4.7 .7 .3 .7 4.7 .7-2.5 .7 6.2 .7-2.9 .7 4.8 .8 .9 .8 4 .8 3.4 .7 7 .9-2.8 .8 12.1 .7-9.1 .7 1.8 .7-13 .6 5 .7 .2 .7 4.5 .7-3.3 .7 2.5 .7 .8 .7 6.4 .7-3.7 .7-2.4 .7-2.4 .7 .1 .6-4.3 .7 .3 .7-3 .7 2.5 .7-.9 .7 3.8 .7-3.3 .7 1.1 .7-.9 .6-2.8 .7-5.1 .7 .5 .7-1 .7 1.5 .7-1.3 .7-.3 .7-.8 .7 1 .7-3.1 .6 3 .7-3.7 .7 .6 .7-2.1 .7 3.5 .7-1 .7 1.7 .7 2 .8-.2 .7-3.1 .8 1.2 .8-2.5 .7-.3 .8 .2 .8 2.7 .8 1.5 .7 1.8 .7-1.6 .7 3 .7-3 .6 0 .7-1.2 .7 .7 .7-.8 .7 .5 .7-2.8 .7 1.5 .7-2 .6 0 .7-2.5 .7-.2 .7-1.6 .7 .7 .7-2 .7 .7 .7-1.1 .7 .3 .7-1.1 .7 .2 .6-2 .7 .7 .7-.4 .7 .2 .7-.3 .7 1.3 .7-1.9 .7 1.9 .7 .1 .7 1.2 .6-.8 .7 1.9 .7-1.7 .7 1.8 .7-1.8 .7 3.5 .8 .4 .8 3.6 .7-.7 .6-.4 .6-1.6 .6 .2 .7-2.3 .7-1.8 .7-1.1 .7-.4 .7 .3 .7 2.3 .7-1.1 .7 1.1 .6-2.6 .7 .5 .7-2.2 .7-.6 .7-.5 .7 1.1 .7-.6 .7 .1 .7-.6 .7 1.1 .6 .1 .7 1.4 .7 .1 .7 0 .7-.4 .7 .4 .7-1.4 .7 .7 .7-.5 .7-1.3 .6-1.4 .7 .9 .7-1.5 .7-.4 .7-.8 .7-.3 .7-2 .7 1.1 .7-1.7 .6 1 .7-1.5 .7 .7 .7-2 .7 .7 .7-2.4 .7 .1 .7-.8 .7 1.7 .7-2 .7 1.4 .6 1.1 .7 .6 .7-.5 .7 1.6 .7 0 .7 1.9 .6-2.8 .7 .4 .7-1.6 .6 .9 .7-2.4 .5 3.5 .7-.5 .7-.9 .7-3 .7 .4 .7-2.5 .7 1.5 .7-2.4 .6 .3 .7-1.8 .7 .9 .7-1.5 .8 .3 .7-.5 .8 1.5 .8 .1 .6 .6 .6-1.4 .7 .1 .6-1.7 .7 1.1 .6-2.7 .7 1.6 .7-1.7 .7 .6 .7-1.6 .7 .6 .7-.9 .6-.3 .7-1.7 .7 .5 .7-1.1 .7 .1 .7-1.5 .7 .9 .7-.2 .7 1.5 .7-1.2 .6 1.1 .7-1.8 .7 1.5 .7 1.4 .7 2.2 .7-.1 .7 2 .7-2.1 .7 .3 .7-2.8 .6 2 .7-.1 .7 1.2 .7 .2 .8-.9 .7-2.2 .8-.3 .8-2.1 .6 1.4 .6-.9 .7-1 .6-1.5 .7 1.4 .6-1.6 .7 3.6 .7-.7 .7 1.4 .7-.8 .7 1.3 .6-1 .7 2.7 .7-1.6 .7 1.3 .7 .2 .7 1.7 .7-2.1 .7 .6 .7-2 .7 .8 .7-4 .6 .3 .7-.5 .7 2.7 .7-.1 .7 2.5 .7-2 .7 2.8 .7-1.4 .7 2.5 .7 0 .6-.7 .7-1.6 .7 .8 .7-3.6 .7 .8 .7-.6 .7 .4 .7-.7 .7 .5 .6-1.3 .7 1.1 .7-.6 .7 1.8 .7-1.1 .7 1.2 .7 .4 .7 .9 .7 .2 .7 .1 .6-.6 .7 .5 .7-.6 .7 1 .7 .6 .7 1 .7-.4 .7 .9 .7 .1 .7 1.2 .6-.6 .7 .4 .7-1.8 .7 0 .7-1.9 .7 1.1 .7 .9 .7 .9 .7-1.8 .7 .5 .7-1 .6 .1 .7-1 .7 .4 .7 .5 .7 1.5 .7-.3 .7 1.3 .7-2.3 .7 .5 .6-2.3 .7-.6 .7-2.2 .7 1.6 .7-1.4 .7 .5 .7-1.2 .7 1.1 .8-3.3 .7 .9 .8-2.4 .6 2.9 .7-1.3 .6 3.3 .6-1.9 .7 1.2 .7-1.6 .7-.5 .7-.7 .7 3.1 .6 .6 .7 1.6 .7-1.7 .7 1.7 .7-.6 .7-.2 .7-1 .7 1.2 .7 .3 .7 .8 .7-1.8 .6 1.7 .7-1.9 .8-.5 .8-.5 .7 .1 .8-1.9 .6 3.1 .6 .2 .6 2 .7-.1 .6 3.3 .7-.2 .7 3.3 .7 .3 .7 1.8 .7-2.4 .7 1.2 .7-2.6 .7 .3 .6-1.5 .7-.5 .7-.9 .7 .1 .7-2 .7-.1 .7-1.5 .7 .7 .7-2.8 .7 2.1 .7 .3 .6 1.7 .7-.5 .7 .6 .7-1.8 .7 3.3 .7-3.6 .7 .9 .7-.9 .7 1.3 .7 .8 .6 2.8 .7-2.1 .7 2 .7-.6 .7-1 .7-3.2 .7 2.2 .7-.8 .7 2.7 .7-3.1 .6 3.8 .7-2.9 .7 1.6 .7-6.2 .7 4.1 .7-3.3 .8 9.3 .8 .3 .9 18.8 .9-18.5 .7 1.8 .7-4.8 .7 3.3 .7-5.6 .7 2.8 .7-4.5 .7-1.7 .7 .2 .6 4.9 .7-5.6 .7 5.8 .7-4.1 .7 1.6 .7-3.2 .7 4.2 .6-3.5 .6 2.8 .6-1 .7 2.4 .7-3.8 .8 .3 .8-3.5 .7 2.1 .7-3.7 .7-.3 .7-2.1 .7-.7 .7-.5 .6-.4 .7-2.3 .7 .9 .7-.4 .7 2.2 .7-2.8 .7 1.6 .7 .2 .7 1 .6-1.4 .7 1 .7-1.7 .7 2 .6-2.1 .6 1.4 .7-1.2 .6 .4 .7-.2 .7 4.9 .7-.1 .7 1.9 .7-3.8 .8-.9 .8-2.7 .7 .8 .7-2.6 .7 1.2 .7-3.3 .7 1.7 .6-3.6 .7 1.5 .7-1.6 .7-.8 .7-1.9 .7 2.7 .7-1.3 .7 2.2 .7-.6 .7 2.3 .6-.4 .7 2.2 .7-.2 .7 4.7 .7-3 .7 3 .7-.4 .7 .8 .7-3.9 .7 .6 .7-2.4 .6 1.1 .7-.8 .7 5.3 .7-1 .7 2.1 .7-2.3 .7 1.6 .7-7.3 .7 1 .6-4 .7 .7 .7-1.6 .7 2.3 .7-4.5 .7 .5 .7-.1 .7 2 .7-.8 .7 2 .7-.8 .6 .4 .7-1.6 .7 .8 .7-2 .7 .9 .7 0 .7 1.5 .7-.9 .7 1.1 .7-.6 .6 2.2 .7-2.9 .7 .9 .7 .1 .7 1.7 .7-1.8 .7 3.3 .7-.1 .7 2.4 .6-1.5 .7 2 .7-1.6 .7 1 .7-2.9 .7 2.6 .7-3 .7 1.3 .7-.8 .7 3 .6-.5 .7 1.7 .7-2.4 .7 1.2 .7-1.8 .7 1.7 .7-3.2 .7 .3 .7-1.3 .7-.2 .6-.5 .7 .2 .7-.3 .7 .4 .7-.9 .7 .9 .7-1.6 .7 .1 .7-.4 .7 0 .6-2 .7 .8 .7-2.5 .7 1.6 .7-.2 .7 1.3 .7-.9 .7 1.9 .7-1.1 .7 2.2 .6-1.2 .7 1.9 .7-1.3 .7-1.2 .7-2 .7 .7 .7-2.3 .7 1.3 .7-2.5 .6 5.3 .7 0 .7-.1 .7-4.5 .7 .8 .7-2.6 .7 0 .7-2 .7 2.5 .7-2.3 .7 .8 .6-3.2 .7 1.4 .7-.8 .7 0 .7-2.5 .7 .6 .7-4.3 .7 .4"/>
<path class="o" d="M2113.3 1426.9 l.7 1.5 .7-2.9 .7 2.6 .6 .2 .7 2.8 .8-.8 .8 2.3 .7 .3 .8 1.5 .6-1.4 .6 1.6 .7-2.4 .6 .9 .6-2.1 .7 1 .7-2.4 .7 1.5 .7-1.3 .7 .6 .6-2.4 .6 .1 .7-1.8 .6-.2 .7-1.1 .8 1.9 .7-.1 .8 1.4 .7-.8 .7 2.3 .7-1.1 .7 .9 .7-.8 .7-.8 .7-.3 .8 1 .7-2.8 .8 .3 .7-.6 .7 1.3 .7-.2 .7 3.4 .6-1.9 .6 .9 .7-3.5 .6 2.3 .6-2.8 .7 .2 .7 .2 .7 2.4 .7-.9 .7 2.3 .7 1.1 .7 .9 .6 .2 .7 2.4 .6-.2 .6 1.8 .6-1 .8 .4 .8-1.6 .8-1.2 .7-2.7 .7-.6 .7-1.4 .6-1 .7-1.3 .7 .3 .7-1.1 .7 .7 .7-1.4 .7 .9 .7-2.4 .7 1.7 .6-.7 .7 .8 .7-1.5 .7 .6 .7-.9 .7 1.7 .7-1.5 .7 2.1 .7 1.6 .6 1.5 .7 0 .7 1.5 .7 .7 .7 2.5 .7 0 .7 .5 .7 .2 .7 .5 .7-1.6 .6 1.3 .7-.7 .7 1.4 .7-.1 .7 .1 .7-1.1 .7 2 .7-1 .7 1.3 .7-1.5 .6 1.4 .7 .4 .7 1.6 .7 .1 .7 .8 .7-.4 .7 1.4 .7-.1 .7 1.8 .7-2.4 .7 .4 .6-2.1 .7 .7 .7-.3 .7 .7 .7-.8 .7 .4 .7-1.3 .7 .5 .7-1.3 .7 .4 .7-.3 .6 .6 .7-.6 .7 .1 .7-1.1 .7 1 .7-1.2 .7 .4 .7-1.7 .6-.3 .7-.9 .7-.6 .7 0 .7 .9 .7-1.3 .7 .6 .7-1.3 .7 1.5 .7-.5 .6 .6 .7-.1 .7 3.2 .7-.5 .7 2.1 .7-1.8 .7 1.9 .7-2.9 .7 .1 .7-.5 .6 1 .7-1.3 .7-.3 .7-1.6 .7 .2 .7-1.2 .7-.1 .7-1 .7-.4 .7-.9 .6 .5 .7-.4 .7 .3 .7-.6 .7-.2 .7-1.2 .7-.4 .7-1.6 .7 2.5 .7-2.2 .6-.4 .7-2 .7 1.5 .6-.5 .6 1.9 .7-.5 .6 2.9 .8-2.2 .8 .7 .8-2.6 .7 .5 .6-1.2 .7-1 .7-1.8 .7-.3 .7-1 .7-1.2 .7-.7 .7 .3 .7-.5 .6-.8 .7-1.9 .7 1.1 .7-1.9 .7 1.2 .7-.4 .7 .3 .7-1.9 .7 .1 .7-1.6 .6 .3 .7-.5 .7 .6 .7-1.5 .7 .3 .7-.1 .7 .8 .7-2 .7 .9 .7-1.5 .7 .4 .6 .1 .7 1.1 .7 .7 .7-.4 .7-.3 .7 .4 .7-1.4 .7 .1 .7-.8 .6 .6 .7-.9 .7-.3 .7-1.8 .7 1.1 .7-1.9 .7 .7 .7-.9 .7 .9 .6-.8 .7 .1 .7-1.5 .7 .5 .7-1.3 .7 .4 .7-.4 .7 .3 .7-.3 .7 .7 .7-1.2 .6 .2 .7-2 .7 .9 .7-1.2 .7 .5 .7-.4 .7 .4 .7-1.1 .7 .7 .7-1.5 .6 .9 .7 .5 .7 1.2 .7 .7 .7 .3 .7-1.2 .7 0 .7-1.5 .7-.2 .7-1.2 .6 1.8 .7-1.3 .7 2.3 .7 .2 .7 1.7 .7-1.2 .7 2.2 .7-.6 .7 .1 .7-1.2 .6 1.4 .7-2.4 .7 .2 .8-1.3 .7 1.2 .7-1.4 .8 .7 .7-1.8 .7 .9 .7-.4 .6 2.7 .6-1 .7 2.7 .6-.5 .7 3.2 .7-1.2 .7 .8 .7 0 .7 1 .6 .9 .7 1.4 .7 .8 .7 1 .7-.2 .7 .5 .7-.3 .7 .1 .7-1.5 .7 .8 .7-1.3 .6 .1 .7 .3 .7 .9 .7 .3 .7 .7 .7-.2 .7 .3 .7-.5 .7 .3 .6-1.2 .7-.3 .7-.4 .7 .5 .7-1.1 .7 .2 .7-.8 .7-.1 .7 .2 .7-.2 .6-1.4 .7 1.2 .7-2.1 .7 .7 .7-1.4 .7-.4 .7-1.3 .7 .7 .7-.7 .6 1.5 .7-1.1 .7-.3 .7-1.4 .7 .6 .7-.2 .7 1.1 .7 1.1 .7 2.2 .8-1.9 .7-.8 .8-1.7 .8 .7 .7-1.5 .8 2.1 .8-.6 .8 2.2 .7-.8 .7-.1 .7-1 .6 1.1 .7 0 .7 1.1 .7-.7 .7 .4 .7-1.1 .7-.3 .7-.8 .7 .1 .7-1.1 .6 .1 .7-1.1 .7-.4 .7-.7 .7 .6 .7-.7 .7 0 .7-.2 .7 .3 .7-.8 .6 .6 .7-.7 .7 .2 .7-.6 .7 1.2 .7-.5 .7 .6 .7-.4 .7 .6 .7-.4 .6 .2 .7-1 .7 .6 .7 .1 .8 1 .7 .7 .8 1.7 .7 .6 .7 .1 .6-1 .6 .2 .7-1.9 .6 .1 .7 0 .7 .1 .7-.7 .7 0 .7-.4 .7 .1 .7-.9 .6 .9 .7-.8 .7 .3 .7-.5 .7 0 .7-.2 .7 .3 .7-.5 .7 .5 .6-.4 .7 .1 .7-.4 .7 .3 .7 0 .7 .5 .7-.2 .7 .7 .7-1.6 .7 .9 .7-1.4 .6 .4 .7-.3 .7 .2 .7-.8 .7 .3 .7-1.4 .7 .1 .7-1.3 .7 .6 .6-1.5 .7 1 .7-1.4 .7 .7 .7-.5 .7-.8 .7-.8 .7 .8 .7-1.7 .7-.7 .6-.7 .7 1.2 .7-.4 .7 2.5 .7-.4 .7 .8 .7-.3 .6-.6 .7-1.1 .7 .6 .6-.2 .7-.4 .5 .5 .7 1 .7-2.9 .7 .8 .7-1.4 .7 .4 .7-.8 .7 .8 .6-1.4 .7 0 .7-.8 .7 .2 .8 0 .7 1 .8-1.4 .8 1.2 .6-.9 .6 0 .7-1.3 .6 .1 .7-1.6 .6 1.6 .7-.7 .7-.3 .7-1.3 .7 1.4 .7-1.5 .7 .7 .6-1.4 .7-.3 .7-1.2 .7 .3 .7-1.5 .7 .8 .7-.9 .7 .9 .7-.8 .7 1 .6-1.6 .7 .9 .7-.1 .7 1.1 .7 .7 .7 1.8 .7 .4 .7 1.3 .7-2.1 .7-.5 .6 0 .7 .5 .7-.1 .7 .8 .8-1.6 .7 0 .8-1.5 .8 .5 .6-.7 .6 .4 .7-1 .6 0 .7-1.1 .6 1 .7 .9 .7 1 .7-.5 .7 .3 .7 .5 .6 .6 .7 .4 .7 .5 .7-.2 .7 1 .7-.3 .7 .7 .7-1.7 .7 .6 .7-.7 .7 0 .6-1.6 .7 1.5 .7-1.1 .7 1.7 .7-.5 .7 1.7 .7 .1 .7 1.1 .7-.8 .7 1 .6-.7 .7-.2 .7-.6 .7 .7 .7-1.4 .7 .5 .7-.6 .7 .2 .7-.8 .6 .5 .7-.8 .7 .6 .7 .5 .7 .7 .7-.4 .7 .6 .7-.3 .7 1.3 .7-1.1 .6 .5 .7 0 .7 .4 .7-.3 .7 .4 .7 .1 .7 .7 .7-.3 .7 1 .7 .5 .6-.1 .7 0 .7 .2 .7-1.2 .7 0 .7-.8 .7 1.4 .7 0 .7-1 .7-2 .7 1.9 .6-1.7 .7 1.2 .7-1.7 .7 1.6 .7 .1 .7 1.3 .7 .6 .7-.8 .7-1.8 .6 .4 .7-2.1 .7 1 .7-.6 .7 .5 .7-1.5 .7 .8 .7-1.3 .8-1.4 .7-2.7 .8 1.1 .6-1.1 .7 2.9 .6-1.4 .6 3.7 .7-3.2 .7 1.4 .7-1.4 .7 1.1 .7 .9 .6 2.3 .7-.2 .7 .2 .7-.7 .7 .4 .7-1.9 .7 1.9 .7-1.1 .7 .7 .7-.5 .7 1.3 .6-1 .7 .5 .8 0 .8-.3 .7-.9 .8 .6 .6-.6 .6 1.4 .6 .6 .7 .7 .6 .2 .7 1.5 .7 .6 .7 .7 .7-1 .7 1 .7-1.2 .7 .8 .7-1.2 .6 1.1 .7-2.4 .7 1.3 .7-1.2 .7 0 .7-1.3 .7 0 .7-2 .7-.3 .7 .9 .7 .5 .6-.4 .7 1.8 .7-.4 .7 .9 .7-1.3 .7 .7 .7-1.8 .7 1.1 .7 .5 .7 1.9 .6 .8 .7 .3 .7 0 .7 0 .7-1.5 .7 1.8 .7-2.3 .7 1.6 .7-1.8 .7 1.1 .6-1.8 .7 1.2 .7-2.2 .7 1.4 .7-1.2 .7 1.7 .8 2.1 .8 4.6 .9 2.4 .8-.5 .7-2.5 .8-.8 .7-1.2 .7 .9 .7-1.6 .7-.7 .7 .4 .6 .4 .7-1.5 .7 .5 .7-.3 .7 1.8 .7-1 .7 .5 .7-.5 .6 .7 .6-.4 .6 2 .7-1.1 .7 0 .8-1.4 .8-.9 .7-2 .7-.3 .7-1.2 .7 .7 .7-2.2 .7 .6 .6-1.5 .7 .9 .7-1.7 .7 1.5 .7-.6 .7 1.1 .7-1.2 .7 .2 .7-.2 .6 .5 .7 .2 .7 .7 .7-1.3 .6 .1 .6-.4 .7 .3 .6-.9 .7 .6 .7-.8 .7 3.2 .7 .5 .7 .1 .8-2.9 .8 1.7 .7-2.9 .7 1.2 .7-1.8 .7 0 .7-1.8 .6 .5 .7-.1 .7 .2 .7-1.2 .7 .8 .7-1.3 .7 1.2 .7-1 .7 1 .7 .2 .6 1.3 .7-.2 .7 .9 .7-.6 .7 1 .7 0 .7 1.1 .7-1.3 .7-.5 .7-.2 .6 .1 .7 .3 .7 1.3 .7-.5 .7 1.1 .7-.3 .7-.3 .7-1.8 .7 0 .7-.8 .6 1 .7-2.4 .7 1.7 .7-1.6 .7-.6 .7-.9 .7-.7 .7-1.3 .7 3.4 .7 .5 .7 .1 .6-1 .7 0 .7-.7 .7-.4 .7 .4 .7 .7 .7 0 .7 .9 .7-1.1 .7 .3 .6-1.7 .7 .7 .7-.5 .7 1.6 .7 .4 .7 1.3 .7 0 .7 .6 .7 .4 .6 .9 .7-1.1 .7 1.2 .7-1.2 .7 .3 .7-.8 .7 .5 .7-1.2 .7 1.2 .7 0 .6 .4 .7-1.3 .7 .9 .7-.1 .7-.1 .7-.9 .7 0 .7-.5 .7-.3 .7-.9 .6 .6 .7-.7 .7 .4 .7-1.6 .7 .8 .7-.4 .7-.1 .7-1.1 .7-.1 .7-.6 .6 .9 .7-1.3 .7 .3 .7-1.3 .7 .9 .7 0 .7 .8 .7-.7 .7 2.1 .7-.1 .6 .7 .7-.2 .7 .9 .7-3 .7 .9 .7-2.8 .7 1.7 .7-.6 .7-.3 .6 .7 .7 2.1 .7-2.4 .7 .8 .7-2.7 .7 .5 .7-2.6 .7 2 .7-1.9 .7 1.1 .7-2.1 .6 .4 .7-.7 .7 .1 .7-1.6 .7 .1 .7-3.3 .7 .2 .7-2.3"/>
</g>
<path class="z" d="M2083.93 1428.00H2740.08"/>
<text class="t" transform="translate(2411.70 1238.00) scale(0.964 1)">ZAR</text>
<text class="x" transform="translate(2112.65 1634.10) scale(0.935 1)">2000</text>
<text class="x" transform="translate(2205.35 1634.10) scale(0.935 1)">2004</text>
<text class="x" transform="translate(2298.05 1634.10) scale(0.935 1)">2008</text>
<text class="x" transform="translate(2390.75 1634.10) scale(0.935 1)">2012</text>
<text class="x" transform="translate(2483.45 1634.10) scale(0.935 1)">2016</text>
<text class="x" transform="translate(2576.15 1634.10) scale(0.935 1)">2020</text>
<text class="x" transform="translate(2668.85 1634.10) scale(0.935 1)">2024</text>
</g>
<rect x="1212.4" y="1648.3" width="327.3" height="29.1" rx="3.3" ry="3.3" fill="#eeeef5" stroke="#d6d6d6" stroke-width="1.15"/>
<path d="M1218 1660.9H1252.9" stroke="#1f77b4" stroke-width="2.08" fill="none"/>
<text class="l" transform="translate(1266.10 1668.00) scale(0.949 1)">EQXR_NSA</text>
<path d="M1388 1660.9H1423.8" stroke="#ff7f0e" stroke-width="2.08" fill="none"/>
<text class="l" transform="translate(1436.30 1668.00) scale(0.947 1)">EQXR_VT10</text>
</svg></body></html>
